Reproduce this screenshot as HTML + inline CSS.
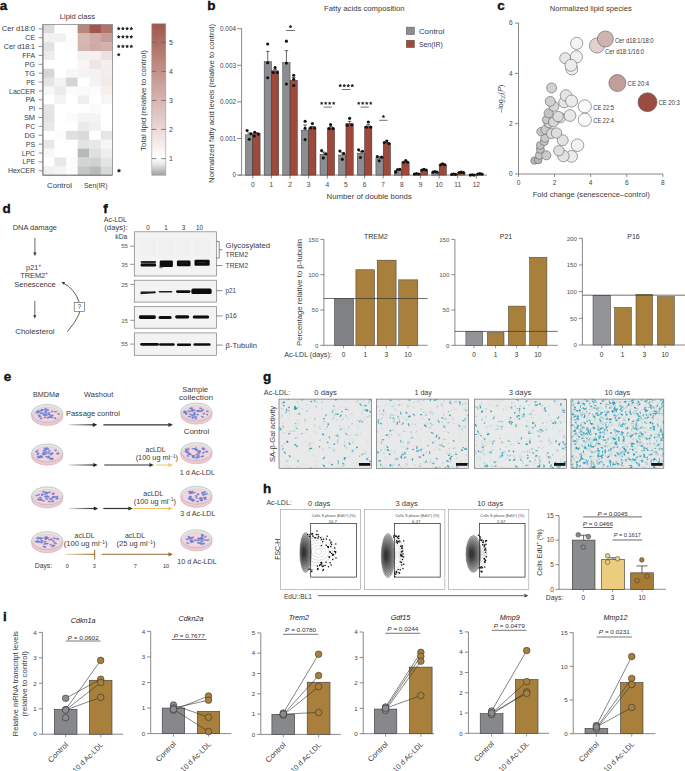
<!DOCTYPE html>
<html><head><meta charset="utf-8"><title>Figure</title>
<style>
html,body{margin:0;padding:0;background:#fff;}
svg{display:block;}
text{font-family:"Liberation Sans",sans-serif;}
</style></head>
<body>
<svg width="685" height="771" viewBox="0 0 685 771" font-family="Liberation Sans, sans-serif">
<rect width="685" height="771" fill="#fff"/>
<text x="-0.3" y="9.5" font-size="13.5" font-weight="bold" fill="#111" stroke="#111" stroke-width="0.35">a</text>
<text x="77.40" y="18.76" font-size="7.4" fill="#3a3a3a" text-anchor="middle" textLength="35.30" lengthAdjust="spacingAndGlyphs">Lipid class</text>
<rect x="42.90" y="24.40" width="11.88" height="9.17" fill="#dcdcdc" />
<rect x="54.48" y="24.40" width="11.88" height="9.17" fill="#ffffff" />
<rect x="66.07" y="24.40" width="11.88" height="9.17" fill="#fdfdfd" />
<rect x="77.65" y="24.40" width="11.88" height="9.17" fill="#ba857d" />
<rect x="89.23" y="24.40" width="11.88" height="9.17" fill="#a0564a" />
<rect x="100.82" y="24.40" width="11.88" height="9.17" fill="#b2736b" />
<rect x="42.90" y="33.27" width="11.88" height="9.17" fill="#f0f1f1" />
<rect x="54.48" y="33.27" width="11.88" height="9.17" fill="#f1f1f1" />
<rect x="66.07" y="33.27" width="11.88" height="9.17" fill="#fdfdfd" />
<rect x="77.65" y="33.27" width="11.88" height="9.17" fill="#d5b8b4" />
<rect x="89.23" y="33.27" width="11.88" height="9.17" fill="#cdaca7" />
<rect x="100.82" y="33.27" width="11.88" height="9.17" fill="#c59c97" />
<rect x="42.90" y="42.14" width="11.88" height="9.17" fill="#e2e2e2" />
<rect x="54.48" y="42.14" width="11.88" height="9.17" fill="#ffffff" />
<rect x="66.07" y="42.14" width="11.88" height="9.17" fill="#fdfdfd" />
<rect x="77.65" y="42.14" width="11.88" height="9.17" fill="#d3b4b0" />
<rect x="89.23" y="42.14" width="11.88" height="9.17" fill="#cfaba6" />
<rect x="100.82" y="42.14" width="11.88" height="9.17" fill="#d2b1ad" />
<rect x="42.90" y="51.01" width="11.88" height="9.17" fill="#ececec" />
<rect x="54.48" y="51.01" width="11.88" height="9.17" fill="#ffffff" />
<rect x="66.07" y="51.01" width="11.88" height="9.17" fill="#ffffff" />
<rect x="77.65" y="51.01" width="11.88" height="9.17" fill="#f2f0f0" />
<rect x="89.23" y="51.01" width="11.88" height="9.17" fill="#f4f0ef" />
<rect x="100.82" y="51.01" width="11.88" height="9.17" fill="#ece1df" />
<rect x="42.90" y="59.88" width="11.88" height="9.17" fill="#ffffff" />
<rect x="54.48" y="59.88" width="11.88" height="9.17" fill="#ffffff" />
<rect x="66.07" y="59.88" width="11.88" height="9.17" fill="#ffffff" />
<rect x="77.65" y="59.88" width="11.88" height="9.17" fill="#f8f6f6" />
<rect x="89.23" y="59.88" width="11.88" height="9.17" fill="#efe5e3" />
<rect x="100.82" y="59.88" width="11.88" height="9.17" fill="#f4efee" />
<rect x="42.90" y="68.75" width="11.88" height="9.17" fill="#d6d6d6" />
<rect x="54.48" y="68.75" width="11.88" height="9.17" fill="#ffffff" />
<rect x="66.07" y="68.75" width="11.88" height="9.17" fill="#f7f7f7" />
<rect x="77.65" y="68.75" width="11.88" height="9.17" fill="#f4f4f4" />
<rect x="89.23" y="68.75" width="11.88" height="9.17" fill="#f4f3f3" />
<rect x="100.82" y="68.75" width="11.88" height="9.17" fill="#f3eeed" />
<rect x="42.90" y="77.62" width="11.88" height="9.17" fill="#e4e4e4" />
<rect x="54.48" y="77.62" width="11.88" height="9.17" fill="#f3f3f3" />
<rect x="66.07" y="77.62" width="11.88" height="9.17" fill="#d4d6d5" />
<rect x="77.65" y="77.62" width="11.88" height="9.17" fill="#ffffff" />
<rect x="89.23" y="77.62" width="11.88" height="9.17" fill="#f5f3f3" />
<rect x="100.82" y="77.62" width="11.88" height="9.17" fill="#f2ebe9" />
<rect x="42.90" y="86.49" width="11.88" height="9.17" fill="#f7f8f8" />
<rect x="54.48" y="86.49" width="11.88" height="9.17" fill="#ebebeb" />
<rect x="66.07" y="86.49" width="11.88" height="9.17" fill="#fbfbfb" />
<rect x="77.65" y="86.49" width="11.88" height="9.17" fill="#fafafa" />
<rect x="89.23" y="86.49" width="11.88" height="9.17" fill="#fcfcfc" />
<rect x="100.82" y="86.49" width="11.88" height="9.17" fill="#f5efee" />
<rect x="42.90" y="95.36" width="11.88" height="9.17" fill="#ffffff" />
<rect x="54.48" y="95.36" width="11.88" height="9.17" fill="#f1f3f5" />
<rect x="66.07" y="95.36" width="11.88" height="9.17" fill="#ffffff" />
<rect x="77.65" y="95.36" width="11.88" height="9.17" fill="#efefed" />
<rect x="89.23" y="95.36" width="11.88" height="9.17" fill="#ffffff" />
<rect x="100.82" y="95.36" width="11.88" height="9.17" fill="#f6f6f6" />
<rect x="42.90" y="104.24" width="11.88" height="9.17" fill="#e4e4e4" />
<rect x="54.48" y="104.24" width="11.88" height="9.17" fill="#ffffff" />
<rect x="66.07" y="104.24" width="11.88" height="9.17" fill="#ffffff" />
<rect x="77.65" y="104.24" width="11.88" height="9.17" fill="#ffffff" />
<rect x="89.23" y="104.24" width="11.88" height="9.17" fill="#fafbfa" />
<rect x="100.82" y="104.24" width="11.88" height="9.17" fill="#ffffff" />
<rect x="42.90" y="113.11" width="11.88" height="9.17" fill="#e3e3e3" />
<rect x="54.48" y="113.11" width="11.88" height="9.17" fill="#ffffff" />
<rect x="66.07" y="113.11" width="11.88" height="9.17" fill="#fcfcfc" />
<rect x="77.65" y="113.11" width="11.88" height="9.17" fill="#f4f4f4" />
<rect x="89.23" y="113.11" width="11.88" height="9.17" fill="#f3f4f4" />
<rect x="100.82" y="113.11" width="11.88" height="9.17" fill="#ffffff" />
<rect x="42.90" y="121.98" width="11.88" height="9.17" fill="#e8e8e8" />
<rect x="54.48" y="121.98" width="11.88" height="9.17" fill="#ffffff" />
<rect x="66.07" y="121.98" width="11.88" height="9.17" fill="#ffffff" />
<rect x="77.65" y="121.98" width="11.88" height="9.17" fill="#eaeaea" />
<rect x="89.23" y="121.98" width="11.88" height="9.17" fill="#f0f0f0" />
<rect x="100.82" y="121.98" width="11.88" height="9.17" fill="#ffffff" />
<rect x="42.90" y="130.85" width="11.88" height="9.17" fill="#ffffff" />
<rect x="54.48" y="130.85" width="11.88" height="9.17" fill="#fcfcfc" />
<rect x="66.07" y="130.85" width="11.88" height="9.17" fill="#e0e0e0" />
<rect x="77.65" y="130.85" width="11.88" height="9.17" fill="#d9dbdb" />
<rect x="89.23" y="130.85" width="11.88" height="9.17" fill="#ffffff" />
<rect x="100.82" y="130.85" width="11.88" height="9.17" fill="#e6e6e6" />
<rect x="42.90" y="139.72" width="11.88" height="9.17" fill="#e8e8e8" />
<rect x="54.48" y="139.72" width="11.88" height="9.17" fill="#ffffff" />
<rect x="66.07" y="139.72" width="11.88" height="9.17" fill="#ffffff" />
<rect x="77.65" y="139.72" width="11.88" height="9.17" fill="#e2e4e3" />
<rect x="89.23" y="139.72" width="11.88" height="9.17" fill="#e8e8e8" />
<rect x="100.82" y="139.72" width="11.88" height="9.17" fill="#f5f7f6" />
<rect x="42.90" y="148.59" width="11.88" height="9.17" fill="#f7f9f8" />
<rect x="54.48" y="148.59" width="11.88" height="9.17" fill="#ffffff" />
<rect x="66.07" y="148.59" width="11.88" height="9.17" fill="#ffffff" />
<rect x="77.65" y="148.59" width="11.88" height="9.17" fill="#b4bab7" />
<rect x="89.23" y="148.59" width="11.88" height="9.17" fill="#e0e0e0" />
<rect x="100.82" y="148.59" width="11.88" height="9.17" fill="#efefef" />
<rect x="42.90" y="157.46" width="11.88" height="9.17" fill="#ffffff" />
<rect x="54.48" y="157.46" width="11.88" height="9.17" fill="#e8e8e8" />
<rect x="66.07" y="157.46" width="11.88" height="9.17" fill="#fcfcfc" />
<rect x="77.65" y="157.46" width="11.88" height="9.17" fill="#d3d5d3" />
<rect x="89.23" y="157.46" width="11.88" height="9.17" fill="#cdd3d1" />
<rect x="100.82" y="157.46" width="11.88" height="9.17" fill="#e3e5e4" />
<rect x="42.90" y="166.33" width="11.88" height="9.17" fill="#eff0f0" />
<rect x="54.48" y="166.33" width="11.88" height="9.17" fill="#f5f5f5" />
<rect x="66.07" y="166.33" width="11.88" height="9.17" fill="#fcfcfc" />
<rect x="77.65" y="166.33" width="11.88" height="9.17" fill="#c4c6c5" />
<rect x="89.23" y="166.33" width="11.88" height="9.17" fill="#b9bbbb" />
<rect x="100.82" y="166.33" width="11.88" height="9.17" fill="#d7d9d8" />
<rect x="42.90" y="24.40" width="69.50" height="150.80" fill="none" stroke="#8a8a8a" stroke-width="0.8" />
<line x1="42.90" y1="24.40" x2="42.90" y2="175.20" stroke="#777" stroke-width="0.9" />
<line x1="42.90" y1="175.20" x2="112.40" y2="175.20" stroke="#777" stroke-width="0.9" />
<line x1="38.60" y1="28.84" x2="42.90" y2="28.84" stroke="#777" stroke-width="0.8" />
<text x="35.10" y="31.43" font-size="7.2" fill="#3a3a3a" text-anchor="end" textLength="33.30" lengthAdjust="spacingAndGlyphs">Cer d18:0</text>
<line x1="38.60" y1="37.71" x2="42.90" y2="37.71" stroke="#777" stroke-width="0.8" />
<text x="35.10" y="40.30" font-size="7.2" fill="#3a3a3a" text-anchor="end" textLength="9.80" lengthAdjust="spacingAndGlyphs">CE</text>
<line x1="38.60" y1="46.58" x2="42.90" y2="46.58" stroke="#777" stroke-width="0.8" />
<text x="35.10" y="49.17" font-size="7.2" fill="#3a3a3a" text-anchor="end" textLength="31.30" lengthAdjust="spacingAndGlyphs">Cer d18:1</text>
<line x1="38.60" y1="55.45" x2="42.90" y2="55.45" stroke="#777" stroke-width="0.8" />
<text x="35.10" y="58.04" font-size="7.2" fill="#3a3a3a" text-anchor="end" textLength="12.90" lengthAdjust="spacingAndGlyphs">FFA</text>
<line x1="38.60" y1="64.32" x2="42.90" y2="64.32" stroke="#777" stroke-width="0.8" />
<text x="35.10" y="66.91" font-size="7.2" fill="#3a3a3a" text-anchor="end" textLength="10.30" lengthAdjust="spacingAndGlyphs">PG</text>
<line x1="38.60" y1="73.19" x2="42.90" y2="73.19" stroke="#777" stroke-width="0.8" />
<text x="35.10" y="75.78" font-size="7.2" fill="#3a3a3a" text-anchor="end" textLength="10.30" lengthAdjust="spacingAndGlyphs">TG</text>
<line x1="38.60" y1="82.06" x2="42.90" y2="82.06" stroke="#777" stroke-width="0.8" />
<text x="35.10" y="84.65" font-size="7.2" fill="#3a3a3a" text-anchor="end" textLength="8.80" lengthAdjust="spacingAndGlyphs">PE</text>
<line x1="38.60" y1="90.93" x2="42.90" y2="90.93" stroke="#777" stroke-width="0.8" />
<text x="35.10" y="93.52" font-size="7.2" fill="#3a3a3a" text-anchor="end" textLength="26.10" lengthAdjust="spacingAndGlyphs">LacCER</text>
<line x1="38.60" y1="99.80" x2="42.90" y2="99.80" stroke="#777" stroke-width="0.8" />
<text x="35.10" y="102.39" font-size="7.2" fill="#3a3a3a" text-anchor="end" textLength="9.50" lengthAdjust="spacingAndGlyphs">PA</text>
<line x1="38.60" y1="108.67" x2="42.90" y2="108.67" stroke="#777" stroke-width="0.8" />
<text x="35.10" y="111.26" font-size="7.2" fill="#3a3a3a" text-anchor="end" textLength="6.40" lengthAdjust="spacingAndGlyphs">PI</text>
<line x1="38.60" y1="117.54" x2="42.90" y2="117.54" stroke="#777" stroke-width="0.8" />
<text x="35.10" y="120.13" font-size="7.2" fill="#3a3a3a" text-anchor="end" textLength="11.20" lengthAdjust="spacingAndGlyphs">SM</text>
<line x1="38.60" y1="126.41" x2="42.90" y2="126.41" stroke="#777" stroke-width="0.8" />
<text x="35.10" y="129.00" font-size="7.2" fill="#3a3a3a" text-anchor="end" textLength="9.50" lengthAdjust="spacingAndGlyphs">PC</text>
<line x1="38.60" y1="135.28" x2="42.90" y2="135.28" stroke="#777" stroke-width="0.8" />
<text x="35.10" y="137.87" font-size="7.2" fill="#3a3a3a" text-anchor="end" textLength="10.60" lengthAdjust="spacingAndGlyphs">DG</text>
<line x1="38.60" y1="144.15" x2="42.90" y2="144.15" stroke="#777" stroke-width="0.8" />
<text x="35.10" y="146.74" font-size="7.2" fill="#3a3a3a" text-anchor="end" textLength="9.30" lengthAdjust="spacingAndGlyphs">PS</text>
<line x1="38.60" y1="153.02" x2="42.90" y2="153.02" stroke="#777" stroke-width="0.8" />
<text x="35.10" y="155.62" font-size="7.2" fill="#3a3a3a" text-anchor="end" textLength="13.40" lengthAdjust="spacingAndGlyphs">LPC</text>
<line x1="38.60" y1="161.89" x2="42.90" y2="161.89" stroke="#777" stroke-width="0.8" />
<text x="35.10" y="164.49" font-size="7.2" fill="#3a3a3a" text-anchor="end" textLength="12.50" lengthAdjust="spacingAndGlyphs">LPE</text>
<line x1="38.60" y1="170.76" x2="42.90" y2="170.76" stroke="#777" stroke-width="0.8" />
<text x="35.10" y="173.36" font-size="7.2" fill="#3a3a3a" text-anchor="end" textLength="27.20" lengthAdjust="spacingAndGlyphs">HexCER</text>
<text x="59.60" y="188.00" font-size="7.5" fill="#3a3a3a" text-anchor="middle" textLength="25.00" lengthAdjust="spacingAndGlyphs">Control</text>
<text x="95.80" y="188.00" font-size="7.5" fill="#3a3a3a" text-anchor="middle" textLength="23.50" lengthAdjust="spacingAndGlyphs">Sen(IR)</text>
<polygon points="118.70,26.60 119.35,27.71 120.60,27.98 119.75,28.94 119.88,30.22 118.70,29.70 117.52,30.22 117.65,28.94 116.80,27.98 118.05,27.71" fill="#262626"/>
<polygon points="122.90,26.60 123.55,27.71 124.80,27.98 123.95,28.94 124.08,30.22 122.90,29.70 121.72,30.22 121.85,28.94 121.00,27.98 122.25,27.71" fill="#262626"/>
<polygon points="127.10,26.60 127.75,27.71 129.00,27.98 128.15,28.94 128.28,30.22 127.10,29.70 125.92,30.22 126.05,28.94 125.20,27.98 126.45,27.71" fill="#262626"/>
<polygon points="131.30,26.60 131.95,27.71 133.20,27.98 132.35,28.94 132.48,30.22 131.30,29.70 130.12,30.22 130.25,28.94 129.40,27.98 130.65,27.71" fill="#262626"/>
<polygon points="118.70,34.80 119.35,35.91 120.60,36.18 119.75,37.14 119.88,38.42 118.70,37.90 117.52,38.42 117.65,37.14 116.80,36.18 118.05,35.91" fill="#262626"/>
<polygon points="122.90,34.80 123.55,35.91 124.80,36.18 123.95,37.14 124.08,38.42 122.90,37.90 121.72,38.42 121.85,37.14 121.00,36.18 122.25,35.91" fill="#262626"/>
<polygon points="127.10,34.80 127.75,35.91 129.00,36.18 128.15,37.14 128.28,38.42 127.10,37.90 125.92,38.42 126.05,37.14 125.20,36.18 126.45,35.91" fill="#262626"/>
<polygon points="131.30,34.80 131.95,35.91 133.20,36.18 132.35,37.14 132.48,38.42 131.30,37.90 130.12,38.42 130.25,37.14 129.40,36.18 130.65,35.91" fill="#262626"/>
<polygon points="118.70,44.40 119.35,45.51 120.60,45.78 119.75,46.74 119.88,48.02 118.70,47.50 117.52,48.02 117.65,46.74 116.80,45.78 118.05,45.51" fill="#262626"/>
<polygon points="122.90,44.40 123.55,45.51 124.80,45.78 123.95,46.74 124.08,48.02 122.90,47.50 121.72,48.02 121.85,46.74 121.00,45.78 122.25,45.51" fill="#262626"/>
<polygon points="127.10,44.40 127.75,45.51 129.00,45.78 128.15,46.74 128.28,48.02 127.10,47.50 125.92,48.02 126.05,46.74 125.20,45.78 126.45,45.51" fill="#262626"/>
<polygon points="131.30,44.40 131.95,45.51 133.20,45.78 132.35,46.74 132.48,48.02 131.30,47.50 130.12,48.02 130.25,46.74 129.40,45.78 130.65,45.51" fill="#262626"/>
<polygon points="118.70,52.70 119.35,53.81 120.60,54.08 119.75,55.04 119.88,56.32 118.70,55.80 117.52,56.32 117.65,55.04 116.80,54.08 118.05,53.81" fill="#262626"/>
<polygon points="119.00,168.40 119.74,169.68 121.19,169.99 120.20,171.09 120.35,172.56 119.00,171.96 117.65,172.56 117.80,171.09 116.81,169.99 118.26,169.68" fill="#262626"/>
<defs><linearGradient id="cbg" x1="0" y1="0" x2="0" y2="1">
<stop offset="0" stop-color="#9e574b"/>
<stop offset="0.12" stop-color="#ad6e63"/>
<stop offset="0.31" stop-color="#c2918a"/>
<stop offset="0.50" stop-color="#d6b4af"/>
<stop offset="0.69" stop-color="#ead7d5"/>
<stop offset="0.83" stop-color="#f9f4f4"/>
<stop offset="0.885" stop-color="#ffffff"/>
<stop offset="0.93" stop-color="#e4e6e4"/>
<stop offset="1" stop-color="#9ea19e"/>
</linearGradient></defs>
<rect x="151.80" y="23.80" width="14.00" height="151.40" fill="url(#cbg)" stroke="#999" stroke-width="0.6" />
<line x1="151.80" y1="42.40" x2="156.30" y2="42.40" stroke="#666" stroke-width="0.8" />
<line x1="161.30" y1="42.40" x2="165.80" y2="42.40" stroke="#666" stroke-width="0.8" />
<text x="169.00" y="44.92" font-size="7.0" fill="#444">5</text>
<line x1="151.80" y1="71.40" x2="156.30" y2="71.40" stroke="#666" stroke-width="0.8" />
<line x1="161.30" y1="71.40" x2="165.80" y2="71.40" stroke="#666" stroke-width="0.8" />
<text x="169.00" y="73.92" font-size="7.0" fill="#444">4</text>
<line x1="151.80" y1="100.40" x2="156.30" y2="100.40" stroke="#666" stroke-width="0.8" />
<line x1="161.30" y1="100.40" x2="165.80" y2="100.40" stroke="#666" stroke-width="0.8" />
<text x="169.00" y="102.92" font-size="7.0" fill="#444">3</text>
<line x1="151.80" y1="129.40" x2="156.30" y2="129.40" stroke="#666" stroke-width="0.8" />
<line x1="161.30" y1="129.40" x2="165.80" y2="129.40" stroke="#666" stroke-width="0.8" />
<text x="169.00" y="131.92" font-size="7.0" fill="#444">2</text>
<line x1="151.80" y1="158.60" x2="156.30" y2="158.60" stroke="#666" stroke-width="0.8" />
<line x1="161.30" y1="158.60" x2="165.80" y2="158.60" stroke="#666" stroke-width="0.8" />
<text x="169.00" y="161.12" font-size="7.0" fill="#444">1</text>
<text x="143.80" y="103.06" font-size="7.1" fill="#3a3a3a" text-anchor="middle" textLength="101.00" lengthAdjust="spacingAndGlyphs" transform="rotate(-90 143.80 100.50)">Total lipid (relative to control)</text>
<text x="207.3" y="9.8" font-size="13.5" font-weight="bold" fill="#111" stroke="#111" stroke-width="0.35">b</text>
<text x="364.30" y="10.82" font-size="7.0" fill="#3a3a3a" text-anchor="middle" textLength="80.50" lengthAdjust="spacingAndGlyphs">Fatty acids composition</text>
<line x1="241.60" y1="28.30" x2="241.60" y2="175.10" stroke="#6b6b6b" stroke-width="0.8" />
<line x1="238.50" y1="175.10" x2="487.00" y2="175.10" stroke="#6b6b6b" stroke-width="0.8" />
<line x1="237.10" y1="175.10" x2="241.60" y2="175.10" stroke="#6b6b6b" stroke-width="0.8" />
<text x="236.00" y="177.40" font-size="6.4" fill="#444" text-anchor="end">0</text>
<line x1="237.10" y1="138.50" x2="241.60" y2="138.50" stroke="#6b6b6b" stroke-width="0.8" />
<text x="236.00" y="140.80" font-size="6.4" fill="#444" text-anchor="end">0.001</text>
<line x1="237.10" y1="101.90" x2="241.60" y2="101.90" stroke="#6b6b6b" stroke-width="0.8" />
<text x="236.00" y="104.20" font-size="6.4" fill="#444" text-anchor="end">0.002</text>
<line x1="237.10" y1="65.30" x2="241.60" y2="65.30" stroke="#6b6b6b" stroke-width="0.8" />
<text x="236.00" y="67.60" font-size="6.4" fill="#444" text-anchor="end">0.003</text>
<line x1="237.10" y1="28.70" x2="241.60" y2="28.70" stroke="#6b6b6b" stroke-width="0.8" />
<text x="236.00" y="31.00" font-size="6.4" fill="#444" text-anchor="end">0.004</text>
<text x="211.80" y="105.92" font-size="7.0" fill="#3a3a3a" text-anchor="middle" textLength="159.00" lengthAdjust="spacingAndGlyphs" transform="rotate(-90 211.80 103.40)">Normalized fatty acid levels (relative to control)</text>
<text x="369.20" y="198.96" font-size="7.4" fill="#3a3a3a" text-anchor="middle" textLength="85.20" lengthAdjust="spacingAndGlyphs">Number of double bonds</text>
<line x1="252.80" y1="175.10" x2="252.80" y2="178.60" stroke="#6b6b6b" stroke-width="0.8" />
<text x="252.80" y="187.28" font-size="6.6" fill="#444" text-anchor="middle">0</text>
<line x1="249.15" y1="134.84" x2="249.15" y2="133.01" stroke="#222" stroke-width="0.7" />
<line x1="247.35" y1="133.01" x2="250.95" y2="133.01" stroke="#222" stroke-width="0.7" />
<rect x="245.50" y="134.84" width="7.30" height="40.26" fill="#8b8d90" stroke="#2a2a2a" stroke-width="0.45" />
<line x1="256.45" y1="133.74" x2="256.45" y2="132.64" stroke="#222" stroke-width="0.7" />
<line x1="254.65" y1="132.64" x2="258.25" y2="132.64" stroke="#222" stroke-width="0.7" />
<rect x="252.80" y="133.74" width="7.30" height="41.36" fill="#9d4a3d" stroke="#2a2a2a" stroke-width="0.45" />
<line x1="271.43" y1="175.10" x2="271.43" y2="178.60" stroke="#6b6b6b" stroke-width="0.8" />
<text x="271.43" y="187.28" font-size="6.6" fill="#444" text-anchor="middle">1</text>
<line x1="267.78" y1="61.64" x2="267.78" y2="51.39" stroke="#222" stroke-width="0.7" />
<line x1="265.98" y1="51.39" x2="269.58" y2="51.39" stroke="#222" stroke-width="0.7" />
<rect x="264.13" y="61.64" width="7.30" height="113.46" fill="#8b8d90" stroke="#2a2a2a" stroke-width="0.45" />
<line x1="275.08" y1="70.79" x2="275.08" y2="69.33" stroke="#222" stroke-width="0.7" />
<line x1="273.28" y1="69.33" x2="276.88" y2="69.33" stroke="#222" stroke-width="0.7" />
<rect x="271.43" y="70.79" width="7.30" height="104.31" fill="#9d4a3d" stroke="#2a2a2a" stroke-width="0.45" />
<line x1="290.06" y1="175.10" x2="290.06" y2="178.60" stroke="#6b6b6b" stroke-width="0.8" />
<text x="290.06" y="187.28" font-size="6.6" fill="#444" text-anchor="middle">2</text>
<line x1="286.41" y1="62.74" x2="286.41" y2="50.66" stroke="#222" stroke-width="0.7" />
<line x1="284.61" y1="50.66" x2="288.21" y2="50.66" stroke="#222" stroke-width="0.7" />
<rect x="282.76" y="62.74" width="7.30" height="112.36" fill="#8b8d90" stroke="#2a2a2a" stroke-width="0.45" />
<line x1="293.71" y1="80.31" x2="293.71" y2="77.38" stroke="#222" stroke-width="0.7" />
<line x1="291.91" y1="77.38" x2="295.51" y2="77.38" stroke="#222" stroke-width="0.7" />
<rect x="290.06" y="80.31" width="7.30" height="94.79" fill="#9d4a3d" stroke="#2a2a2a" stroke-width="0.45" />
<line x1="308.69" y1="175.10" x2="308.69" y2="178.60" stroke="#6b6b6b" stroke-width="0.8" />
<text x="308.69" y="187.28" font-size="6.6" fill="#444" text-anchor="middle">3</text>
<line x1="305.04" y1="130.08" x2="305.04" y2="124.96" stroke="#222" stroke-width="0.7" />
<line x1="303.24" y1="124.96" x2="306.84" y2="124.96" stroke="#222" stroke-width="0.7" />
<rect x="301.39" y="130.08" width="7.30" height="45.02" fill="#8b8d90" stroke="#2a2a2a" stroke-width="0.45" />
<line x1="312.34" y1="127.89" x2="312.34" y2="126.42" stroke="#222" stroke-width="0.7" />
<line x1="310.54" y1="126.42" x2="314.14" y2="126.42" stroke="#222" stroke-width="0.7" />
<rect x="308.69" y="127.89" width="7.30" height="47.21" fill="#9d4a3d" stroke="#2a2a2a" stroke-width="0.45" />
<line x1="327.32" y1="175.10" x2="327.32" y2="178.60" stroke="#6b6b6b" stroke-width="0.8" />
<text x="327.32" y="187.28" font-size="6.6" fill="#444" text-anchor="middle">4</text>
<line x1="323.67" y1="154.24" x2="323.67" y2="152.04" stroke="#222" stroke-width="0.7" />
<line x1="321.87" y1="152.04" x2="325.47" y2="152.04" stroke="#222" stroke-width="0.7" />
<rect x="320.02" y="154.24" width="7.30" height="20.86" fill="#8b8d90" stroke="#2a2a2a" stroke-width="0.45" />
<line x1="330.97" y1="127.89" x2="330.97" y2="126.42" stroke="#222" stroke-width="0.7" />
<line x1="329.17" y1="126.42" x2="332.77" y2="126.42" stroke="#222" stroke-width="0.7" />
<rect x="327.32" y="127.89" width="7.30" height="47.21" fill="#9d4a3d" stroke="#2a2a2a" stroke-width="0.45" />
<line x1="345.95" y1="175.10" x2="345.95" y2="178.60" stroke="#6b6b6b" stroke-width="0.8" />
<text x="345.95" y="187.28" font-size="6.6" fill="#444" text-anchor="middle">5</text>
<line x1="342.30" y1="154.97" x2="342.30" y2="152.77" stroke="#222" stroke-width="0.7" />
<line x1="340.50" y1="152.77" x2="344.10" y2="152.77" stroke="#222" stroke-width="0.7" />
<rect x="338.65" y="154.97" width="7.30" height="20.13" fill="#8b8d90" stroke="#2a2a2a" stroke-width="0.45" />
<line x1="349.60" y1="123.49" x2="349.60" y2="121.30" stroke="#222" stroke-width="0.7" />
<line x1="347.80" y1="121.30" x2="351.40" y2="121.30" stroke="#222" stroke-width="0.7" />
<rect x="345.95" y="123.49" width="7.30" height="51.61" fill="#9d4a3d" stroke="#2a2a2a" stroke-width="0.45" />
<line x1="364.58" y1="175.10" x2="364.58" y2="178.60" stroke="#6b6b6b" stroke-width="0.8" />
<text x="364.58" y="187.28" font-size="6.6" fill="#444" text-anchor="middle">6</text>
<line x1="360.93" y1="153.14" x2="360.93" y2="151.31" stroke="#222" stroke-width="0.7" />
<line x1="359.13" y1="151.31" x2="362.73" y2="151.31" stroke="#222" stroke-width="0.7" />
<rect x="357.28" y="153.14" width="7.30" height="21.96" fill="#8b8d90" stroke="#2a2a2a" stroke-width="0.45" />
<line x1="368.23" y1="126.42" x2="368.23" y2="124.59" stroke="#222" stroke-width="0.7" />
<line x1="366.43" y1="124.59" x2="370.03" y2="124.59" stroke="#222" stroke-width="0.7" />
<rect x="364.58" y="126.42" width="7.30" height="48.68" fill="#9d4a3d" stroke="#2a2a2a" stroke-width="0.45" />
<line x1="383.21" y1="175.10" x2="383.21" y2="178.60" stroke="#6b6b6b" stroke-width="0.8" />
<text x="383.21" y="187.28" font-size="6.6" fill="#444" text-anchor="middle">7</text>
<line x1="379.56" y1="157.90" x2="379.56" y2="156.80" stroke="#222" stroke-width="0.7" />
<line x1="377.76" y1="156.80" x2="381.36" y2="156.80" stroke="#222" stroke-width="0.7" />
<rect x="375.91" y="157.90" width="7.30" height="17.20" fill="#8b8d90" stroke="#2a2a2a" stroke-width="0.45" />
<line x1="386.86" y1="143.26" x2="386.86" y2="142.53" stroke="#222" stroke-width="0.7" />
<line x1="385.06" y1="142.53" x2="388.66" y2="142.53" stroke="#222" stroke-width="0.7" />
<rect x="383.21" y="143.26" width="7.30" height="31.84" fill="#9d4a3d" stroke="#2a2a2a" stroke-width="0.45" />
<line x1="401.84" y1="175.10" x2="401.84" y2="178.60" stroke="#6b6b6b" stroke-width="0.8" />
<text x="401.84" y="187.28" font-size="6.6" fill="#444" text-anchor="middle">8</text>
<line x1="398.19" y1="170.34" x2="398.19" y2="169.61" stroke="#222" stroke-width="0.7" />
<line x1="396.39" y1="169.61" x2="399.99" y2="169.61" stroke="#222" stroke-width="0.7" />
<rect x="394.54" y="170.34" width="7.30" height="4.76" fill="#8b8d90" stroke="#2a2a2a" stroke-width="0.45" />
<line x1="405.49" y1="162.66" x2="405.49" y2="161.92" stroke="#222" stroke-width="0.7" />
<line x1="403.69" y1="161.92" x2="407.29" y2="161.92" stroke="#222" stroke-width="0.7" />
<rect x="401.84" y="162.66" width="7.30" height="12.44" fill="#9d4a3d" stroke="#2a2a2a" stroke-width="0.45" />
<line x1="420.47" y1="175.10" x2="420.47" y2="178.60" stroke="#6b6b6b" stroke-width="0.8" />
<text x="420.47" y="187.28" font-size="6.6" fill="#444" text-anchor="middle">9</text>
<rect x="413.17" y="174.00" width="7.30" height="1.10" fill="#8b8d90" stroke="#2a2a2a" stroke-width="0.45" />
<rect x="420.47" y="169.98" width="7.30" height="5.12" fill="#9d4a3d" stroke="#2a2a2a" stroke-width="0.45" />
<line x1="439.10" y1="175.10" x2="439.10" y2="178.60" stroke="#6b6b6b" stroke-width="0.8" />
<text x="439.10" y="187.28" font-size="6.6" fill="#444" text-anchor="middle">10</text>
<rect x="431.80" y="172.17" width="7.30" height="2.93" fill="#8b8d90" stroke="#2a2a2a" stroke-width="0.45" />
<line x1="442.75" y1="164.85" x2="442.75" y2="164.12" stroke="#222" stroke-width="0.7" />
<line x1="440.95" y1="164.12" x2="444.55" y2="164.12" stroke="#222" stroke-width="0.7" />
<rect x="439.10" y="164.85" width="7.30" height="10.25" fill="#9d4a3d" stroke="#2a2a2a" stroke-width="0.45" />
<line x1="457.73" y1="175.10" x2="457.73" y2="178.60" stroke="#6b6b6b" stroke-width="0.8" />
<text x="457.73" y="187.28" font-size="6.6" fill="#444" text-anchor="middle">11</text>
<rect x="450.43" y="174.37" width="7.30" height="0.73" fill="#8b8d90" stroke="#2a2a2a" stroke-width="0.45" />
<rect x="457.73" y="172.54" width="7.30" height="2.56" fill="#9d4a3d" stroke="#2a2a2a" stroke-width="0.45" />
<line x1="476.36" y1="175.10" x2="476.36" y2="178.60" stroke="#6b6b6b" stroke-width="0.8" />
<text x="476.36" y="187.28" font-size="6.6" fill="#444" text-anchor="middle">12</text>
<rect x="469.06" y="174.73" width="7.30" height="0.37" fill="#8b8d90" stroke="#2a2a2a" stroke-width="0.45" />
<rect x="476.36" y="174.00" width="7.30" height="1.10" fill="#9d4a3d" stroke="#2a2a2a" stroke-width="0.45" />
<circle cx="247.10" cy="130.45" r="1.55" fill="#111" />
<circle cx="251.00" cy="133.74" r="1.55" fill="#111" />
<circle cx="249.20" cy="139.23" r="1.55" fill="#111" />
<circle cx="254.70" cy="132.28" r="1.55" fill="#111" />
<circle cx="254.40" cy="135.94" r="1.55" fill="#111" />
<circle cx="258.40" cy="134.11" r="1.55" fill="#111" />
<circle cx="267.70" cy="44.07" r="1.55" fill="#111" />
<circle cx="267.70" cy="62.74" r="1.55" fill="#111" />
<circle cx="267.70" cy="77.74" r="1.55" fill="#111" />
<circle cx="273.20" cy="72.62" r="1.55" fill="#111" />
<circle cx="277.30" cy="72.62" r="1.55" fill="#111" />
<circle cx="275.10" cy="67.50" r="1.55" fill="#111" />
<circle cx="286.40" cy="41.14" r="1.55" fill="#111" />
<circle cx="286.40" cy="63.10" r="1.55" fill="#111" />
<circle cx="286.40" cy="83.97" r="1.55" fill="#111" />
<circle cx="293.70" cy="75.18" r="1.55" fill="#111" />
<circle cx="293.70" cy="79.21" r="1.55" fill="#111" />
<circle cx="293.70" cy="85.43" r="1.55" fill="#111" />
<circle cx="305.10" cy="121.30" r="1.55" fill="#111" />
<circle cx="305.10" cy="128.25" r="1.55" fill="#111" />
<circle cx="305.10" cy="139.60" r="1.55" fill="#111" />
<circle cx="310.60" cy="127.89" r="1.55" fill="#111" />
<circle cx="312.40" cy="123.49" r="1.55" fill="#111" />
<circle cx="314.60" cy="127.89" r="1.55" fill="#111" />
<circle cx="321.60" cy="150.58" r="1.55" fill="#111" />
<circle cx="325.80" cy="153.87" r="1.55" fill="#111" />
<circle cx="323.30" cy="157.90" r="1.55" fill="#111" />
<circle cx="329.20" cy="128.62" r="1.55" fill="#111" />
<circle cx="330.60" cy="124.59" r="1.55" fill="#111" />
<circle cx="333.10" cy="128.62" r="1.55" fill="#111" />
<circle cx="339.90" cy="150.94" r="1.55" fill="#111" />
<circle cx="343.80" cy="153.51" r="1.55" fill="#111" />
<circle cx="342.30" cy="159.36" r="1.55" fill="#111" />
<circle cx="347.20" cy="125.32" r="1.55" fill="#111" />
<circle cx="349.60" cy="118.37" r="1.55" fill="#111" />
<circle cx="351.60" cy="124.96" r="1.55" fill="#111" />
<circle cx="358.60" cy="149.85" r="1.55" fill="#111" />
<circle cx="362.50" cy="151.31" r="1.55" fill="#111" />
<circle cx="360.50" cy="157.53" r="1.55" fill="#111" />
<circle cx="366.40" cy="127.15" r="1.55" fill="#111" />
<circle cx="368.30" cy="122.03" r="1.55" fill="#111" />
<circle cx="370.60" cy="127.15" r="1.55" fill="#111" />
<circle cx="377.30" cy="156.43" r="1.55" fill="#111" />
<circle cx="379.20" cy="160.83" r="1.55" fill="#111" />
<circle cx="381.70" cy="157.17" r="1.55" fill="#111" />
<circle cx="384.30" cy="142.53" r="1.55" fill="#111" />
<circle cx="386.70" cy="141.06" r="1.55" fill="#111" />
<circle cx="389.00" cy="143.62" r="1.55" fill="#111" />
<circle cx="395.70" cy="172.17" r="1.55" fill="#111" />
<circle cx="397.60" cy="169.61" r="1.55" fill="#111" />
<circle cx="399.90" cy="169.24" r="1.55" fill="#111" />
<circle cx="403.50" cy="162.29" r="1.55" fill="#111" />
<circle cx="405.80" cy="160.46" r="1.55" fill="#111" />
<circle cx="407.70" cy="162.29" r="1.55" fill="#111" />
<circle cx="414.50" cy="174.00" r="1.55" fill="#111" />
<circle cx="416.50" cy="173.64" r="1.55" fill="#111" />
<circle cx="418.60" cy="174.00" r="1.55" fill="#111" />
<circle cx="422.00" cy="169.98" r="1.55" fill="#111" />
<circle cx="424.00" cy="169.24" r="1.55" fill="#111" />
<circle cx="426.20" cy="169.98" r="1.55" fill="#111" />
<circle cx="433.00" cy="172.17" r="1.55" fill="#111" />
<circle cx="435.00" cy="171.44" r="1.55" fill="#111" />
<circle cx="437.00" cy="172.17" r="1.55" fill="#111" />
<circle cx="440.60" cy="164.85" r="1.55" fill="#111" />
<circle cx="442.60" cy="163.75" r="1.55" fill="#111" />
<circle cx="444.80" cy="164.85" r="1.55" fill="#111" />
<circle cx="451.80" cy="174.37" r="1.55" fill="#111" />
<circle cx="453.60" cy="174.00" r="1.55" fill="#111" />
<circle cx="455.60" cy="174.37" r="1.55" fill="#111" />
<circle cx="459.20" cy="172.54" r="1.55" fill="#111" />
<circle cx="461.20" cy="172.17" r="1.55" fill="#111" />
<circle cx="463.40" cy="172.54" r="1.55" fill="#111" />
<circle cx="470.30" cy="175.10" r="1.55" fill="#111" />
<circle cx="472.20" cy="174.73" r="1.55" fill="#111" />
<circle cx="474.20" cy="175.10" r="1.55" fill="#111" />
<circle cx="477.80" cy="174.00" r="1.55" fill="#111" />
<circle cx="479.80" cy="173.64" r="1.55" fill="#111" />
<circle cx="482.00" cy="174.00" r="1.55" fill="#111" />
<line x1="286.10" y1="30.50" x2="294.90" y2="30.50" stroke="#333" stroke-width="0.7" />
<polygon points="290.50,24.80 291.11,25.85 292.31,26.11 291.49,27.02 291.62,28.24 290.50,27.74 289.38,28.24 289.51,27.02 288.69,26.11 289.89,25.85" fill="#262626"/>
<line x1="323.60" y1="107.10" x2="331.80" y2="107.10" stroke="#333" stroke-width="0.7" />
<polygon points="321.70,101.40 322.31,102.45 323.51,102.71 322.69,103.62 322.82,104.84 321.70,104.34 320.58,104.84 320.71,103.62 319.89,102.71 321.09,102.45" fill="#262626"/>
<polygon points="325.70,101.40 326.31,102.45 327.51,102.71 326.69,103.62 326.82,104.84 325.70,104.34 324.58,104.84 324.71,103.62 323.89,102.71 325.09,102.45" fill="#262626"/>
<polygon points="329.70,101.40 330.31,102.45 331.51,102.71 330.69,103.62 330.82,104.84 329.70,104.34 328.58,104.84 328.71,103.62 327.89,102.71 329.09,102.45" fill="#262626"/>
<polygon points="333.70,101.40 334.31,102.45 335.51,102.71 334.69,103.62 334.82,104.84 333.70,104.34 332.58,104.84 332.71,103.62 331.89,102.71 333.09,102.45" fill="#262626"/>
<line x1="342.00" y1="89.50" x2="350.50" y2="89.50" stroke="#333" stroke-width="0.7" />
<polygon points="340.25,83.80 340.86,84.85 342.06,85.11 341.24,86.02 341.37,87.24 340.25,86.75 339.13,87.24 339.26,86.02 338.44,85.11 339.64,84.85" fill="#262626"/>
<polygon points="344.25,83.80 344.86,84.85 346.06,85.11 345.24,86.02 345.37,87.24 344.25,86.75 343.13,87.24 343.26,86.02 342.44,85.11 343.64,84.85" fill="#262626"/>
<polygon points="348.25,83.80 348.86,84.85 350.06,85.11 349.24,86.02 349.37,87.24 348.25,86.75 347.13,87.24 347.26,86.02 346.44,85.11 347.64,84.85" fill="#262626"/>
<polygon points="352.25,83.80 352.86,84.85 354.06,85.11 353.24,86.02 353.37,87.24 352.25,86.75 351.13,87.24 351.26,86.02 350.44,85.11 351.64,84.85" fill="#262626"/>
<line x1="360.60" y1="107.10" x2="368.90" y2="107.10" stroke="#333" stroke-width="0.7" />
<polygon points="358.75,101.40 359.36,102.45 360.56,102.71 359.74,103.62 359.87,104.84 358.75,104.34 357.63,104.84 357.76,103.62 356.94,102.71 358.14,102.45" fill="#262626"/>
<polygon points="362.75,101.40 363.36,102.45 364.56,102.71 363.74,103.62 363.87,104.84 362.75,104.34 361.63,104.84 361.76,103.62 360.94,102.71 362.14,102.45" fill="#262626"/>
<polygon points="366.75,101.40 367.36,102.45 368.56,102.71 367.74,103.62 367.87,104.84 366.75,104.34 365.63,104.84 365.76,103.62 364.94,102.71 366.14,102.45" fill="#262626"/>
<polygon points="370.75,101.40 371.36,102.45 372.56,102.71 371.74,103.62 371.87,104.84 370.75,104.34 369.63,104.84 369.76,103.62 368.94,102.71 370.14,102.45" fill="#262626"/>
<line x1="379.20" y1="120.30" x2="387.60" y2="120.30" stroke="#333" stroke-width="0.7" />
<polygon points="383.40,114.60 384.01,115.65 385.21,115.91 384.39,116.82 384.52,118.04 383.40,117.55 382.28,118.04 382.41,116.82 381.59,115.91 382.79,115.65" fill="#262626"/>
<rect x="406.30" y="27.10" width="8.20" height="7.60" fill="#8b8d90" stroke="#444" stroke-width="0.4" />
<rect x="406.30" y="40.20" width="8.20" height="7.40" fill="#9d4a3d" stroke="#444" stroke-width="0.4" />
<text x="418.90" y="33.66" font-size="7.4" fill="#3a3a3a" textLength="25.50" lengthAdjust="spacingAndGlyphs">Control</text>
<text x="418.90" y="46.66" font-size="7.4" fill="#3a3a3a" textLength="23.80" lengthAdjust="spacingAndGlyphs">Sen(IR)</text>
<text x="497.2" y="9.6" font-size="13.5" font-weight="bold" fill="#111" stroke="#111" stroke-width="0.35">c</text>
<text x="590.70" y="10.89" font-size="7.2" fill="#3a3a3a" text-anchor="middle" textLength="82.00" lengthAdjust="spacingAndGlyphs">Normalized lipid species</text>
<line x1="518.50" y1="22.70" x2="518.50" y2="174.00" stroke="#6b6b6b" stroke-width="0.8" />
<line x1="518.50" y1="174.00" x2="662.90" y2="174.00" stroke="#6b6b6b" stroke-width="0.8" />
<line x1="518.50" y1="174.00" x2="518.50" y2="177.00" stroke="#6b6b6b" stroke-width="0.8" />
<text x="518.50" y="185.08" font-size="6.6" fill="#444" text-anchor="middle">0</text>
<line x1="554.60" y1="174.00" x2="554.60" y2="177.00" stroke="#6b6b6b" stroke-width="0.8" />
<text x="554.60" y="185.08" font-size="6.6" fill="#444" text-anchor="middle">2</text>
<line x1="590.70" y1="174.00" x2="590.70" y2="177.00" stroke="#6b6b6b" stroke-width="0.8" />
<text x="590.70" y="185.08" font-size="6.6" fill="#444" text-anchor="middle">4</text>
<line x1="626.80" y1="174.00" x2="626.80" y2="177.00" stroke="#6b6b6b" stroke-width="0.8" />
<text x="626.80" y="185.08" font-size="6.6" fill="#444" text-anchor="middle">6</text>
<line x1="662.90" y1="174.00" x2="662.90" y2="177.00" stroke="#6b6b6b" stroke-width="0.8" />
<text x="662.90" y="185.08" font-size="6.6" fill="#444" text-anchor="middle">8</text>
<line x1="515.00" y1="174.00" x2="518.50" y2="174.00" stroke="#6b6b6b" stroke-width="0.8" />
<text x="510.80" y="176.38" font-size="6.6" fill="#444" text-anchor="middle">0</text>
<line x1="515.00" y1="123.70" x2="518.50" y2="123.70" stroke="#6b6b6b" stroke-width="0.8" />
<text x="510.80" y="126.08" font-size="6.6" fill="#444" text-anchor="middle">2</text>
<line x1="515.00" y1="73.40" x2="518.50" y2="73.40" stroke="#6b6b6b" stroke-width="0.8" />
<text x="510.80" y="75.78" font-size="6.6" fill="#444" text-anchor="middle">4</text>
<line x1="515.00" y1="23.10" x2="518.50" y2="23.10" stroke="#6b6b6b" stroke-width="0.8" />
<text x="510.80" y="25.48" font-size="6.6" fill="#444" text-anchor="middle">6</text>
<text x="591.20" y="196.74" font-size="7.6" fill="#3a3a3a" text-anchor="middle" textLength="117.00" lengthAdjust="spacingAndGlyphs">Fold change (senescence–control)</text>
<text x="0" y="2.5" font-size="7.2" fill="#3a3a3a" text-anchor="middle" transform="translate(500.9 98.7) rotate(-90)">–log<tspan font-size="4.6" dy="1.6">10</tspan><tspan dy="-1.6">(</tspan><tspan font-style="italic">P</tspan>)</text>
<circle cx="534.50" cy="160.60" r="3.70" fill="#b8b9bb" stroke="#555" stroke-width="0.55" />
<circle cx="538.10" cy="159.90" r="3.90" fill="#b5b6b8" stroke="#555" stroke-width="0.55" />
<circle cx="539.40" cy="155.30" r="4.00" fill="#c6c7c9" stroke="#555" stroke-width="0.55" />
<circle cx="546.30" cy="155.30" r="4.60" fill="#c9cacc" stroke="#555" stroke-width="0.55" />
<circle cx="540.40" cy="149.40" r="4.00" fill="#c0c1c3" stroke="#555" stroke-width="0.55" />
<circle cx="540.40" cy="145.40" r="4.00" fill="#bfc0c2" stroke="#555" stroke-width="0.55" />
<circle cx="544.30" cy="141.50" r="4.00" fill="#c5c6c8" stroke="#555" stroke-width="0.55" />
<circle cx="571.60" cy="156.40" r="5.90" fill="#ebebeb" stroke="#555" stroke-width="0.55" />
<circle cx="563.40" cy="156.00" r="5.80" fill="#e2e2e3" stroke="#555" stroke-width="0.55" />
<circle cx="558.80" cy="150.70" r="5.20" fill="#dedfe0" stroke="#555" stroke-width="0.55" />
<circle cx="577.50" cy="145.20" r="6.30" fill="#f2f2f2" stroke="#555" stroke-width="0.55" />
<circle cx="562.70" cy="140.20" r="5.50" fill="#e2e3e4" stroke="#555" stroke-width="0.55" />
<circle cx="545.00" cy="138.00" r="4.20" fill="#c9cacb" stroke="#555" stroke-width="0.55" />
<circle cx="541.00" cy="131.60" r="4.20" fill="#c4c5c7" stroke="#555" stroke-width="0.55" />
<circle cx="545.60" cy="129.70" r="4.60" fill="#c8c9ca" stroke="#555" stroke-width="0.55" />
<circle cx="551.50" cy="133.60" r="5.00" fill="#dadada" stroke="#555" stroke-width="0.55" />
<circle cx="556.50" cy="133.00" r="5.20" fill="#dddedf" stroke="#555" stroke-width="0.55" />
<circle cx="548.90" cy="123.10" r="4.80" fill="#cfd0d1" stroke="#555" stroke-width="0.55" />
<circle cx="546.30" cy="119.80" r="4.00" fill="#c9cacb" stroke="#555" stroke-width="0.55" />
<circle cx="553.50" cy="122.00" r="5.00" fill="#d4d5d6" stroke="#555" stroke-width="0.55" />
<circle cx="560.50" cy="117.80" r="5.00" fill="#dddddd" stroke="#555" stroke-width="0.55" />
<circle cx="558.10" cy="116.50" r="5.20" fill="#dcdcdc" stroke="#555" stroke-width="0.55" />
<circle cx="570.00" cy="115.50" r="5.90" fill="#e7e8e9" stroke="#555" stroke-width="0.55" />
<circle cx="548.60" cy="113.30" r="4.60" fill="#c3c4c6" stroke="#555" stroke-width="0.55" />
<circle cx="553.90" cy="106.30" r="5.00" fill="#d5d6d8" stroke="#555" stroke-width="0.55" />
<circle cx="550.20" cy="101.40" r="5.00" fill="#cfcfd1" stroke="#555" stroke-width="0.55" />
<circle cx="564.30" cy="102.30" r="5.50" fill="#e6e6e6" stroke="#555" stroke-width="0.55" />
<circle cx="566.00" cy="95.50" r="5.80" fill="#e4e4e5" stroke="#555" stroke-width="0.55" />
<circle cx="571.60" cy="101.00" r="6.00" fill="#ececec" stroke="#555" stroke-width="0.55" />
<circle cx="584.80" cy="106.40" r="6.60" fill="#fafafa" stroke="#555" stroke-width="0.55" />
<circle cx="584.80" cy="119.80" r="6.60" fill="#fbfbfb" stroke="#555" stroke-width="0.55" />
<circle cx="551.60" cy="87.90" r="5.00" fill="#d0d1d3" stroke="#555" stroke-width="0.55" />
<circle cx="571.80" cy="68.90" r="6.00" fill="#f0f0f0" stroke="#555" stroke-width="0.55" />
<circle cx="565.20" cy="58.20" r="5.50" fill="#e6e7e8" stroke="#555" stroke-width="0.55" />
<circle cx="576.40" cy="56.80" r="6.10" fill="#efefef" stroke="#555" stroke-width="0.55" />
<circle cx="571.00" cy="65.30" r="6.00" fill="#ececec" stroke="#555" stroke-width="0.55" />
<circle cx="576.70" cy="43.40" r="6.10" fill="#f4f4f4" stroke="#555" stroke-width="0.55" />
<circle cx="597.00" cy="45.50" r="7.60" fill="#e2d2cf" stroke="#555" stroke-width="0.55" />
<circle cx="605.40" cy="39.00" r="8.00" fill="#cdb4b0" stroke="#555" stroke-width="0.55" />
<circle cx="617.40" cy="83.10" r="8.50" fill="#c39d98" stroke="#555" stroke-width="0.55" />
<circle cx="647.50" cy="102.20" r="9.50" fill="#9b4c40" stroke="#555" stroke-width="0.55" />
<text x="614.90" y="42.85" font-size="6.8" fill="#3a3a3a" textLength="38.70" lengthAdjust="spacingAndGlyphs">Cer d18:1/18:0</text>
<text x="605.00" y="53.85" font-size="6.8" fill="#3a3a3a" textLength="39.10" lengthAdjust="spacingAndGlyphs">Cer d18:1/16:0</text>
<text x="627.60" y="86.45" font-size="6.8" fill="#3a3a3a" textLength="21.60" lengthAdjust="spacingAndGlyphs">CE 20:4</text>
<text x="658.40" y="105.35" font-size="6.8" fill="#3a3a3a" textLength="21.50" lengthAdjust="spacingAndGlyphs">CE 20:3</text>
<text x="593.30" y="110.05" font-size="6.8" fill="#3a3a3a" textLength="20.60" lengthAdjust="spacingAndGlyphs">CE 22:5</text>
<text x="593.30" y="123.15" font-size="6.8" fill="#3a3a3a" textLength="20.60" lengthAdjust="spacingAndGlyphs">CE 22:4</text>
<text x="2.5" y="212.6" font-size="13.5" font-weight="bold" fill="#111" stroke="#111" stroke-width="0.35">d</text>
<text x="34.85" y="229.76" font-size="7.4" fill="#3a3a3a" text-anchor="middle" textLength="44.30" lengthAdjust="spacingAndGlyphs">DNA damage</text>
<line x1="34.90" y1="238.00" x2="34.90" y2="253.00" stroke="#444" stroke-width="0.8" />
<path d="M34.90,256.00 L33.27,252.60 L36.53,252.60 Z" fill="#333"/>
<text x="33.6" y="269.8" font-size="7.4" fill="#3a3a3a" text-anchor="middle">p21<tspan font-size="4.5" dy="-3">+</tspan></text>
<text x="34.0" y="278.4" font-size="7.4" fill="#3a3a3a" text-anchor="middle">TREM2<tspan font-size="4.5" dy="-3">+</tspan></text>
<text x="35.00" y="287.30" font-size="7.5" fill="#3a3a3a" text-anchor="middle" textLength="41.40" lengthAdjust="spacingAndGlyphs">Senescence</text>
<line x1="34.80" y1="300.90" x2="34.80" y2="315.50" stroke="#444" stroke-width="0.8" />
<path d="M34.80,318.60 L33.17,315.20 L36.43,315.20 Z" fill="#333"/>
<text x="34.95" y="333.66" font-size="7.4" fill="#3a3a3a" text-anchor="middle" textLength="39.30" lengthAdjust="spacingAndGlyphs">Cholesterol</text>
<path d="M67.4,331.7 Q84,312 79.8,302.5" fill="none" stroke="#333" stroke-width="0.8" />
<path d="M79.2,302.5 Q75,289 63.5,283.2" fill="none" stroke="#333" stroke-width="0.8" />
<path d="M61.50,282.00 L65.05,281.96 L63.75,284.74 Z" fill="#333"/>
<rect x="74.20" y="302.50" width="10.40" height="9.10" fill="#fff" stroke="#555" stroke-width="0.6" />
<text x="79.40" y="309.44" font-size="6.5" fill="#333" text-anchor="middle">?</text>
<text x="103.2" y="212.6" font-size="13.5" font-weight="bold" fill="#111" stroke="#111" stroke-width="0.35">f</text>
<text x="103.80" y="221.95" font-size="6.8" fill="#3a3a3a" textLength="23.20" lengthAdjust="spacingAndGlyphs">Ac-LDL</text>
<text x="104.30" y="230.25" font-size="6.8" fill="#3a3a3a" textLength="23.50" lengthAdjust="spacingAndGlyphs">(days):</text>
<text x="127.40" y="238.95" font-size="6.8" fill="#3a3a3a" text-anchor="end">kDa</text>
<text x="148.10" y="229.57" font-size="6.3" fill="#333" text-anchor="middle">0</text>
<text x="166.00" y="229.57" font-size="6.3" fill="#333" text-anchor="middle">1</text>
<text x="183.60" y="229.57" font-size="6.3" fill="#333" text-anchor="middle">3</text>
<text x="199.60" y="229.57" font-size="6.3" fill="#333" text-anchor="middle">10</text>
<defs><filter id="bl" x="-20%" y="-100%" width="140%" height="300%"><feGaussianBlur stdDeviation="0.45"/></filter></defs>
<rect x="134.30" y="231.80" width="82.10" height="44.20" fill="#f3f3f3" stroke="#7d7d7d" stroke-width="0.7" />
<rect x="134.30" y="280.20" width="82.10" height="21.90" fill="#f3f3f3" stroke="#7d7d7d" stroke-width="0.7" />
<rect x="134.30" y="306.40" width="82.10" height="21.80" fill="#f3f3f3" stroke="#7d7d7d" stroke-width="0.7" />
<rect x="134.30" y="332.90" width="82.10" height="22.40" fill="#f3f3f3" stroke="#7d7d7d" stroke-width="0.7" />
<rect x="140.0" y="238" width="16.0" height="18" fill="#e9e9e9" opacity="0.25"/>
<rect x="158.5" y="238" width="14.5" height="18" fill="#e9e9e9" opacity="0.25"/>
<rect x="176.0" y="238" width="15.0" height="18" fill="#e9e9e9" opacity="0.25"/>
<rect x="194.0" y="238" width="15.5" height="18" fill="#e9e9e9" opacity="0.25"/>
<rect x="140.60" y="261.00" width="15.50" height="2.00" rx="1.2" fill="#2a2a2a" opacity="1.0" filter="url(#bl)"/>
<rect x="140.60" y="263.00" width="15.50" height="1.00" rx="1.2" fill="#777" opacity="1.0" filter="url(#bl)"/>
<rect x="140.60" y="263.80" width="15.50" height="2.70" rx="1.2" fill="#0d0d0d" opacity="1.0" filter="url(#bl)"/>
<rect x="159.70" y="260.50" width="13.20" height="6.50" rx="1.2" fill="#0a0a0a" opacity="1.0" filter="url(#bl)"/>
<rect x="159.00" y="266.00" width="4.00" height="2.20" rx="1.2" fill="#333" opacity="0.6" filter="url(#bl)"/>
<rect x="176.90" y="260.50" width="13.60" height="5.70" rx="1.2" fill="#0d0d0d" opacity="1.0" filter="url(#bl)"/>
<rect x="179.00" y="262.70" width="9.00" height="0.60" rx="1.2" fill="#555" opacity="0.6" filter="url(#bl)"/>
<rect x="194.50" y="259.80" width="15.20" height="6.00" rx="1.2" fill="#0d0d0d" opacity="1.0" filter="url(#bl)"/>
<rect x="197.00" y="261.90" width="9.00" height="0.60" rx="1.2" fill="#666" opacity="0.6" filter="url(#bl)"/>
<path d="M140.5,293.2 L155.5,291.4 L155.5,293.0 L140.5,294.2 Z" fill="#222" filter="url(#bl)"/>
<rect x="140.50" y="291.55" width="15.00" height="1.70" rx="0.85" fill="#1a1a1a" opacity="1.0" filter="url(#bl)"/>
<rect x="158.60" y="291.00" width="13.80" height="1.60" rx="0.80" fill="#222" opacity="1.0" filter="url(#bl)"/>
<rect x="176.00" y="290.15" width="14.50" height="2.90" rx="1.45" fill="#0d0d0d" opacity="1.0" filter="url(#bl)"/>
<rect x="191.40" y="288.60" width="20.20" height="5.40" rx="1.60" fill="#0a0a0a" opacity="1.0" filter="url(#bl)"/>
<rect x="138.90" y="315.30" width="17.00" height="3.60" rx="1.60" fill="#0d0d0d" opacity="1.0" filter="url(#bl)"/>
<rect x="158.50" y="316.10" width="13.20" height="3.00" rx="1.50" fill="#0d0d0d" opacity="1.0" filter="url(#bl)"/>
<rect x="175.10" y="315.20" width="14.20" height="3.20" rx="1.60" fill="#0d0d0d" opacity="1.0" filter="url(#bl)"/>
<rect x="192.70" y="315.50" width="16.50" height="3.00" rx="1.50" fill="#0d0d0d" opacity="1.0" filter="url(#bl)"/>
<rect x="140.20" y="342.95" width="18.70" height="2.70" rx="1.35" fill="#0d0d0d" opacity="1.0" filter="url(#bl)"/>
<rect x="159.00" y="343.25" width="15.70" height="2.50" rx="1.25" fill="#0d0d0d" opacity="1.0" filter="url(#bl)"/>
<rect x="176.90" y="343.50" width="14.20" height="2.40" rx="1.20" fill="#0d0d0d" opacity="1.0" filter="url(#bl)"/>
<rect x="193.50" y="343.30" width="17.10" height="2.40" rx="1.20" fill="#0d0d0d" opacity="1.0" filter="url(#bl)"/>
<line x1="130.20" y1="246.20" x2="134.30" y2="246.20" stroke="#666" stroke-width="0.7" />
<text x="128.00" y="248.40" font-size="6.1" fill="#555" text-anchor="end">55</text>
<line x1="130.20" y1="264.30" x2="134.30" y2="264.30" stroke="#666" stroke-width="0.7" />
<text x="128.00" y="266.50" font-size="6.1" fill="#555" text-anchor="end">35</text>
<line x1="130.20" y1="284.40" x2="134.30" y2="284.40" stroke="#666" stroke-width="0.7" />
<text x="128.00" y="286.60" font-size="6.1" fill="#555" text-anchor="end">25</text>
<line x1="130.20" y1="320.30" x2="134.30" y2="320.30" stroke="#666" stroke-width="0.7" />
<text x="128.00" y="322.50" font-size="6.1" fill="#555" text-anchor="end">15</text>
<line x1="130.20" y1="344.10" x2="134.30" y2="344.10" stroke="#666" stroke-width="0.7" />
<text x="128.00" y="346.30" font-size="6.1" fill="#555" text-anchor="end">55</text>
<line x1="216.50" y1="241.40" x2="219.20" y2="241.40" stroke="#555" stroke-width="0.7" />
<line x1="219.20" y1="241.40" x2="219.20" y2="258.10" stroke="#555" stroke-width="0.7" />
<line x1="216.50" y1="258.10" x2="219.20" y2="258.10" stroke="#555" stroke-width="0.7" />
<line x1="219.20" y1="249.70" x2="222.40" y2="249.70" stroke="#555" stroke-width="0.7" />
<text x="225.60" y="248.19" font-size="7.2" fill="#3a3a3a" textLength="44.60" lengthAdjust="spacingAndGlyphs">Glycosylated</text>
<text x="225.60" y="256.99" font-size="7.2" fill="#3a3a3a" textLength="22.50" lengthAdjust="spacingAndGlyphs">TREM2</text>
<line x1="216.50" y1="265.60" x2="222.50" y2="265.60" stroke="#555" stroke-width="0.7" />
<text x="225.60" y="268.19" font-size="7.2" fill="#3a3a3a" textLength="22.50" lengthAdjust="spacingAndGlyphs">TREM2</text>
<line x1="216.50" y1="290.70" x2="222.50" y2="290.70" stroke="#555" stroke-width="0.7" />
<text x="225.60" y="293.29" font-size="7.2" fill="#3a3a3a" textLength="10.40" lengthAdjust="spacingAndGlyphs">p21</text>
<line x1="216.50" y1="315.90" x2="222.50" y2="315.90" stroke="#555" stroke-width="0.7" />
<text x="225.60" y="318.49" font-size="7.2" fill="#3a3a3a" textLength="11.20" lengthAdjust="spacingAndGlyphs">p16</text>
<line x1="216.50" y1="345.10" x2="222.50" y2="345.10" stroke="#555" stroke-width="0.7" />
<text x="225.60" y="347.69" font-size="7.2" fill="#3a3a3a" textLength="31.40" lengthAdjust="spacingAndGlyphs">β-Tubulin</text>
<text x="299.90" y="294.99" font-size="7.2" fill="#3a3a3a" text-anchor="middle" textLength="107.00" lengthAdjust="spacingAndGlyphs" transform="rotate(-90 299.90 292.40)">Percentage relative to β-tubulin</text>
<text x="284.20" y="357.28" font-size="6.9" fill="#3a3a3a" textLength="47.60" lengthAdjust="spacingAndGlyphs">Ac-LDL (days):</text>
<line x1="323.90" y1="239.40" x2="323.90" y2="345.30" stroke="#6b6b6b" stroke-width="0.8" />
<line x1="323.90" y1="345.30" x2="427.60" y2="345.30" stroke="#6b6b6b" stroke-width="0.8" />
<line x1="320.30" y1="345.30" x2="323.90" y2="345.30" stroke="#6b6b6b" stroke-width="0.8" />
<text x="318.50" y="347.53" font-size="6.2" fill="#555" text-anchor="end">0</text>
<line x1="320.30" y1="310.00" x2="323.90" y2="310.00" stroke="#6b6b6b" stroke-width="0.8" />
<text x="318.50" y="312.23" font-size="6.2" fill="#555" text-anchor="end">50</text>
<line x1="320.30" y1="274.70" x2="323.90" y2="274.70" stroke="#6b6b6b" stroke-width="0.8" />
<text x="318.50" y="276.93" font-size="6.2" fill="#555" text-anchor="end">100</text>
<line x1="320.30" y1="239.40" x2="323.90" y2="239.40" stroke="#6b6b6b" stroke-width="0.8" />
<text x="318.50" y="241.63" font-size="6.2" fill="#555" text-anchor="end">150</text>
<rect x="334.40" y="298.77" width="19.20" height="46.53" fill="#808184" stroke="#3a3a3a" stroke-width="0.5" />
<rect x="355.90" y="269.76" width="18.70" height="75.54" fill="#a8803c" stroke="#3a3a3a" stroke-width="0.5" />
<rect x="377.20" y="260.16" width="18.90" height="85.14" fill="#a8803c" stroke="#3a3a3a" stroke-width="0.5" />
<rect x="398.70" y="279.85" width="19.10" height="65.45" fill="#a8803c" stroke="#3a3a3a" stroke-width="0.5" />
<line x1="323.90" y1="298.50" x2="427.60" y2="298.50" stroke="#333" stroke-width="0.7" />
<text x="375.80" y="239.32" font-size="7.0" fill="#333" text-anchor="middle">TREM2</text>
<line x1="343.50" y1="345.30" x2="343.50" y2="348.30" stroke="#6b6b6b" stroke-width="0.7" />
<text x="343.50" y="357.18" font-size="6.6" fill="#333" text-anchor="middle">0</text>
<line x1="365.30" y1="345.30" x2="365.30" y2="348.30" stroke="#6b6b6b" stroke-width="0.7" />
<text x="365.30" y="357.18" font-size="6.6" fill="#333" text-anchor="middle">1</text>
<line x1="386.30" y1="345.30" x2="386.30" y2="348.30" stroke="#6b6b6b" stroke-width="0.7" />
<text x="386.30" y="357.18" font-size="6.6" fill="#333" text-anchor="middle">3</text>
<line x1="408.00" y1="345.30" x2="408.00" y2="348.30" stroke="#6b6b6b" stroke-width="0.7" />
<text x="408.00" y="357.18" font-size="6.6" fill="#333" text-anchor="middle">10</text>
<line x1="454.90" y1="239.40" x2="454.90" y2="345.30" stroke="#6b6b6b" stroke-width="0.8" />
<line x1="454.90" y1="345.30" x2="557.70" y2="345.30" stroke="#6b6b6b" stroke-width="0.8" />
<line x1="451.30" y1="345.30" x2="454.90" y2="345.30" stroke="#6b6b6b" stroke-width="0.8" />
<text x="449.50" y="347.53" font-size="6.2" fill="#555" text-anchor="end">0</text>
<line x1="451.30" y1="310.00" x2="454.90" y2="310.00" stroke="#6b6b6b" stroke-width="0.8" />
<text x="449.50" y="312.23" font-size="6.2" fill="#555" text-anchor="end">50</text>
<line x1="451.30" y1="274.70" x2="454.90" y2="274.70" stroke="#6b6b6b" stroke-width="0.8" />
<text x="449.50" y="276.93" font-size="6.2" fill="#555" text-anchor="end">100</text>
<line x1="451.30" y1="239.40" x2="454.90" y2="239.40" stroke="#6b6b6b" stroke-width="0.8" />
<text x="449.50" y="241.63" font-size="6.2" fill="#555" text-anchor="end">150</text>
<rect x="465.90" y="331.74" width="16.80" height="13.56" fill="#939497" stroke="#3a3a3a" stroke-width="0.5" />
<rect x="487.40" y="332.45" width="16.60" height="12.85" fill="#a8803c" stroke="#3a3a3a" stroke-width="0.5" />
<rect x="508.40" y="306.12" width="17.00" height="39.18" fill="#a8803c" stroke="#3a3a3a" stroke-width="0.5" />
<rect x="529.60" y="257.33" width="17.30" height="87.97" fill="#a8803c" stroke="#3a3a3a" stroke-width="0.5" />
<line x1="454.90" y1="331.40" x2="557.70" y2="331.40" stroke="#333" stroke-width="0.7" />
<text x="506.00" y="239.32" font-size="7.0" fill="#333" text-anchor="middle">P21</text>
<line x1="474.00" y1="345.30" x2="474.00" y2="348.30" stroke="#6b6b6b" stroke-width="0.7" />
<text x="474.00" y="357.18" font-size="6.6" fill="#333" text-anchor="middle">0</text>
<line x1="495.50" y1="345.30" x2="495.50" y2="348.30" stroke="#6b6b6b" stroke-width="0.7" />
<text x="495.50" y="357.18" font-size="6.6" fill="#333" text-anchor="middle">1</text>
<line x1="516.60" y1="345.30" x2="516.60" y2="348.30" stroke="#6b6b6b" stroke-width="0.7" />
<text x="516.60" y="357.18" font-size="6.6" fill="#333" text-anchor="middle">3</text>
<line x1="537.80" y1="345.30" x2="537.80" y2="348.30" stroke="#6b6b6b" stroke-width="0.7" />
<text x="537.80" y="357.18" font-size="6.6" fill="#333" text-anchor="middle">10</text>
<line x1="582.40" y1="238.30" x2="582.40" y2="345.00" stroke="#6b6b6b" stroke-width="0.8" />
<line x1="582.40" y1="345.00" x2="685.00" y2="345.00" stroke="#6b6b6b" stroke-width="0.8" />
<line x1="578.80" y1="345.00" x2="582.40" y2="345.00" stroke="#6b6b6b" stroke-width="0.8" />
<text x="577.00" y="347.23" font-size="6.2" fill="#555" text-anchor="end">0</text>
<line x1="578.80" y1="318.32" x2="582.40" y2="318.32" stroke="#6b6b6b" stroke-width="0.8" />
<text x="577.00" y="320.56" font-size="6.2" fill="#555" text-anchor="end">50</text>
<line x1="578.80" y1="291.65" x2="582.40" y2="291.65" stroke="#6b6b6b" stroke-width="0.8" />
<text x="577.00" y="293.88" font-size="6.2" fill="#555" text-anchor="end">100</text>
<line x1="578.80" y1="264.98" x2="582.40" y2="264.98" stroke="#6b6b6b" stroke-width="0.8" />
<text x="577.00" y="267.21" font-size="6.2" fill="#555" text-anchor="end">150</text>
<line x1="578.80" y1="238.30" x2="582.40" y2="238.30" stroke="#6b6b6b" stroke-width="0.8" />
<text x="577.00" y="240.53" font-size="6.2" fill="#555" text-anchor="end">200</text>
<rect x="593.00" y="295.38" width="17.50" height="49.62" fill="#939497" stroke="#3a3a3a" stroke-width="0.5" />
<rect x="614.60" y="307.44" width="16.80" height="37.56" fill="#a8803c" stroke="#3a3a3a" stroke-width="0.5" />
<rect x="636.00" y="294.32" width="16.60" height="50.68" fill="#a8803c" stroke="#3a3a3a" stroke-width="0.5" />
<rect x="657.40" y="296.61" width="17.00" height="48.39" fill="#a8803c" stroke="#3a3a3a" stroke-width="0.5" />
<line x1="582.40" y1="295.20" x2="685.00" y2="295.20" stroke="#333" stroke-width="0.7" />
<text x="633.50" y="239.32" font-size="7.0" fill="#333" text-anchor="middle">P16</text>
<line x1="601.70" y1="345.00" x2="601.70" y2="348.00" stroke="#6b6b6b" stroke-width="0.7" />
<text x="601.70" y="357.18" font-size="6.6" fill="#333" text-anchor="middle">0</text>
<line x1="622.50" y1="345.00" x2="622.50" y2="348.00" stroke="#6b6b6b" stroke-width="0.7" />
<text x="622.50" y="357.18" font-size="6.6" fill="#333" text-anchor="middle">1</text>
<line x1="644.30" y1="345.00" x2="644.30" y2="348.00" stroke="#6b6b6b" stroke-width="0.7" />
<text x="644.30" y="357.18" font-size="6.6" fill="#333" text-anchor="middle">3</text>
<line x1="665.10" y1="345.00" x2="665.10" y2="348.00" stroke="#6b6b6b" stroke-width="0.7" />
<text x="665.10" y="357.18" font-size="6.6" fill="#333" text-anchor="middle">10</text>
<defs>
<linearGradient id="gk" x1="0" y1="0" x2="1" y2="0"><stop offset="0" stop-color="#ddd"/><stop offset="1" stop-color="#222"/></linearGradient>
<linearGradient id="gb" x1="0" y1="0" x2="1" y2="0"><stop offset="0" stop-color="#e8d4b0"/><stop offset="1" stop-color="#94692e"/></linearGradient>
</defs>
<text x="3.7" y="381.4" font-size="13.5" font-weight="bold" fill="#111" stroke="#111" stroke-width="0.35">e</text>
<text x="46.20" y="396.86" font-size="7.4" fill="#3a3a3a" text-anchor="middle" textLength="26.30" lengthAdjust="spacingAndGlyphs">BMDMø</text>
<text x="98.70" y="396.86" font-size="7.4" fill="#3a3a3a" text-anchor="middle" textLength="29.20" lengthAdjust="spacingAndGlyphs">Washout</text>
<text x="195.20" y="391.56" font-size="7.4" fill="#3a3a3a" text-anchor="middle" textLength="25.80" lengthAdjust="spacingAndGlyphs">Sample</text>
<text x="196.00" y="399.96" font-size="7.4" fill="#3a3a3a" text-anchor="middle" textLength="33.90" lengthAdjust="spacingAndGlyphs">collection</text>
<path d="M31.60,413.40 L31.60,416.60 A15.6,9.0 0 0 0 62.80,416.60 L62.80,413.40 Z" fill="#f0c8d2" stroke="#c9a1ad" stroke-width="0.5"/>
<ellipse cx="47.20" cy="413.40" rx="15.6" ry="9.0" fill="#e3ebe8" stroke="#9fb0ab" stroke-width="0.6"/>
<ellipse cx="47.20" cy="414.40" rx="14.10" ry="7.30" fill="#f5d4dc" stroke="#dcb3be" stroke-width="0.4"/>
<ellipse cx="42.69" cy="410.04" rx="1.15" ry="0.66" fill="#6f8cdc" stroke="#5770c4" stroke-width="0.25" transform="rotate(8 42.69 410.04)"/>
<ellipse cx="45.50" cy="409.05" rx="1.40" ry="0.75" fill="#6f8cdc" stroke="#5770c4" stroke-width="0.25" transform="rotate(-20 45.50 409.05)"/>
<ellipse cx="49.17" cy="413.04" rx="1.13" ry="0.76" fill="#6f8cdc" stroke="#5770c4" stroke-width="0.25" transform="rotate(24 49.17 413.04)"/>
<ellipse cx="41.81" cy="409.96" rx="1.32" ry="0.74" fill="#6f8cdc" stroke="#5770c4" stroke-width="0.25" transform="rotate(-19 41.81 409.96)"/>
<ellipse cx="39.03" cy="415.30" rx="1.36" ry="0.66" fill="#6f8cdc" stroke="#5770c4" stroke-width="0.25" transform="rotate(7 39.03 415.30)"/>
<ellipse cx="39.67" cy="416.50" rx="1.32" ry="0.68" fill="#6f8cdc" stroke="#5770c4" stroke-width="0.25" transform="rotate(-4 39.67 416.50)"/>
<ellipse cx="46.00" cy="411.86" rx="1.59" ry="0.57" fill="#6f8cdc" stroke="#5770c4" stroke-width="0.25" transform="rotate(15 46.00 411.86)"/>
<ellipse cx="49.11" cy="414.61" rx="1.61" ry="0.59" fill="#6f8cdc" stroke="#5770c4" stroke-width="0.25" transform="rotate(19 49.11 414.61)"/>
<ellipse cx="45.10" cy="417.44" rx="1.44" ry="0.51" fill="#6f8cdc" stroke="#5770c4" stroke-width="0.25" transform="rotate(-17 45.10 417.44)"/>
<ellipse cx="51.51" cy="417.53" rx="1.71" ry="0.59" fill="#6f8cdc" stroke="#5770c4" stroke-width="0.25" transform="rotate(4 51.51 417.53)"/>
<ellipse cx="52.20" cy="415.45" rx="1.42" ry="0.75" fill="#6f8cdc" stroke="#5770c4" stroke-width="0.25" transform="rotate(4 52.20 415.45)"/>
<ellipse cx="58.58" cy="413.98" rx="1.14" ry="0.71" fill="#6f8cdc" stroke="#5770c4" stroke-width="0.25" transform="rotate(8 58.58 413.98)"/>
<ellipse cx="55.44" cy="411.67" rx="1.57" ry="0.51" fill="#6f8cdc" stroke="#5770c4" stroke-width="0.25" transform="rotate(-6 55.44 411.67)"/>
<ellipse cx="46.22" cy="410.25" rx="1.14" ry="0.73" fill="#6f8cdc" stroke="#5770c4" stroke-width="0.25" transform="rotate(-19 46.22 410.25)"/>
<ellipse cx="37.71" cy="411.22" rx="1.71" ry="0.52" fill="#6f8cdc" stroke="#5770c4" stroke-width="0.25" transform="rotate(-5 37.71 411.22)"/>
<ellipse cx="45.90" cy="414.90" rx="1.67" ry="0.76" fill="#6f8cdc" stroke="#5770c4" stroke-width="0.25" transform="rotate(19 45.90 414.90)"/>
<ellipse cx="41.53" cy="413.27" rx="1.72" ry="0.79" fill="#6f8cdc" stroke="#5770c4" stroke-width="0.25" transform="rotate(-7 41.53 413.27)"/>
<ellipse cx="40.34" cy="411.05" rx="1.51" ry="0.58" fill="#6f8cdc" stroke="#5770c4" stroke-width="0.25" transform="rotate(-1 40.34 411.05)"/>
<ellipse cx="43.85" cy="415.11" rx="1.58" ry="0.65" fill="#6f8cdc" stroke="#5770c4" stroke-width="0.25" transform="rotate(23 43.85 415.11)"/>
<ellipse cx="50.21" cy="416.45" rx="1.73" ry="0.73" fill="#6f8cdc" stroke="#5770c4" stroke-width="0.25" transform="rotate(-22 50.21 416.45)"/>
<ellipse cx="44.44" cy="413.07" rx="1.54" ry="0.52" fill="#6f8cdc" stroke="#5770c4" stroke-width="0.25" transform="rotate(-20 44.44 413.07)"/>
<ellipse cx="38.55" cy="412.35" rx="1.10" ry="0.55" fill="#6f8cdc" stroke="#5770c4" stroke-width="0.25" transform="rotate(-22 38.55 412.35)"/>
<ellipse cx="37.00" cy="412.64" rx="1.71" ry="0.68" fill="#6f8cdc" stroke="#5770c4" stroke-width="0.25" transform="rotate(-24 37.00 412.64)"/>
<ellipse cx="38.20" cy="411.28" rx="1.35" ry="0.54" fill="#6f8cdc" stroke="#5770c4" stroke-width="0.25" transform="rotate(-8 38.20 411.28)"/>
<ellipse cx="46.33" cy="414.10" rx="1.17" ry="0.60" fill="#6f8cdc" stroke="#5770c4" stroke-width="0.25" transform="rotate(-21 46.33 414.10)"/>
<ellipse cx="41.18" cy="418.31" rx="1.12" ry="0.79" fill="#6f8cdc" stroke="#5770c4" stroke-width="0.25" transform="rotate(-17 41.18 418.31)"/>
<ellipse cx="47.92" cy="409.99" rx="1.12" ry="0.66" fill="#6f8cdc" stroke="#5770c4" stroke-width="0.25" transform="rotate(2 47.92 409.99)"/>
<ellipse cx="52.22" cy="411.39" rx="1.22" ry="0.73" fill="#6f8cdc" stroke="#5770c4" stroke-width="0.25" transform="rotate(-7 52.22 411.39)"/>
<ellipse cx="48.03" cy="417.70" rx="1.26" ry="0.74" fill="#6f8cdc" stroke="#5770c4" stroke-width="0.25" transform="rotate(-9 48.03 417.70)"/>
<ellipse cx="55.04" cy="418.18" rx="1.26" ry="0.66" fill="#6f8cdc" stroke="#5770c4" stroke-width="0.25" transform="rotate(12 55.04 418.18)"/>
<path d="M31.60,453.00 L31.60,456.20 A15.6,9.0 0 0 0 62.80,456.20 L62.80,453.00 Z" fill="#f0c8d2" stroke="#c9a1ad" stroke-width="0.5"/>
<ellipse cx="47.20" cy="453.00" rx="15.6" ry="9.0" fill="#e3ebe8" stroke="#9fb0ab" stroke-width="0.6"/>
<ellipse cx="47.20" cy="454.00" rx="14.10" ry="7.30" fill="#f5d4dc" stroke="#dcb3be" stroke-width="0.4"/>
<ellipse cx="41.03" cy="456.25" rx="1.41" ry="0.78" fill="#6f8cdc" stroke="#5770c4" stroke-width="0.25" transform="rotate(23 41.03 456.25)"/>
<ellipse cx="43.73" cy="450.49" rx="1.24" ry="0.56" fill="#6f8cdc" stroke="#5770c4" stroke-width="0.25" transform="rotate(-14 43.73 450.49)"/>
<ellipse cx="50.38" cy="458.78" rx="1.44" ry="0.70" fill="#6f8cdc" stroke="#5770c4" stroke-width="0.25" transform="rotate(17 50.38 458.78)"/>
<ellipse cx="51.31" cy="458.90" rx="1.63" ry="0.64" fill="#6f8cdc" stroke="#5770c4" stroke-width="0.25" transform="rotate(14 51.31 458.90)"/>
<ellipse cx="38.97" cy="457.43" rx="1.66" ry="0.79" fill="#6f8cdc" stroke="#5770c4" stroke-width="0.25" transform="rotate(-8 38.97 457.43)"/>
<ellipse cx="44.53" cy="452.70" rx="1.61" ry="0.55" fill="#6f8cdc" stroke="#5770c4" stroke-width="0.25" transform="rotate(22 44.53 452.70)"/>
<ellipse cx="43.37" cy="454.49" rx="1.11" ry="0.79" fill="#6f8cdc" stroke="#5770c4" stroke-width="0.25" transform="rotate(-18 43.37 454.49)"/>
<ellipse cx="51.03" cy="454.22" rx="1.40" ry="0.76" fill="#6f8cdc" stroke="#5770c4" stroke-width="0.25" transform="rotate(22 51.03 454.22)"/>
<ellipse cx="55.55" cy="450.37" rx="1.31" ry="0.57" fill="#6f8cdc" stroke="#5770c4" stroke-width="0.25" transform="rotate(-12 55.55 450.37)"/>
<ellipse cx="49.41" cy="450.96" rx="1.19" ry="0.77" fill="#6f8cdc" stroke="#5770c4" stroke-width="0.25" transform="rotate(-4 49.41 450.96)"/>
<ellipse cx="43.46" cy="453.39" rx="1.73" ry="0.63" fill="#6f8cdc" stroke="#5770c4" stroke-width="0.25" transform="rotate(4 43.46 453.39)"/>
<ellipse cx="57.89" cy="453.92" rx="1.47" ry="0.51" fill="#6f8cdc" stroke="#5770c4" stroke-width="0.25" transform="rotate(2 57.89 453.92)"/>
<ellipse cx="45.67" cy="450.03" rx="1.66" ry="0.55" fill="#6f8cdc" stroke="#5770c4" stroke-width="0.25" transform="rotate(-25 45.67 450.03)"/>
<ellipse cx="46.52" cy="456.65" rx="1.33" ry="0.66" fill="#6f8cdc" stroke="#5770c4" stroke-width="0.25" transform="rotate(3 46.52 456.65)"/>
<ellipse cx="48.62" cy="457.37" rx="1.49" ry="0.57" fill="#6f8cdc" stroke="#5770c4" stroke-width="0.25" transform="rotate(-20 48.62 457.37)"/>
<ellipse cx="41.49" cy="457.22" rx="1.49" ry="0.73" fill="#6f8cdc" stroke="#5770c4" stroke-width="0.25" transform="rotate(0 41.49 457.22)"/>
<ellipse cx="57.76" cy="453.21" rx="1.45" ry="0.65" fill="#6f8cdc" stroke="#5770c4" stroke-width="0.25" transform="rotate(6 57.76 453.21)"/>
<ellipse cx="52.13" cy="453.32" rx="1.43" ry="0.78" fill="#6f8cdc" stroke="#5770c4" stroke-width="0.25" transform="rotate(2 52.13 453.32)"/>
<ellipse cx="52.30" cy="458.49" rx="1.28" ry="0.67" fill="#6f8cdc" stroke="#5770c4" stroke-width="0.25" transform="rotate(22 52.30 458.49)"/>
<ellipse cx="45.72" cy="448.69" rx="1.15" ry="0.70" fill="#6f8cdc" stroke="#5770c4" stroke-width="0.25" transform="rotate(-13 45.72 448.69)"/>
<ellipse cx="38.35" cy="456.54" rx="1.20" ry="0.76" fill="#6f8cdc" stroke="#5770c4" stroke-width="0.25" transform="rotate(8 38.35 456.54)"/>
<ellipse cx="45.45" cy="454.09" rx="1.24" ry="0.60" fill="#6f8cdc" stroke="#5770c4" stroke-width="0.25" transform="rotate(-8 45.45 454.09)"/>
<ellipse cx="48.58" cy="453.17" rx="1.33" ry="0.69" fill="#6f8cdc" stroke="#5770c4" stroke-width="0.25" transform="rotate(-24 48.58 453.17)"/>
<ellipse cx="47.51" cy="448.58" rx="1.65" ry="0.79" fill="#6f8cdc" stroke="#5770c4" stroke-width="0.25" transform="rotate(24 47.51 448.58)"/>
<ellipse cx="37.08" cy="451.04" rx="1.65" ry="0.58" fill="#6f8cdc" stroke="#5770c4" stroke-width="0.25" transform="rotate(-23 37.08 451.04)"/>
<ellipse cx="37.72" cy="452.95" rx="1.67" ry="0.58" fill="#6f8cdc" stroke="#5770c4" stroke-width="0.25" transform="rotate(21 37.72 452.95)"/>
<ellipse cx="49.01" cy="456.35" rx="1.14" ry="0.71" fill="#6f8cdc" stroke="#5770c4" stroke-width="0.25" transform="rotate(-21 49.01 456.35)"/>
<ellipse cx="45.29" cy="448.68" rx="1.54" ry="0.74" fill="#6f8cdc" stroke="#5770c4" stroke-width="0.25" transform="rotate(22 45.29 448.68)"/>
<ellipse cx="46.02" cy="451.94" rx="1.75" ry="0.58" fill="#6f8cdc" stroke="#5770c4" stroke-width="0.25" transform="rotate(3 46.02 451.94)"/>
<ellipse cx="37.71" cy="454.23" rx="1.18" ry="0.55" fill="#6f8cdc" stroke="#5770c4" stroke-width="0.25" transform="rotate(-13 37.71 454.23)"/>
<path d="M31.60,495.80 L31.60,499.00 A15.6,9.0 0 0 0 62.80,499.00 L62.80,495.80 Z" fill="#f0c8d2" stroke="#c9a1ad" stroke-width="0.5"/>
<ellipse cx="47.20" cy="495.80" rx="15.6" ry="9.0" fill="#e3ebe8" stroke="#9fb0ab" stroke-width="0.6"/>
<ellipse cx="47.20" cy="496.80" rx="14.10" ry="7.30" fill="#f5d4dc" stroke="#dcb3be" stroke-width="0.4"/>
<ellipse cx="42.39" cy="494.32" rx="1.30" ry="0.65" fill="#6f8cdc" stroke="#5770c4" stroke-width="0.25" transform="rotate(13 42.39 494.32)"/>
<ellipse cx="38.95" cy="494.83" rx="1.28" ry="0.50" fill="#6f8cdc" stroke="#5770c4" stroke-width="0.25" transform="rotate(-24 38.95 494.83)"/>
<ellipse cx="53.17" cy="497.32" rx="1.43" ry="0.78" fill="#6f8cdc" stroke="#5770c4" stroke-width="0.25" transform="rotate(-16 53.17 497.32)"/>
<ellipse cx="45.46" cy="496.64" rx="1.38" ry="0.65" fill="#6f8cdc" stroke="#5770c4" stroke-width="0.25" transform="rotate(17 45.46 496.64)"/>
<ellipse cx="43.17" cy="500.75" rx="1.55" ry="0.62" fill="#6f8cdc" stroke="#5770c4" stroke-width="0.25" transform="rotate(10 43.17 500.75)"/>
<ellipse cx="53.37" cy="493.72" rx="1.16" ry="0.75" fill="#6f8cdc" stroke="#5770c4" stroke-width="0.25" transform="rotate(-17 53.37 493.72)"/>
<ellipse cx="56.69" cy="498.78" rx="1.27" ry="0.59" fill="#6f8cdc" stroke="#5770c4" stroke-width="0.25" transform="rotate(-11 56.69 498.78)"/>
<ellipse cx="46.16" cy="492.52" rx="1.28" ry="0.79" fill="#6f8cdc" stroke="#5770c4" stroke-width="0.25" transform="rotate(-3 46.16 492.52)"/>
<ellipse cx="42.32" cy="494.95" rx="1.37" ry="0.64" fill="#6f8cdc" stroke="#5770c4" stroke-width="0.25" transform="rotate(-25 42.32 494.95)"/>
<ellipse cx="47.27" cy="493.05" rx="1.10" ry="0.58" fill="#6f8cdc" stroke="#5770c4" stroke-width="0.25" transform="rotate(0 47.27 493.05)"/>
<ellipse cx="36.70" cy="495.47" rx="1.12" ry="0.59" fill="#6f8cdc" stroke="#5770c4" stroke-width="0.25" transform="rotate(-23 36.70 495.47)"/>
<ellipse cx="40.36" cy="497.74" rx="1.63" ry="0.70" fill="#6f8cdc" stroke="#5770c4" stroke-width="0.25" transform="rotate(1 40.36 497.74)"/>
<ellipse cx="52.73" cy="501.32" rx="1.33" ry="0.80" fill="#6f8cdc" stroke="#5770c4" stroke-width="0.25" transform="rotate(-6 52.73 501.32)"/>
<ellipse cx="38.23" cy="499.43" rx="1.13" ry="0.75" fill="#6f8cdc" stroke="#5770c4" stroke-width="0.25" transform="rotate(7 38.23 499.43)"/>
<ellipse cx="57.23" cy="498.25" rx="1.67" ry="0.54" fill="#6f8cdc" stroke="#5770c4" stroke-width="0.25" transform="rotate(12 57.23 498.25)"/>
<ellipse cx="47.81" cy="496.75" rx="1.66" ry="0.75" fill="#6f8cdc" stroke="#5770c4" stroke-width="0.25" transform="rotate(17 47.81 496.75)"/>
<ellipse cx="49.35" cy="501.49" rx="1.59" ry="0.57" fill="#6f8cdc" stroke="#5770c4" stroke-width="0.25" transform="rotate(9 49.35 501.49)"/>
<ellipse cx="43.63" cy="491.88" rx="1.49" ry="0.69" fill="#6f8cdc" stroke="#5770c4" stroke-width="0.25" transform="rotate(17 43.63 491.88)"/>
<ellipse cx="50.43" cy="498.90" rx="1.10" ry="0.74" fill="#6f8cdc" stroke="#5770c4" stroke-width="0.25" transform="rotate(-1 50.43 498.90)"/>
<ellipse cx="53.56" cy="496.74" rx="1.56" ry="0.52" fill="#6f8cdc" stroke="#5770c4" stroke-width="0.25" transform="rotate(2 53.56 496.74)"/>
<ellipse cx="53.26" cy="493.68" rx="1.29" ry="0.72" fill="#6f8cdc" stroke="#5770c4" stroke-width="0.25" transform="rotate(-21 53.26 493.68)"/>
<ellipse cx="39.65" cy="499.63" rx="1.45" ry="0.61" fill="#6f8cdc" stroke="#5770c4" stroke-width="0.25" transform="rotate(24 39.65 499.63)"/>
<ellipse cx="46.66" cy="498.94" rx="1.53" ry="0.69" fill="#6f8cdc" stroke="#5770c4" stroke-width="0.25" transform="rotate(13 46.66 498.94)"/>
<ellipse cx="40.90" cy="499.67" rx="1.50" ry="0.50" fill="#6f8cdc" stroke="#5770c4" stroke-width="0.25" transform="rotate(-10 40.90 499.67)"/>
<ellipse cx="51.60" cy="499.04" rx="1.30" ry="0.65" fill="#6f8cdc" stroke="#5770c4" stroke-width="0.25" transform="rotate(9 51.60 499.04)"/>
<ellipse cx="46.30" cy="496.29" rx="1.73" ry="0.56" fill="#6f8cdc" stroke="#5770c4" stroke-width="0.25" transform="rotate(-19 46.30 496.29)"/>
<ellipse cx="45.91" cy="493.88" rx="1.76" ry="0.56" fill="#6f8cdc" stroke="#5770c4" stroke-width="0.25" transform="rotate(-15 45.91 493.88)"/>
<ellipse cx="49.29" cy="492.33" rx="1.77" ry="0.54" fill="#6f8cdc" stroke="#5770c4" stroke-width="0.25" transform="rotate(1 49.29 492.33)"/>
<ellipse cx="55.40" cy="496.81" rx="1.59" ry="0.57" fill="#6f8cdc" stroke="#5770c4" stroke-width="0.25" transform="rotate(19 55.40 496.81)"/>
<ellipse cx="57.38" cy="496.53" rx="1.10" ry="0.65" fill="#6f8cdc" stroke="#5770c4" stroke-width="0.25" transform="rotate(-24 57.38 496.53)"/>
<path d="M31.60,540.60 L31.60,543.80 A15.6,9.0 0 0 0 62.80,543.80 L62.80,540.60 Z" fill="#f0c8d2" stroke="#c9a1ad" stroke-width="0.5"/>
<ellipse cx="47.20" cy="540.60" rx="15.6" ry="9.0" fill="#e3ebe8" stroke="#9fb0ab" stroke-width="0.6"/>
<ellipse cx="47.20" cy="541.60" rx="14.10" ry="7.30" fill="#f5d4dc" stroke="#dcb3be" stroke-width="0.4"/>
<ellipse cx="45.94" cy="539.08" rx="1.34" ry="0.59" fill="#6f8cdc" stroke="#5770c4" stroke-width="0.25" transform="rotate(-18 45.94 539.08)"/>
<ellipse cx="53.62" cy="545.64" rx="1.75" ry="0.71" fill="#6f8cdc" stroke="#5770c4" stroke-width="0.25" transform="rotate(-19 53.62 545.64)"/>
<ellipse cx="57.48" cy="538.94" rx="1.38" ry="0.80" fill="#6f8cdc" stroke="#5770c4" stroke-width="0.25" transform="rotate(-6 57.48 538.94)"/>
<ellipse cx="49.48" cy="539.80" rx="1.29" ry="0.51" fill="#6f8cdc" stroke="#5770c4" stroke-width="0.25" transform="rotate(-4 49.48 539.80)"/>
<ellipse cx="40.78" cy="538.64" rx="1.23" ry="0.61" fill="#6f8cdc" stroke="#5770c4" stroke-width="0.25" transform="rotate(1 40.78 538.64)"/>
<ellipse cx="55.19" cy="543.10" rx="1.76" ry="0.66" fill="#6f8cdc" stroke="#5770c4" stroke-width="0.25" transform="rotate(21 55.19 543.10)"/>
<ellipse cx="53.15" cy="540.90" rx="1.55" ry="0.59" fill="#6f8cdc" stroke="#5770c4" stroke-width="0.25" transform="rotate(13 53.15 540.90)"/>
<ellipse cx="37.66" cy="541.16" rx="1.31" ry="0.72" fill="#6f8cdc" stroke="#5770c4" stroke-width="0.25" transform="rotate(-8 37.66 541.16)"/>
<ellipse cx="51.19" cy="539.07" rx="1.38" ry="0.55" fill="#6f8cdc" stroke="#5770c4" stroke-width="0.25" transform="rotate(3 51.19 539.07)"/>
<ellipse cx="38.54" cy="537.94" rx="1.45" ry="0.57" fill="#6f8cdc" stroke="#5770c4" stroke-width="0.25" transform="rotate(20 38.54 537.94)"/>
<ellipse cx="45.92" cy="537.10" rx="1.16" ry="0.60" fill="#6f8cdc" stroke="#5770c4" stroke-width="0.25" transform="rotate(-15 45.92 537.10)"/>
<ellipse cx="41.01" cy="542.35" rx="1.62" ry="0.62" fill="#6f8cdc" stroke="#5770c4" stroke-width="0.25" transform="rotate(19 41.01 542.35)"/>
<ellipse cx="45.00" cy="541.79" rx="1.34" ry="0.52" fill="#6f8cdc" stroke="#5770c4" stroke-width="0.25" transform="rotate(-6 45.00 541.79)"/>
<ellipse cx="37.62" cy="541.54" rx="1.70" ry="0.56" fill="#6f8cdc" stroke="#5770c4" stroke-width="0.25" transform="rotate(6 37.62 541.54)"/>
<ellipse cx="41.34" cy="538.43" rx="1.41" ry="0.79" fill="#6f8cdc" stroke="#5770c4" stroke-width="0.25" transform="rotate(-5 41.34 538.43)"/>
<ellipse cx="52.56" cy="546.33" rx="1.51" ry="0.50" fill="#6f8cdc" stroke="#5770c4" stroke-width="0.25" transform="rotate(-1 52.56 546.33)"/>
<ellipse cx="44.42" cy="546.71" rx="1.70" ry="0.79" fill="#6f8cdc" stroke="#5770c4" stroke-width="0.25" transform="rotate(16 44.42 546.71)"/>
<ellipse cx="38.35" cy="541.77" rx="1.76" ry="0.72" fill="#6f8cdc" stroke="#5770c4" stroke-width="0.25" transform="rotate(9 38.35 541.77)"/>
<ellipse cx="50.97" cy="544.73" rx="1.49" ry="0.51" fill="#6f8cdc" stroke="#5770c4" stroke-width="0.25" transform="rotate(-2 50.97 544.73)"/>
<ellipse cx="54.43" cy="538.24" rx="1.55" ry="0.59" fill="#6f8cdc" stroke="#5770c4" stroke-width="0.25" transform="rotate(21 54.43 538.24)"/>
<ellipse cx="37.68" cy="538.47" rx="1.59" ry="0.53" fill="#6f8cdc" stroke="#5770c4" stroke-width="0.25" transform="rotate(7 37.68 538.47)"/>
<ellipse cx="36.20" cy="541.80" rx="1.37" ry="0.57" fill="#6f8cdc" stroke="#5770c4" stroke-width="0.25" transform="rotate(4 36.20 541.80)"/>
<ellipse cx="42.12" cy="541.02" rx="1.55" ry="0.77" fill="#6f8cdc" stroke="#5770c4" stroke-width="0.25" transform="rotate(23 42.12 541.02)"/>
<ellipse cx="46.57" cy="538.26" rx="1.77" ry="0.71" fill="#6f8cdc" stroke="#5770c4" stroke-width="0.25" transform="rotate(-13 46.57 538.26)"/>
<ellipse cx="47.16" cy="543.63" rx="1.28" ry="0.70" fill="#6f8cdc" stroke="#5770c4" stroke-width="0.25" transform="rotate(-4 47.16 543.63)"/>
<ellipse cx="45.17" cy="543.73" rx="1.66" ry="0.72" fill="#6f8cdc" stroke="#5770c4" stroke-width="0.25" transform="rotate(-15 45.17 543.73)"/>
<ellipse cx="47.32" cy="537.90" rx="1.32" ry="0.75" fill="#6f8cdc" stroke="#5770c4" stroke-width="0.25" transform="rotate(23 47.32 537.90)"/>
<ellipse cx="40.31" cy="538.10" rx="1.31" ry="0.79" fill="#6f8cdc" stroke="#5770c4" stroke-width="0.25" transform="rotate(13 40.31 538.10)"/>
<ellipse cx="47.09" cy="537.69" rx="1.39" ry="0.70" fill="#6f8cdc" stroke="#5770c4" stroke-width="0.25" transform="rotate(-14 47.09 537.69)"/>
<ellipse cx="44.47" cy="538.00" rx="1.20" ry="0.52" fill="#6f8cdc" stroke="#5770c4" stroke-width="0.25" transform="rotate(24 44.47 538.00)"/>
<path d="M180.80,412.00 L180.80,415.20 A15.6,9.0 0 0 0 212.00,415.20 L212.00,412.00 Z" fill="#f0c8d2" stroke="#c9a1ad" stroke-width="0.5"/>
<ellipse cx="196.40" cy="412.00" rx="15.6" ry="9.0" fill="#e3ebe8" stroke="#9fb0ab" stroke-width="0.6"/>
<ellipse cx="196.40" cy="413.00" rx="14.10" ry="7.30" fill="#f5d4dc" stroke="#dcb3be" stroke-width="0.4"/>
<ellipse cx="185.14" cy="411.60" rx="1.72" ry="0.72" fill="#6f8cdc" stroke="#5770c4" stroke-width="0.25" transform="rotate(20 185.14 411.60)"/>
<ellipse cx="192.03" cy="409.06" rx="1.62" ry="0.51" fill="#6f8cdc" stroke="#5770c4" stroke-width="0.25" transform="rotate(22 192.03 409.06)"/>
<ellipse cx="200.61" cy="411.42" rx="1.33" ry="0.55" fill="#6f8cdc" stroke="#5770c4" stroke-width="0.25" transform="rotate(-6 200.61 411.42)"/>
<ellipse cx="188.91" cy="411.15" rx="1.68" ry="0.63" fill="#6f8cdc" stroke="#5770c4" stroke-width="0.25" transform="rotate(16 188.91 411.15)"/>
<ellipse cx="184.86" cy="412.58" rx="1.74" ry="0.56" fill="#6f8cdc" stroke="#5770c4" stroke-width="0.25" transform="rotate(-6 184.86 412.58)"/>
<ellipse cx="192.92" cy="417.74" rx="1.39" ry="0.74" fill="#6f8cdc" stroke="#5770c4" stroke-width="0.25" transform="rotate(-23 192.92 417.74)"/>
<ellipse cx="192.28" cy="410.12" rx="1.53" ry="0.58" fill="#6f8cdc" stroke="#5770c4" stroke-width="0.25" transform="rotate(23 192.28 410.12)"/>
<ellipse cx="201.95" cy="410.66" rx="1.10" ry="0.73" fill="#6f8cdc" stroke="#5770c4" stroke-width="0.25" transform="rotate(-11 201.95 410.66)"/>
<ellipse cx="207.06" cy="414.53" rx="1.12" ry="0.57" fill="#6f8cdc" stroke="#5770c4" stroke-width="0.25" transform="rotate(22 207.06 414.53)"/>
<ellipse cx="195.76" cy="418.47" rx="1.37" ry="0.58" fill="#6f8cdc" stroke="#5770c4" stroke-width="0.25" transform="rotate(23 195.76 418.47)"/>
<ellipse cx="194.61" cy="412.82" rx="1.23" ry="0.74" fill="#6f8cdc" stroke="#5770c4" stroke-width="0.25" transform="rotate(21 194.61 412.82)"/>
<ellipse cx="202.51" cy="416.84" rx="1.53" ry="0.60" fill="#6f8cdc" stroke="#5770c4" stroke-width="0.25" transform="rotate(14 202.51 416.84)"/>
<ellipse cx="191.78" cy="411.21" rx="1.16" ry="0.56" fill="#6f8cdc" stroke="#5770c4" stroke-width="0.25" transform="rotate(14 191.78 411.21)"/>
<ellipse cx="202.87" cy="409.82" rx="1.12" ry="0.67" fill="#6f8cdc" stroke="#5770c4" stroke-width="0.25" transform="rotate(-22 202.87 409.82)"/>
<ellipse cx="186.07" cy="412.88" rx="1.41" ry="0.57" fill="#6f8cdc" stroke="#5770c4" stroke-width="0.25" transform="rotate(10 186.07 412.88)"/>
<ellipse cx="194.27" cy="414.37" rx="1.62" ry="0.75" fill="#6f8cdc" stroke="#5770c4" stroke-width="0.25" transform="rotate(9 194.27 414.37)"/>
<ellipse cx="200.61" cy="408.28" rx="1.31" ry="0.67" fill="#6f8cdc" stroke="#5770c4" stroke-width="0.25" transform="rotate(17 200.61 408.28)"/>
<ellipse cx="193.15" cy="415.80" rx="1.27" ry="0.57" fill="#6f8cdc" stroke="#5770c4" stroke-width="0.25" transform="rotate(-15 193.15 415.80)"/>
<ellipse cx="198.40" cy="410.78" rx="1.79" ry="0.65" fill="#6f8cdc" stroke="#5770c4" stroke-width="0.25" transform="rotate(-5 198.40 410.78)"/>
<ellipse cx="189.52" cy="416.66" rx="1.79" ry="0.53" fill="#6f8cdc" stroke="#5770c4" stroke-width="0.25" transform="rotate(8 189.52 416.66)"/>
<ellipse cx="195.75" cy="416.79" rx="1.74" ry="0.51" fill="#6f8cdc" stroke="#5770c4" stroke-width="0.25" transform="rotate(17 195.75 416.79)"/>
<ellipse cx="191.12" cy="408.25" rx="1.78" ry="0.67" fill="#6f8cdc" stroke="#5770c4" stroke-width="0.25" transform="rotate(-16 191.12 408.25)"/>
<ellipse cx="207.41" cy="411.34" rx="1.41" ry="0.58" fill="#6f8cdc" stroke="#5770c4" stroke-width="0.25" transform="rotate(18 207.41 411.34)"/>
<ellipse cx="186.31" cy="414.07" rx="1.25" ry="0.61" fill="#6f8cdc" stroke="#5770c4" stroke-width="0.25" transform="rotate(6 186.31 414.07)"/>
<ellipse cx="190.13" cy="414.11" rx="1.24" ry="0.50" fill="#6f8cdc" stroke="#5770c4" stroke-width="0.25" transform="rotate(8 190.13 414.11)"/>
<ellipse cx="191.98" cy="415.08" rx="1.32" ry="0.56" fill="#6f8cdc" stroke="#5770c4" stroke-width="0.25" transform="rotate(-16 191.98 415.08)"/>
<ellipse cx="203.96" cy="413.49" rx="1.17" ry="0.62" fill="#6f8cdc" stroke="#5770c4" stroke-width="0.25" transform="rotate(-22 203.96 413.49)"/>
<ellipse cx="197.68" cy="414.60" rx="1.21" ry="0.71" fill="#6f8cdc" stroke="#5770c4" stroke-width="0.25" transform="rotate(-20 197.68 414.60)"/>
<ellipse cx="194.09" cy="410.26" rx="1.77" ry="0.59" fill="#6f8cdc" stroke="#5770c4" stroke-width="0.25" transform="rotate(-10 194.09 410.26)"/>
<ellipse cx="198.10" cy="411.16" rx="1.70" ry="0.80" fill="#6f8cdc" stroke="#5770c4" stroke-width="0.25" transform="rotate(-4 198.10 411.16)"/>
<path d="M180.80,451.60 L180.80,454.80 A15.6,9.0 0 0 0 212.00,454.80 L212.00,451.60 Z" fill="#f0c8d2" stroke="#c9a1ad" stroke-width="0.5"/>
<ellipse cx="196.40" cy="451.60" rx="15.6" ry="9.0" fill="#e3ebe8" stroke="#9fb0ab" stroke-width="0.6"/>
<ellipse cx="196.40" cy="452.60" rx="14.10" ry="7.30" fill="#f5d4dc" stroke="#dcb3be" stroke-width="0.4"/>
<ellipse cx="192.91" cy="448.81" rx="1.24" ry="0.50" fill="#6f8cdc" stroke="#5770c4" stroke-width="0.25" transform="rotate(11 192.91 448.81)"/>
<ellipse cx="206.68" cy="451.57" rx="1.38" ry="0.76" fill="#6f8cdc" stroke="#5770c4" stroke-width="0.25" transform="rotate(16 206.68 451.57)"/>
<ellipse cx="195.40" cy="448.38" rx="1.49" ry="0.69" fill="#6f8cdc" stroke="#5770c4" stroke-width="0.25" transform="rotate(-24 195.40 448.38)"/>
<ellipse cx="199.53" cy="450.92" rx="1.20" ry="0.58" fill="#6f8cdc" stroke="#5770c4" stroke-width="0.25" transform="rotate(0 199.53 450.92)"/>
<ellipse cx="196.94" cy="457.69" rx="1.44" ry="0.74" fill="#6f8cdc" stroke="#5770c4" stroke-width="0.25" transform="rotate(-20 196.94 457.69)"/>
<ellipse cx="193.53" cy="457.43" rx="1.68" ry="0.55" fill="#6f8cdc" stroke="#5770c4" stroke-width="0.25" transform="rotate(6 193.53 457.43)"/>
<ellipse cx="203.72" cy="449.11" rx="1.69" ry="0.75" fill="#6f8cdc" stroke="#5770c4" stroke-width="0.25" transform="rotate(-5 203.72 449.11)"/>
<ellipse cx="188.28" cy="449.06" rx="1.46" ry="0.62" fill="#6f8cdc" stroke="#5770c4" stroke-width="0.25" transform="rotate(-5 188.28 449.06)"/>
<ellipse cx="186.75" cy="449.41" rx="1.73" ry="0.51" fill="#6f8cdc" stroke="#5770c4" stroke-width="0.25" transform="rotate(11 186.75 449.41)"/>
<ellipse cx="198.00" cy="455.64" rx="1.69" ry="0.54" fill="#6f8cdc" stroke="#5770c4" stroke-width="0.25" transform="rotate(-23 198.00 455.64)"/>
<ellipse cx="198.95" cy="453.11" rx="1.31" ry="0.63" fill="#6f8cdc" stroke="#5770c4" stroke-width="0.25" transform="rotate(6 198.95 453.11)"/>
<ellipse cx="198.52" cy="451.59" rx="1.41" ry="0.63" fill="#6f8cdc" stroke="#5770c4" stroke-width="0.25" transform="rotate(8 198.52 451.59)"/>
<ellipse cx="196.13" cy="449.27" rx="1.65" ry="0.64" fill="#6f8cdc" stroke="#5770c4" stroke-width="0.25" transform="rotate(13 196.13 449.27)"/>
<ellipse cx="188.20" cy="452.17" rx="1.19" ry="0.63" fill="#6f8cdc" stroke="#5770c4" stroke-width="0.25" transform="rotate(-20 188.20 452.17)"/>
<ellipse cx="185.95" cy="451.79" rx="1.13" ry="0.69" fill="#6f8cdc" stroke="#5770c4" stroke-width="0.25" transform="rotate(1 185.95 451.79)"/>
<ellipse cx="203.51" cy="452.64" rx="1.45" ry="0.61" fill="#6f8cdc" stroke="#5770c4" stroke-width="0.25" transform="rotate(-22 203.51 452.64)"/>
<ellipse cx="202.34" cy="456.34" rx="1.79" ry="0.65" fill="#6f8cdc" stroke="#5770c4" stroke-width="0.25" transform="rotate(-15 202.34 456.34)"/>
<ellipse cx="187.83" cy="456.02" rx="1.15" ry="0.61" fill="#6f8cdc" stroke="#5770c4" stroke-width="0.25" transform="rotate(22 187.83 456.02)"/>
<ellipse cx="202.96" cy="448.34" rx="1.29" ry="0.74" fill="#6f8cdc" stroke="#5770c4" stroke-width="0.25" transform="rotate(20 202.96 448.34)"/>
<ellipse cx="187.28" cy="452.53" rx="1.25" ry="0.58" fill="#6f8cdc" stroke="#5770c4" stroke-width="0.25" transform="rotate(21 187.28 452.53)"/>
<ellipse cx="196.55" cy="450.29" rx="1.23" ry="0.55" fill="#6f8cdc" stroke="#5770c4" stroke-width="0.25" transform="rotate(-23 196.55 450.29)"/>
<ellipse cx="197.19" cy="454.16" rx="1.71" ry="0.67" fill="#6f8cdc" stroke="#5770c4" stroke-width="0.25" transform="rotate(-7 197.19 454.16)"/>
<ellipse cx="198.45" cy="457.17" rx="1.80" ry="0.69" fill="#6f8cdc" stroke="#5770c4" stroke-width="0.25" transform="rotate(-20 198.45 457.17)"/>
<ellipse cx="193.69" cy="456.13" rx="1.79" ry="0.67" fill="#6f8cdc" stroke="#5770c4" stroke-width="0.25" transform="rotate(-12 193.69 456.13)"/>
<ellipse cx="192.82" cy="455.73" rx="1.22" ry="0.72" fill="#6f8cdc" stroke="#5770c4" stroke-width="0.25" transform="rotate(-3 192.82 455.73)"/>
<ellipse cx="190.09" cy="454.20" rx="1.51" ry="0.70" fill="#6f8cdc" stroke="#5770c4" stroke-width="0.25" transform="rotate(24 190.09 454.20)"/>
<ellipse cx="199.37" cy="451.67" rx="1.73" ry="0.54" fill="#6f8cdc" stroke="#5770c4" stroke-width="0.25" transform="rotate(1 199.37 451.67)"/>
<ellipse cx="189.42" cy="454.37" rx="1.10" ry="0.61" fill="#6f8cdc" stroke="#5770c4" stroke-width="0.25" transform="rotate(-24 189.42 454.37)"/>
<ellipse cx="186.32" cy="450.76" rx="1.51" ry="0.68" fill="#6f8cdc" stroke="#5770c4" stroke-width="0.25" transform="rotate(-14 186.32 450.76)"/>
<ellipse cx="188.83" cy="454.01" rx="1.19" ry="0.78" fill="#6f8cdc" stroke="#5770c4" stroke-width="0.25" transform="rotate(-1 188.83 454.01)"/>
<path d="M180.80,495.20 L180.80,498.40 A15.6,9.0 0 0 0 212.00,498.40 L212.00,495.20 Z" fill="#f0c8d2" stroke="#c9a1ad" stroke-width="0.5"/>
<ellipse cx="196.40" cy="495.20" rx="15.6" ry="9.0" fill="#e3ebe8" stroke="#9fb0ab" stroke-width="0.6"/>
<ellipse cx="196.40" cy="496.20" rx="14.10" ry="7.30" fill="#f5d4dc" stroke="#dcb3be" stroke-width="0.4"/>
<ellipse cx="189.84" cy="491.82" rx="1.55" ry="0.76" fill="#6f8cdc" stroke="#5770c4" stroke-width="0.25" transform="rotate(-20 189.84 491.82)"/>
<ellipse cx="203.62" cy="494.90" rx="1.11" ry="0.69" fill="#6f8cdc" stroke="#5770c4" stroke-width="0.25" transform="rotate(-12 203.62 494.90)"/>
<ellipse cx="198.00" cy="494.27" rx="1.41" ry="0.78" fill="#6f8cdc" stroke="#5770c4" stroke-width="0.25" transform="rotate(7 198.00 494.27)"/>
<ellipse cx="202.38" cy="493.03" rx="1.13" ry="0.66" fill="#6f8cdc" stroke="#5770c4" stroke-width="0.25" transform="rotate(20 202.38 493.03)"/>
<ellipse cx="193.99" cy="492.90" rx="1.65" ry="0.50" fill="#6f8cdc" stroke="#5770c4" stroke-width="0.25" transform="rotate(-22 193.99 492.90)"/>
<ellipse cx="197.70" cy="501.48" rx="1.24" ry="0.68" fill="#6f8cdc" stroke="#5770c4" stroke-width="0.25" transform="rotate(-18 197.70 501.48)"/>
<ellipse cx="196.58" cy="497.83" rx="1.22" ry="0.59" fill="#6f8cdc" stroke="#5770c4" stroke-width="0.25" transform="rotate(16 196.58 497.83)"/>
<ellipse cx="205.22" cy="499.09" rx="1.62" ry="0.64" fill="#6f8cdc" stroke="#5770c4" stroke-width="0.25" transform="rotate(-2 205.22 499.09)"/>
<ellipse cx="192.19" cy="499.15" rx="1.69" ry="0.71" fill="#6f8cdc" stroke="#5770c4" stroke-width="0.25" transform="rotate(10 192.19 499.15)"/>
<ellipse cx="190.41" cy="496.76" rx="1.65" ry="0.66" fill="#6f8cdc" stroke="#5770c4" stroke-width="0.25" transform="rotate(-3 190.41 496.76)"/>
<ellipse cx="190.39" cy="497.83" rx="1.25" ry="0.76" fill="#6f8cdc" stroke="#5770c4" stroke-width="0.25" transform="rotate(23 190.39 497.83)"/>
<ellipse cx="189.64" cy="499.08" rx="1.62" ry="0.60" fill="#6f8cdc" stroke="#5770c4" stroke-width="0.25" transform="rotate(22 189.64 499.08)"/>
<ellipse cx="206.13" cy="494.01" rx="1.74" ry="0.69" fill="#6f8cdc" stroke="#5770c4" stroke-width="0.25" transform="rotate(-13 206.13 494.01)"/>
<ellipse cx="201.34" cy="498.12" rx="1.43" ry="0.75" fill="#6f8cdc" stroke="#5770c4" stroke-width="0.25" transform="rotate(24 201.34 498.12)"/>
<ellipse cx="201.46" cy="500.46" rx="1.61" ry="0.67" fill="#6f8cdc" stroke="#5770c4" stroke-width="0.25" transform="rotate(-3 201.46 500.46)"/>
<ellipse cx="191.48" cy="492.59" rx="1.15" ry="0.77" fill="#6f8cdc" stroke="#5770c4" stroke-width="0.25" transform="rotate(6 191.48 492.59)"/>
<ellipse cx="192.43" cy="491.73" rx="1.13" ry="0.71" fill="#6f8cdc" stroke="#5770c4" stroke-width="0.25" transform="rotate(-24 192.43 491.73)"/>
<ellipse cx="199.83" cy="498.50" rx="1.15" ry="0.68" fill="#6f8cdc" stroke="#5770c4" stroke-width="0.25" transform="rotate(12 199.83 498.50)"/>
<ellipse cx="192.90" cy="499.97" rx="1.72" ry="0.52" fill="#6f8cdc" stroke="#5770c4" stroke-width="0.25" transform="rotate(16 192.90 499.97)"/>
<ellipse cx="204.39" cy="497.74" rx="1.54" ry="0.59" fill="#6f8cdc" stroke="#5770c4" stroke-width="0.25" transform="rotate(16 204.39 497.74)"/>
<ellipse cx="202.99" cy="492.50" rx="1.40" ry="0.51" fill="#6f8cdc" stroke="#5770c4" stroke-width="0.25" transform="rotate(-9 202.99 492.50)"/>
<ellipse cx="190.17" cy="493.45" rx="1.36" ry="0.60" fill="#6f8cdc" stroke="#5770c4" stroke-width="0.25" transform="rotate(11 190.17 493.45)"/>
<ellipse cx="205.40" cy="497.54" rx="1.39" ry="0.63" fill="#6f8cdc" stroke="#5770c4" stroke-width="0.25" transform="rotate(-23 205.40 497.54)"/>
<ellipse cx="203.39" cy="494.23" rx="1.48" ry="0.56" fill="#6f8cdc" stroke="#5770c4" stroke-width="0.25" transform="rotate(10 203.39 494.23)"/>
<ellipse cx="204.59" cy="492.08" rx="1.24" ry="0.73" fill="#6f8cdc" stroke="#5770c4" stroke-width="0.25" transform="rotate(-25 204.59 492.08)"/>
<ellipse cx="196.17" cy="496.00" rx="1.23" ry="0.65" fill="#6f8cdc" stroke="#5770c4" stroke-width="0.25" transform="rotate(15 196.17 496.00)"/>
<ellipse cx="192.49" cy="500.15" rx="1.76" ry="0.59" fill="#6f8cdc" stroke="#5770c4" stroke-width="0.25" transform="rotate(-12 192.49 500.15)"/>
<ellipse cx="189.10" cy="498.53" rx="1.18" ry="0.69" fill="#6f8cdc" stroke="#5770c4" stroke-width="0.25" transform="rotate(-0 189.10 498.53)"/>
<ellipse cx="201.45" cy="499.60" rx="1.35" ry="0.62" fill="#6f8cdc" stroke="#5770c4" stroke-width="0.25" transform="rotate(6 201.45 499.60)"/>
<ellipse cx="193.70" cy="500.86" rx="1.72" ry="0.51" fill="#6f8cdc" stroke="#5770c4" stroke-width="0.25" transform="rotate(-21 193.70 500.86)"/>
<path d="M180.80,538.80 L180.80,542.00 A15.6,9.0 0 0 0 212.00,542.00 L212.00,538.80 Z" fill="#f0c8d2" stroke="#c9a1ad" stroke-width="0.5"/>
<ellipse cx="196.40" cy="538.80" rx="15.6" ry="9.0" fill="#e3ebe8" stroke="#9fb0ab" stroke-width="0.6"/>
<ellipse cx="196.40" cy="539.80" rx="14.10" ry="7.30" fill="#f5d4dc" stroke="#dcb3be" stroke-width="0.4"/>
<ellipse cx="188.88" cy="536.81" rx="1.45" ry="0.61" fill="#6f8cdc" stroke="#5770c4" stroke-width="0.25" transform="rotate(20 188.88 536.81)"/>
<ellipse cx="195.40" cy="540.08" rx="1.63" ry="0.69" fill="#6f8cdc" stroke="#5770c4" stroke-width="0.25" transform="rotate(13 195.40 540.08)"/>
<ellipse cx="192.52" cy="537.59" rx="1.69" ry="0.70" fill="#6f8cdc" stroke="#5770c4" stroke-width="0.25" transform="rotate(-17 192.52 537.59)"/>
<ellipse cx="202.59" cy="535.67" rx="1.64" ry="0.67" fill="#6f8cdc" stroke="#5770c4" stroke-width="0.25" transform="rotate(-3 202.59 535.67)"/>
<ellipse cx="186.83" cy="539.24" rx="1.27" ry="0.56" fill="#6f8cdc" stroke="#5770c4" stroke-width="0.25" transform="rotate(19 186.83 539.24)"/>
<ellipse cx="191.32" cy="542.18" rx="1.21" ry="0.55" fill="#6f8cdc" stroke="#5770c4" stroke-width="0.25" transform="rotate(17 191.32 542.18)"/>
<ellipse cx="189.94" cy="537.58" rx="1.21" ry="0.60" fill="#6f8cdc" stroke="#5770c4" stroke-width="0.25" transform="rotate(1 189.94 537.58)"/>
<ellipse cx="202.26" cy="534.84" rx="1.17" ry="0.62" fill="#6f8cdc" stroke="#5770c4" stroke-width="0.25" transform="rotate(23 202.26 534.84)"/>
<ellipse cx="202.37" cy="538.91" rx="1.55" ry="0.53" fill="#6f8cdc" stroke="#5770c4" stroke-width="0.25" transform="rotate(-15 202.37 538.91)"/>
<ellipse cx="188.88" cy="538.34" rx="1.38" ry="0.74" fill="#6f8cdc" stroke="#5770c4" stroke-width="0.25" transform="rotate(-23 188.88 538.34)"/>
<ellipse cx="201.35" cy="539.71" rx="1.42" ry="0.54" fill="#6f8cdc" stroke="#5770c4" stroke-width="0.25" transform="rotate(7 201.35 539.71)"/>
<ellipse cx="199.05" cy="538.54" rx="1.74" ry="0.63" fill="#6f8cdc" stroke="#5770c4" stroke-width="0.25" transform="rotate(12 199.05 538.54)"/>
<ellipse cx="198.29" cy="542.74" rx="1.26" ry="0.72" fill="#6f8cdc" stroke="#5770c4" stroke-width="0.25" transform="rotate(-4 198.29 542.74)"/>
<ellipse cx="201.52" cy="544.00" rx="1.55" ry="0.64" fill="#6f8cdc" stroke="#5770c4" stroke-width="0.25" transform="rotate(9 201.52 544.00)"/>
<ellipse cx="191.61" cy="541.26" rx="1.39" ry="0.73" fill="#6f8cdc" stroke="#5770c4" stroke-width="0.25" transform="rotate(-20 191.61 541.26)"/>
<ellipse cx="201.86" cy="541.28" rx="1.40" ry="0.64" fill="#6f8cdc" stroke="#5770c4" stroke-width="0.25" transform="rotate(-12 201.86 541.28)"/>
<ellipse cx="199.51" cy="538.59" rx="1.75" ry="0.55" fill="#6f8cdc" stroke="#5770c4" stroke-width="0.25" transform="rotate(9 199.51 538.59)"/>
<ellipse cx="200.35" cy="543.09" rx="1.44" ry="0.79" fill="#6f8cdc" stroke="#5770c4" stroke-width="0.25" transform="rotate(-6 200.35 543.09)"/>
<ellipse cx="187.72" cy="543.14" rx="1.46" ry="0.53" fill="#6f8cdc" stroke="#5770c4" stroke-width="0.25" transform="rotate(22 187.72 543.14)"/>
<ellipse cx="198.31" cy="540.20" rx="1.46" ry="0.69" fill="#6f8cdc" stroke="#5770c4" stroke-width="0.25" transform="rotate(11 198.31 540.20)"/>
<ellipse cx="204.82" cy="539.96" rx="1.76" ry="0.56" fill="#6f8cdc" stroke="#5770c4" stroke-width="0.25" transform="rotate(-4 204.82 539.96)"/>
<ellipse cx="201.12" cy="538.39" rx="1.19" ry="0.80" fill="#6f8cdc" stroke="#5770c4" stroke-width="0.25" transform="rotate(13 201.12 538.39)"/>
<ellipse cx="190.62" cy="538.48" rx="1.39" ry="0.63" fill="#6f8cdc" stroke="#5770c4" stroke-width="0.25" transform="rotate(-24 190.62 538.48)"/>
<ellipse cx="201.48" cy="537.90" rx="1.26" ry="0.72" fill="#6f8cdc" stroke="#5770c4" stroke-width="0.25" transform="rotate(-12 201.48 537.90)"/>
<ellipse cx="207.66" cy="540.03" rx="1.66" ry="0.62" fill="#6f8cdc" stroke="#5770c4" stroke-width="0.25" transform="rotate(-14 207.66 540.03)"/>
<ellipse cx="203.48" cy="543.48" rx="1.43" ry="0.67" fill="#6f8cdc" stroke="#5770c4" stroke-width="0.25" transform="rotate(7 203.48 543.48)"/>
<ellipse cx="192.64" cy="541.39" rx="1.67" ry="0.64" fill="#6f8cdc" stroke="#5770c4" stroke-width="0.25" transform="rotate(16 192.64 541.39)"/>
<ellipse cx="191.14" cy="540.29" rx="1.68" ry="0.61" fill="#6f8cdc" stroke="#5770c4" stroke-width="0.25" transform="rotate(-19 191.14 540.29)"/>
<ellipse cx="205.38" cy="536.86" rx="1.28" ry="0.63" fill="#6f8cdc" stroke="#5770c4" stroke-width="0.25" transform="rotate(-6 205.38 536.86)"/>
<ellipse cx="202.08" cy="537.03" rx="1.31" ry="0.64" fill="#6f8cdc" stroke="#5770c4" stroke-width="0.25" transform="rotate(-13 202.08 537.03)"/>
<text x="65.90" y="416.36" font-size="7.4" fill="#3a3a3a" textLength="54.00" lengthAdjust="spacingAndGlyphs">Passage control</text>
<rect x="68.70" y="424.20" width="26.50" height="1.20" fill="url(#gk)"/>
<path d="M97.20,424.80 L92.80,426.91 L92.80,422.69 Z" fill="#222"/>
<line x1="103.40" y1="424.80" x2="170.90" y2="424.80" stroke="#333" stroke-width="1.2" />
<path d="M172.90,424.80 L168.50,426.91 L168.50,422.69 Z" fill="#333"/>
<text x="196.50" y="433.86" font-size="7.4" fill="#3a3a3a" text-anchor="middle" textLength="25.50" lengthAdjust="spacingAndGlyphs">Control</text>
<rect x="68.70" y="464.40" width="27.00" height="1.20" fill="url(#gk)"/>
<path d="M97.70,465.00 L93.30,467.11 L93.30,462.89 Z" fill="#222"/>
<line x1="104.20" y1="465.00" x2="151.80" y2="465.00" stroke="#333" stroke-width="1.2" />
<path d="M153.80,465.00 L149.40,467.11 L149.40,462.89 Z" fill="#333"/>
<line x1="156.30" y1="465.00" x2="170.90" y2="465.00" stroke="#f0c264" stroke-width="1.0" />
<path d="M172.90,465.00 L168.50,467.11 L168.50,462.89 Z" fill="#f0c264"/>
<text x="155.60" y="451.96" font-size="7.4" fill="#3a3a3a" text-anchor="middle" textLength="20.10" lengthAdjust="spacingAndGlyphs">acLDL</text>
<text x="156.8" y="460.3" font-size="7.4" textLength="42.2" lengthAdjust="spacingAndGlyphs" fill="#3a3a3a" text-anchor="middle">(100 ug ml<tspan font-size="4.6" dy="-2.8">−1</tspan><tspan dy="2.8">)</tspan></text>
<text x="197.30" y="475.26" font-size="7.4" fill="#3a3a3a" text-anchor="middle" textLength="35.10" lengthAdjust="spacingAndGlyphs">1 d Ac-LDL</text>
<rect x="69.00" y="507.90" width="27.20" height="1.20" fill="url(#gk)"/>
<path d="M98.20,508.50 L93.80,510.61 L93.80,506.39 Z" fill="#222"/>
<line x1="103.40" y1="508.50" x2="130.80" y2="508.50" stroke="#333" stroke-width="1.2" />
<path d="M132.80,508.50 L128.40,510.61 L128.40,506.39 Z" fill="#333"/>
<line x1="134.00" y1="508.50" x2="170.70" y2="508.50" stroke="#f0c264" stroke-width="1.0" />
<path d="M172.70,508.50 L168.30,510.61 L168.30,506.39 Z" fill="#f0c264"/>
<text x="153.40" y="495.56" font-size="7.4" fill="#3a3a3a" text-anchor="middle" textLength="20.10" lengthAdjust="spacingAndGlyphs">acLDL</text>
<text x="154.9" y="504.2" font-size="7.4" textLength="42.2" lengthAdjust="spacingAndGlyphs" fill="#3a3a3a" text-anchor="middle">(100 ug ml<tspan font-size="4.6" dy="-2.8">−1</tspan><tspan dy="2.8">)</tspan></text>
<text x="197.80" y="515.76" font-size="7.4" fill="#3a3a3a" text-anchor="middle" textLength="35.10" lengthAdjust="spacingAndGlyphs">3 d Ac-LDL</text>
<text x="84.60" y="537.56" font-size="7.4" fill="#3a3a3a" text-anchor="middle" textLength="20.10" lengthAdjust="spacingAndGlyphs">acLDL</text>
<text x="85.6" y="546.3" font-size="7.4" textLength="43.9" lengthAdjust="spacingAndGlyphs" fill="#3a3a3a" text-anchor="middle">(100 ug ml<tspan font-size="4.6" dy="-2.8">−1</tspan><tspan dy="2.8">)</tspan></text>
<text x="135.00" y="537.56" font-size="7.4" fill="#3a3a3a" text-anchor="middle" textLength="20.10" lengthAdjust="spacingAndGlyphs">acLDL</text>
<text x="136.0" y="546.3" font-size="7.4" textLength="38.9" lengthAdjust="spacingAndGlyphs" fill="#3a3a3a" text-anchor="middle">(25 ug ml<tspan font-size="4.6" dy="-2.8">−1</tspan><tspan dy="2.8">)</tspan></text>
<rect x="66.2" y="553.75" width="28.5" height="1.1" fill="url(#gb)"/>
<line x1="94.70" y1="549.80" x2="94.70" y2="559.30" stroke="#94692e" stroke-width="1.0" />
<line x1="101.70" y1="554.30" x2="170.90" y2="554.30" stroke="#94692e" stroke-width="1.1" />
<path d="M172.90,554.30 L168.50,556.41 L168.50,552.19 Z" fill="#94692e"/>
<text x="197.00" y="563.66" font-size="7.4" fill="#3a3a3a" text-anchor="middle" textLength="39.70" lengthAdjust="spacingAndGlyphs">10 d Ac-LDL</text>
<text x="34.70" y="567.50" font-size="6.4" fill="#3a3a3a" textLength="17.50" lengthAdjust="spacingAndGlyphs">Days:</text>
<text x="67.40" y="567.52" font-size="5.6" fill="#333" text-anchor="middle">0</text>
<text x="94.20" y="567.52" font-size="5.6" fill="#333" text-anchor="middle">3</text>
<text x="135.20" y="567.52" font-size="5.6" fill="#333" text-anchor="middle">7</text>
<text x="166.00" y="567.52" font-size="5.6" fill="#333" text-anchor="middle">10</text>
<text x="262.9" y="381.3" font-size="13.5" font-weight="bold" fill="#111" stroke="#111" stroke-width="0.35">g</text>
<text x="263.80" y="395.26" font-size="7.4" fill="#3a3a3a" textLength="26.40" lengthAdjust="spacingAndGlyphs">Ac-LDL:</text>
<defs><clipPath id="clip100"><rect x="279.0" y="399.1" width="92.5" height="69.2"/></clipPath><clipPath id="clip101"><rect x="376.6" y="399.1" width="92.0" height="69.2"/></clipPath><clipPath id="clip102"><rect x="474.4" y="399.1" width="92.20000000000005" height="69.2"/></clipPath><clipPath id="clip103"><rect x="571.0" y="399.1" width="92.79999999999995" height="69.2"/></clipPath></defs>
<text x="325.60" y="395.06" font-size="7.4" fill="#3a3a3a" text-anchor="middle" textLength="22.70" lengthAdjust="spacingAndGlyphs">0 days</text>
<rect x="279.00" y="399.10" width="92.50" height="69.20" fill="#e8e9e8"/>
<g clip-path="url(#clip100)">
<line x1="292.5" y1="430.6" x2="288.8" y2="433.8" stroke="#8fc3cf" stroke-width="0.35" opacity="0.6"/>
<line x1="346.7" y1="429.1" x2="343.4" y2="431.5" stroke="#8fc3cf" stroke-width="0.35" opacity="0.6"/>
<line x1="286.4" y1="430.7" x2="292.1" y2="431.5" stroke="#8fc3cf" stroke-width="0.35" opacity="0.6"/>
<line x1="366.6" y1="422.3" x2="369.5" y2="426.5" stroke="#8fc3cf" stroke-width="0.35" opacity="0.6"/>
<line x1="297.9" y1="411.4" x2="300.7" y2="413.3" stroke="#8fc3cf" stroke-width="0.35" opacity="0.6"/>
<line x1="336.9" y1="465.8" x2="341.5" y2="469.3" stroke="#8fc3cf" stroke-width="0.35" opacity="0.6"/>
<line x1="330.4" y1="461.5" x2="328.2" y2="462.9" stroke="#8fc3cf" stroke-width="0.35" opacity="0.6"/>
<line x1="339.0" y1="407.7" x2="342.6" y2="407.8" stroke="#8fc3cf" stroke-width="0.35" opacity="0.6"/>
<line x1="350.5" y1="438.3" x2="355.0" y2="441.3" stroke="#8fc3cf" stroke-width="0.35" opacity="0.6"/>
<line x1="363.5" y1="415.5" x2="364.3" y2="420.0" stroke="#8fc3cf" stroke-width="0.35" opacity="0.6"/>
<line x1="362.5" y1="407.9" x2="361.5" y2="413.7" stroke="#8fc3cf" stroke-width="0.35" opacity="0.6"/>
<line x1="335.3" y1="448.7" x2="332.3" y2="451.4" stroke="#8fc3cf" stroke-width="0.35" opacity="0.6"/>
<line x1="305.8" y1="440.0" x2="305.5" y2="443.3" stroke="#8fc3cf" stroke-width="0.35" opacity="0.6"/>
<line x1="358.0" y1="424.2" x2="358.3" y2="429.3" stroke="#8fc3cf" stroke-width="0.35" opacity="0.6"/>
<line x1="354.3" y1="460.7" x2="352.9" y2="463.4" stroke="#8fc3cf" stroke-width="0.35" opacity="0.6"/>
<line x1="357.4" y1="462.0" x2="354.2" y2="466.0" stroke="#8fc3cf" stroke-width="0.35" opacity="0.6"/>
<line x1="326.5" y1="433.2" x2="325.8" y2="435.8" stroke="#8fc3cf" stroke-width="0.35" opacity="0.6"/>
<line x1="341.5" y1="458.7" x2="345.9" y2="461.2" stroke="#8fc3cf" stroke-width="0.35" opacity="0.6"/>
<line x1="344.3" y1="407.5" x2="348.6" y2="408.2" stroke="#8fc3cf" stroke-width="0.35" opacity="0.6"/>
<line x1="299.3" y1="420.5" x2="297.6" y2="424.8" stroke="#8fc3cf" stroke-width="0.35" opacity="0.6"/>
<line x1="348.3" y1="438.4" x2="349.3" y2="440.2" stroke="#8fc3cf" stroke-width="0.35" opacity="0.6"/>
<line x1="289.5" y1="412.4" x2="289.2" y2="417.3" stroke="#8fc3cf" stroke-width="0.35" opacity="0.6"/>
<line x1="298.3" y1="426.1" x2="294.8" y2="426.8" stroke="#8fc3cf" stroke-width="0.35" opacity="0.6"/>
<line x1="345.0" y1="441.9" x2="343.1" y2="445.3" stroke="#8fc3cf" stroke-width="0.35" opacity="0.6"/>
<line x1="329.4" y1="447.6" x2="334.0" y2="450.1" stroke="#8fc3cf" stroke-width="0.35" opacity="0.6"/>
<line x1="359.7" y1="402.4" x2="362.2" y2="404.1" stroke="#8fc3cf" stroke-width="0.35" opacity="0.6"/>
<line x1="287.7" y1="408.8" x2="286.7" y2="411.0" stroke="#8fc3cf" stroke-width="0.35" opacity="0.6"/>
<line x1="285.2" y1="464.6" x2="286.4" y2="468.5" stroke="#8fc3cf" stroke-width="0.35" opacity="0.6"/>
<line x1="322.9" y1="422.9" x2="323.3" y2="425.6" stroke="#8fc3cf" stroke-width="0.35" opacity="0.6"/>
<line x1="332.6" y1="416.5" x2="335.2" y2="417.7" stroke="#8fc3cf" stroke-width="0.35" opacity="0.6"/>
<line x1="317.2" y1="463.5" x2="315.4" y2="469.1" stroke="#8fc3cf" stroke-width="0.35" opacity="0.6"/>
<line x1="316.1" y1="417.1" x2="314.4" y2="419.3" stroke="#8fc3cf" stroke-width="0.35" opacity="0.6"/>
<line x1="371.3" y1="426.1" x2="373.4" y2="428.4" stroke="#8fc3cf" stroke-width="0.35" opacity="0.6"/>
<line x1="307.2" y1="463.9" x2="302.9" y2="464.0" stroke="#8fc3cf" stroke-width="0.35" opacity="0.6"/>
<line x1="300.5" y1="399.8" x2="303.5" y2="400.6" stroke="#8fc3cf" stroke-width="0.35" opacity="0.6"/>
<line x1="338.5" y1="442.4" x2="333.7" y2="444.8" stroke="#8fc3cf" stroke-width="0.35" opacity="0.6"/>
<line x1="311.6" y1="445.7" x2="312.5" y2="450.6" stroke="#8fc3cf" stroke-width="0.35" opacity="0.6"/>
<line x1="296.0" y1="466.7" x2="300.5" y2="467.0" stroke="#8fc3cf" stroke-width="0.35" opacity="0.6"/>
<line x1="311.6" y1="454.5" x2="316.6" y2="456.9" stroke="#8fc3cf" stroke-width="0.35" opacity="0.6"/>
<line x1="279.3" y1="450.0" x2="276.9" y2="453.2" stroke="#8fc3cf" stroke-width="0.35" opacity="0.6"/>
<line x1="295.1" y1="425.5" x2="295.6" y2="428.4" stroke="#8fc3cf" stroke-width="0.35" opacity="0.6"/>
<line x1="293.9" y1="457.4" x2="293.4" y2="460.4" stroke="#8fc3cf" stroke-width="0.35" opacity="0.6"/>
<line x1="336.9" y1="442.9" x2="340.8" y2="444.7" stroke="#8fc3cf" stroke-width="0.35" opacity="0.6"/>
<line x1="333.1" y1="406.8" x2="336.2" y2="411.2" stroke="#8fc3cf" stroke-width="0.35" opacity="0.6"/>
<line x1="332.6" y1="414.5" x2="333.8" y2="418.2" stroke="#8fc3cf" stroke-width="0.35" opacity="0.6"/>
<ellipse cx="344.5" cy="458.7" rx="1.22" ry="0.73" fill="#2a9cb6" opacity="0.97" transform="rotate(87 344.5 458.7)"/>
<ellipse cx="342.7" cy="419.4" rx="1.66" ry="0.36" fill="#6cb4c2" opacity="0.65" transform="rotate(137 342.7 419.4)"/>
<ellipse cx="333.0" cy="410.9" rx="1.39" ry="0.59" fill="#6cb4c2" opacity="0.65" transform="rotate(116 333.0 410.9)"/>
<ellipse cx="323.8" cy="421.5" rx="0.91" ry="0.60" fill="#93c9d2" opacity="0.77" transform="rotate(140 323.8 421.5)"/>
<ellipse cx="311.2" cy="401.5" rx="0.93" ry="0.75" fill="#2a9cb6" opacity="0.86" transform="rotate(9 311.2 401.5)"/>
<ellipse cx="323.2" cy="434.4" rx="1.47" ry="0.70" fill="#2a9cb6" opacity="0.99" transform="rotate(46 323.2 434.4)"/>
<ellipse cx="335.0" cy="435.4" rx="0.64" ry="0.53" fill="#7dbfcb" opacity="0.69" transform="rotate(42 335.0 435.4)"/>
<ellipse cx="370.3" cy="399.9" rx="1.10" ry="0.62" fill="#2690aa" opacity="0.74" transform="rotate(159 370.3 399.9)"/>
<ellipse cx="343.4" cy="463.7" rx="1.40" ry="0.76" fill="#2a9cb6" opacity="0.75" transform="rotate(28 343.4 463.7)"/>
<ellipse cx="296.8" cy="428.4" rx="0.95" ry="0.54" fill="#36a6be" opacity="0.79" transform="rotate(168 296.8 428.4)"/>
<ellipse cx="362.7" cy="413.3" rx="1.53" ry="0.32" fill="#93c9d2" opacity="0.71" transform="rotate(98 362.7 413.3)"/>
<ellipse cx="369.2" cy="399.6" rx="0.77" ry="0.47" fill="#93c9d2" opacity="0.80" transform="rotate(37 369.2 399.6)"/>
<ellipse cx="302.4" cy="465.0" rx="0.63" ry="0.41" fill="#93c9d2" opacity="0.54" transform="rotate(154 302.4 465.0)"/>
<ellipse cx="295.3" cy="444.9" rx="1.59" ry="0.69" fill="#2690aa" opacity="0.74" transform="rotate(38 295.3 444.9)"/>
<ellipse cx="340.2" cy="415.6" rx="0.64" ry="0.50" fill="#93c9d2" opacity="0.74" transform="rotate(178 340.2 415.6)"/>
<ellipse cx="352.1" cy="423.7" rx="1.10" ry="0.55" fill="#93c9d2" opacity="0.72" transform="rotate(151 352.1 423.7)"/>
<ellipse cx="328.4" cy="424.3" rx="1.14" ry="0.81" fill="#36a6be" opacity="0.92" transform="rotate(111 328.4 424.3)"/>
<ellipse cx="301.8" cy="433.6" rx="1.05" ry="0.51" fill="#36a6be" opacity="0.75" transform="rotate(143 301.8 433.6)"/>
<ellipse cx="304.9" cy="432.5" rx="0.65" ry="0.41" fill="#93c9d2" opacity="0.59" transform="rotate(62 304.9 432.5)"/>
<ellipse cx="310.7" cy="448.4" rx="1.55" ry="0.65" fill="#2690aa" opacity="0.96" transform="rotate(176 310.7 448.4)"/>
<ellipse cx="316.3" cy="401.8" rx="1.43" ry="0.58" fill="#7dbfcb" opacity="0.64" transform="rotate(18 316.3 401.8)"/>
<ellipse cx="352.6" cy="442.6" rx="1.41" ry="0.55" fill="#93c9d2" opacity="0.64" transform="rotate(123 352.6 442.6)"/>
<ellipse cx="360.5" cy="433.4" rx="0.70" ry="0.50" fill="#93c9d2" opacity="0.51" transform="rotate(118 360.5 433.4)"/>
<ellipse cx="337.4" cy="435.8" rx="1.31" ry="0.66" fill="#36a6be" opacity="1.00" transform="rotate(174 337.4 435.8)"/>
<ellipse cx="295.4" cy="438.0" rx="1.35" ry="0.48" fill="#6cb4c2" opacity="0.71" transform="rotate(174 295.4 438.0)"/>
<ellipse cx="279.1" cy="428.4" rx="1.49" ry="0.62" fill="#6cb4c2" opacity="0.66" transform="rotate(88 279.1 428.4)"/>
<ellipse cx="345.1" cy="457.7" rx="1.44" ry="0.66" fill="#36a6be" opacity="0.76" transform="rotate(5 345.1 457.7)"/>
<ellipse cx="316.1" cy="406.8" rx="0.87" ry="0.68" fill="#6cb4c2" opacity="0.65" transform="rotate(163 316.1 406.8)"/>
<ellipse cx="348.8" cy="456.5" rx="1.18" ry="0.46" fill="#93c9d2" opacity="0.56" transform="rotate(70 348.8 456.5)"/>
<ellipse cx="344.8" cy="446.0" rx="1.55" ry="0.51" fill="#36a6be" opacity="0.71" transform="rotate(77 344.8 446.0)"/>
<ellipse cx="314.4" cy="400.5" rx="1.32" ry="0.57" fill="#2c9fbb" opacity="0.78" transform="rotate(111 314.4 400.5)"/>
<ellipse cx="365.5" cy="451.2" rx="0.91" ry="0.47" fill="#93c9d2" opacity="0.57" transform="rotate(177 365.5 451.2)"/>
<ellipse cx="314.8" cy="419.2" rx="1.52" ry="0.56" fill="#6cb4c2" opacity="0.58" transform="rotate(86 314.8 419.2)"/>
<ellipse cx="302.5" cy="408.7" rx="1.00" ry="0.30" fill="#6cb4c2" opacity="0.72" transform="rotate(70 302.5 408.7)"/>
<ellipse cx="327.3" cy="426.7" rx="0.84" ry="0.54" fill="#36a6be" opacity="0.78" transform="rotate(146 327.3 426.7)"/>
<ellipse cx="342.9" cy="465.9" rx="1.61" ry="0.63" fill="#93c9d2" opacity="0.77" transform="rotate(161 342.9 465.9)"/>
<ellipse cx="311.2" cy="468.1" rx="1.42" ry="0.53" fill="#6cb4c2" opacity="0.75" transform="rotate(93 311.2 468.1)"/>
<ellipse cx="365.1" cy="418.9" rx="0.77" ry="0.42" fill="#93c9d2" opacity="0.54" transform="rotate(80 365.1 418.9)"/>
<ellipse cx="325.9" cy="415.2" rx="1.27" ry="0.66" fill="#36a6be" opacity="0.82" transform="rotate(119 325.9 415.2)"/>
<ellipse cx="346.1" cy="415.9" rx="0.91" ry="0.66" fill="#6cb4c2" opacity="0.80" transform="rotate(54 346.1 415.9)"/>
<ellipse cx="330.9" cy="439.9" rx="1.02" ry="0.45" fill="#93c9d2" opacity="0.46" transform="rotate(77 330.9 439.9)"/>
<ellipse cx="356.5" cy="434.8" rx="1.69" ry="0.59" fill="#7dbfcb" opacity="0.70" transform="rotate(179 356.5 434.8)"/>
<ellipse cx="309.4" cy="418.3" rx="0.80" ry="0.60" fill="#93c9d2" opacity="0.49" transform="rotate(128 309.4 418.3)"/>
<ellipse cx="286.6" cy="409.9" rx="1.44" ry="0.62" fill="#2c9fbb" opacity="0.84" transform="rotate(71 286.6 409.9)"/>
<ellipse cx="310.0" cy="443.7" rx="1.40" ry="0.65" fill="#6cb4c2" opacity="0.55" transform="rotate(103 310.0 443.7)"/>
<ellipse cx="346.3" cy="409.4" rx="1.54" ry="0.51" fill="#2c9fbb" opacity="0.87" transform="rotate(6 346.3 409.4)"/>
<ellipse cx="329.4" cy="437.4" rx="1.15" ry="0.67" fill="#2a9cb6" opacity="0.73" transform="rotate(99 329.4 437.4)"/>
<ellipse cx="288.4" cy="399.4" rx="0.98" ry="0.52" fill="#2c9fbb" opacity="0.93" transform="rotate(137 288.4 399.4)"/>
<ellipse cx="284.6" cy="443.6" rx="0.97" ry="0.40" fill="#6cb4c2" opacity="0.67" transform="rotate(135 284.6 443.6)"/>
<ellipse cx="287.6" cy="460.6" rx="1.33" ry="0.40" fill="#93c9d2" opacity="0.62" transform="rotate(42 287.6 460.6)"/>
<ellipse cx="282.6" cy="426.6" rx="1.36" ry="0.63" fill="#7dbfcb" opacity="0.55" transform="rotate(33 282.6 426.6)"/>
<ellipse cx="317.4" cy="461.2" rx="0.68" ry="0.55" fill="#7dbfcb" opacity="0.56" transform="rotate(11 317.4 461.2)"/>
<ellipse cx="309.8" cy="468.2" rx="0.92" ry="0.56" fill="#6cb4c2" opacity="0.77" transform="rotate(169 309.8 468.2)"/>
<ellipse cx="296.7" cy="460.1" rx="0.96" ry="0.32" fill="#93c9d2" opacity="0.65" transform="rotate(62 296.7 460.1)"/>
<ellipse cx="282.3" cy="446.0" rx="1.37" ry="0.39" fill="#6cb4c2" opacity="0.73" transform="rotate(61 282.3 446.0)"/>
<ellipse cx="306.9" cy="411.0" rx="1.61" ry="0.45" fill="#6cb4c2" opacity="0.68" transform="rotate(1 306.9 411.0)"/>
<ellipse cx="309.5" cy="449.6" rx="1.45" ry="0.63" fill="#93c9d2" opacity="0.65" transform="rotate(117 309.5 449.6)"/>
<ellipse cx="346.8" cy="434.3" rx="0.97" ry="0.73" fill="#2c9fbb" opacity="0.71" transform="rotate(66 346.8 434.3)"/>
<ellipse cx="361.2" cy="419.9" rx="0.67" ry="0.39" fill="#7dbfcb" opacity="0.67" transform="rotate(153 361.2 419.9)"/>
<ellipse cx="298.8" cy="406.6" rx="1.51" ry="0.36" fill="#6cb4c2" opacity="0.46" transform="rotate(77 298.8 406.6)"/>
<ellipse cx="320.1" cy="428.5" rx="1.15" ry="0.40" fill="#6cb4c2" opacity="0.54" transform="rotate(70 320.1 428.5)"/>
<ellipse cx="363.1" cy="406.3" rx="1.56" ry="0.31" fill="#7dbfcb" opacity="0.48" transform="rotate(153 363.1 406.3)"/>
<ellipse cx="283.4" cy="426.7" rx="1.64" ry="0.40" fill="#6cb4c2" opacity="0.63" transform="rotate(63 283.4 426.7)"/>
<ellipse cx="360.6" cy="404.6" rx="1.71" ry="0.73" fill="#36a6be" opacity="0.84" transform="rotate(50 360.6 404.6)"/>
<ellipse cx="340.3" cy="429.9" rx="1.30" ry="0.41" fill="#7dbfcb" opacity="0.64" transform="rotate(169 340.3 429.9)"/>
<ellipse cx="334.3" cy="450.2" rx="1.66" ry="0.64" fill="#93c9d2" opacity="0.73" transform="rotate(112 334.3 450.2)"/>
<ellipse cx="369.3" cy="416.1" rx="1.58" ry="0.63" fill="#6cb4c2" opacity="0.48" transform="rotate(109 369.3 416.1)"/>
<ellipse cx="319.4" cy="446.7" rx="0.84" ry="0.66" fill="#36a6be" opacity="0.99" transform="rotate(145 319.4 446.7)"/>
<ellipse cx="295.6" cy="423.4" rx="1.14" ry="0.56" fill="#6cb4c2" opacity="0.77" transform="rotate(24 295.6 423.4)"/>
<ellipse cx="286.5" cy="461.4" rx="1.31" ry="0.65" fill="#93c9d2" opacity="0.62" transform="rotate(18 286.5 461.4)"/>
<ellipse cx="295.4" cy="408.9" rx="0.90" ry="0.75" fill="#2a9cb6" opacity="0.71" transform="rotate(128 295.4 408.9)"/>
<ellipse cx="315.3" cy="432.1" rx="1.40" ry="0.35" fill="#6cb4c2" opacity="0.55" transform="rotate(69 315.3 432.1)"/>
<ellipse cx="327.7" cy="442.5" rx="0.87" ry="0.65" fill="#2c9fbb" opacity="0.95" transform="rotate(34 327.7 442.5)"/>
<ellipse cx="348.3" cy="410.4" rx="0.79" ry="0.47" fill="#93c9d2" opacity="0.67" transform="rotate(22 348.3 410.4)"/>
<ellipse cx="323.9" cy="458.0" rx="1.67" ry="0.83" fill="#2c9fbb" opacity="0.72" transform="rotate(134 323.9 458.0)"/>
<ellipse cx="323.9" cy="465.8" rx="1.71" ry="0.81" fill="#2a9cb6" opacity="0.86" transform="rotate(47 323.9 465.8)"/>
<ellipse cx="336.0" cy="399.5" rx="1.24" ry="0.77" fill="#2a9cb6" opacity="0.74" transform="rotate(129 336.0 399.5)"/>
<ellipse cx="320.1" cy="440.1" rx="1.24" ry="0.40" fill="#7dbfcb" opacity="0.78" transform="rotate(135 320.1 440.1)"/>
<ellipse cx="355.3" cy="448.7" rx="0.71" ry="0.54" fill="#7dbfcb" opacity="0.53" transform="rotate(26 355.3 448.7)"/>
<ellipse cx="291.3" cy="431.3" rx="0.91" ry="0.37" fill="#93c9d2" opacity="0.49" transform="rotate(167 291.3 431.3)"/>
<ellipse cx="329.1" cy="447.6" rx="1.21" ry="0.39" fill="#6cb4c2" opacity="0.71" transform="rotate(135 329.1 447.6)"/>
<ellipse cx="327.6" cy="423.7" rx="1.10" ry="0.50" fill="#7dbfcb" opacity="0.65" transform="rotate(102 327.6 423.7)"/>
<ellipse cx="289.0" cy="410.8" rx="0.82" ry="0.58" fill="#36a6be" opacity="0.89" transform="rotate(59 289.0 410.8)"/>
<ellipse cx="352.5" cy="450.6" rx="1.04" ry="0.62" fill="#2c9fbb" opacity="0.84" transform="rotate(20 352.5 450.6)"/>
<ellipse cx="286.1" cy="412.3" rx="1.25" ry="0.51" fill="#36a6be" opacity="0.77" transform="rotate(112 286.1 412.3)"/>
<ellipse cx="351.9" cy="413.9" rx="1.21" ry="0.38" fill="#7dbfcb" opacity="0.55" transform="rotate(19 351.9 413.9)"/>
<ellipse cx="283.8" cy="402.3" rx="1.62" ry="0.74" fill="#2c9fbb" opacity="0.99" transform="rotate(148 283.8 402.3)"/>
<ellipse cx="322.6" cy="408.8" rx="0.76" ry="0.34" fill="#7dbfcb" opacity="0.72" transform="rotate(58 322.6 408.8)"/>
<ellipse cx="320.0" cy="426.8" rx="0.86" ry="0.55" fill="#93c9d2" opacity="0.72" transform="rotate(164 320.0 426.8)"/>
<ellipse cx="339.9" cy="425.8" rx="0.85" ry="0.44" fill="#6cb4c2" opacity="0.60" transform="rotate(131 339.9 425.8)"/>
<ellipse cx="297.9" cy="413.7" rx="1.08" ry="0.41" fill="#7dbfcb" opacity="0.77" transform="rotate(124 297.9 413.7)"/>
<ellipse cx="298.3" cy="461.2" rx="1.00" ry="0.62" fill="#2690aa" opacity="0.78" transform="rotate(118 298.3 461.2)"/>
<ellipse cx="289.7" cy="456.2" rx="1.32" ry="0.84" fill="#2c9fbb" opacity="0.84" transform="rotate(61 289.7 456.2)"/>
<ellipse cx="343.5" cy="428.2" rx="1.38" ry="0.52" fill="#93c9d2" opacity="0.57" transform="rotate(6 343.5 428.2)"/>
<ellipse cx="305.2" cy="419.7" rx="1.60" ry="0.37" fill="#6cb4c2" opacity="0.75" transform="rotate(65 305.2 419.7)"/>
<ellipse cx="306.8" cy="429.5" rx="1.05" ry="0.73" fill="#2c9fbb" opacity="0.79" transform="rotate(24 306.8 429.5)"/>
<ellipse cx="282.0" cy="408.7" rx="1.04" ry="0.59" fill="#6cb4c2" opacity="0.49" transform="rotate(43 282.0 408.7)"/>
<ellipse cx="367.3" cy="416.9" rx="1.13" ry="0.64" fill="#7dbfcb" opacity="0.56" transform="rotate(161 367.3 416.9)"/>
<ellipse cx="287.4" cy="441.8" rx="1.34" ry="0.89" fill="#2690aa" opacity="0.92" transform="rotate(49 287.4 441.8)"/>
<ellipse cx="357.4" cy="401.2" rx="1.69" ry="0.46" fill="#7dbfcb" opacity="0.68" transform="rotate(122 357.4 401.2)"/>
<ellipse cx="337.5" cy="441.6" rx="1.44" ry="0.69" fill="#6cb4c2" opacity="0.47" transform="rotate(93 337.5 441.6)"/>
<ellipse cx="297.5" cy="420.0" rx="0.92" ry="0.36" fill="#93c9d2" opacity="0.71" transform="rotate(132 297.5 420.0)"/>
<ellipse cx="324.5" cy="421.3" rx="1.63" ry="0.56" fill="#93c9d2" opacity="0.46" transform="rotate(165 324.5 421.3)"/>
<ellipse cx="289.0" cy="407.4" rx="1.17" ry="0.59" fill="#2a9cb6" opacity="1.00" transform="rotate(149 289.0 407.4)"/>
<ellipse cx="370.1" cy="411.7" rx="1.49" ry="0.52" fill="#2690aa" opacity="0.96" transform="rotate(49 370.1 411.7)"/>
<ellipse cx="335.2" cy="414.4" rx="1.67" ry="0.60" fill="#7dbfcb" opacity="0.72" transform="rotate(122 335.2 414.4)"/>
<ellipse cx="294.9" cy="407.5" rx="1.74" ry="0.86" fill="#2690aa" opacity="0.99" transform="rotate(110 294.9 407.5)"/>
<ellipse cx="284.8" cy="452.6" rx="1.59" ry="0.59" fill="#2690aa" opacity="0.82" transform="rotate(57 284.8 452.6)"/>
<ellipse cx="304.9" cy="421.0" rx="1.63" ry="0.50" fill="#93c9d2" opacity="0.64" transform="rotate(77 304.9 421.0)"/>
<ellipse cx="352.5" cy="451.9" rx="1.42" ry="0.58" fill="#93c9d2" opacity="0.69" transform="rotate(145 352.5 451.9)"/>
<ellipse cx="331.9" cy="464.6" rx="1.12" ry="0.78" fill="#2690aa" opacity="0.84" transform="rotate(8 331.9 464.6)"/>
<ellipse cx="362.7" cy="454.1" rx="1.53" ry="0.52" fill="#36a6be" opacity="0.80" transform="rotate(146 362.7 454.1)"/>
<ellipse cx="348.6" cy="427.3" rx="1.41" ry="0.36" fill="#6cb4c2" opacity="0.79" transform="rotate(120 348.6 427.3)"/>
<ellipse cx="369.0" cy="402.1" rx="1.69" ry="0.48" fill="#7dbfcb" opacity="0.79" transform="rotate(81 369.0 402.1)"/>
<ellipse cx="370.7" cy="453.8" rx="0.90" ry="0.41" fill="#6cb4c2" opacity="0.77" transform="rotate(8 370.7 453.8)"/>
<ellipse cx="362.2" cy="421.9" rx="1.21" ry="0.56" fill="#36a6be" opacity="0.79" transform="rotate(149 362.2 421.9)"/>
<ellipse cx="297.9" cy="402.0" rx="1.55" ry="0.30" fill="#7dbfcb" opacity="0.78" transform="rotate(84 297.9 402.0)"/>
<ellipse cx="334.5" cy="443.3" rx="0.66" ry="0.43" fill="#6cb4c2" opacity="0.72" transform="rotate(32 334.5 443.3)"/>
<ellipse cx="370.1" cy="461.3" rx="1.57" ry="0.52" fill="#2a9cb6" opacity="0.92" transform="rotate(20 370.1 461.3)"/>
<ellipse cx="299.5" cy="414.0" rx="1.11" ry="0.54" fill="#2690aa" opacity="0.72" transform="rotate(151 299.5 414.0)"/>
<ellipse cx="296.2" cy="408.7" rx="1.75" ry="0.69" fill="#2690aa" opacity="0.90" transform="rotate(136 296.2 408.7)"/>
<ellipse cx="338.2" cy="461.6" rx="1.41" ry="0.54" fill="#2c9fbb" opacity="0.93" transform="rotate(70 338.2 461.6)"/>
<ellipse cx="365.5" cy="405.6" rx="1.34" ry="0.85" fill="#36a6be" opacity="0.87" transform="rotate(178 365.5 405.6)"/>
<ellipse cx="345.4" cy="433.6" rx="1.35" ry="0.49" fill="#7dbfcb" opacity="0.78" transform="rotate(68 345.4 433.6)"/>
<ellipse cx="288.7" cy="466.7" rx="1.40" ry="0.30" fill="#7dbfcb" opacity="0.51" transform="rotate(44 288.7 466.7)"/>
<ellipse cx="313.2" cy="443.2" rx="0.85" ry="0.45" fill="#93c9d2" opacity="0.60" transform="rotate(146 313.2 443.2)"/>
<ellipse cx="359.6" cy="456.1" rx="1.15" ry="0.46" fill="#6cb4c2" opacity="0.67" transform="rotate(107 359.6 456.1)"/>
<ellipse cx="282.8" cy="449.2" rx="0.91" ry="0.56" fill="#2690aa" opacity="0.91" transform="rotate(113 282.8 449.2)"/>
<ellipse cx="323.0" cy="449.0" rx="0.84" ry="0.60" fill="#6cb4c2" opacity="0.50" transform="rotate(101 323.0 449.0)"/>
<ellipse cx="346.9" cy="447.7" rx="1.31" ry="0.35" fill="#7dbfcb" opacity="0.75" transform="rotate(95 346.9 447.7)"/>
<ellipse cx="325.7" cy="429.3" rx="0.61" ry="0.50" fill="#6cb4c2" opacity="0.58" transform="rotate(158 325.7 429.3)"/>
<ellipse cx="367.8" cy="442.1" rx="0.89" ry="0.38" fill="#7dbfcb" opacity="0.66" transform="rotate(162 367.8 442.1)"/>
<ellipse cx="337.5" cy="414.1" rx="1.34" ry="0.64" fill="#2c9fbb" opacity="0.96" transform="rotate(160 337.5 414.1)"/>
<ellipse cx="365.8" cy="453.7" rx="1.46" ry="0.50" fill="#7dbfcb" opacity="0.69" transform="rotate(109 365.8 453.7)"/>
<ellipse cx="357.8" cy="420.2" rx="0.90" ry="0.68" fill="#7dbfcb" opacity="0.65" transform="rotate(36 357.8 420.2)"/>
<ellipse cx="356.5" cy="426.3" rx="0.83" ry="0.38" fill="#6cb4c2" opacity="0.48" transform="rotate(36 356.5 426.3)"/>
<ellipse cx="348.3" cy="418.8" rx="0.71" ry="0.67" fill="#7dbfcb" opacity="0.51" transform="rotate(67 348.3 418.8)"/>
<ellipse cx="297.5" cy="437.7" rx="1.11" ry="0.54" fill="#7dbfcb" opacity="0.45" transform="rotate(136 297.5 437.7)"/>
<ellipse cx="346.2" cy="401.4" rx="1.53" ry="0.36" fill="#93c9d2" opacity="0.48" transform="rotate(135 346.2 401.4)"/>
<ellipse cx="341.0" cy="429.2" rx="1.69" ry="0.65" fill="#6cb4c2" opacity="0.65" transform="rotate(78 341.0 429.2)"/>
<ellipse cx="368.3" cy="457.8" rx="1.18" ry="0.46" fill="#93c9d2" opacity="0.75" transform="rotate(124 368.3 457.8)"/>
<ellipse cx="338.3" cy="463.5" rx="1.18" ry="0.64" fill="#6cb4c2" opacity="0.69" transform="rotate(102 338.3 463.5)"/>
<ellipse cx="361.1" cy="402.0" rx="0.92" ry="0.31" fill="#93c9d2" opacity="0.45" transform="rotate(11 361.1 402.0)"/>
<ellipse cx="282.0" cy="415.9" rx="1.51" ry="0.68" fill="#7dbfcb" opacity="0.53" transform="rotate(109 282.0 415.9)"/>
<ellipse cx="280.6" cy="429.0" rx="1.55" ry="0.79" fill="#2c9fbb" opacity="0.82" transform="rotate(57 280.6 429.0)"/>
<ellipse cx="297.0" cy="446.3" rx="1.14" ry="0.55" fill="#2a9cb6" opacity="0.94" transform="rotate(108 297.0 446.3)"/>
<ellipse cx="363.8" cy="400.5" rx="1.55" ry="0.32" fill="#93c9d2" opacity="0.71" transform="rotate(64 363.8 400.5)"/>
<ellipse cx="350.1" cy="435.3" rx="1.24" ry="0.37" fill="#93c9d2" opacity="0.69" transform="rotate(173 350.1 435.3)"/>
<ellipse cx="333.9" cy="406.0" rx="1.22" ry="0.52" fill="#36a6be" opacity="0.75" transform="rotate(49 333.9 406.0)"/>
<ellipse cx="302.4" cy="399.9" rx="1.59" ry="0.67" fill="#6cb4c2" opacity="0.56" transform="rotate(154 302.4 399.9)"/>
<ellipse cx="336.9" cy="420.1" rx="0.79" ry="0.60" fill="#93c9d2" opacity="0.72" transform="rotate(108 336.9 420.1)"/>
<ellipse cx="333.3" cy="418.7" rx="1.40" ry="0.57" fill="#93c9d2" opacity="0.76" transform="rotate(134 333.3 418.7)"/>
<ellipse cx="323.9" cy="418.8" rx="0.89" ry="0.68" fill="#2c9fbb" opacity="0.99" transform="rotate(177 323.9 418.8)"/>
<ellipse cx="306.9" cy="405.0" rx="0.67" ry="0.64" fill="#7dbfcb" opacity="0.55" transform="rotate(82 306.9 405.0)"/>
<ellipse cx="349.5" cy="443.6" rx="1.60" ry="0.65" fill="#2690aa" opacity="0.79" transform="rotate(57 349.5 443.6)"/>
<ellipse cx="283.8" cy="405.6" rx="0.88" ry="0.85" fill="#36a6be" opacity="0.96" transform="rotate(60 283.8 405.6)"/>
<ellipse cx="359.8" cy="421.3" rx="1.41" ry="0.70" fill="#36a6be" opacity="0.79" transform="rotate(127 359.8 421.3)"/>
<ellipse cx="341.9" cy="411.6" rx="0.92" ry="0.54" fill="#36a6be" opacity="0.89" transform="rotate(3 341.9 411.6)"/>
<ellipse cx="283.1" cy="423.4" rx="1.17" ry="0.35" fill="#7dbfcb" opacity="0.49" transform="rotate(98 283.1 423.4)"/>
<ellipse cx="283.5" cy="432.8" rx="1.31" ry="0.46" fill="#93c9d2" opacity="0.56" transform="rotate(168 283.5 432.8)"/>
<ellipse cx="365.4" cy="410.0" rx="1.65" ry="0.60" fill="#2c9fbb" opacity="0.87" transform="rotate(151 365.4 410.0)"/>
<ellipse cx="367.2" cy="410.6" rx="1.38" ry="0.88" fill="#2690aa" opacity="0.93" transform="rotate(120 367.2 410.6)"/>
<ellipse cx="367.1" cy="459.1" rx="1.44" ry="0.86" fill="#2a9cb6" opacity="0.74" transform="rotate(49 367.1 459.1)"/>
<ellipse cx="339.0" cy="437.6" rx="0.76" ry="0.62" fill="#7dbfcb" opacity="0.52" transform="rotate(21 339.0 437.6)"/>
<ellipse cx="361.1" cy="399.5" rx="1.10" ry="0.51" fill="#7dbfcb" opacity="0.49" transform="rotate(59 361.1 399.5)"/>
<ellipse cx="332.4" cy="412.1" rx="0.94" ry="0.59" fill="#36a6be" opacity="0.88" transform="rotate(152 332.4 412.1)"/>
<ellipse cx="337.3" cy="434.4" rx="1.10" ry="0.61" fill="#93c9d2" opacity="0.57" transform="rotate(21 337.3 434.4)"/>
<ellipse cx="363.2" cy="463.7" rx="0.62" ry="0.60" fill="#93c9d2" opacity="0.54" transform="rotate(80 363.2 463.7)"/>
<ellipse cx="294.4" cy="430.9" rx="1.00" ry="0.65" fill="#7dbfcb" opacity="0.72" transform="rotate(147 294.4 430.9)"/>
<ellipse cx="338.0" cy="439.9" rx="0.66" ry="0.55" fill="#6cb4c2" opacity="0.74" transform="rotate(26 338.0 439.9)"/>
<ellipse cx="314.6" cy="425.4" rx="1.59" ry="0.68" fill="#93c9d2" opacity="0.46" transform="rotate(57 314.6 425.4)"/>
<ellipse cx="356.9" cy="447.4" rx="1.13" ry="0.70" fill="#2c9fbb" opacity="1.00" transform="rotate(17 356.9 447.4)"/>
<ellipse cx="322.1" cy="402.1" rx="1.12" ry="0.70" fill="#93c9d2" opacity="0.62" transform="rotate(76 322.1 402.1)"/>
<ellipse cx="289.2" cy="433.8" rx="1.12" ry="0.70" fill="#2a9cb6" opacity="0.83" transform="rotate(3 289.2 433.8)"/>
<ellipse cx="361.9" cy="455.4" rx="0.84" ry="0.40" fill="#93c9d2" opacity="0.53" transform="rotate(126 361.9 455.4)"/>
<ellipse cx="329.5" cy="436.5" rx="0.62" ry="0.67" fill="#7dbfcb" opacity="0.67" transform="rotate(170 329.5 436.5)"/>
<ellipse cx="340.7" cy="415.8" rx="1.79" ry="0.55" fill="#2690aa" opacity="0.85" transform="rotate(124 340.7 415.8)"/>
<ellipse cx="334.1" cy="444.4" rx="1.22" ry="0.68" fill="#36a6be" opacity="0.74" transform="rotate(10 334.1 444.4)"/>
<ellipse cx="344.8" cy="441.8" rx="0.89" ry="0.49" fill="#93c9d2" opacity="0.69" transform="rotate(25 344.8 441.8)"/>
<ellipse cx="308.9" cy="445.9" rx="0.89" ry="0.41" fill="#93c9d2" opacity="0.80" transform="rotate(29 308.9 445.9)"/>
</g>
<rect x="279.00" y="399.10" width="92.50" height="69.20" fill="none" stroke="#6c6c6c" stroke-width="0.7"/>
<rect x="358.90" y="463.00" width="11.40" height="2.80" fill="#111" />
<text x="423.20" y="395.06" font-size="7.4" fill="#3a3a3a" text-anchor="middle" textLength="17.50" lengthAdjust="spacingAndGlyphs">1 day</text>
<rect x="376.60" y="399.10" width="92.00" height="69.20" fill="#e8e9e8"/>
<g clip-path="url(#clip101)">
<line x1="430.1" y1="412.6" x2="424.4" y2="413.2" stroke="#8fc3cf" stroke-width="0.35" opacity="0.6"/>
<line x1="419.6" y1="445.0" x2="421.8" y2="446.8" stroke="#8fc3cf" stroke-width="0.35" opacity="0.6"/>
<line x1="403.1" y1="447.0" x2="407.8" y2="450.7" stroke="#8fc3cf" stroke-width="0.35" opacity="0.6"/>
<line x1="383.1" y1="412.5" x2="388.0" y2="413.9" stroke="#8fc3cf" stroke-width="0.35" opacity="0.6"/>
<line x1="410.3" y1="431.7" x2="412.7" y2="435.6" stroke="#8fc3cf" stroke-width="0.35" opacity="0.6"/>
<line x1="413.8" y1="413.5" x2="414.5" y2="416.7" stroke="#8fc3cf" stroke-width="0.35" opacity="0.6"/>
<line x1="386.8" y1="456.1" x2="384.3" y2="460.0" stroke="#8fc3cf" stroke-width="0.35" opacity="0.6"/>
<line x1="457.8" y1="426.4" x2="459.2" y2="429.8" stroke="#8fc3cf" stroke-width="0.35" opacity="0.6"/>
<line x1="413.8" y1="445.4" x2="417.7" y2="445.5" stroke="#8fc3cf" stroke-width="0.35" opacity="0.6"/>
<line x1="425.8" y1="423.0" x2="430.6" y2="423.3" stroke="#8fc3cf" stroke-width="0.35" opacity="0.6"/>
<line x1="377.5" y1="438.2" x2="379.4" y2="439.1" stroke="#8fc3cf" stroke-width="0.35" opacity="0.6"/>
<line x1="393.2" y1="403.6" x2="397.5" y2="405.8" stroke="#8fc3cf" stroke-width="0.35" opacity="0.6"/>
<line x1="443.6" y1="424.2" x2="441.8" y2="427.7" stroke="#8fc3cf" stroke-width="0.35" opacity="0.6"/>
<line x1="422.5" y1="459.7" x2="425.5" y2="464.3" stroke="#8fc3cf" stroke-width="0.35" opacity="0.6"/>
<line x1="440.2" y1="446.4" x2="442.5" y2="446.4" stroke="#8fc3cf" stroke-width="0.35" opacity="0.6"/>
<line x1="379.5" y1="423.0" x2="374.1" y2="424.0" stroke="#8fc3cf" stroke-width="0.35" opacity="0.6"/>
<line x1="453.7" y1="407.3" x2="450.7" y2="411.4" stroke="#8fc3cf" stroke-width="0.35" opacity="0.6"/>
<line x1="451.1" y1="453.9" x2="453.5" y2="455.1" stroke="#8fc3cf" stroke-width="0.35" opacity="0.6"/>
<line x1="449.5" y1="450.2" x2="445.9" y2="451.4" stroke="#8fc3cf" stroke-width="0.35" opacity="0.6"/>
<line x1="458.4" y1="408.7" x2="453.0" y2="409.5" stroke="#8fc3cf" stroke-width="0.35" opacity="0.6"/>
<line x1="407.7" y1="403.8" x2="406.9" y2="408.5" stroke="#8fc3cf" stroke-width="0.35" opacity="0.6"/>
<line x1="408.8" y1="403.1" x2="412.2" y2="407.1" stroke="#8fc3cf" stroke-width="0.35" opacity="0.6"/>
<line x1="384.9" y1="464.0" x2="386.9" y2="466.0" stroke="#8fc3cf" stroke-width="0.35" opacity="0.6"/>
<line x1="386.9" y1="467.0" x2="383.8" y2="468.0" stroke="#8fc3cf" stroke-width="0.35" opacity="0.6"/>
<line x1="385.4" y1="444.3" x2="383.5" y2="445.0" stroke="#8fc3cf" stroke-width="0.35" opacity="0.6"/>
<line x1="434.8" y1="458.4" x2="435.4" y2="462.6" stroke="#8fc3cf" stroke-width="0.35" opacity="0.6"/>
<line x1="450.6" y1="415.6" x2="453.6" y2="419.1" stroke="#8fc3cf" stroke-width="0.35" opacity="0.6"/>
<line x1="427.4" y1="436.1" x2="430.3" y2="441.1" stroke="#8fc3cf" stroke-width="0.35" opacity="0.6"/>
<line x1="403.1" y1="446.1" x2="399.7" y2="447.3" stroke="#8fc3cf" stroke-width="0.35" opacity="0.6"/>
<line x1="381.6" y1="414.4" x2="384.1" y2="414.9" stroke="#8fc3cf" stroke-width="0.35" opacity="0.6"/>
<line x1="387.7" y1="422.8" x2="389.2" y2="426.3" stroke="#8fc3cf" stroke-width="0.35" opacity="0.6"/>
<line x1="437.8" y1="445.9" x2="435.9" y2="448.8" stroke="#8fc3cf" stroke-width="0.35" opacity="0.6"/>
<line x1="437.6" y1="437.1" x2="441.4" y2="438.8" stroke="#8fc3cf" stroke-width="0.35" opacity="0.6"/>
<line x1="405.9" y1="445.9" x2="403.9" y2="448.1" stroke="#8fc3cf" stroke-width="0.35" opacity="0.6"/>
<line x1="416.6" y1="430.6" x2="417.9" y2="432.3" stroke="#8fc3cf" stroke-width="0.35" opacity="0.6"/>
<line x1="381.2" y1="467.8" x2="378.6" y2="470.5" stroke="#8fc3cf" stroke-width="0.35" opacity="0.6"/>
<line x1="437.9" y1="417.7" x2="434.4" y2="422.3" stroke="#8fc3cf" stroke-width="0.35" opacity="0.6"/>
<line x1="447.7" y1="431.3" x2="442.1" y2="431.6" stroke="#8fc3cf" stroke-width="0.35" opacity="0.6"/>
<line x1="382.0" y1="427.6" x2="382.4" y2="430.7" stroke="#8fc3cf" stroke-width="0.35" opacity="0.6"/>
<line x1="433.3" y1="409.0" x2="429.5" y2="412.9" stroke="#8fc3cf" stroke-width="0.35" opacity="0.6"/>
<line x1="382.3" y1="447.0" x2="385.3" y2="450.4" stroke="#8fc3cf" stroke-width="0.35" opacity="0.6"/>
<line x1="440.2" y1="466.7" x2="437.5" y2="468.7" stroke="#8fc3cf" stroke-width="0.35" opacity="0.6"/>
<line x1="443.8" y1="409.3" x2="441.5" y2="412.1" stroke="#8fc3cf" stroke-width="0.35" opacity="0.6"/>
<line x1="401.0" y1="415.6" x2="405.0" y2="418.9" stroke="#8fc3cf" stroke-width="0.35" opacity="0.6"/>
<line x1="385.4" y1="415.2" x2="387.6" y2="416.7" stroke="#8fc3cf" stroke-width="0.35" opacity="0.6"/>
<line x1="443.8" y1="439.7" x2="441.0" y2="444.6" stroke="#8fc3cf" stroke-width="0.35" opacity="0.6"/>
<line x1="417.9" y1="401.7" x2="421.3" y2="404.0" stroke="#8fc3cf" stroke-width="0.35" opacity="0.6"/>
<line x1="442.4" y1="462.7" x2="442.3" y2="465.6" stroke="#8fc3cf" stroke-width="0.35" opacity="0.6"/>
<line x1="431.1" y1="463.8" x2="434.0" y2="468.7" stroke="#8fc3cf" stroke-width="0.35" opacity="0.6"/>
<line x1="459.8" y1="439.0" x2="459.9" y2="441.5" stroke="#8fc3cf" stroke-width="0.35" opacity="0.6"/>
<line x1="386.8" y1="401.9" x2="385.1" y2="406.5" stroke="#8fc3cf" stroke-width="0.35" opacity="0.6"/>
<line x1="468.0" y1="440.8" x2="464.4" y2="440.9" stroke="#8fc3cf" stroke-width="0.35" opacity="0.6"/>
<line x1="388.9" y1="403.2" x2="391.5" y2="406.5" stroke="#8fc3cf" stroke-width="0.35" opacity="0.6"/>
<line x1="467.3" y1="419.7" x2="470.9" y2="423.0" stroke="#8fc3cf" stroke-width="0.35" opacity="0.6"/>
<line x1="412.3" y1="437.7" x2="417.1" y2="440.2" stroke="#8fc3cf" stroke-width="0.35" opacity="0.6"/>
<line x1="461.2" y1="451.4" x2="457.9" y2="452.0" stroke="#8fc3cf" stroke-width="0.35" opacity="0.6"/>
<line x1="379.6" y1="420.2" x2="375.9" y2="421.4" stroke="#8fc3cf" stroke-width="0.35" opacity="0.6"/>
<line x1="395.0" y1="409.6" x2="398.3" y2="411.4" stroke="#8fc3cf" stroke-width="0.35" opacity="0.6"/>
<line x1="461.8" y1="460.3" x2="458.1" y2="463.7" stroke="#8fc3cf" stroke-width="0.35" opacity="0.6"/>
<line x1="394.2" y1="452.9" x2="397.3" y2="455.6" stroke="#8fc3cf" stroke-width="0.35" opacity="0.6"/>
<ellipse cx="379.7" cy="460.9" rx="1.70" ry="0.68" fill="#2690aa" opacity="0.93" transform="rotate(168 379.7 460.9)"/>
<ellipse cx="400.9" cy="466.9" rx="1.33" ry="0.45" fill="#93c9d2" opacity="0.48" transform="rotate(154 400.9 466.9)"/>
<ellipse cx="380.7" cy="464.6" rx="1.18" ry="0.70" fill="#2a9cb6" opacity="0.77" transform="rotate(70 380.7 464.6)"/>
<ellipse cx="386.2" cy="449.9" rx="1.40" ry="0.41" fill="#6cb4c2" opacity="0.73" transform="rotate(175 386.2 449.9)"/>
<ellipse cx="443.6" cy="446.5" rx="0.96" ry="0.77" fill="#2c9fbb" opacity="0.74" transform="rotate(54 443.6 446.5)"/>
<ellipse cx="397.9" cy="459.9" rx="1.38" ry="0.30" fill="#7dbfcb" opacity="0.64" transform="rotate(125 397.9 459.9)"/>
<ellipse cx="402.9" cy="442.4" rx="1.13" ry="0.61" fill="#7dbfcb" opacity="0.58" transform="rotate(139 402.9 442.4)"/>
<ellipse cx="444.9" cy="426.0" rx="1.20" ry="0.65" fill="#93c9d2" opacity="0.48" transform="rotate(82 444.9 426.0)"/>
<ellipse cx="451.5" cy="456.6" rx="1.03" ry="0.80" fill="#2a9cb6" opacity="0.87" transform="rotate(180 451.5 456.6)"/>
<ellipse cx="426.2" cy="452.1" rx="1.60" ry="0.32" fill="#93c9d2" opacity="0.72" transform="rotate(133 426.2 452.1)"/>
<ellipse cx="430.4" cy="400.0" rx="1.36" ry="0.61" fill="#36a6be" opacity="0.86" transform="rotate(102 430.4 400.0)"/>
<ellipse cx="457.5" cy="466.9" rx="0.81" ry="0.32" fill="#6cb4c2" opacity="0.69" transform="rotate(34 457.5 466.9)"/>
<ellipse cx="420.4" cy="441.0" rx="0.80" ry="0.50" fill="#93c9d2" opacity="0.51" transform="rotate(87 420.4 441.0)"/>
<ellipse cx="382.1" cy="423.9" rx="1.34" ry="0.30" fill="#6cb4c2" opacity="0.54" transform="rotate(58 382.1 423.9)"/>
<ellipse cx="390.8" cy="415.0" rx="1.55" ry="0.46" fill="#7dbfcb" opacity="0.80" transform="rotate(115 390.8 415.0)"/>
<ellipse cx="394.9" cy="409.3" rx="1.57" ry="0.58" fill="#93c9d2" opacity="0.57" transform="rotate(57 394.9 409.3)"/>
<ellipse cx="429.3" cy="419.5" rx="0.96" ry="0.87" fill="#2c9fbb" opacity="0.99" transform="rotate(128 429.3 419.5)"/>
<ellipse cx="377.6" cy="406.6" rx="1.09" ry="0.67" fill="#7dbfcb" opacity="0.54" transform="rotate(38 377.6 406.6)"/>
<ellipse cx="386.2" cy="427.8" rx="0.61" ry="0.37" fill="#93c9d2" opacity="0.76" transform="rotate(23 386.2 427.8)"/>
<ellipse cx="431.4" cy="427.2" rx="0.69" ry="0.37" fill="#6cb4c2" opacity="0.57" transform="rotate(142 431.4 427.2)"/>
<ellipse cx="427.8" cy="445.6" rx="0.85" ry="0.65" fill="#2a9cb6" opacity="0.75" transform="rotate(129 427.8 445.6)"/>
<ellipse cx="395.1" cy="459.2" rx="1.37" ry="0.39" fill="#6cb4c2" opacity="0.63" transform="rotate(65 395.1 459.2)"/>
<ellipse cx="377.7" cy="431.3" rx="1.57" ry="0.43" fill="#6cb4c2" opacity="0.53" transform="rotate(76 377.7 431.3)"/>
<ellipse cx="416.9" cy="447.6" rx="1.60" ry="0.65" fill="#2690aa" opacity="0.85" transform="rotate(103 416.9 447.6)"/>
<ellipse cx="465.6" cy="403.1" rx="0.85" ry="0.62" fill="#93c9d2" opacity="0.58" transform="rotate(31 465.6 403.1)"/>
<ellipse cx="426.0" cy="461.7" rx="1.67" ry="0.54" fill="#2690aa" opacity="0.78" transform="rotate(128 426.0 461.7)"/>
<ellipse cx="409.4" cy="441.8" rx="0.94" ry="0.41" fill="#6cb4c2" opacity="0.60" transform="rotate(102 409.4 441.8)"/>
<ellipse cx="445.3" cy="427.9" rx="0.67" ry="0.42" fill="#7dbfcb" opacity="0.60" transform="rotate(179 445.3 427.9)"/>
<ellipse cx="394.6" cy="451.8" rx="1.56" ry="0.33" fill="#7dbfcb" opacity="0.79" transform="rotate(97 394.6 451.8)"/>
<ellipse cx="390.6" cy="400.4" rx="1.09" ry="0.73" fill="#2a9cb6" opacity="0.86" transform="rotate(15 390.6 400.4)"/>
<ellipse cx="408.1" cy="405.9" rx="1.64" ry="0.59" fill="#93c9d2" opacity="0.59" transform="rotate(13 408.1 405.9)"/>
<ellipse cx="386.5" cy="420.3" rx="0.82" ry="0.31" fill="#6cb4c2" opacity="0.48" transform="rotate(88 386.5 420.3)"/>
<ellipse cx="386.7" cy="435.1" rx="1.18" ry="0.86" fill="#2690aa" opacity="0.76" transform="rotate(152 386.7 435.1)"/>
<ellipse cx="383.6" cy="410.2" rx="1.00" ry="0.76" fill="#36a6be" opacity="0.73" transform="rotate(134 383.6 410.2)"/>
<ellipse cx="455.3" cy="401.9" rx="1.66" ry="0.59" fill="#6cb4c2" opacity="0.51" transform="rotate(10 455.3 401.9)"/>
<ellipse cx="379.6" cy="410.8" rx="0.65" ry="0.52" fill="#6cb4c2" opacity="0.74" transform="rotate(23 379.6 410.8)"/>
<ellipse cx="421.1" cy="449.6" rx="1.62" ry="0.75" fill="#36a6be" opacity="0.81" transform="rotate(145 421.1 449.6)"/>
<ellipse cx="455.9" cy="452.1" rx="1.32" ry="0.57" fill="#93c9d2" opacity="0.50" transform="rotate(119 455.9 452.1)"/>
<ellipse cx="391.1" cy="450.8" rx="0.74" ry="0.34" fill="#6cb4c2" opacity="0.61" transform="rotate(81 391.1 450.8)"/>
<ellipse cx="463.2" cy="447.7" rx="1.00" ry="0.60" fill="#2a9cb6" opacity="0.74" transform="rotate(15 463.2 447.7)"/>
<ellipse cx="381.0" cy="413.8" rx="1.21" ry="0.35" fill="#7dbfcb" opacity="0.62" transform="rotate(149 381.0 413.8)"/>
<ellipse cx="456.5" cy="458.0" rx="0.80" ry="0.54" fill="#7dbfcb" opacity="0.56" transform="rotate(80 456.5 458.0)"/>
<ellipse cx="393.2" cy="418.0" rx="0.92" ry="0.53" fill="#2a9cb6" opacity="0.95" transform="rotate(158 393.2 418.0)"/>
<ellipse cx="465.9" cy="448.7" rx="1.51" ry="0.55" fill="#93c9d2" opacity="0.77" transform="rotate(113 465.9 448.7)"/>
<ellipse cx="447.5" cy="461.0" rx="1.44" ry="0.81" fill="#2a9cb6" opacity="0.85" transform="rotate(20 447.5 461.0)"/>
<ellipse cx="421.6" cy="451.7" rx="1.40" ry="0.40" fill="#93c9d2" opacity="0.65" transform="rotate(102 421.6 451.7)"/>
<ellipse cx="393.4" cy="429.9" rx="1.20" ry="0.63" fill="#93c9d2" opacity="0.68" transform="rotate(35 393.4 429.9)"/>
<ellipse cx="448.6" cy="411.7" rx="0.92" ry="0.62" fill="#6cb4c2" opacity="0.76" transform="rotate(175 448.6 411.7)"/>
<ellipse cx="409.2" cy="416.6" rx="1.49" ry="0.87" fill="#2690aa" opacity="0.76" transform="rotate(171 409.2 416.6)"/>
<ellipse cx="393.2" cy="415.1" rx="1.46" ry="0.50" fill="#6cb4c2" opacity="0.63" transform="rotate(32 393.2 415.1)"/>
<ellipse cx="436.2" cy="467.4" rx="0.84" ry="0.88" fill="#36a6be" opacity="0.93" transform="rotate(126 436.2 467.4)"/>
<ellipse cx="461.7" cy="428.4" rx="1.53" ry="0.48" fill="#93c9d2" opacity="0.79" transform="rotate(132 461.7 428.4)"/>
<ellipse cx="389.4" cy="454.1" rx="0.87" ry="0.54" fill="#2690aa" opacity="0.98" transform="rotate(52 389.4 454.1)"/>
<ellipse cx="388.9" cy="437.3" rx="0.69" ry="0.70" fill="#7dbfcb" opacity="0.76" transform="rotate(65 388.9 437.3)"/>
<ellipse cx="447.5" cy="453.5" rx="1.14" ry="0.49" fill="#93c9d2" opacity="0.47" transform="rotate(113 447.5 453.5)"/>
<ellipse cx="390.3" cy="465.3" rx="1.44" ry="0.78" fill="#2c9fbb" opacity="0.89" transform="rotate(114 390.3 465.3)"/>
<ellipse cx="439.9" cy="467.3" rx="0.87" ry="0.69" fill="#93c9d2" opacity="0.69" transform="rotate(156 439.9 467.3)"/>
<ellipse cx="423.4" cy="455.1" rx="1.12" ry="0.85" fill="#2690aa" opacity="0.83" transform="rotate(126 423.4 455.1)"/>
<ellipse cx="432.2" cy="432.9" rx="1.72" ry="0.74" fill="#2690aa" opacity="0.74" transform="rotate(22 432.2 432.9)"/>
<ellipse cx="390.5" cy="454.4" rx="1.20" ry="0.47" fill="#6cb4c2" opacity="0.75" transform="rotate(137 390.5 454.4)"/>
<ellipse cx="466.6" cy="420.3" rx="1.12" ry="0.39" fill="#7dbfcb" opacity="0.64" transform="rotate(58 466.6 420.3)"/>
<ellipse cx="444.0" cy="414.8" rx="1.54" ry="0.43" fill="#93c9d2" opacity="0.54" transform="rotate(67 444.0 414.8)"/>
<ellipse cx="426.6" cy="468.1" rx="1.19" ry="0.45" fill="#7dbfcb" opacity="0.63" transform="rotate(174 426.6 468.1)"/>
<ellipse cx="415.5" cy="424.5" rx="0.95" ry="0.50" fill="#6cb4c2" opacity="0.59" transform="rotate(136 415.5 424.5)"/>
<ellipse cx="433.3" cy="449.9" rx="0.68" ry="0.34" fill="#6cb4c2" opacity="0.49" transform="rotate(86 433.3 449.9)"/>
<ellipse cx="406.5" cy="412.8" rx="1.43" ry="0.89" fill="#36a6be" opacity="0.72" transform="rotate(45 406.5 412.8)"/>
<ellipse cx="430.8" cy="460.3" rx="1.23" ry="0.61" fill="#93c9d2" opacity="0.46" transform="rotate(89 430.8 460.3)"/>
<ellipse cx="452.9" cy="467.0" rx="1.44" ry="0.35" fill="#93c9d2" opacity="0.59" transform="rotate(96 452.9 467.0)"/>
<ellipse cx="445.5" cy="467.9" rx="1.11" ry="0.72" fill="#36a6be" opacity="0.86" transform="rotate(36 445.5 467.9)"/>
<ellipse cx="452.3" cy="419.6" rx="0.84" ry="0.50" fill="#7dbfcb" opacity="0.47" transform="rotate(110 452.3 419.6)"/>
<ellipse cx="390.4" cy="430.7" rx="0.97" ry="0.79" fill="#2690aa" opacity="0.86" transform="rotate(164 390.4 430.7)"/>
<ellipse cx="408.4" cy="442.7" rx="1.65" ry="0.51" fill="#6cb4c2" opacity="0.66" transform="rotate(35 408.4 442.7)"/>
<ellipse cx="381.5" cy="442.7" rx="1.50" ry="0.60" fill="#7dbfcb" opacity="0.77" transform="rotate(80 381.5 442.7)"/>
<ellipse cx="413.7" cy="414.6" rx="1.41" ry="0.64" fill="#2690aa" opacity="0.77" transform="rotate(38 413.7 414.6)"/>
<ellipse cx="450.5" cy="461.6" rx="1.29" ry="0.51" fill="#6cb4c2" opacity="0.65" transform="rotate(143 450.5 461.6)"/>
<ellipse cx="459.6" cy="433.8" rx="0.78" ry="0.35" fill="#7dbfcb" opacity="0.68" transform="rotate(66 459.6 433.8)"/>
<ellipse cx="380.8" cy="423.5" rx="1.16" ry="0.73" fill="#2a9cb6" opacity="0.73" transform="rotate(23 380.8 423.5)"/>
<ellipse cx="423.7" cy="412.0" rx="0.72" ry="0.49" fill="#6cb4c2" opacity="0.78" transform="rotate(3 423.7 412.0)"/>
<ellipse cx="402.7" cy="423.6" rx="1.63" ry="0.68" fill="#2c9fbb" opacity="0.84" transform="rotate(126 402.7 423.6)"/>
<ellipse cx="417.7" cy="450.8" rx="1.75" ry="0.88" fill="#36a6be" opacity="0.83" transform="rotate(166 417.7 450.8)"/>
<ellipse cx="393.8" cy="421.6" rx="1.48" ry="0.63" fill="#93c9d2" opacity="0.73" transform="rotate(19 393.8 421.6)"/>
<ellipse cx="443.9" cy="401.2" rx="0.75" ry="0.46" fill="#6cb4c2" opacity="0.70" transform="rotate(120 443.9 401.2)"/>
<ellipse cx="413.1" cy="449.5" rx="1.05" ry="0.74" fill="#2a9cb6" opacity="0.80" transform="rotate(18 413.1 449.5)"/>
<ellipse cx="407.4" cy="448.5" rx="1.04" ry="0.84" fill="#2c9fbb" opacity="0.75" transform="rotate(142 407.4 448.5)"/>
<ellipse cx="423.4" cy="400.4" rx="1.67" ry="0.55" fill="#93c9d2" opacity="0.68" transform="rotate(147 423.4 400.4)"/>
<ellipse cx="399.4" cy="419.1" rx="1.29" ry="0.57" fill="#6cb4c2" opacity="0.49" transform="rotate(110 399.4 419.1)"/>
<ellipse cx="412.3" cy="423.6" rx="1.20" ry="0.48" fill="#7dbfcb" opacity="0.52" transform="rotate(91 412.3 423.6)"/>
<ellipse cx="437.3" cy="406.7" rx="1.32" ry="0.63" fill="#7dbfcb" opacity="0.67" transform="rotate(85 437.3 406.7)"/>
<ellipse cx="462.3" cy="430.3" rx="1.16" ry="0.44" fill="#93c9d2" opacity="0.69" transform="rotate(92 462.3 430.3)"/>
<ellipse cx="421.0" cy="429.4" rx="0.76" ry="0.40" fill="#93c9d2" opacity="0.73" transform="rotate(57 421.0 429.4)"/>
<ellipse cx="400.8" cy="441.2" rx="1.58" ry="0.63" fill="#36a6be" opacity="0.81" transform="rotate(95 400.8 441.2)"/>
<ellipse cx="430.7" cy="423.4" rx="1.07" ry="0.63" fill="#6cb4c2" opacity="0.77" transform="rotate(59 430.7 423.4)"/>
<ellipse cx="378.3" cy="420.1" rx="1.19" ry="0.66" fill="#36a6be" opacity="0.74" transform="rotate(101 378.3 420.1)"/>
<ellipse cx="403.9" cy="431.2" rx="1.64" ry="0.33" fill="#7dbfcb" opacity="0.75" transform="rotate(9 403.9 431.2)"/>
<ellipse cx="408.7" cy="424.7" rx="1.67" ry="0.77" fill="#36a6be" opacity="0.86" transform="rotate(71 408.7 424.7)"/>
<ellipse cx="394.0" cy="464.5" rx="0.97" ry="0.35" fill="#6cb4c2" opacity="0.47" transform="rotate(43 394.0 464.5)"/>
<ellipse cx="399.2" cy="435.0" rx="1.59" ry="0.59" fill="#93c9d2" opacity="0.74" transform="rotate(12 399.2 435.0)"/>
<ellipse cx="381.5" cy="418.6" rx="1.56" ry="0.64" fill="#93c9d2" opacity="0.59" transform="rotate(147 381.5 418.6)"/>
<ellipse cx="407.7" cy="443.5" rx="1.66" ry="0.67" fill="#93c9d2" opacity="0.63" transform="rotate(92 407.7 443.5)"/>
<ellipse cx="387.5" cy="447.3" rx="1.02" ry="0.82" fill="#2a9cb6" opacity="0.94" transform="rotate(51 387.5 447.3)"/>
<ellipse cx="443.0" cy="462.7" rx="1.40" ry="0.44" fill="#93c9d2" opacity="0.63" transform="rotate(48 443.0 462.7)"/>
<ellipse cx="449.8" cy="453.5" rx="0.87" ry="0.45" fill="#6cb4c2" opacity="0.79" transform="rotate(42 449.8 453.5)"/>
<ellipse cx="448.2" cy="432.3" rx="0.96" ry="0.47" fill="#7dbfcb" opacity="0.76" transform="rotate(20 448.2 432.3)"/>
<ellipse cx="462.5" cy="404.4" rx="0.89" ry="0.69" fill="#7dbfcb" opacity="0.65" transform="rotate(123 462.5 404.4)"/>
<ellipse cx="413.8" cy="402.5" rx="0.73" ry="0.49" fill="#6cb4c2" opacity="0.54" transform="rotate(13 413.8 402.5)"/>
<ellipse cx="435.3" cy="441.0" rx="0.64" ry="0.48" fill="#6cb4c2" opacity="0.47" transform="rotate(94 435.3 441.0)"/>
<ellipse cx="442.1" cy="422.3" rx="0.91" ry="0.67" fill="#6cb4c2" opacity="0.47" transform="rotate(63 442.1 422.3)"/>
<ellipse cx="392.0" cy="466.6" rx="1.26" ry="0.59" fill="#93c9d2" opacity="0.46" transform="rotate(35 392.0 466.6)"/>
<ellipse cx="432.1" cy="413.5" rx="1.51" ry="0.67" fill="#93c9d2" opacity="0.68" transform="rotate(75 432.1 413.5)"/>
<ellipse cx="378.0" cy="452.0" rx="1.05" ry="0.43" fill="#7dbfcb" opacity="0.57" transform="rotate(100 378.0 452.0)"/>
<ellipse cx="391.2" cy="434.8" rx="1.61" ry="0.43" fill="#93c9d2" opacity="0.64" transform="rotate(86 391.2 434.8)"/>
<ellipse cx="408.9" cy="399.3" rx="1.67" ry="0.47" fill="#6cb4c2" opacity="0.57" transform="rotate(111 408.9 399.3)"/>
<ellipse cx="463.5" cy="420.7" rx="1.48" ry="0.54" fill="#2c9fbb" opacity="0.92" transform="rotate(7 463.5 420.7)"/>
<ellipse cx="465.6" cy="449.0" rx="1.71" ry="0.90" fill="#2c9fbb" opacity="0.96" transform="rotate(21 465.6 449.0)"/>
<ellipse cx="412.4" cy="459.5" rx="1.35" ry="0.76" fill="#2a9cb6" opacity="0.93" transform="rotate(103 412.4 459.5)"/>
<ellipse cx="415.2" cy="464.7" rx="1.32" ry="0.49" fill="#93c9d2" opacity="0.46" transform="rotate(43 415.2 464.7)"/>
<ellipse cx="421.1" cy="464.0" rx="1.68" ry="0.40" fill="#6cb4c2" opacity="0.46" transform="rotate(34 421.1 464.0)"/>
<ellipse cx="442.2" cy="405.5" rx="1.17" ry="0.43" fill="#6cb4c2" opacity="0.75" transform="rotate(49 442.2 405.5)"/>
<ellipse cx="427.0" cy="415.1" rx="0.66" ry="0.62" fill="#93c9d2" opacity="0.66" transform="rotate(31 427.0 415.1)"/>
<ellipse cx="378.1" cy="442.1" rx="1.01" ry="0.38" fill="#93c9d2" opacity="0.54" transform="rotate(177 378.1 442.1)"/>
<ellipse cx="449.2" cy="415.6" rx="0.85" ry="0.40" fill="#93c9d2" opacity="0.61" transform="rotate(63 449.2 415.6)"/>
<ellipse cx="416.2" cy="431.9" rx="1.13" ry="0.37" fill="#93c9d2" opacity="0.78" transform="rotate(159 416.2 431.9)"/>
<ellipse cx="465.1" cy="427.2" rx="1.58" ry="0.48" fill="#93c9d2" opacity="0.79" transform="rotate(59 465.1 427.2)"/>
<ellipse cx="398.1" cy="416.7" rx="1.18" ry="0.63" fill="#36a6be" opacity="0.73" transform="rotate(71 398.1 416.7)"/>
<ellipse cx="402.9" cy="454.6" rx="1.49" ry="0.74" fill="#2a9cb6" opacity="0.77" transform="rotate(175 402.9 454.6)"/>
<ellipse cx="442.1" cy="417.9" rx="1.09" ry="0.62" fill="#2c9fbb" opacity="0.86" transform="rotate(4 442.1 417.9)"/>
<ellipse cx="399.0" cy="465.0" rx="1.38" ry="0.61" fill="#36a6be" opacity="0.91" transform="rotate(109 399.0 465.0)"/>
<ellipse cx="406.6" cy="464.0" rx="1.53" ry="0.67" fill="#93c9d2" opacity="0.71" transform="rotate(41 406.6 464.0)"/>
<ellipse cx="430.4" cy="411.9" rx="1.14" ry="0.53" fill="#6cb4c2" opacity="0.46" transform="rotate(100 430.4 411.9)"/>
<ellipse cx="398.5" cy="404.6" rx="0.86" ry="0.45" fill="#93c9d2" opacity="0.69" transform="rotate(2 398.5 404.6)"/>
<ellipse cx="405.0" cy="457.6" rx="1.56" ry="0.84" fill="#2c9fbb" opacity="0.71" transform="rotate(152 405.0 457.6)"/>
<ellipse cx="449.2" cy="448.7" rx="1.06" ry="0.49" fill="#93c9d2" opacity="0.79" transform="rotate(34 449.2 448.7)"/>
<ellipse cx="453.3" cy="448.3" rx="0.92" ry="0.45" fill="#6cb4c2" opacity="0.72" transform="rotate(32 453.3 448.3)"/>
<ellipse cx="421.5" cy="409.2" rx="1.65" ry="0.42" fill="#93c9d2" opacity="0.75" transform="rotate(17 421.5 409.2)"/>
<ellipse cx="439.1" cy="438.1" rx="1.49" ry="0.87" fill="#36a6be" opacity="0.73" transform="rotate(106 439.1 438.1)"/>
<ellipse cx="459.4" cy="425.7" rx="1.29" ry="0.67" fill="#2c9fbb" opacity="0.76" transform="rotate(49 459.4 425.7)"/>
<ellipse cx="421.9" cy="418.4" rx="1.08" ry="0.48" fill="#93c9d2" opacity="0.66" transform="rotate(174 421.9 418.4)"/>
<ellipse cx="465.7" cy="459.7" rx="0.83" ry="0.37" fill="#93c9d2" opacity="0.61" transform="rotate(112 465.7 459.7)"/>
<ellipse cx="441.2" cy="403.7" rx="0.94" ry="0.60" fill="#7dbfcb" opacity="0.71" transform="rotate(99 441.2 403.7)"/>
<ellipse cx="388.9" cy="434.8" rx="1.10" ry="0.60" fill="#7dbfcb" opacity="0.54" transform="rotate(43 388.9 434.8)"/>
<ellipse cx="378.0" cy="452.4" rx="1.27" ry="0.87" fill="#2c9fbb" opacity="0.79" transform="rotate(73 378.0 452.4)"/>
<ellipse cx="383.3" cy="415.0" rx="1.19" ry="0.39" fill="#93c9d2" opacity="0.68" transform="rotate(60 383.3 415.0)"/>
<ellipse cx="457.1" cy="467.0" rx="1.08" ry="0.59" fill="#36a6be" opacity="0.92" transform="rotate(66 457.1 467.0)"/>
<ellipse cx="421.1" cy="414.7" rx="1.29" ry="0.62" fill="#2690aa" opacity="0.81" transform="rotate(170 421.1 414.7)"/>
<ellipse cx="436.9" cy="458.6" rx="1.05" ry="0.76" fill="#36a6be" opacity="0.83" transform="rotate(18 436.9 458.6)"/>
<ellipse cx="464.3" cy="409.0" rx="1.57" ry="0.45" fill="#93c9d2" opacity="0.51" transform="rotate(72 464.3 409.0)"/>
<ellipse cx="400.8" cy="413.1" rx="1.66" ry="0.82" fill="#36a6be" opacity="0.72" transform="rotate(80 400.8 413.1)"/>
<ellipse cx="452.8" cy="418.5" rx="0.62" ry="0.49" fill="#93c9d2" opacity="0.75" transform="rotate(180 452.8 418.5)"/>
<ellipse cx="465.1" cy="418.7" rx="1.00" ry="0.51" fill="#36a6be" opacity="0.94" transform="rotate(147 465.1 418.7)"/>
<ellipse cx="426.8" cy="452.6" rx="0.75" ry="0.66" fill="#93c9d2" opacity="0.60" transform="rotate(43 426.8 452.6)"/>
<ellipse cx="388.2" cy="450.1" rx="1.24" ry="0.81" fill="#2c9fbb" opacity="0.97" transform="rotate(28 388.2 450.1)"/>
<ellipse cx="438.7" cy="421.5" rx="1.59" ry="0.65" fill="#2c9fbb" opacity="0.86" transform="rotate(64 438.7 421.5)"/>
<ellipse cx="441.7" cy="445.4" rx="1.03" ry="0.70" fill="#36a6be" opacity="0.75" transform="rotate(74 441.7 445.4)"/>
<ellipse cx="383.8" cy="453.3" rx="1.14" ry="0.44" fill="#7dbfcb" opacity="0.61" transform="rotate(164 383.8 453.3)"/>
<ellipse cx="450.4" cy="458.5" rx="1.43" ry="0.88" fill="#2a9cb6" opacity="0.93" transform="rotate(99 450.4 458.5)"/>
<ellipse cx="444.1" cy="426.8" rx="0.93" ry="0.88" fill="#2c9fbb" opacity="0.78" transform="rotate(75 444.1 426.8)"/>
<ellipse cx="429.5" cy="427.8" rx="0.98" ry="0.45" fill="#6cb4c2" opacity="0.75" transform="rotate(28 429.5 427.8)"/>
<ellipse cx="450.1" cy="458.2" rx="1.31" ry="0.50" fill="#6cb4c2" opacity="0.80" transform="rotate(121 450.1 458.2)"/>
<ellipse cx="426.8" cy="424.2" rx="0.70" ry="0.68" fill="#7dbfcb" opacity="0.55" transform="rotate(31 426.8 424.2)"/>
<ellipse cx="394.2" cy="419.2" rx="1.38" ry="0.63" fill="#6cb4c2" opacity="0.52" transform="rotate(47 394.2 419.2)"/>
<ellipse cx="440.3" cy="445.2" rx="1.02" ry="0.45" fill="#93c9d2" opacity="0.72" transform="rotate(163 440.3 445.2)"/>
<ellipse cx="448.5" cy="422.7" rx="1.36" ry="0.69" fill="#7dbfcb" opacity="0.71" transform="rotate(150 448.5 422.7)"/>
<ellipse cx="382.9" cy="439.8" rx="1.45" ry="0.51" fill="#2690aa" opacity="0.95" transform="rotate(176 382.9 439.8)"/>
<ellipse cx="399.6" cy="404.9" rx="0.75" ry="0.65" fill="#6cb4c2" opacity="0.61" transform="rotate(77 399.6 404.9)"/>
<ellipse cx="427.3" cy="431.9" rx="0.69" ry="0.48" fill="#93c9d2" opacity="0.57" transform="rotate(82 427.3 431.9)"/>
<ellipse cx="396.7" cy="424.2" rx="1.54" ry="0.33" fill="#6cb4c2" opacity="0.51" transform="rotate(171 396.7 424.2)"/>
<ellipse cx="407.6" cy="459.7" rx="0.61" ry="0.38" fill="#93c9d2" opacity="0.75" transform="rotate(97 407.6 459.7)"/>
<ellipse cx="396.7" cy="458.7" rx="1.30" ry="0.52" fill="#36a6be" opacity="0.96" transform="rotate(147 396.7 458.7)"/>
<ellipse cx="412.0" cy="438.3" rx="0.66" ry="0.33" fill="#7dbfcb" opacity="0.72" transform="rotate(117 412.0 438.3)"/>
<ellipse cx="386.3" cy="446.2" rx="0.94" ry="0.60" fill="#93c9d2" opacity="0.72" transform="rotate(134 386.3 446.2)"/>
<ellipse cx="449.0" cy="455.3" rx="0.95" ry="0.80" fill="#2c9fbb" opacity="0.99" transform="rotate(8 449.0 455.3)"/>
<ellipse cx="460.1" cy="404.8" rx="1.31" ry="0.63" fill="#93c9d2" opacity="0.55" transform="rotate(129 460.1 404.8)"/>
<ellipse cx="378.4" cy="422.4" rx="1.09" ry="0.80" fill="#2690aa" opacity="0.74" transform="rotate(68 378.4 422.4)"/>
<ellipse cx="432.1" cy="424.8" rx="1.48" ry="0.36" fill="#6cb4c2" opacity="0.74" transform="rotate(160 432.1 424.8)"/>
<ellipse cx="466.6" cy="454.8" rx="0.94" ry="0.42" fill="#93c9d2" opacity="0.69" transform="rotate(27 466.6 454.8)"/>
<ellipse cx="448.1" cy="466.4" rx="1.66" ry="0.87" fill="#2c9fbb" opacity="0.86" transform="rotate(49 448.1 466.4)"/>
<ellipse cx="429.7" cy="452.6" rx="1.66" ry="0.66" fill="#36a6be" opacity="0.82" transform="rotate(77 429.7 452.6)"/>
<ellipse cx="450.0" cy="415.1" rx="1.12" ry="0.81" fill="#36a6be" opacity="0.86" transform="rotate(164 450.0 415.1)"/>
<ellipse cx="453.7" cy="440.9" rx="1.07" ry="0.88" fill="#36a6be" opacity="0.82" transform="rotate(157 453.7 440.9)"/>
<ellipse cx="419.7" cy="457.1" rx="1.24" ry="0.78" fill="#2690aa" opacity="0.77" transform="rotate(8 419.7 457.1)"/>
<ellipse cx="419.3" cy="437.9" rx="1.00" ry="0.31" fill="#7dbfcb" opacity="0.76" transform="rotate(46 419.3 437.9)"/>
<ellipse cx="383.6" cy="411.3" rx="1.30" ry="0.58" fill="#7dbfcb" opacity="0.77" transform="rotate(72 383.6 411.3)"/>
<ellipse cx="456.1" cy="454.2" rx="1.41" ry="0.53" fill="#2690aa" opacity="0.97" transform="rotate(5 456.1 454.2)"/>
<ellipse cx="454.8" cy="447.9" rx="0.90" ry="0.60" fill="#6cb4c2" opacity="0.71" transform="rotate(38 454.8 447.9)"/>
<ellipse cx="467.4" cy="415.4" rx="1.03" ry="0.57" fill="#6cb4c2" opacity="0.68" transform="rotate(47 467.4 415.4)"/>
<ellipse cx="392.8" cy="406.3" rx="0.99" ry="0.51" fill="#7dbfcb" opacity="0.75" transform="rotate(154 392.8 406.3)"/>
<ellipse cx="429.6" cy="462.4" rx="1.21" ry="0.70" fill="#93c9d2" opacity="0.53" transform="rotate(136 429.6 462.4)"/>
<ellipse cx="444.8" cy="418.8" rx="0.68" ry="0.63" fill="#6cb4c2" opacity="0.48" transform="rotate(86 444.8 418.8)"/>
<ellipse cx="439.4" cy="467.3" rx="0.96" ry="0.46" fill="#93c9d2" opacity="0.69" transform="rotate(127 439.4 467.3)"/>
<ellipse cx="397.4" cy="423.2" rx="1.52" ry="0.66" fill="#2a9cb6" opacity="0.91" transform="rotate(75 397.4 423.2)"/>
<ellipse cx="459.8" cy="402.6" rx="1.62" ry="0.89" fill="#2a9cb6" opacity="0.77" transform="rotate(73 459.8 402.6)"/>
<ellipse cx="420.0" cy="466.2" rx="1.37" ry="0.59" fill="#6cb4c2" opacity="0.64" transform="rotate(27 420.0 466.2)"/>
<ellipse cx="411.4" cy="432.0" rx="1.15" ry="0.61" fill="#93c9d2" opacity="0.78" transform="rotate(70 411.4 432.0)"/>
<ellipse cx="466.0" cy="410.4" rx="0.84" ry="0.79" fill="#36a6be" opacity="0.76" transform="rotate(5 466.0 410.4)"/>
<ellipse cx="405.4" cy="466.2" rx="0.74" ry="0.47" fill="#93c9d2" opacity="0.77" transform="rotate(6 405.4 466.2)"/>
<ellipse cx="465.7" cy="404.2" rx="0.77" ry="0.65" fill="#6cb4c2" opacity="0.46" transform="rotate(13 465.7 404.2)"/>
<ellipse cx="435.3" cy="400.0" rx="1.68" ry="0.81" fill="#2a9cb6" opacity="0.80" transform="rotate(169 435.3 400.0)"/>
<ellipse cx="401.3" cy="456.9" rx="1.75" ry="0.85" fill="#2690aa" opacity="0.80" transform="rotate(90 401.3 456.9)"/>
<ellipse cx="402.5" cy="452.6" rx="1.24" ry="0.38" fill="#7dbfcb" opacity="0.66" transform="rotate(88 402.5 452.6)"/>
<ellipse cx="467.6" cy="463.7" rx="1.21" ry="0.73" fill="#2690aa" opacity="0.94" transform="rotate(31 467.6 463.7)"/>
<ellipse cx="425.7" cy="415.0" rx="1.22" ry="0.56" fill="#7dbfcb" opacity="0.68" transform="rotate(103 425.7 415.0)"/>
<ellipse cx="450.3" cy="402.7" rx="1.77" ry="0.71" fill="#2c9fbb" opacity="0.74" transform="rotate(62 450.3 402.7)"/>
<ellipse cx="463.6" cy="425.7" rx="0.89" ry="0.54" fill="#93c9d2" opacity="0.59" transform="rotate(55 463.6 425.7)"/>
<ellipse cx="461.9" cy="450.1" rx="1.25" ry="0.85" fill="#2c9fbb" opacity="0.91" transform="rotate(75 461.9 450.1)"/>
<ellipse cx="409.8" cy="400.4" rx="0.91" ry="0.57" fill="#2a9cb6" opacity="0.79" transform="rotate(135 409.8 400.4)"/>
<ellipse cx="433.2" cy="463.4" rx="1.78" ry="0.60" fill="#2c9fbb" opacity="0.73" transform="rotate(22 433.2 463.4)"/>
<ellipse cx="454.1" cy="423.4" rx="0.62" ry="0.60" fill="#6cb4c2" opacity="0.48" transform="rotate(168 454.1 423.4)"/>
<ellipse cx="443.1" cy="418.4" rx="1.44" ry="0.31" fill="#6cb4c2" opacity="0.58" transform="rotate(34 443.1 418.4)"/>
<ellipse cx="456.2" cy="401.9" rx="0.86" ry="0.31" fill="#7dbfcb" opacity="0.48" transform="rotate(137 456.2 401.9)"/>
<ellipse cx="444.5" cy="439.4" rx="1.58" ry="0.35" fill="#6cb4c2" opacity="0.71" transform="rotate(174 444.5 439.4)"/>
<ellipse cx="433.9" cy="412.7" rx="0.90" ry="0.31" fill="#93c9d2" opacity="0.54" transform="rotate(6 433.9 412.7)"/>
<ellipse cx="468.4" cy="416.0" rx="1.61" ry="0.43" fill="#93c9d2" opacity="0.63" transform="rotate(145 468.4 416.0)"/>
<ellipse cx="398.9" cy="400.5" rx="1.37" ry="0.37" fill="#7dbfcb" opacity="0.68" transform="rotate(75 398.9 400.5)"/>
<ellipse cx="392.1" cy="465.0" rx="0.62" ry="0.62" fill="#6cb4c2" opacity="0.77" transform="rotate(55 392.1 465.0)"/>
<ellipse cx="380.9" cy="450.4" rx="1.44" ry="0.66" fill="#7dbfcb" opacity="0.69" transform="rotate(109 380.9 450.4)"/>
<ellipse cx="378.4" cy="401.9" rx="0.60" ry="0.59" fill="#93c9d2" opacity="0.56" transform="rotate(46 378.4 401.9)"/>
<ellipse cx="405.0" cy="453.1" rx="1.47" ry="0.71" fill="#2a9cb6" opacity="0.79" transform="rotate(60 405.0 453.1)"/>
<ellipse cx="445.8" cy="418.9" rx="1.17" ry="0.65" fill="#7dbfcb" opacity="0.75" transform="rotate(9 445.8 418.9)"/>
<ellipse cx="396.4" cy="447.0" rx="0.60" ry="0.50" fill="#93c9d2" opacity="0.53" transform="rotate(179 396.4 447.0)"/>
<ellipse cx="391.7" cy="465.1" rx="1.26" ry="0.31" fill="#6cb4c2" opacity="0.62" transform="rotate(42 391.7 465.1)"/>
<ellipse cx="439.9" cy="444.8" rx="0.92" ry="0.69" fill="#7dbfcb" opacity="0.71" transform="rotate(23 439.9 444.8)"/>
<ellipse cx="382.2" cy="466.5" rx="0.85" ry="0.39" fill="#6cb4c2" opacity="0.58" transform="rotate(67 382.2 466.5)"/>
<ellipse cx="448.2" cy="443.3" rx="0.60" ry="0.63" fill="#93c9d2" opacity="0.76" transform="rotate(166 448.2 443.3)"/>
<ellipse cx="399.3" cy="405.7" rx="1.01" ry="0.50" fill="#7dbfcb" opacity="0.46" transform="rotate(7 399.3 405.7)"/>
<ellipse cx="390.2" cy="417.7" rx="0.89" ry="0.51" fill="#2c9fbb" opacity="0.90" transform="rotate(60 390.2 417.7)"/>
<ellipse cx="460.4" cy="402.9" rx="0.60" ry="0.45" fill="#7dbfcb" opacity="0.65" transform="rotate(47 460.4 402.9)"/>
<ellipse cx="414.0" cy="407.6" rx="1.43" ry="0.60" fill="#93c9d2" opacity="0.52" transform="rotate(89 414.0 407.6)"/>
<ellipse cx="418.7" cy="401.1" rx="1.33" ry="0.50" fill="#93c9d2" opacity="0.72" transform="rotate(167 418.7 401.1)"/>
<ellipse cx="411.8" cy="437.5" rx="1.44" ry="0.68" fill="#6cb4c2" opacity="0.65" transform="rotate(145 411.8 437.5)"/>
<ellipse cx="425.2" cy="425.8" rx="1.72" ry="0.78" fill="#2a9cb6" opacity="0.96" transform="rotate(46 425.2 425.8)"/>
<ellipse cx="401.9" cy="405.1" rx="1.49" ry="0.31" fill="#93c9d2" opacity="0.61" transform="rotate(59 401.9 405.1)"/>
<ellipse cx="443.6" cy="414.6" rx="1.42" ry="0.35" fill="#93c9d2" opacity="0.47" transform="rotate(105 443.6 414.6)"/>
<ellipse cx="376.8" cy="424.2" rx="0.74" ry="0.55" fill="#7dbfcb" opacity="0.65" transform="rotate(169 376.8 424.2)"/>
<ellipse cx="399.4" cy="421.7" rx="1.07" ry="0.58" fill="#2c9fbb" opacity="0.81" transform="rotate(52 399.4 421.7)"/>
<ellipse cx="450.9" cy="400.1" rx="1.23" ry="0.47" fill="#93c9d2" opacity="0.62" transform="rotate(123 450.9 400.1)"/>
<ellipse cx="409.8" cy="415.8" rx="0.90" ry="0.51" fill="#2690aa" opacity="0.88" transform="rotate(88 409.8 415.8)"/>
<ellipse cx="406.4" cy="419.9" rx="1.52" ry="0.64" fill="#6cb4c2" opacity="0.46" transform="rotate(137 406.4 419.9)"/>
<ellipse cx="439.7" cy="449.7" rx="1.48" ry="0.67" fill="#7dbfcb" opacity="0.55" transform="rotate(46 439.7 449.7)"/>
<ellipse cx="436.5" cy="436.2" rx="1.73" ry="0.79" fill="#2c9fbb" opacity="0.83" transform="rotate(109 436.5 436.2)"/>
<ellipse cx="433.0" cy="442.6" rx="1.07" ry="0.73" fill="#2a9cb6" opacity="0.96" transform="rotate(89 433.0 442.6)"/>
</g>
<rect x="376.60" y="399.10" width="92.00" height="69.20" fill="none" stroke="#6c6c6c" stroke-width="0.7"/>
<rect x="456.00" y="463.00" width="11.40" height="2.80" fill="#111" />
<text x="520.00" y="395.06" font-size="7.4" fill="#3a3a3a" text-anchor="middle" textLength="22.70" lengthAdjust="spacingAndGlyphs">3 days</text>
<rect x="474.40" y="399.10" width="92.20" height="69.20" fill="#e9eaea"/>
<g clip-path="url(#clip102)">
<line x1="488.1" y1="441.7" x2="492.2" y2="444.2" stroke="#8fc3cf" stroke-width="0.35" opacity="0.6"/>
<line x1="530.4" y1="425.7" x2="528.9" y2="429.7" stroke="#8fc3cf" stroke-width="0.35" opacity="0.6"/>
<line x1="478.4" y1="435.8" x2="476.9" y2="439.6" stroke="#8fc3cf" stroke-width="0.35" opacity="0.6"/>
<line x1="555.5" y1="450.0" x2="556.6" y2="452.7" stroke="#8fc3cf" stroke-width="0.35" opacity="0.6"/>
<line x1="486.2" y1="455.2" x2="483.7" y2="458.8" stroke="#8fc3cf" stroke-width="0.35" opacity="0.6"/>
<line x1="515.1" y1="433.8" x2="518.3" y2="436.4" stroke="#8fc3cf" stroke-width="0.35" opacity="0.6"/>
<line x1="487.8" y1="442.1" x2="485.9" y2="446.4" stroke="#8fc3cf" stroke-width="0.35" opacity="0.6"/>
<line x1="497.1" y1="405.5" x2="499.5" y2="409.6" stroke="#8fc3cf" stroke-width="0.35" opacity="0.6"/>
<line x1="521.4" y1="450.8" x2="522.2" y2="454.3" stroke="#8fc3cf" stroke-width="0.35" opacity="0.6"/>
<line x1="558.1" y1="410.7" x2="561.5" y2="413.3" stroke="#8fc3cf" stroke-width="0.35" opacity="0.6"/>
<line x1="532.6" y1="429.1" x2="531.9" y2="432.8" stroke="#8fc3cf" stroke-width="0.35" opacity="0.6"/>
<line x1="536.1" y1="460.6" x2="532.2" y2="463.0" stroke="#8fc3cf" stroke-width="0.35" opacity="0.6"/>
<line x1="517.7" y1="464.7" x2="518.5" y2="469.1" stroke="#8fc3cf" stroke-width="0.35" opacity="0.6"/>
<line x1="554.5" y1="446.4" x2="556.1" y2="451.1" stroke="#8fc3cf" stroke-width="0.35" opacity="0.6"/>
<line x1="529.7" y1="462.4" x2="528.2" y2="466.2" stroke="#8fc3cf" stroke-width="0.35" opacity="0.6"/>
<line x1="564.2" y1="435.6" x2="566.0" y2="441.1" stroke="#8fc3cf" stroke-width="0.35" opacity="0.6"/>
<line x1="561.4" y1="411.0" x2="566.7" y2="412.2" stroke="#8fc3cf" stroke-width="0.35" opacity="0.6"/>
<line x1="555.8" y1="425.7" x2="559.1" y2="429.1" stroke="#8fc3cf" stroke-width="0.35" opacity="0.6"/>
<line x1="561.1" y1="413.8" x2="561.8" y2="418.4" stroke="#8fc3cf" stroke-width="0.35" opacity="0.6"/>
<line x1="494.8" y1="427.8" x2="498.3" y2="429.5" stroke="#8fc3cf" stroke-width="0.35" opacity="0.6"/>
<line x1="495.6" y1="404.7" x2="496.5" y2="407.1" stroke="#8fc3cf" stroke-width="0.35" opacity="0.6"/>
<line x1="485.4" y1="409.5" x2="486.2" y2="412.7" stroke="#8fc3cf" stroke-width="0.35" opacity="0.6"/>
<line x1="541.5" y1="427.8" x2="543.5" y2="429.7" stroke="#8fc3cf" stroke-width="0.35" opacity="0.6"/>
<line x1="501.8" y1="450.5" x2="504.9" y2="452.8" stroke="#8fc3cf" stroke-width="0.35" opacity="0.6"/>
<line x1="548.8" y1="456.5" x2="549.4" y2="461.9" stroke="#8fc3cf" stroke-width="0.35" opacity="0.6"/>
<line x1="533.6" y1="414.8" x2="536.2" y2="415.6" stroke="#8fc3cf" stroke-width="0.35" opacity="0.6"/>
<line x1="547.3" y1="426.1" x2="542.1" y2="428.9" stroke="#8fc3cf" stroke-width="0.35" opacity="0.6"/>
<line x1="559.2" y1="431.6" x2="562.3" y2="431.6" stroke="#8fc3cf" stroke-width="0.35" opacity="0.6"/>
<line x1="494.6" y1="444.0" x2="491.2" y2="448.6" stroke="#8fc3cf" stroke-width="0.35" opacity="0.6"/>
<line x1="539.4" y1="465.5" x2="537.8" y2="469.0" stroke="#8fc3cf" stroke-width="0.35" opacity="0.6"/>
<line x1="551.6" y1="418.1" x2="547.8" y2="421.2" stroke="#8fc3cf" stroke-width="0.35" opacity="0.6"/>
<line x1="554.3" y1="403.3" x2="559.1" y2="406.5" stroke="#8fc3cf" stroke-width="0.35" opacity="0.6"/>
<line x1="487.5" y1="430.3" x2="486.3" y2="434.1" stroke="#8fc3cf" stroke-width="0.35" opacity="0.6"/>
<line x1="555.5" y1="465.2" x2="556.7" y2="467.4" stroke="#8fc3cf" stroke-width="0.35" opacity="0.6"/>
<line x1="558.7" y1="430.5" x2="560.5" y2="432.3" stroke="#8fc3cf" stroke-width="0.35" opacity="0.6"/>
<line x1="475.2" y1="439.4" x2="477.9" y2="442.7" stroke="#8fc3cf" stroke-width="0.35" opacity="0.6"/>
<line x1="559.6" y1="432.6" x2="557.4" y2="432.9" stroke="#8fc3cf" stroke-width="0.35" opacity="0.6"/>
<line x1="544.3" y1="451.3" x2="542.2" y2="451.6" stroke="#8fc3cf" stroke-width="0.35" opacity="0.6"/>
<line x1="521.1" y1="437.6" x2="519.9" y2="441.3" stroke="#8fc3cf" stroke-width="0.35" opacity="0.6"/>
<line x1="499.6" y1="461.6" x2="495.1" y2="463.4" stroke="#8fc3cf" stroke-width="0.35" opacity="0.6"/>
<line x1="562.8" y1="437.4" x2="567.5" y2="438.6" stroke="#8fc3cf" stroke-width="0.35" opacity="0.6"/>
<line x1="484.1" y1="451.1" x2="482.8" y2="453.6" stroke="#8fc3cf" stroke-width="0.35" opacity="0.6"/>
<line x1="488.5" y1="403.8" x2="493.5" y2="406.9" stroke="#8fc3cf" stroke-width="0.35" opacity="0.6"/>
<line x1="495.4" y1="460.3" x2="498.5" y2="461.6" stroke="#8fc3cf" stroke-width="0.35" opacity="0.6"/>
<line x1="517.9" y1="423.9" x2="515.0" y2="424.2" stroke="#8fc3cf" stroke-width="0.35" opacity="0.6"/>
<line x1="519.0" y1="413.3" x2="523.5" y2="414.9" stroke="#8fc3cf" stroke-width="0.35" opacity="0.6"/>
<line x1="505.7" y1="432.8" x2="504.3" y2="434.7" stroke="#8fc3cf" stroke-width="0.35" opacity="0.6"/>
<line x1="479.4" y1="446.7" x2="477.4" y2="446.7" stroke="#8fc3cf" stroke-width="0.35" opacity="0.6"/>
<line x1="516.1" y1="467.9" x2="510.9" y2="470.9" stroke="#8fc3cf" stroke-width="0.35" opacity="0.6"/>
<line x1="523.2" y1="466.3" x2="527.0" y2="467.0" stroke="#8fc3cf" stroke-width="0.35" opacity="0.6"/>
<line x1="552.6" y1="426.1" x2="553.3" y2="429.9" stroke="#8fc3cf" stroke-width="0.35" opacity="0.6"/>
<line x1="509.4" y1="455.4" x2="506.5" y2="455.6" stroke="#8fc3cf" stroke-width="0.35" opacity="0.6"/>
<line x1="504.1" y1="454.7" x2="500.5" y2="458.5" stroke="#8fc3cf" stroke-width="0.35" opacity="0.6"/>
<line x1="537.3" y1="462.4" x2="533.3" y2="464.5" stroke="#8fc3cf" stroke-width="0.35" opacity="0.6"/>
<line x1="500.6" y1="405.0" x2="495.6" y2="407.3" stroke="#8fc3cf" stroke-width="0.35" opacity="0.6"/>
<line x1="556.6" y1="417.4" x2="552.7" y2="421.6" stroke="#8fc3cf" stroke-width="0.35" opacity="0.6"/>
<line x1="493.5" y1="400.7" x2="495.9" y2="402.2" stroke="#8fc3cf" stroke-width="0.35" opacity="0.6"/>
<line x1="537.1" y1="455.9" x2="533.1" y2="458.5" stroke="#8fc3cf" stroke-width="0.35" opacity="0.6"/>
<line x1="564.6" y1="466.4" x2="565.7" y2="472.0" stroke="#8fc3cf" stroke-width="0.35" opacity="0.6"/>
<line x1="540.7" y1="416.1" x2="540.0" y2="418.6" stroke="#8fc3cf" stroke-width="0.35" opacity="0.6"/>
<line x1="511.3" y1="455.4" x2="515.4" y2="455.5" stroke="#8fc3cf" stroke-width="0.35" opacity="0.6"/>
<line x1="514.6" y1="418.7" x2="518.6" y2="419.5" stroke="#8fc3cf" stroke-width="0.35" opacity="0.6"/>
<line x1="505.2" y1="405.8" x2="506.6" y2="410.3" stroke="#8fc3cf" stroke-width="0.35" opacity="0.6"/>
<line x1="481.7" y1="453.4" x2="485.5" y2="454.4" stroke="#8fc3cf" stroke-width="0.35" opacity="0.6"/>
<line x1="508.2" y1="458.4" x2="503.5" y2="460.1" stroke="#8fc3cf" stroke-width="0.35" opacity="0.6"/>
<ellipse cx="501.5" cy="421.6" rx="0.64" ry="0.37" fill="#6cb4c2" opacity="0.67" transform="rotate(37 501.5 421.6)"/>
<ellipse cx="496.5" cy="425.6" rx="0.69" ry="0.51" fill="#7dbfcb" opacity="0.63" transform="rotate(147 496.5 425.6)"/>
<ellipse cx="539.7" cy="463.2" rx="1.60" ry="0.64" fill="#93c9d2" opacity="0.58" transform="rotate(159 539.7 463.2)"/>
<ellipse cx="542.8" cy="423.1" rx="0.90" ry="0.57" fill="#6cb4c2" opacity="0.77" transform="rotate(18 542.8 423.1)"/>
<ellipse cx="558.3" cy="417.8" rx="1.74" ry="0.65" fill="#2690aa" opacity="0.74" transform="rotate(116 558.3 417.8)"/>
<ellipse cx="491.1" cy="460.6" rx="0.79" ry="0.45" fill="#93c9d2" opacity="0.79" transform="rotate(175 491.1 460.6)"/>
<ellipse cx="511.6" cy="421.8" rx="1.68" ry="0.72" fill="#2a9cb6" opacity="0.80" transform="rotate(32 511.6 421.8)"/>
<ellipse cx="565.9" cy="461.4" rx="1.46" ry="0.69" fill="#6cb4c2" opacity="0.75" transform="rotate(145 565.9 461.4)"/>
<ellipse cx="559.4" cy="399.6" rx="1.17" ry="0.36" fill="#93c9d2" opacity="0.74" transform="rotate(110 559.4 399.6)"/>
<ellipse cx="529.9" cy="439.3" rx="1.53" ry="0.60" fill="#93c9d2" opacity="0.46" transform="rotate(37 529.9 439.3)"/>
<ellipse cx="536.3" cy="455.8" rx="0.82" ry="0.58" fill="#6cb4c2" opacity="0.52" transform="rotate(82 536.3 455.8)"/>
<ellipse cx="508.9" cy="451.1" rx="0.87" ry="0.80" fill="#36a6be" opacity="0.75" transform="rotate(122 508.9 451.1)"/>
<ellipse cx="479.4" cy="465.1" rx="0.71" ry="0.43" fill="#6cb4c2" opacity="0.59" transform="rotate(93 479.4 465.1)"/>
<ellipse cx="490.6" cy="452.4" rx="1.29" ry="0.76" fill="#2690aa" opacity="0.77" transform="rotate(37 490.6 452.4)"/>
<ellipse cx="501.1" cy="457.2" rx="1.31" ry="0.42" fill="#93c9d2" opacity="0.57" transform="rotate(154 501.1 457.2)"/>
<ellipse cx="500.3" cy="449.2" rx="1.36" ry="0.58" fill="#7dbfcb" opacity="0.77" transform="rotate(70 500.3 449.2)"/>
<ellipse cx="484.2" cy="462.9" rx="1.52" ry="0.65" fill="#93c9d2" opacity="0.62" transform="rotate(4 484.2 462.9)"/>
<ellipse cx="531.1" cy="414.0" rx="1.23" ry="0.66" fill="#7dbfcb" opacity="0.78" transform="rotate(106 531.1 414.0)"/>
<ellipse cx="552.6" cy="467.6" rx="1.28" ry="0.73" fill="#2a9cb6" opacity="0.91" transform="rotate(164 552.6 467.6)"/>
<ellipse cx="547.7" cy="453.1" rx="1.01" ry="0.68" fill="#2690aa" opacity="0.83" transform="rotate(165 547.7 453.1)"/>
<ellipse cx="515.9" cy="425.7" rx="1.57" ry="0.58" fill="#2690aa" opacity="0.92" transform="rotate(87 515.9 425.7)"/>
<ellipse cx="549.3" cy="462.3" rx="1.59" ry="0.62" fill="#2c9fbb" opacity="0.89" transform="rotate(89 549.3 462.3)"/>
<ellipse cx="475.7" cy="454.4" rx="0.87" ry="0.41" fill="#7dbfcb" opacity="0.53" transform="rotate(136 475.7 454.4)"/>
<ellipse cx="519.9" cy="456.4" rx="1.68" ry="0.38" fill="#7dbfcb" opacity="0.53" transform="rotate(105 519.9 456.4)"/>
<ellipse cx="566.5" cy="421.9" rx="1.55" ry="0.56" fill="#93c9d2" opacity="0.66" transform="rotate(88 566.5 421.9)"/>
<ellipse cx="550.0" cy="457.5" rx="1.30" ry="0.66" fill="#36a6be" opacity="0.77" transform="rotate(93 550.0 457.5)"/>
<ellipse cx="554.5" cy="401.0" rx="0.97" ry="0.67" fill="#2c9fbb" opacity="0.90" transform="rotate(33 554.5 401.0)"/>
<ellipse cx="509.7" cy="450.3" rx="0.66" ry="0.59" fill="#6cb4c2" opacity="0.73" transform="rotate(20 509.7 450.3)"/>
<ellipse cx="503.5" cy="409.6" rx="1.34" ry="0.39" fill="#7dbfcb" opacity="0.59" transform="rotate(76 503.5 409.6)"/>
<ellipse cx="485.3" cy="466.1" rx="1.53" ry="0.60" fill="#2a9cb6" opacity="0.89" transform="rotate(24 485.3 466.1)"/>
<ellipse cx="491.8" cy="465.4" rx="1.45" ry="0.39" fill="#93c9d2" opacity="0.58" transform="rotate(69 491.8 465.4)"/>
<ellipse cx="566.0" cy="450.0" rx="1.46" ry="0.31" fill="#6cb4c2" opacity="0.69" transform="rotate(69 566.0 450.0)"/>
<ellipse cx="527.8" cy="458.0" rx="1.20" ry="0.86" fill="#2a9cb6" opacity="0.77" transform="rotate(131 527.8 458.0)"/>
<ellipse cx="529.8" cy="442.6" rx="1.24" ry="0.66" fill="#2690aa" opacity="0.92" transform="rotate(78 529.8 442.6)"/>
<ellipse cx="529.7" cy="414.3" rx="1.20" ry="0.68" fill="#7dbfcb" opacity="0.57" transform="rotate(121 529.7 414.3)"/>
<ellipse cx="475.9" cy="425.3" rx="1.77" ry="0.63" fill="#2690aa" opacity="0.93" transform="rotate(54 475.9 425.3)"/>
<ellipse cx="564.8" cy="462.3" rx="1.44" ry="0.90" fill="#2c9fbb" opacity="0.84" transform="rotate(7 564.8 462.3)"/>
<ellipse cx="475.1" cy="407.2" rx="1.30" ry="0.50" fill="#6cb4c2" opacity="0.60" transform="rotate(109 475.1 407.2)"/>
<ellipse cx="519.5" cy="410.3" rx="0.89" ry="0.88" fill="#2c9fbb" opacity="0.81" transform="rotate(69 519.5 410.3)"/>
<ellipse cx="542.1" cy="405.8" rx="1.23" ry="0.49" fill="#6cb4c2" opacity="0.57" transform="rotate(109 542.1 405.8)"/>
<ellipse cx="560.7" cy="422.8" rx="1.53" ry="0.62" fill="#93c9d2" opacity="0.71" transform="rotate(35 560.7 422.8)"/>
<ellipse cx="532.8" cy="423.0" rx="1.35" ry="0.77" fill="#36a6be" opacity="0.92" transform="rotate(104 532.8 423.0)"/>
<ellipse cx="562.1" cy="408.8" rx="1.45" ry="0.30" fill="#7dbfcb" opacity="0.73" transform="rotate(112 562.1 408.8)"/>
<ellipse cx="534.3" cy="423.9" rx="0.98" ry="0.31" fill="#6cb4c2" opacity="0.47" transform="rotate(101 534.3 423.9)"/>
<ellipse cx="527.9" cy="450.2" rx="0.73" ry="0.45" fill="#6cb4c2" opacity="0.55" transform="rotate(93 527.9 450.2)"/>
<ellipse cx="548.8" cy="414.8" rx="0.91" ry="0.65" fill="#7dbfcb" opacity="0.61" transform="rotate(4 548.8 414.8)"/>
<ellipse cx="486.2" cy="408.8" rx="1.24" ry="0.64" fill="#7dbfcb" opacity="0.54" transform="rotate(1 486.2 408.8)"/>
<ellipse cx="544.8" cy="408.6" rx="1.71" ry="0.90" fill="#2c9fbb" opacity="0.75" transform="rotate(116 544.8 408.6)"/>
<ellipse cx="484.0" cy="438.1" rx="0.83" ry="0.51" fill="#6cb4c2" opacity="0.62" transform="rotate(74 484.0 438.1)"/>
<ellipse cx="481.0" cy="451.8" rx="1.65" ry="0.42" fill="#7dbfcb" opacity="0.74" transform="rotate(102 481.0 451.8)"/>
<ellipse cx="527.0" cy="441.9" rx="0.77" ry="0.38" fill="#6cb4c2" opacity="0.78" transform="rotate(118 527.0 441.9)"/>
<ellipse cx="526.5" cy="426.2" rx="0.89" ry="0.88" fill="#36a6be" opacity="0.79" transform="rotate(101 526.5 426.2)"/>
<ellipse cx="557.0" cy="466.7" rx="1.22" ry="0.50" fill="#93c9d2" opacity="0.78" transform="rotate(14 557.0 466.7)"/>
<ellipse cx="477.9" cy="431.6" rx="1.41" ry="0.63" fill="#2a9cb6" opacity="0.98" transform="rotate(55 477.9 431.6)"/>
<ellipse cx="535.6" cy="402.0" rx="1.19" ry="0.83" fill="#36a6be" opacity="0.91" transform="rotate(5 535.6 402.0)"/>
<ellipse cx="482.2" cy="419.6" rx="1.41" ry="0.48" fill="#7dbfcb" opacity="0.76" transform="rotate(138 482.2 419.6)"/>
<ellipse cx="560.2" cy="464.5" rx="1.64" ry="0.55" fill="#6cb4c2" opacity="0.79" transform="rotate(76 560.2 464.5)"/>
<ellipse cx="538.2" cy="466.6" rx="1.39" ry="0.86" fill="#2c9fbb" opacity="0.97" transform="rotate(11 538.2 466.6)"/>
<ellipse cx="495.4" cy="430.0" rx="0.63" ry="0.35" fill="#7dbfcb" opacity="0.62" transform="rotate(97 495.4 430.0)"/>
<ellipse cx="480.3" cy="406.7" rx="1.62" ry="0.65" fill="#2a9cb6" opacity="0.89" transform="rotate(68 480.3 406.7)"/>
<ellipse cx="546.7" cy="422.5" rx="0.90" ry="0.61" fill="#6cb4c2" opacity="0.57" transform="rotate(169 546.7 422.5)"/>
<ellipse cx="560.9" cy="404.4" rx="1.56" ry="0.75" fill="#2c9fbb" opacity="0.88" transform="rotate(105 560.9 404.4)"/>
<ellipse cx="522.2" cy="416.2" rx="0.95" ry="0.45" fill="#7dbfcb" opacity="0.74" transform="rotate(13 522.2 416.2)"/>
<ellipse cx="555.3" cy="422.7" rx="1.57" ry="0.78" fill="#2c9fbb" opacity="0.79" transform="rotate(75 555.3 422.7)"/>
<ellipse cx="564.6" cy="437.1" rx="0.84" ry="0.57" fill="#93c9d2" opacity="0.46" transform="rotate(56 564.6 437.1)"/>
<ellipse cx="520.3" cy="405.8" rx="1.25" ry="0.64" fill="#93c9d2" opacity="0.69" transform="rotate(32 520.3 405.8)"/>
<ellipse cx="539.6" cy="465.8" rx="1.58" ry="0.70" fill="#2a9cb6" opacity="0.98" transform="rotate(118 539.6 465.8)"/>
<ellipse cx="513.5" cy="451.5" rx="1.07" ry="0.71" fill="#2690aa" opacity="0.96" transform="rotate(64 513.5 451.5)"/>
<ellipse cx="519.0" cy="443.4" rx="1.29" ry="0.64" fill="#2c9fbb" opacity="0.76" transform="rotate(3 519.0 443.4)"/>
<ellipse cx="537.1" cy="405.2" rx="1.76" ry="0.51" fill="#2a9cb6" opacity="0.89" transform="rotate(145 537.1 405.2)"/>
<ellipse cx="542.6" cy="448.0" rx="1.50" ry="0.36" fill="#7dbfcb" opacity="0.62" transform="rotate(146 542.6 448.0)"/>
<ellipse cx="502.7" cy="399.9" rx="0.84" ry="0.63" fill="#7dbfcb" opacity="0.46" transform="rotate(28 502.7 399.9)"/>
<ellipse cx="500.6" cy="456.0" rx="0.82" ry="0.77" fill="#36a6be" opacity="0.75" transform="rotate(49 500.6 456.0)"/>
<ellipse cx="563.4" cy="410.5" rx="1.47" ry="0.71" fill="#2690aa" opacity="0.70" transform="rotate(178 563.4 410.5)"/>
<ellipse cx="529.9" cy="441.6" rx="1.75" ry="0.54" fill="#2c9fbb" opacity="0.81" transform="rotate(71 529.9 441.6)"/>
<ellipse cx="556.5" cy="402.0" rx="1.36" ry="0.44" fill="#93c9d2" opacity="0.61" transform="rotate(4 556.5 402.0)"/>
<ellipse cx="543.3" cy="464.6" rx="0.74" ry="0.40" fill="#6cb4c2" opacity="0.69" transform="rotate(180 543.3 464.6)"/>
<ellipse cx="551.6" cy="442.6" rx="1.57" ry="0.35" fill="#6cb4c2" opacity="0.70" transform="rotate(54 551.6 442.6)"/>
<ellipse cx="521.6" cy="457.3" rx="1.27" ry="0.50" fill="#7dbfcb" opacity="0.47" transform="rotate(140 521.6 457.3)"/>
<ellipse cx="539.1" cy="436.3" rx="0.90" ry="0.61" fill="#2c9fbb" opacity="0.90" transform="rotate(58 539.1 436.3)"/>
<ellipse cx="493.7" cy="418.0" rx="1.78" ry="0.56" fill="#2a9cb6" opacity="0.93" transform="rotate(123 493.7 418.0)"/>
<ellipse cx="546.5" cy="429.8" rx="1.19" ry="0.62" fill="#7dbfcb" opacity="0.73" transform="rotate(109 546.5 429.8)"/>
<ellipse cx="548.5" cy="406.5" rx="0.85" ry="0.41" fill="#7dbfcb" opacity="0.64" transform="rotate(120 548.5 406.5)"/>
<ellipse cx="505.9" cy="467.0" rx="0.62" ry="0.32" fill="#6cb4c2" opacity="0.61" transform="rotate(156 505.9 467.0)"/>
<ellipse cx="513.5" cy="445.4" rx="1.38" ry="0.33" fill="#93c9d2" opacity="0.45" transform="rotate(143 513.5 445.4)"/>
<ellipse cx="501.6" cy="429.0" rx="0.91" ry="0.65" fill="#6cb4c2" opacity="0.69" transform="rotate(94 501.6 429.0)"/>
<ellipse cx="560.7" cy="459.9" rx="0.95" ry="0.53" fill="#93c9d2" opacity="0.53" transform="rotate(91 560.7 459.9)"/>
<ellipse cx="526.6" cy="401.2" rx="1.50" ry="0.55" fill="#36a6be" opacity="0.99" transform="rotate(127 526.6 401.2)"/>
<ellipse cx="482.1" cy="446.9" rx="1.48" ry="0.63" fill="#7dbfcb" opacity="0.75" transform="rotate(116 482.1 446.9)"/>
<ellipse cx="521.4" cy="438.1" rx="1.48" ry="0.67" fill="#2a9cb6" opacity="0.74" transform="rotate(108 521.4 438.1)"/>
<ellipse cx="510.8" cy="444.3" rx="0.70" ry="0.69" fill="#7dbfcb" opacity="0.79" transform="rotate(19 510.8 444.3)"/>
<ellipse cx="544.0" cy="466.0" rx="1.62" ry="0.77" fill="#2c9fbb" opacity="0.94" transform="rotate(91 544.0 466.0)"/>
<ellipse cx="524.0" cy="451.9" rx="0.68" ry="0.64" fill="#6cb4c2" opacity="0.49" transform="rotate(30 524.0 451.9)"/>
<ellipse cx="545.6" cy="411.0" rx="0.96" ry="0.76" fill="#2a9cb6" opacity="0.98" transform="rotate(134 545.6 411.0)"/>
<ellipse cx="499.9" cy="401.5" rx="0.86" ry="0.50" fill="#7dbfcb" opacity="0.62" transform="rotate(110 499.9 401.5)"/>
<ellipse cx="485.6" cy="441.6" rx="1.00" ry="0.63" fill="#7dbfcb" opacity="0.48" transform="rotate(152 485.6 441.6)"/>
<ellipse cx="475.4" cy="450.8" rx="1.10" ry="0.35" fill="#93c9d2" opacity="0.68" transform="rotate(61 475.4 450.8)"/>
<ellipse cx="540.4" cy="432.1" rx="1.59" ry="0.57" fill="#6cb4c2" opacity="0.56" transform="rotate(4 540.4 432.1)"/>
<ellipse cx="555.5" cy="401.2" rx="1.11" ry="0.43" fill="#93c9d2" opacity="0.45" transform="rotate(158 555.5 401.2)"/>
<ellipse cx="563.1" cy="448.5" rx="1.36" ry="0.83" fill="#2c9fbb" opacity="0.76" transform="rotate(11 563.1 448.5)"/>
<ellipse cx="564.1" cy="456.8" rx="1.26" ry="0.32" fill="#6cb4c2" opacity="0.61" transform="rotate(76 564.1 456.8)"/>
<ellipse cx="550.3" cy="468.2" rx="0.79" ry="0.59" fill="#93c9d2" opacity="0.77" transform="rotate(132 550.3 468.2)"/>
<ellipse cx="480.4" cy="457.5" rx="0.83" ry="0.39" fill="#6cb4c2" opacity="0.59" transform="rotate(31 480.4 457.5)"/>
<ellipse cx="566.0" cy="455.0" rx="0.81" ry="0.65" fill="#93c9d2" opacity="0.57" transform="rotate(106 566.0 455.0)"/>
<ellipse cx="560.0" cy="443.2" rx="1.35" ry="0.61" fill="#6cb4c2" opacity="0.60" transform="rotate(97 560.0 443.2)"/>
<ellipse cx="486.0" cy="416.7" rx="1.49" ry="0.70" fill="#7dbfcb" opacity="0.46" transform="rotate(126 486.0 416.7)"/>
<ellipse cx="564.5" cy="409.6" rx="0.86" ry="0.63" fill="#6cb4c2" opacity="0.45" transform="rotate(68 564.5 409.6)"/>
<ellipse cx="499.6" cy="438.3" rx="0.66" ry="0.69" fill="#6cb4c2" opacity="0.68" transform="rotate(123 499.6 438.3)"/>
<ellipse cx="495.3" cy="466.2" rx="1.46" ry="0.55" fill="#2c9fbb" opacity="0.78" transform="rotate(138 495.3 466.2)"/>
<ellipse cx="560.8" cy="462.1" rx="1.13" ry="0.58" fill="#6cb4c2" opacity="0.49" transform="rotate(6 560.8 462.1)"/>
<ellipse cx="476.1" cy="452.8" rx="1.52" ry="0.64" fill="#7dbfcb" opacity="0.48" transform="rotate(59 476.1 452.8)"/>
<ellipse cx="517.7" cy="408.7" rx="1.69" ry="0.62" fill="#93c9d2" opacity="0.79" transform="rotate(169 517.7 408.7)"/>
<ellipse cx="509.9" cy="419.5" rx="1.00" ry="0.61" fill="#7dbfcb" opacity="0.56" transform="rotate(60 509.9 419.5)"/>
<ellipse cx="529.6" cy="433.3" rx="1.52" ry="0.71" fill="#2a9cb6" opacity="0.79" transform="rotate(170 529.6 433.3)"/>
<ellipse cx="488.1" cy="434.3" rx="1.49" ry="0.89" fill="#2c9fbb" opacity="0.98" transform="rotate(152 488.1 434.3)"/>
<ellipse cx="517.1" cy="416.7" rx="1.54" ry="0.62" fill="#2c9fbb" opacity="0.93" transform="rotate(80 517.1 416.7)"/>
<ellipse cx="526.6" cy="444.2" rx="1.47" ry="0.76" fill="#2690aa" opacity="0.90" transform="rotate(18 526.6 444.2)"/>
<ellipse cx="483.6" cy="450.0" rx="1.51" ry="0.61" fill="#6cb4c2" opacity="0.46" transform="rotate(155 483.6 450.0)"/>
<ellipse cx="548.3" cy="457.0" rx="1.02" ry="0.69" fill="#2a9cb6" opacity="0.78" transform="rotate(140 548.3 457.0)"/>
<ellipse cx="533.0" cy="427.7" rx="1.02" ry="0.68" fill="#2c9fbb" opacity="0.91" transform="rotate(59 533.0 427.7)"/>
<ellipse cx="483.2" cy="447.3" rx="0.93" ry="0.89" fill="#2c9fbb" opacity="0.78" transform="rotate(177 483.2 447.3)"/>
<ellipse cx="507.3" cy="455.0" rx="1.32" ry="0.48" fill="#7dbfcb" opacity="0.58" transform="rotate(63 507.3 455.0)"/>
<ellipse cx="516.1" cy="466.5" rx="1.70" ry="0.55" fill="#2a9cb6" opacity="0.96" transform="rotate(37 516.1 466.5)"/>
<ellipse cx="542.9" cy="431.2" rx="1.38" ry="0.68" fill="#7dbfcb" opacity="0.76" transform="rotate(164 542.9 431.2)"/>
<ellipse cx="555.2" cy="464.5" rx="1.67" ry="0.56" fill="#2c9fbb" opacity="0.71" transform="rotate(142 555.2 464.5)"/>
<ellipse cx="563.9" cy="412.3" rx="1.32" ry="0.56" fill="#2690aa" opacity="0.78" transform="rotate(10 563.9 412.3)"/>
<ellipse cx="482.1" cy="411.6" rx="1.54" ry="0.80" fill="#2690aa" opacity="0.87" transform="rotate(128 482.1 411.6)"/>
<ellipse cx="477.0" cy="445.0" rx="1.11" ry="0.43" fill="#6cb4c2" opacity="0.53" transform="rotate(128 477.0 445.0)"/>
<ellipse cx="540.0" cy="404.0" rx="1.20" ry="0.87" fill="#2a9cb6" opacity="0.80" transform="rotate(102 540.0 404.0)"/>
<ellipse cx="530.1" cy="440.7" rx="1.25" ry="0.33" fill="#93c9d2" opacity="0.46" transform="rotate(119 530.1 440.7)"/>
<ellipse cx="553.2" cy="423.1" rx="1.41" ry="0.79" fill="#36a6be" opacity="0.81" transform="rotate(170 553.2 423.1)"/>
<ellipse cx="520.8" cy="459.9" rx="1.25" ry="0.61" fill="#36a6be" opacity="0.79" transform="rotate(50 520.8 459.9)"/>
<ellipse cx="509.9" cy="455.6" rx="1.55" ry="0.59" fill="#6cb4c2" opacity="0.69" transform="rotate(135 509.9 455.6)"/>
<ellipse cx="498.7" cy="421.3" rx="1.55" ry="0.40" fill="#7dbfcb" opacity="0.77" transform="rotate(167 498.7 421.3)"/>
<ellipse cx="541.0" cy="429.9" rx="1.63" ry="0.77" fill="#2690aa" opacity="0.77" transform="rotate(25 541.0 429.9)"/>
<ellipse cx="517.5" cy="441.7" rx="0.65" ry="0.61" fill="#6cb4c2" opacity="0.62" transform="rotate(140 517.5 441.7)"/>
<ellipse cx="529.7" cy="451.9" rx="1.16" ry="0.60" fill="#93c9d2" opacity="0.76" transform="rotate(55 529.7 451.9)"/>
<ellipse cx="477.9" cy="457.0" rx="1.08" ry="0.46" fill="#6cb4c2" opacity="0.58" transform="rotate(144 477.9 457.0)"/>
<ellipse cx="497.9" cy="400.1" rx="1.61" ry="0.41" fill="#6cb4c2" opacity="0.50" transform="rotate(93 497.9 400.1)"/>
<ellipse cx="538.7" cy="447.4" rx="1.66" ry="0.39" fill="#7dbfcb" opacity="0.78" transform="rotate(148 538.7 447.4)"/>
<ellipse cx="563.1" cy="442.3" rx="1.07" ry="0.88" fill="#2a9cb6" opacity="0.92" transform="rotate(89 563.1 442.3)"/>
<ellipse cx="527.9" cy="421.6" rx="1.41" ry="0.39" fill="#7dbfcb" opacity="0.51" transform="rotate(76 527.9 421.6)"/>
<ellipse cx="559.3" cy="467.0" rx="1.78" ry="0.53" fill="#2690aa" opacity="0.91" transform="rotate(160 559.3 467.0)"/>
<ellipse cx="533.0" cy="433.2" rx="0.77" ry="0.31" fill="#6cb4c2" opacity="0.49" transform="rotate(52 533.0 433.2)"/>
<ellipse cx="484.7" cy="439.2" rx="1.08" ry="0.63" fill="#2690aa" opacity="0.82" transform="rotate(121 484.7 439.2)"/>
<ellipse cx="491.2" cy="411.3" rx="1.09" ry="0.85" fill="#36a6be" opacity="0.89" transform="rotate(45 491.2 411.3)"/>
<ellipse cx="560.3" cy="421.6" rx="1.08" ry="0.56" fill="#93c9d2" opacity="0.64" transform="rotate(180 560.3 421.6)"/>
<ellipse cx="530.1" cy="461.3" rx="0.84" ry="0.64" fill="#2690aa" opacity="0.94" transform="rotate(44 530.1 461.3)"/>
<ellipse cx="480.6" cy="408.6" rx="1.25" ry="0.52" fill="#93c9d2" opacity="0.65" transform="rotate(144 480.6 408.6)"/>
<ellipse cx="511.2" cy="423.8" rx="1.06" ry="0.87" fill="#2a9cb6" opacity="0.79" transform="rotate(44 511.2 423.8)"/>
<ellipse cx="514.4" cy="457.2" rx="1.29" ry="0.32" fill="#6cb4c2" opacity="0.72" transform="rotate(53 514.4 457.2)"/>
<ellipse cx="549.1" cy="440.6" rx="1.47" ry="0.60" fill="#6cb4c2" opacity="0.52" transform="rotate(119 549.1 440.6)"/>
<ellipse cx="519.2" cy="412.3" rx="1.53" ry="0.31" fill="#6cb4c2" opacity="0.76" transform="rotate(55 519.2 412.3)"/>
<ellipse cx="555.4" cy="462.7" rx="0.92" ry="0.62" fill="#2a9cb6" opacity="0.97" transform="rotate(131 555.4 462.7)"/>
<ellipse cx="475.3" cy="450.4" rx="0.80" ry="0.45" fill="#7dbfcb" opacity="0.79" transform="rotate(125 475.3 450.4)"/>
<ellipse cx="484.1" cy="445.3" rx="1.34" ry="0.38" fill="#6cb4c2" opacity="0.68" transform="rotate(5 484.1 445.3)"/>
<ellipse cx="492.2" cy="450.5" rx="1.24" ry="0.59" fill="#7dbfcb" opacity="0.75" transform="rotate(7 492.2 450.5)"/>
<ellipse cx="498.9" cy="426.1" rx="0.96" ry="0.65" fill="#7dbfcb" opacity="0.63" transform="rotate(28 498.9 426.1)"/>
<ellipse cx="480.1" cy="460.0" rx="1.64" ry="0.33" fill="#93c9d2" opacity="0.71" transform="rotate(172 480.1 460.0)"/>
<ellipse cx="563.7" cy="436.4" rx="1.53" ry="0.64" fill="#93c9d2" opacity="0.63" transform="rotate(118 563.7 436.4)"/>
<ellipse cx="497.2" cy="405.0" rx="0.71" ry="0.65" fill="#6cb4c2" opacity="0.76" transform="rotate(142 497.2 405.0)"/>
<ellipse cx="491.6" cy="466.3" rx="1.00" ry="0.36" fill="#6cb4c2" opacity="0.77" transform="rotate(11 491.6 466.3)"/>
<ellipse cx="497.6" cy="429.0" rx="1.18" ry="0.66" fill="#6cb4c2" opacity="0.58" transform="rotate(138 497.6 429.0)"/>
<ellipse cx="478.6" cy="451.4" rx="1.10" ry="0.77" fill="#2690aa" opacity="0.79" transform="rotate(52 478.6 451.4)"/>
<ellipse cx="526.7" cy="465.3" rx="1.79" ry="0.50" fill="#2c9fbb" opacity="0.83" transform="rotate(4 526.7 465.3)"/>
<ellipse cx="510.7" cy="417.7" rx="1.15" ry="0.59" fill="#2a9cb6" opacity="0.94" transform="rotate(30 510.7 417.7)"/>
<ellipse cx="475.7" cy="434.5" rx="1.79" ry="0.52" fill="#2c9fbb" opacity="0.87" transform="rotate(176 475.7 434.5)"/>
<ellipse cx="536.7" cy="450.8" rx="1.35" ry="0.80" fill="#36a6be" opacity="0.78" transform="rotate(2 536.7 450.8)"/>
<ellipse cx="550.9" cy="465.7" rx="1.77" ry="0.58" fill="#2a9cb6" opacity="0.99" transform="rotate(106 550.9 465.7)"/>
<ellipse cx="484.3" cy="454.5" rx="1.11" ry="0.52" fill="#93c9d2" opacity="0.66" transform="rotate(110 484.3 454.5)"/>
<ellipse cx="503.7" cy="442.1" rx="0.80" ry="0.34" fill="#7dbfcb" opacity="0.47" transform="rotate(142 503.7 442.1)"/>
<ellipse cx="565.3" cy="447.1" rx="0.93" ry="0.57" fill="#2690aa" opacity="0.71" transform="rotate(179 565.3 447.1)"/>
<ellipse cx="561.7" cy="429.9" rx="0.67" ry="0.55" fill="#7dbfcb" opacity="0.48" transform="rotate(66 561.7 429.9)"/>
<ellipse cx="517.4" cy="399.8" rx="1.37" ry="0.59" fill="#2c9fbb" opacity="0.93" transform="rotate(34 517.4 399.8)"/>
<ellipse cx="519.7" cy="408.4" rx="0.83" ry="0.70" fill="#2690aa" opacity="0.81" transform="rotate(155 519.7 408.4)"/>
<ellipse cx="534.9" cy="449.9" rx="0.94" ry="0.57" fill="#93c9d2" opacity="0.47" transform="rotate(42 534.9 449.9)"/>
<ellipse cx="528.1" cy="427.0" rx="1.12" ry="0.42" fill="#93c9d2" opacity="0.76" transform="rotate(100 528.1 427.0)"/>
<ellipse cx="508.9" cy="441.1" rx="1.70" ry="0.56" fill="#36a6be" opacity="0.77" transform="rotate(15 508.9 441.1)"/>
<ellipse cx="532.0" cy="448.9" rx="1.46" ry="0.69" fill="#7dbfcb" opacity="0.62" transform="rotate(145 532.0 448.9)"/>
<ellipse cx="532.8" cy="410.8" rx="1.68" ry="0.43" fill="#6cb4c2" opacity="0.63" transform="rotate(154 532.8 410.8)"/>
<ellipse cx="502.3" cy="455.4" rx="1.40" ry="0.89" fill="#2c9fbb" opacity="0.78" transform="rotate(113 502.3 455.4)"/>
<ellipse cx="522.5" cy="461.4" rx="1.32" ry="0.52" fill="#7dbfcb" opacity="0.65" transform="rotate(62 522.5 461.4)"/>
<ellipse cx="515.3" cy="406.1" rx="1.06" ry="0.35" fill="#6cb4c2" opacity="0.76" transform="rotate(42 515.3 406.1)"/>
<ellipse cx="556.1" cy="441.3" rx="1.15" ry="0.84" fill="#2690aa" opacity="0.72" transform="rotate(145 556.1 441.3)"/>
<ellipse cx="552.9" cy="455.0" rx="0.78" ry="0.45" fill="#93c9d2" opacity="0.78" transform="rotate(132 552.9 455.0)"/>
<ellipse cx="559.1" cy="444.4" rx="1.33" ry="0.73" fill="#2690aa" opacity="0.87" transform="rotate(67 559.1 444.4)"/>
<ellipse cx="509.7" cy="407.5" rx="0.84" ry="0.67" fill="#93c9d2" opacity="0.56" transform="rotate(96 509.7 407.5)"/>
<ellipse cx="488.0" cy="452.4" rx="1.03" ry="0.45" fill="#6cb4c2" opacity="0.57" transform="rotate(72 488.0 452.4)"/>
<ellipse cx="501.9" cy="442.3" rx="1.68" ry="0.60" fill="#7dbfcb" opacity="0.80" transform="rotate(51 501.9 442.3)"/>
<ellipse cx="538.1" cy="435.9" rx="1.17" ry="0.37" fill="#7dbfcb" opacity="0.50" transform="rotate(101 538.1 435.9)"/>
<ellipse cx="482.0" cy="440.9" rx="0.60" ry="0.38" fill="#6cb4c2" opacity="0.68" transform="rotate(140 482.0 440.9)"/>
<ellipse cx="490.7" cy="425.8" rx="0.98" ry="0.45" fill="#6cb4c2" opacity="0.63" transform="rotate(130 490.7 425.8)"/>
<ellipse cx="511.6" cy="407.5" rx="1.33" ry="0.80" fill="#36a6be" opacity="0.78" transform="rotate(78 511.6 407.5)"/>
<ellipse cx="514.2" cy="459.9" rx="1.56" ry="0.69" fill="#2a9cb6" opacity="0.90" transform="rotate(148 514.2 459.9)"/>
<ellipse cx="481.1" cy="435.7" rx="1.24" ry="0.55" fill="#36a6be" opacity="0.88" transform="rotate(18 481.1 435.7)"/>
<ellipse cx="509.3" cy="422.2" rx="1.19" ry="0.69" fill="#2690aa" opacity="0.95" transform="rotate(92 509.3 422.2)"/>
<ellipse cx="546.8" cy="455.8" rx="1.32" ry="0.37" fill="#93c9d2" opacity="0.62" transform="rotate(26 546.8 455.8)"/>
<ellipse cx="523.2" cy="417.0" rx="1.66" ry="0.46" fill="#6cb4c2" opacity="0.74" transform="rotate(138 523.2 417.0)"/>
<ellipse cx="564.5" cy="462.8" rx="1.46" ry="0.49" fill="#93c9d2" opacity="0.54" transform="rotate(170 564.5 462.8)"/>
<ellipse cx="527.8" cy="455.4" rx="0.81" ry="0.63" fill="#2690aa" opacity="0.97" transform="rotate(49 527.8 455.4)"/>
<ellipse cx="533.9" cy="422.8" rx="0.93" ry="0.53" fill="#2c9fbb" opacity="0.73" transform="rotate(85 533.9 422.8)"/>
<ellipse cx="539.2" cy="457.0" rx="1.46" ry="0.57" fill="#6cb4c2" opacity="0.61" transform="rotate(152 539.2 457.0)"/>
<ellipse cx="506.1" cy="406.1" rx="0.69" ry="0.36" fill="#7dbfcb" opacity="0.50" transform="rotate(156 506.1 406.1)"/>
<ellipse cx="539.8" cy="459.6" rx="1.33" ry="0.53" fill="#6cb4c2" opacity="0.61" transform="rotate(98 539.8 459.6)"/>
<ellipse cx="552.5" cy="454.5" rx="1.08" ry="0.41" fill="#7dbfcb" opacity="0.67" transform="rotate(71 552.5 454.5)"/>
<ellipse cx="557.0" cy="422.9" rx="1.66" ry="0.33" fill="#6cb4c2" opacity="0.55" transform="rotate(52 557.0 422.9)"/>
<ellipse cx="532.0" cy="417.6" rx="1.43" ry="0.56" fill="#93c9d2" opacity="0.68" transform="rotate(14 532.0 417.6)"/>
<ellipse cx="478.0" cy="409.3" rx="0.98" ry="0.63" fill="#7dbfcb" opacity="0.66" transform="rotate(155 478.0 409.3)"/>
<ellipse cx="523.2" cy="463.8" rx="0.81" ry="0.50" fill="#6cb4c2" opacity="0.59" transform="rotate(15 523.2 463.8)"/>
<ellipse cx="533.2" cy="453.1" rx="1.01" ry="0.68" fill="#2690aa" opacity="0.86" transform="rotate(52 533.2 453.1)"/>
<ellipse cx="481.4" cy="403.6" rx="1.00" ry="0.66" fill="#93c9d2" opacity="0.57" transform="rotate(173 481.4 403.6)"/>
<ellipse cx="564.9" cy="399.3" rx="1.71" ry="0.55" fill="#36a6be" opacity="0.99" transform="rotate(21 564.9 399.3)"/>
<ellipse cx="499.2" cy="457.4" rx="1.24" ry="0.35" fill="#6cb4c2" opacity="0.60" transform="rotate(80 499.2 457.4)"/>
<ellipse cx="492.7" cy="443.3" rx="0.83" ry="0.77" fill="#36a6be" opacity="0.94" transform="rotate(67 492.7 443.3)"/>
<ellipse cx="535.3" cy="459.8" rx="0.89" ry="0.70" fill="#6cb4c2" opacity="0.70" transform="rotate(80 535.3 459.8)"/>
<ellipse cx="502.5" cy="452.8" rx="1.61" ry="0.62" fill="#2a9cb6" opacity="0.85" transform="rotate(144 502.5 452.8)"/>
<ellipse cx="524.1" cy="408.3" rx="1.16" ry="0.84" fill="#2690aa" opacity="0.71" transform="rotate(15 524.1 408.3)"/>
<ellipse cx="528.9" cy="405.3" rx="0.79" ry="0.53" fill="#6cb4c2" opacity="0.57" transform="rotate(151 528.9 405.3)"/>
<ellipse cx="523.7" cy="414.4" rx="1.14" ry="0.88" fill="#36a6be" opacity="0.96" transform="rotate(109 523.7 414.4)"/>
<ellipse cx="499.9" cy="421.7" rx="1.27" ry="0.36" fill="#7dbfcb" opacity="0.72" transform="rotate(164 499.9 421.7)"/>
<ellipse cx="548.3" cy="438.5" rx="1.25" ry="0.35" fill="#93c9d2" opacity="0.73" transform="rotate(78 548.3 438.5)"/>
<ellipse cx="504.8" cy="451.8" rx="1.25" ry="0.60" fill="#93c9d2" opacity="0.56" transform="rotate(71 504.8 451.8)"/>
<ellipse cx="487.2" cy="465.7" rx="1.67" ry="0.87" fill="#2c9fbb" opacity="0.77" transform="rotate(59 487.2 465.7)"/>
<ellipse cx="482.2" cy="443.5" rx="1.51" ry="0.70" fill="#7dbfcb" opacity="0.56" transform="rotate(150 482.2 443.5)"/>
<ellipse cx="557.8" cy="466.4" rx="1.68" ry="0.49" fill="#6cb4c2" opacity="0.71" transform="rotate(23 557.8 466.4)"/>
<ellipse cx="519.0" cy="415.7" rx="1.20" ry="0.85" fill="#36a6be" opacity="0.98" transform="rotate(14 519.0 415.7)"/>
<ellipse cx="477.3" cy="407.5" rx="1.49" ry="0.50" fill="#36a6be" opacity="0.82" transform="rotate(53 477.3 407.5)"/>
<ellipse cx="509.8" cy="460.1" rx="1.07" ry="0.83" fill="#2c9fbb" opacity="0.87" transform="rotate(159 509.8 460.1)"/>
<ellipse cx="481.4" cy="452.1" rx="0.93" ry="0.62" fill="#7dbfcb" opacity="0.67" transform="rotate(34 481.4 452.1)"/>
<ellipse cx="537.9" cy="431.1" rx="1.64" ry="0.49" fill="#6cb4c2" opacity="0.74" transform="rotate(12 537.9 431.1)"/>
<ellipse cx="549.9" cy="444.2" rx="1.19" ry="0.43" fill="#6cb4c2" opacity="0.66" transform="rotate(114 549.9 444.2)"/>
<ellipse cx="497.5" cy="466.3" rx="0.90" ry="0.37" fill="#7dbfcb" opacity="0.72" transform="rotate(172 497.5 466.3)"/>
<ellipse cx="488.8" cy="433.4" rx="1.65" ry="0.35" fill="#93c9d2" opacity="0.57" transform="rotate(43 488.8 433.4)"/>
<ellipse cx="501.7" cy="467.0" rx="1.59" ry="0.45" fill="#93c9d2" opacity="0.59" transform="rotate(49 501.7 467.0)"/>
<ellipse cx="484.6" cy="423.1" rx="1.03" ry="0.68" fill="#2c9fbb" opacity="0.73" transform="rotate(135 484.6 423.1)"/>
<ellipse cx="540.8" cy="441.3" rx="1.49" ry="0.57" fill="#7dbfcb" opacity="0.77" transform="rotate(11 540.8 441.3)"/>
<ellipse cx="505.9" cy="446.9" rx="0.87" ry="0.49" fill="#93c9d2" opacity="0.72" transform="rotate(18 505.9 446.9)"/>
<ellipse cx="479.4" cy="433.8" rx="1.12" ry="0.61" fill="#6cb4c2" opacity="0.59" transform="rotate(152 479.4 433.8)"/>
<ellipse cx="493.9" cy="441.1" rx="1.46" ry="0.60" fill="#36a6be" opacity="0.73" transform="rotate(176 493.9 441.1)"/>
<ellipse cx="519.5" cy="418.8" rx="0.92" ry="0.86" fill="#2690aa" opacity="0.73" transform="rotate(152 519.5 418.8)"/>
<ellipse cx="556.8" cy="462.3" rx="1.17" ry="0.32" fill="#7dbfcb" opacity="0.61" transform="rotate(95 556.8 462.3)"/>
<ellipse cx="564.8" cy="444.3" rx="1.25" ry="0.87" fill="#36a6be" opacity="0.86" transform="rotate(160 564.8 444.3)"/>
<ellipse cx="535.4" cy="425.7" rx="1.36" ry="0.66" fill="#2a9cb6" opacity="0.78" transform="rotate(97 535.4 425.7)"/>
<ellipse cx="525.0" cy="416.1" rx="1.22" ry="0.63" fill="#7dbfcb" opacity="0.59" transform="rotate(85 525.0 416.1)"/>
<ellipse cx="536.3" cy="455.9" rx="1.39" ry="0.58" fill="#2690aa" opacity="0.94" transform="rotate(170 536.3 455.9)"/>
<ellipse cx="490.2" cy="441.1" rx="0.84" ry="0.35" fill="#93c9d2" opacity="0.63" transform="rotate(31 490.2 441.1)"/>
<ellipse cx="540.0" cy="461.2" rx="1.47" ry="0.54" fill="#6cb4c2" opacity="0.68" transform="rotate(151 540.0 461.2)"/>
<ellipse cx="494.7" cy="462.2" rx="1.44" ry="0.61" fill="#2690aa" opacity="0.89" transform="rotate(174 494.7 462.2)"/>
<ellipse cx="551.4" cy="421.1" rx="0.86" ry="0.42" fill="#6cb4c2" opacity="0.60" transform="rotate(124 551.4 421.1)"/>
<ellipse cx="493.8" cy="418.1" rx="1.06" ry="0.30" fill="#7dbfcb" opacity="0.46" transform="rotate(134 493.8 418.1)"/>
<ellipse cx="502.5" cy="421.8" rx="0.85" ry="0.62" fill="#6cb4c2" opacity="0.69" transform="rotate(129 502.5 421.8)"/>
<ellipse cx="476.3" cy="416.6" rx="1.29" ry="0.58" fill="#6cb4c2" opacity="0.47" transform="rotate(179 476.3 416.6)"/>
<ellipse cx="487.0" cy="427.2" rx="0.73" ry="0.57" fill="#7dbfcb" opacity="0.73" transform="rotate(17 487.0 427.2)"/>
<ellipse cx="501.9" cy="426.7" rx="1.66" ry="0.65" fill="#6cb4c2" opacity="0.72" transform="rotate(161 501.9 426.7)"/>
<ellipse cx="535.7" cy="405.1" rx="1.24" ry="0.76" fill="#2a9cb6" opacity="0.79" transform="rotate(3 535.7 405.1)"/>
<ellipse cx="528.9" cy="431.4" rx="1.56" ry="0.53" fill="#6cb4c2" opacity="0.75" transform="rotate(119 528.9 431.4)"/>
<ellipse cx="514.8" cy="412.8" rx="1.03" ry="0.60" fill="#2a9cb6" opacity="0.99" transform="rotate(123 514.8 412.8)"/>
<ellipse cx="527.2" cy="452.1" rx="1.15" ry="0.40" fill="#6cb4c2" opacity="0.65" transform="rotate(60 527.2 452.1)"/>
<ellipse cx="511.9" cy="403.0" rx="0.89" ry="0.69" fill="#6cb4c2" opacity="0.52" transform="rotate(162 511.9 403.0)"/>
<ellipse cx="557.8" cy="450.6" rx="1.62" ry="0.60" fill="#7dbfcb" opacity="0.72" transform="rotate(69 557.8 450.6)"/>
</g>
<rect x="474.40" y="399.10" width="92.20" height="69.20" fill="none" stroke="#6c6c6c" stroke-width="0.7"/>
<rect x="554.00" y="463.00" width="11.40" height="2.80" fill="#111" />
<text x="617.30" y="395.06" font-size="7.4" fill="#3a3a3a" text-anchor="middle" textLength="25.70" lengthAdjust="spacingAndGlyphs">10 days</text>
<rect x="571.00" y="399.10" width="92.80" height="69.20" fill="#e5e8e7"/>
<g clip-path="url(#clip103)">
<line x1="661.9" y1="430.7" x2="658.7" y2="434.5" stroke="#8fc3cf" stroke-width="0.35" opacity="0.6"/>
<line x1="590.9" y1="404.5" x2="590.2" y2="406.9" stroke="#8fc3cf" stroke-width="0.35" opacity="0.6"/>
<line x1="606.5" y1="460.7" x2="604.2" y2="461.6" stroke="#8fc3cf" stroke-width="0.35" opacity="0.6"/>
<line x1="578.6" y1="414.5" x2="576.8" y2="415.6" stroke="#8fc3cf" stroke-width="0.35" opacity="0.6"/>
<line x1="591.9" y1="406.5" x2="595.7" y2="408.1" stroke="#8fc3cf" stroke-width="0.35" opacity="0.6"/>
<line x1="588.0" y1="427.4" x2="584.8" y2="431.1" stroke="#8fc3cf" stroke-width="0.35" opacity="0.6"/>
<line x1="609.5" y1="453.5" x2="608.3" y2="458.7" stroke="#8fc3cf" stroke-width="0.35" opacity="0.6"/>
<line x1="594.1" y1="424.6" x2="592.7" y2="430.2" stroke="#8fc3cf" stroke-width="0.35" opacity="0.6"/>
<line x1="628.4" y1="431.9" x2="630.6" y2="434.2" stroke="#8fc3cf" stroke-width="0.35" opacity="0.6"/>
<line x1="591.0" y1="467.4" x2="585.8" y2="469.3" stroke="#8fc3cf" stroke-width="0.35" opacity="0.6"/>
<line x1="620.1" y1="448.1" x2="622.4" y2="451.3" stroke="#8fc3cf" stroke-width="0.35" opacity="0.6"/>
<line x1="584.5" y1="428.2" x2="586.2" y2="429.9" stroke="#8fc3cf" stroke-width="0.35" opacity="0.6"/>
<line x1="656.3" y1="405.8" x2="652.3" y2="408.5" stroke="#8fc3cf" stroke-width="0.35" opacity="0.6"/>
<line x1="579.4" y1="432.7" x2="573.4" y2="432.7" stroke="#8fc3cf" stroke-width="0.35" opacity="0.6"/>
<line x1="623.3" y1="452.5" x2="621.3" y2="455.0" stroke="#8fc3cf" stroke-width="0.35" opacity="0.6"/>
<line x1="622.0" y1="440.4" x2="623.8" y2="445.4" stroke="#8fc3cf" stroke-width="0.35" opacity="0.6"/>
<line x1="612.2" y1="451.0" x2="615.9" y2="451.7" stroke="#8fc3cf" stroke-width="0.35" opacity="0.6"/>
<line x1="575.1" y1="443.9" x2="571.3" y2="445.5" stroke="#8fc3cf" stroke-width="0.35" opacity="0.6"/>
<line x1="623.5" y1="442.2" x2="626.1" y2="444.5" stroke="#8fc3cf" stroke-width="0.35" opacity="0.6"/>
<line x1="624.7" y1="443.8" x2="626.1" y2="447.5" stroke="#8fc3cf" stroke-width="0.35" opacity="0.6"/>
<line x1="601.7" y1="437.5" x2="600.0" y2="440.3" stroke="#8fc3cf" stroke-width="0.35" opacity="0.6"/>
<line x1="634.6" y1="457.8" x2="633.9" y2="463.7" stroke="#8fc3cf" stroke-width="0.35" opacity="0.6"/>
<line x1="599.7" y1="462.7" x2="602.6" y2="464.6" stroke="#8fc3cf" stroke-width="0.35" opacity="0.6"/>
<line x1="646.8" y1="401.4" x2="644.9" y2="406.5" stroke="#8fc3cf" stroke-width="0.35" opacity="0.6"/>
<line x1="658.6" y1="446.3" x2="660.2" y2="449.3" stroke="#8fc3cf" stroke-width="0.35" opacity="0.6"/>
<line x1="629.6" y1="403.7" x2="635.1" y2="404.2" stroke="#8fc3cf" stroke-width="0.35" opacity="0.6"/>
<line x1="629.2" y1="410.4" x2="629.9" y2="413.4" stroke="#8fc3cf" stroke-width="0.35" opacity="0.6"/>
<line x1="651.7" y1="418.9" x2="648.4" y2="422.7" stroke="#8fc3cf" stroke-width="0.35" opacity="0.6"/>
<line x1="600.6" y1="416.5" x2="600.3" y2="420.1" stroke="#8fc3cf" stroke-width="0.35" opacity="0.6"/>
<line x1="626.1" y1="421.8" x2="623.2" y2="424.0" stroke="#8fc3cf" stroke-width="0.35" opacity="0.6"/>
<line x1="583.6" y1="452.7" x2="579.2" y2="454.2" stroke="#8fc3cf" stroke-width="0.35" opacity="0.6"/>
<line x1="621.7" y1="459.4" x2="619.7" y2="459.8" stroke="#8fc3cf" stroke-width="0.35" opacity="0.6"/>
<line x1="616.3" y1="400.4" x2="617.7" y2="403.0" stroke="#8fc3cf" stroke-width="0.35" opacity="0.6"/>
<line x1="613.8" y1="446.0" x2="611.1" y2="447.3" stroke="#8fc3cf" stroke-width="0.35" opacity="0.6"/>
<line x1="572.1" y1="468.2" x2="568.8" y2="470.9" stroke="#8fc3cf" stroke-width="0.35" opacity="0.6"/>
<line x1="581.4" y1="402.7" x2="577.4" y2="403.6" stroke="#8fc3cf" stroke-width="0.35" opacity="0.6"/>
<line x1="650.8" y1="453.3" x2="647.1" y2="457.0" stroke="#8fc3cf" stroke-width="0.35" opacity="0.6"/>
<line x1="594.5" y1="416.1" x2="595.6" y2="421.1" stroke="#8fc3cf" stroke-width="0.35" opacity="0.6"/>
<line x1="644.7" y1="451.5" x2="643.7" y2="455.3" stroke="#8fc3cf" stroke-width="0.35" opacity="0.6"/>
<line x1="589.0" y1="445.2" x2="587.1" y2="448.8" stroke="#8fc3cf" stroke-width="0.35" opacity="0.6"/>
<line x1="638.4" y1="466.9" x2="636.1" y2="467.3" stroke="#8fc3cf" stroke-width="0.35" opacity="0.6"/>
<line x1="597.7" y1="441.5" x2="595.9" y2="444.1" stroke="#8fc3cf" stroke-width="0.35" opacity="0.6"/>
<line x1="657.4" y1="431.0" x2="655.7" y2="432.5" stroke="#8fc3cf" stroke-width="0.35" opacity="0.6"/>
<line x1="596.9" y1="400.7" x2="593.7" y2="403.2" stroke="#8fc3cf" stroke-width="0.35" opacity="0.6"/>
<line x1="659.4" y1="441.1" x2="661.2" y2="444.0" stroke="#8fc3cf" stroke-width="0.35" opacity="0.6"/>
<line x1="605.8" y1="412.8" x2="610.1" y2="414.3" stroke="#8fc3cf" stroke-width="0.35" opacity="0.6"/>
<line x1="600.1" y1="430.5" x2="598.2" y2="432.9" stroke="#8fc3cf" stroke-width="0.35" opacity="0.6"/>
<line x1="611.8" y1="421.5" x2="614.3" y2="425.5" stroke="#8fc3cf" stroke-width="0.35" opacity="0.6"/>
<line x1="580.1" y1="426.8" x2="584.5" y2="428.3" stroke="#8fc3cf" stroke-width="0.35" opacity="0.6"/>
<line x1="598.6" y1="465.9" x2="598.9" y2="470.5" stroke="#8fc3cf" stroke-width="0.35" opacity="0.6"/>
<line x1="619.6" y1="455.8" x2="616.9" y2="459.5" stroke="#8fc3cf" stroke-width="0.35" opacity="0.6"/>
<line x1="574.0" y1="408.9" x2="571.4" y2="411.5" stroke="#8fc3cf" stroke-width="0.35" opacity="0.6"/>
<line x1="661.5" y1="443.1" x2="657.3" y2="445.7" stroke="#8fc3cf" stroke-width="0.35" opacity="0.6"/>
<line x1="660.4" y1="444.6" x2="656.7" y2="445.3" stroke="#8fc3cf" stroke-width="0.35" opacity="0.6"/>
<line x1="595.8" y1="406.7" x2="599.7" y2="410.7" stroke="#8fc3cf" stroke-width="0.35" opacity="0.6"/>
<line x1="632.1" y1="402.1" x2="635.9" y2="402.4" stroke="#8fc3cf" stroke-width="0.35" opacity="0.6"/>
<line x1="621.5" y1="424.1" x2="624.6" y2="424.3" stroke="#8fc3cf" stroke-width="0.35" opacity="0.6"/>
<line x1="652.4" y1="449.3" x2="649.8" y2="451.0" stroke="#8fc3cf" stroke-width="0.35" opacity="0.6"/>
<line x1="633.0" y1="412.8" x2="636.4" y2="417.5" stroke="#8fc3cf" stroke-width="0.35" opacity="0.6"/>
<line x1="590.8" y1="419.3" x2="595.0" y2="422.8" stroke="#8fc3cf" stroke-width="0.35" opacity="0.6"/>
<line x1="634.8" y1="440.0" x2="631.3" y2="441.7" stroke="#8fc3cf" stroke-width="0.35" opacity="0.6"/>
<line x1="656.0" y1="452.9" x2="657.7" y2="455.3" stroke="#8fc3cf" stroke-width="0.35" opacity="0.6"/>
<line x1="620.9" y1="430.0" x2="617.2" y2="432.8" stroke="#8fc3cf" stroke-width="0.35" opacity="0.6"/>
<line x1="639.9" y1="440.8" x2="643.3" y2="444.5" stroke="#8fc3cf" stroke-width="0.35" opacity="0.6"/>
<line x1="662.1" y1="443.2" x2="660.3" y2="445.5" stroke="#8fc3cf" stroke-width="0.35" opacity="0.6"/>
<line x1="581.9" y1="430.1" x2="580.5" y2="434.8" stroke="#8fc3cf" stroke-width="0.35" opacity="0.6"/>
<line x1="615.0" y1="436.7" x2="617.1" y2="437.3" stroke="#8fc3cf" stroke-width="0.35" opacity="0.6"/>
<line x1="582.3" y1="421.2" x2="584.1" y2="422.9" stroke="#8fc3cf" stroke-width="0.35" opacity="0.6"/>
<line x1="602.4" y1="422.4" x2="597.5" y2="425.4" stroke="#8fc3cf" stroke-width="0.35" opacity="0.6"/>
<line x1="663.2" y1="450.1" x2="666.2" y2="450.2" stroke="#8fc3cf" stroke-width="0.35" opacity="0.6"/>
<line x1="663.7" y1="447.3" x2="661.2" y2="448.5" stroke="#8fc3cf" stroke-width="0.35" opacity="0.6"/>
<line x1="593.3" y1="405.9" x2="593.0" y2="409.3" stroke="#8fc3cf" stroke-width="0.35" opacity="0.6"/>
<line x1="614.7" y1="408.7" x2="618.2" y2="409.0" stroke="#8fc3cf" stroke-width="0.35" opacity="0.6"/>
<line x1="657.0" y1="444.3" x2="656.5" y2="446.5" stroke="#8fc3cf" stroke-width="0.35" opacity="0.6"/>
<line x1="611.2" y1="424.6" x2="609.8" y2="428.0" stroke="#8fc3cf" stroke-width="0.35" opacity="0.6"/>
<line x1="645.4" y1="418.1" x2="644.1" y2="419.6" stroke="#8fc3cf" stroke-width="0.35" opacity="0.6"/>
<line x1="584.6" y1="454.2" x2="581.7" y2="455.7" stroke="#8fc3cf" stroke-width="0.35" opacity="0.6"/>
<line x1="589.4" y1="465.6" x2="588.7" y2="467.9" stroke="#8fc3cf" stroke-width="0.35" opacity="0.6"/>
<line x1="662.8" y1="438.3" x2="665.1" y2="441.5" stroke="#8fc3cf" stroke-width="0.35" opacity="0.6"/>
<line x1="605.3" y1="439.1" x2="606.2" y2="442.4" stroke="#8fc3cf" stroke-width="0.35" opacity="0.6"/>
<line x1="638.9" y1="420.2" x2="634.6" y2="422.8" stroke="#8fc3cf" stroke-width="0.35" opacity="0.6"/>
<line x1="658.6" y1="409.8" x2="654.2" y2="411.8" stroke="#8fc3cf" stroke-width="0.35" opacity="0.6"/>
<line x1="587.9" y1="462.2" x2="587.9" y2="464.9" stroke="#8fc3cf" stroke-width="0.35" opacity="0.6"/>
<line x1="590.5" y1="468.2" x2="588.1" y2="469.9" stroke="#8fc3cf" stroke-width="0.35" opacity="0.6"/>
<line x1="653.8" y1="401.7" x2="651.2" y2="405.4" stroke="#8fc3cf" stroke-width="0.35" opacity="0.6"/>
<line x1="651.7" y1="461.9" x2="648.1" y2="466.0" stroke="#8fc3cf" stroke-width="0.35" opacity="0.6"/>
<line x1="614.0" y1="463.7" x2="615.1" y2="468.5" stroke="#8fc3cf" stroke-width="0.35" opacity="0.6"/>
<line x1="640.7" y1="427.1" x2="636.6" y2="429.7" stroke="#8fc3cf" stroke-width="0.35" opacity="0.6"/>
<line x1="585.8" y1="439.7" x2="586.0" y2="444.1" stroke="#8fc3cf" stroke-width="0.35" opacity="0.6"/>
<line x1="573.7" y1="447.6" x2="575.3" y2="452.3" stroke="#8fc3cf" stroke-width="0.35" opacity="0.6"/>
<line x1="593.4" y1="400.5" x2="593.9" y2="405.1" stroke="#8fc3cf" stroke-width="0.35" opacity="0.6"/>
<line x1="643.3" y1="436.5" x2="640.8" y2="437.5" stroke="#8fc3cf" stroke-width="0.35" opacity="0.6"/>
<line x1="582.5" y1="427.0" x2="580.1" y2="431.5" stroke="#8fc3cf" stroke-width="0.35" opacity="0.6"/>
<line x1="577.0" y1="440.5" x2="578.9" y2="444.2" stroke="#8fc3cf" stroke-width="0.35" opacity="0.6"/>
<line x1="580.1" y1="410.3" x2="578.7" y2="413.3" stroke="#8fc3cf" stroke-width="0.35" opacity="0.6"/>
<line x1="661.6" y1="434.2" x2="662.8" y2="436.6" stroke="#8fc3cf" stroke-width="0.35" opacity="0.6"/>
<line x1="619.8" y1="434.5" x2="623.9" y2="438.7" stroke="#8fc3cf" stroke-width="0.35" opacity="0.6"/>
<line x1="618.2" y1="452.6" x2="615.3" y2="457.0" stroke="#8fc3cf" stroke-width="0.35" opacity="0.6"/>
<line x1="580.6" y1="465.7" x2="579.8" y2="468.3" stroke="#8fc3cf" stroke-width="0.35" opacity="0.6"/>
<line x1="626.2" y1="403.1" x2="626.8" y2="405.4" stroke="#8fc3cf" stroke-width="0.35" opacity="0.6"/>
<line x1="575.5" y1="430.3" x2="571.1" y2="432.7" stroke="#8fc3cf" stroke-width="0.35" opacity="0.6"/>
<line x1="657.8" y1="453.0" x2="656.2" y2="457.1" stroke="#8fc3cf" stroke-width="0.35" opacity="0.6"/>
<line x1="660.0" y1="408.1" x2="659.7" y2="412.2" stroke="#8fc3cf" stroke-width="0.35" opacity="0.6"/>
<line x1="572.3" y1="459.7" x2="570.5" y2="462.5" stroke="#8fc3cf" stroke-width="0.35" opacity="0.6"/>
<line x1="644.8" y1="432.1" x2="642.0" y2="435.3" stroke="#8fc3cf" stroke-width="0.35" opacity="0.6"/>
<line x1="650.8" y1="434.0" x2="655.7" y2="435.4" stroke="#8fc3cf" stroke-width="0.35" opacity="0.6"/>
<line x1="592.4" y1="438.7" x2="587.6" y2="439.7" stroke="#8fc3cf" stroke-width="0.35" opacity="0.6"/>
<line x1="577.4" y1="457.1" x2="573.6" y2="457.6" stroke="#8fc3cf" stroke-width="0.35" opacity="0.6"/>
<line x1="594.6" y1="431.2" x2="594.4" y2="433.3" stroke="#8fc3cf" stroke-width="0.35" opacity="0.6"/>
<line x1="649.6" y1="443.6" x2="651.2" y2="448.6" stroke="#8fc3cf" stroke-width="0.35" opacity="0.6"/>
<line x1="587.1" y1="460.7" x2="583.6" y2="462.3" stroke="#8fc3cf" stroke-width="0.35" opacity="0.6"/>
<line x1="581.5" y1="430.1" x2="585.4" y2="431.5" stroke="#8fc3cf" stroke-width="0.35" opacity="0.6"/>
<line x1="584.2" y1="435.1" x2="585.1" y2="438.2" stroke="#8fc3cf" stroke-width="0.35" opacity="0.6"/>
<line x1="625.1" y1="436.1" x2="621.5" y2="437.4" stroke="#8fc3cf" stroke-width="0.35" opacity="0.6"/>
<line x1="624.3" y1="449.4" x2="627.9" y2="451.5" stroke="#8fc3cf" stroke-width="0.35" opacity="0.6"/>
<line x1="587.7" y1="433.4" x2="587.6" y2="439.0" stroke="#8fc3cf" stroke-width="0.35" opacity="0.6"/>
<line x1="660.3" y1="420.2" x2="657.2" y2="421.7" stroke="#8fc3cf" stroke-width="0.35" opacity="0.6"/>
<line x1="594.2" y1="440.4" x2="597.6" y2="445.1" stroke="#8fc3cf" stroke-width="0.35" opacity="0.6"/>
<line x1="654.6" y1="401.3" x2="649.1" y2="401.6" stroke="#8fc3cf" stroke-width="0.35" opacity="0.6"/>
<line x1="583.8" y1="444.8" x2="583.3" y2="447.4" stroke="#8fc3cf" stroke-width="0.35" opacity="0.6"/>
<line x1="636.4" y1="399.8" x2="638.3" y2="403.4" stroke="#8fc3cf" stroke-width="0.35" opacity="0.6"/>
<line x1="645.5" y1="427.3" x2="647.9" y2="430.3" stroke="#8fc3cf" stroke-width="0.35" opacity="0.6"/>
<line x1="621.1" y1="426.8" x2="626.2" y2="428.4" stroke="#8fc3cf" stroke-width="0.35" opacity="0.6"/>
<line x1="590.1" y1="412.0" x2="594.7" y2="415.7" stroke="#8fc3cf" stroke-width="0.35" opacity="0.6"/>
<line x1="578.2" y1="442.2" x2="577.5" y2="445.1" stroke="#8fc3cf" stroke-width="0.35" opacity="0.6"/>
<line x1="643.7" y1="411.5" x2="645.7" y2="412.2" stroke="#8fc3cf" stroke-width="0.35" opacity="0.6"/>
<line x1="632.4" y1="402.7" x2="630.7" y2="407.1" stroke="#8fc3cf" stroke-width="0.35" opacity="0.6"/>
<line x1="580.5" y1="466.1" x2="583.5" y2="467.5" stroke="#8fc3cf" stroke-width="0.35" opacity="0.6"/>
<line x1="645.3" y1="417.6" x2="641.6" y2="420.7" stroke="#8fc3cf" stroke-width="0.35" opacity="0.6"/>
<line x1="641.4" y1="425.1" x2="643.9" y2="428.0" stroke="#8fc3cf" stroke-width="0.35" opacity="0.6"/>
<line x1="628.9" y1="400.7" x2="631.8" y2="401.6" stroke="#8fc3cf" stroke-width="0.35" opacity="0.6"/>
<line x1="575.8" y1="451.3" x2="571.7" y2="451.7" stroke="#8fc3cf" stroke-width="0.35" opacity="0.6"/>
<line x1="601.8" y1="428.6" x2="597.3" y2="430.4" stroke="#8fc3cf" stroke-width="0.35" opacity="0.6"/>
<line x1="622.8" y1="443.2" x2="618.5" y2="444.4" stroke="#8fc3cf" stroke-width="0.35" opacity="0.6"/>
<line x1="590.6" y1="460.6" x2="593.1" y2="461.0" stroke="#8fc3cf" stroke-width="0.35" opacity="0.6"/>
<line x1="589.0" y1="425.6" x2="587.7" y2="430.7" stroke="#8fc3cf" stroke-width="0.35" opacity="0.6"/>
<line x1="594.6" y1="459.7" x2="589.1" y2="459.8" stroke="#8fc3cf" stroke-width="0.35" opacity="0.6"/>
<line x1="646.4" y1="438.3" x2="646.8" y2="440.9" stroke="#8fc3cf" stroke-width="0.35" opacity="0.6"/>
<line x1="606.6" y1="414.6" x2="607.6" y2="416.7" stroke="#8fc3cf" stroke-width="0.35" opacity="0.6"/>
<line x1="660.4" y1="428.1" x2="662.8" y2="428.8" stroke="#8fc3cf" stroke-width="0.35" opacity="0.6"/>
<line x1="612.5" y1="404.5" x2="610.9" y2="407.3" stroke="#8fc3cf" stroke-width="0.35" opacity="0.6"/>
<line x1="630.4" y1="422.6" x2="632.3" y2="427.8" stroke="#8fc3cf" stroke-width="0.35" opacity="0.6"/>
<line x1="613.5" y1="462.3" x2="610.8" y2="466.5" stroke="#8fc3cf" stroke-width="0.35" opacity="0.6"/>
<line x1="639.0" y1="437.9" x2="641.6" y2="441.9" stroke="#8fc3cf" stroke-width="0.35" opacity="0.6"/>
<line x1="574.4" y1="416.2" x2="570.0" y2="419.3" stroke="#8fc3cf" stroke-width="0.35" opacity="0.6"/>
<line x1="573.0" y1="453.2" x2="573.4" y2="456.1" stroke="#8fc3cf" stroke-width="0.35" opacity="0.6"/>
<line x1="656.2" y1="439.0" x2="660.2" y2="443.0" stroke="#8fc3cf" stroke-width="0.35" opacity="0.6"/>
<line x1="577.1" y1="448.0" x2="573.8" y2="451.7" stroke="#8fc3cf" stroke-width="0.35" opacity="0.6"/>
<line x1="614.9" y1="419.9" x2="618.8" y2="423.1" stroke="#8fc3cf" stroke-width="0.35" opacity="0.6"/>
<line x1="617.4" y1="401.0" x2="614.6" y2="405.0" stroke="#8fc3cf" stroke-width="0.35" opacity="0.6"/>
<line x1="644.4" y1="432.0" x2="642.0" y2="435.7" stroke="#8fc3cf" stroke-width="0.35" opacity="0.6"/>
<line x1="644.5" y1="417.7" x2="648.6" y2="421.1" stroke="#8fc3cf" stroke-width="0.35" opacity="0.6"/>
<line x1="595.2" y1="400.5" x2="592.5" y2="404.8" stroke="#8fc3cf" stroke-width="0.35" opacity="0.6"/>
<line x1="651.3" y1="467.2" x2="656.9" y2="468.5" stroke="#8fc3cf" stroke-width="0.35" opacity="0.6"/>
<line x1="597.3" y1="408.5" x2="598.8" y2="410.3" stroke="#8fc3cf" stroke-width="0.35" opacity="0.6"/>
<line x1="571.5" y1="409.3" x2="571.1" y2="411.6" stroke="#8fc3cf" stroke-width="0.35" opacity="0.6"/>
<line x1="641.5" y1="399.3" x2="643.6" y2="401.0" stroke="#8fc3cf" stroke-width="0.35" opacity="0.6"/>
<line x1="581.8" y1="399.1" x2="581.8" y2="401.4" stroke="#8fc3cf" stroke-width="0.35" opacity="0.6"/>
<line x1="581.9" y1="399.2" x2="579.6" y2="400.5" stroke="#8fc3cf" stroke-width="0.35" opacity="0.6"/>
<line x1="609.1" y1="452.7" x2="612.2" y2="454.2" stroke="#8fc3cf" stroke-width="0.35" opacity="0.6"/>
<line x1="648.4" y1="442.9" x2="652.1" y2="444.6" stroke="#8fc3cf" stroke-width="0.35" opacity="0.6"/>
<line x1="648.6" y1="436.4" x2="650.4" y2="438.6" stroke="#8fc3cf" stroke-width="0.35" opacity="0.6"/>
<line x1="655.0" y1="426.2" x2="657.5" y2="428.0" stroke="#8fc3cf" stroke-width="0.35" opacity="0.6"/>
<line x1="626.4" y1="458.3" x2="624.2" y2="462.2" stroke="#8fc3cf" stroke-width="0.35" opacity="0.6"/>
<line x1="603.6" y1="415.4" x2="601.8" y2="418.3" stroke="#8fc3cf" stroke-width="0.35" opacity="0.6"/>
<line x1="598.7" y1="450.5" x2="593.5" y2="451.9" stroke="#8fc3cf" stroke-width="0.35" opacity="0.6"/>
<line x1="582.2" y1="451.8" x2="582.0" y2="454.1" stroke="#8fc3cf" stroke-width="0.35" opacity="0.6"/>
<line x1="646.0" y1="436.7" x2="646.1" y2="439.0" stroke="#8fc3cf" stroke-width="0.35" opacity="0.6"/>
<line x1="622.6" y1="432.3" x2="617.8" y2="435.3" stroke="#8fc3cf" stroke-width="0.35" opacity="0.6"/>
<line x1="583.3" y1="462.0" x2="583.9" y2="463.9" stroke="#8fc3cf" stroke-width="0.35" opacity="0.6"/>
<line x1="640.8" y1="455.2" x2="638.7" y2="456.8" stroke="#8fc3cf" stroke-width="0.35" opacity="0.6"/>
<line x1="639.5" y1="463.4" x2="636.1" y2="463.9" stroke="#8fc3cf" stroke-width="0.35" opacity="0.6"/>
<line x1="649.2" y1="406.8" x2="645.1" y2="408.3" stroke="#8fc3cf" stroke-width="0.35" opacity="0.6"/>
<line x1="632.3" y1="451.9" x2="634.3" y2="454.0" stroke="#8fc3cf" stroke-width="0.35" opacity="0.6"/>
<line x1="576.9" y1="448.4" x2="579.0" y2="448.6" stroke="#8fc3cf" stroke-width="0.35" opacity="0.6"/>
<line x1="631.6" y1="433.5" x2="629.0" y2="433.6" stroke="#8fc3cf" stroke-width="0.35" opacity="0.6"/>
<line x1="620.4" y1="412.5" x2="615.7" y2="415.9" stroke="#8fc3cf" stroke-width="0.35" opacity="0.6"/>
<line x1="660.5" y1="407.1" x2="657.7" y2="410.2" stroke="#8fc3cf" stroke-width="0.35" opacity="0.6"/>
<line x1="580.3" y1="429.4" x2="577.2" y2="433.1" stroke="#8fc3cf" stroke-width="0.35" opacity="0.6"/>
<line x1="613.4" y1="405.0" x2="614.6" y2="408.0" stroke="#8fc3cf" stroke-width="0.35" opacity="0.6"/>
<line x1="603.5" y1="464.9" x2="601.9" y2="469.1" stroke="#8fc3cf" stroke-width="0.35" opacity="0.6"/>
<line x1="571.2" y1="422.8" x2="569.2" y2="424.5" stroke="#8fc3cf" stroke-width="0.35" opacity="0.6"/>
<line x1="572.8" y1="419.1" x2="576.7" y2="421.0" stroke="#8fc3cf" stroke-width="0.35" opacity="0.6"/>
<line x1="601.2" y1="456.0" x2="598.4" y2="458.2" stroke="#8fc3cf" stroke-width="0.35" opacity="0.6"/>
<line x1="656.0" y1="459.4" x2="650.2" y2="460.5" stroke="#8fc3cf" stroke-width="0.35" opacity="0.6"/>
<line x1="654.0" y1="464.1" x2="654.7" y2="470.0" stroke="#8fc3cf" stroke-width="0.35" opacity="0.6"/>
<line x1="596.1" y1="444.8" x2="602.1" y2="445.1" stroke="#8fc3cf" stroke-width="0.35" opacity="0.6"/>
<line x1="634.2" y1="402.6" x2="629.6" y2="403.1" stroke="#8fc3cf" stroke-width="0.35" opacity="0.6"/>
<line x1="608.1" y1="433.3" x2="602.5" y2="434.0" stroke="#8fc3cf" stroke-width="0.35" opacity="0.6"/>
<line x1="582.8" y1="415.8" x2="584.6" y2="416.9" stroke="#8fc3cf" stroke-width="0.35" opacity="0.6"/>
<line x1="584.2" y1="439.7" x2="581.9" y2="444.2" stroke="#8fc3cf" stroke-width="0.35" opacity="0.6"/>
<line x1="648.3" y1="447.6" x2="646.3" y2="448.1" stroke="#8fc3cf" stroke-width="0.35" opacity="0.6"/>
<line x1="661.2" y1="429.7" x2="658.0" y2="432.7" stroke="#8fc3cf" stroke-width="0.35" opacity="0.6"/>
<line x1="642.2" y1="445.3" x2="645.9" y2="447.3" stroke="#8fc3cf" stroke-width="0.35" opacity="0.6"/>
<line x1="575.4" y1="459.7" x2="573.2" y2="462.0" stroke="#8fc3cf" stroke-width="0.35" opacity="0.6"/>
<line x1="601.3" y1="421.9" x2="605.2" y2="423.4" stroke="#8fc3cf" stroke-width="0.35" opacity="0.6"/>
<line x1="636.2" y1="423.0" x2="637.4" y2="428.3" stroke="#8fc3cf" stroke-width="0.35" opacity="0.6"/>
<line x1="635.8" y1="409.1" x2="640.1" y2="412.8" stroke="#8fc3cf" stroke-width="0.35" opacity="0.6"/>
<line x1="630.1" y1="409.4" x2="630.4" y2="412.9" stroke="#8fc3cf" stroke-width="0.35" opacity="0.6"/>
<line x1="627.4" y1="458.3" x2="624.8" y2="460.2" stroke="#8fc3cf" stroke-width="0.35" opacity="0.6"/>
<line x1="593.7" y1="405.9" x2="596.8" y2="409.4" stroke="#8fc3cf" stroke-width="0.35" opacity="0.6"/>
<line x1="632.4" y1="434.9" x2="630.8" y2="436.6" stroke="#8fc3cf" stroke-width="0.35" opacity="0.6"/>
<line x1="586.6" y1="410.7" x2="583.7" y2="414.3" stroke="#8fc3cf" stroke-width="0.35" opacity="0.6"/>
<line x1="605.7" y1="458.8" x2="609.4" y2="463.2" stroke="#8fc3cf" stroke-width="0.35" opacity="0.6"/>
<line x1="654.6" y1="411.3" x2="652.2" y2="415.2" stroke="#8fc3cf" stroke-width="0.35" opacity="0.6"/>
<line x1="594.6" y1="416.9" x2="597.9" y2="418.3" stroke="#8fc3cf" stroke-width="0.35" opacity="0.6"/>
<line x1="642.4" y1="422.9" x2="639.7" y2="425.0" stroke="#8fc3cf" stroke-width="0.35" opacity="0.6"/>
<line x1="634.3" y1="422.4" x2="632.8" y2="426.7" stroke="#8fc3cf" stroke-width="0.35" opacity="0.6"/>
<line x1="616.7" y1="418.6" x2="619.2" y2="419.3" stroke="#8fc3cf" stroke-width="0.35" opacity="0.6"/>
<line x1="625.2" y1="434.8" x2="629.9" y2="435.8" stroke="#8fc3cf" stroke-width="0.35" opacity="0.6"/>
<line x1="578.6" y1="409.2" x2="575.2" y2="410.5" stroke="#8fc3cf" stroke-width="0.35" opacity="0.6"/>
<line x1="609.1" y1="443.7" x2="609.2" y2="447.0" stroke="#8fc3cf" stroke-width="0.35" opacity="0.6"/>
<line x1="660.0" y1="444.3" x2="660.0" y2="448.0" stroke="#8fc3cf" stroke-width="0.35" opacity="0.6"/>
<line x1="625.0" y1="455.8" x2="626.0" y2="458.6" stroke="#8fc3cf" stroke-width="0.35" opacity="0.6"/>
<line x1="580.6" y1="461.2" x2="575.4" y2="461.4" stroke="#8fc3cf" stroke-width="0.35" opacity="0.6"/>
<line x1="626.1" y1="444.3" x2="625.1" y2="446.3" stroke="#8fc3cf" stroke-width="0.35" opacity="0.6"/>
<line x1="600.0" y1="425.0" x2="603.4" y2="427.4" stroke="#8fc3cf" stroke-width="0.35" opacity="0.6"/>
<line x1="657.0" y1="452.5" x2="658.7" y2="455.8" stroke="#8fc3cf" stroke-width="0.35" opacity="0.6"/>
<line x1="654.7" y1="438.2" x2="657.5" y2="441.8" stroke="#8fc3cf" stroke-width="0.35" opacity="0.6"/>
<line x1="586.1" y1="454.8" x2="587.4" y2="458.1" stroke="#8fc3cf" stroke-width="0.35" opacity="0.6"/>
<line x1="645.7" y1="410.0" x2="645.8" y2="412.5" stroke="#8fc3cf" stroke-width="0.35" opacity="0.6"/>
<line x1="605.1" y1="423.2" x2="600.1" y2="423.6" stroke="#8fc3cf" stroke-width="0.35" opacity="0.6"/>
<line x1="590.4" y1="408.8" x2="593.7" y2="410.7" stroke="#8fc3cf" stroke-width="0.35" opacity="0.6"/>
<line x1="632.1" y1="461.9" x2="632.2" y2="464.6" stroke="#8fc3cf" stroke-width="0.35" opacity="0.6"/>
<line x1="578.4" y1="439.6" x2="575.3" y2="443.9" stroke="#8fc3cf" stroke-width="0.35" opacity="0.6"/>
<ellipse cx="584.4" cy="404.9" rx="1.04" ry="0.55" fill="#2a9cb6" opacity="0.80" transform="rotate(88 584.4 404.9)"/>
<ellipse cx="596.4" cy="444.2" rx="0.83" ry="0.61" fill="#6cb4c2" opacity="0.58" transform="rotate(144 596.4 444.2)"/>
<ellipse cx="624.2" cy="425.3" rx="1.57" ry="0.52" fill="#93c9d2" opacity="0.67" transform="rotate(97 624.2 425.3)"/>
<ellipse cx="617.9" cy="463.8" rx="1.65" ry="0.85" fill="#2a9cb6" opacity="0.94" transform="rotate(27 617.9 463.8)"/>
<ellipse cx="624.6" cy="452.7" rx="0.86" ry="0.60" fill="#7dbfcb" opacity="0.50" transform="rotate(53 624.6 452.7)"/>
<ellipse cx="599.8" cy="437.6" rx="1.78" ry="0.65" fill="#2a9cb6" opacity="0.95" transform="rotate(137 599.8 437.6)"/>
<ellipse cx="650.8" cy="428.0" rx="0.99" ry="0.70" fill="#2c9fbb" opacity="0.96" transform="rotate(42 650.8 428.0)"/>
<ellipse cx="598.1" cy="448.7" rx="0.91" ry="0.88" fill="#36a6be" opacity="0.80" transform="rotate(99 598.1 448.7)"/>
<ellipse cx="622.1" cy="462.8" rx="1.33" ry="0.51" fill="#2690aa" opacity="0.92" transform="rotate(40 622.1 462.8)"/>
<ellipse cx="578.7" cy="403.8" rx="0.93" ry="0.55" fill="#7dbfcb" opacity="0.77" transform="rotate(117 578.7 403.8)"/>
<ellipse cx="657.8" cy="418.8" rx="0.68" ry="0.62" fill="#93c9d2" opacity="0.64" transform="rotate(7 657.8 418.8)"/>
<ellipse cx="610.3" cy="419.4" rx="1.69" ry="0.84" fill="#2a9cb6" opacity="0.99" transform="rotate(5 610.3 419.4)"/>
<ellipse cx="625.4" cy="436.7" rx="1.30" ry="0.51" fill="#93c9d2" opacity="0.55" transform="rotate(106 625.4 436.7)"/>
<ellipse cx="632.2" cy="435.3" rx="1.06" ry="0.79" fill="#2a9cb6" opacity="0.91" transform="rotate(48 632.2 435.3)"/>
<ellipse cx="640.0" cy="443.6" rx="1.13" ry="0.54" fill="#7dbfcb" opacity="0.53" transform="rotate(155 640.0 443.6)"/>
<ellipse cx="603.1" cy="400.1" rx="1.54" ry="0.49" fill="#7dbfcb" opacity="0.74" transform="rotate(127 603.1 400.1)"/>
<ellipse cx="633.0" cy="421.4" rx="1.46" ry="0.81" fill="#36a6be" opacity="0.85" transform="rotate(151 633.0 421.4)"/>
<ellipse cx="604.5" cy="434.3" rx="0.76" ry="0.58" fill="#6cb4c2" opacity="0.73" transform="rotate(78 604.5 434.3)"/>
<ellipse cx="600.9" cy="403.4" rx="1.19" ry="0.60" fill="#2690aa" opacity="0.95" transform="rotate(148 600.9 403.4)"/>
<ellipse cx="576.3" cy="448.1" rx="1.48" ry="0.88" fill="#2a9cb6" opacity="0.96" transform="rotate(87 576.3 448.1)"/>
<ellipse cx="595.7" cy="434.4" rx="0.86" ry="0.60" fill="#2690aa" opacity="0.90" transform="rotate(70 595.7 434.4)"/>
<ellipse cx="598.2" cy="408.0" rx="0.84" ry="0.62" fill="#2a9cb6" opacity="0.94" transform="rotate(126 598.2 408.0)"/>
<ellipse cx="605.8" cy="430.6" rx="1.65" ry="0.31" fill="#93c9d2" opacity="0.53" transform="rotate(46 605.8 430.6)"/>
<ellipse cx="630.7" cy="436.0" rx="1.20" ry="0.86" fill="#2c9fbb" opacity="0.90" transform="rotate(24 630.7 436.0)"/>
<ellipse cx="645.0" cy="448.5" rx="0.70" ry="0.59" fill="#93c9d2" opacity="0.67" transform="rotate(150 645.0 448.5)"/>
<ellipse cx="662.0" cy="414.2" rx="1.38" ry="0.58" fill="#93c9d2" opacity="0.53" transform="rotate(69 662.0 414.2)"/>
<ellipse cx="654.8" cy="459.1" rx="1.02" ry="0.82" fill="#2690aa" opacity="0.92" transform="rotate(31 654.8 459.1)"/>
<ellipse cx="592.8" cy="462.5" rx="1.32" ry="0.52" fill="#7dbfcb" opacity="0.48" transform="rotate(92 592.8 462.5)"/>
<ellipse cx="573.4" cy="404.9" rx="1.52" ry="0.69" fill="#6cb4c2" opacity="0.61" transform="rotate(89 573.4 404.9)"/>
<ellipse cx="625.6" cy="424.0" rx="1.61" ry="0.50" fill="#6cb4c2" opacity="0.45" transform="rotate(102 625.6 424.0)"/>
<ellipse cx="648.6" cy="417.3" rx="1.21" ry="0.42" fill="#7dbfcb" opacity="0.78" transform="rotate(39 648.6 417.3)"/>
<ellipse cx="572.8" cy="414.1" rx="1.79" ry="0.76" fill="#36a6be" opacity="0.93" transform="rotate(42 572.8 414.1)"/>
<ellipse cx="591.4" cy="456.5" rx="0.92" ry="0.63" fill="#7dbfcb" opacity="0.59" transform="rotate(91 591.4 456.5)"/>
<ellipse cx="588.9" cy="400.6" rx="1.23" ry="0.37" fill="#93c9d2" opacity="0.74" transform="rotate(127 588.9 400.6)"/>
<ellipse cx="623.9" cy="451.5" rx="1.45" ry="0.63" fill="#7dbfcb" opacity="0.73" transform="rotate(33 623.9 451.5)"/>
<ellipse cx="626.0" cy="428.3" rx="0.91" ry="0.60" fill="#2c9fbb" opacity="0.91" transform="rotate(166 626.0 428.3)"/>
<ellipse cx="580.7" cy="429.3" rx="0.93" ry="0.62" fill="#36a6be" opacity="0.81" transform="rotate(146 580.7 429.3)"/>
<ellipse cx="596.1" cy="439.7" rx="1.43" ry="0.63" fill="#93c9d2" opacity="0.61" transform="rotate(92 596.1 439.7)"/>
<ellipse cx="602.2" cy="418.3" rx="1.05" ry="0.53" fill="#6cb4c2" opacity="0.46" transform="rotate(97 602.2 418.3)"/>
<ellipse cx="575.8" cy="422.7" rx="1.15" ry="0.50" fill="#2690aa" opacity="0.99" transform="rotate(43 575.8 422.7)"/>
<ellipse cx="584.1" cy="464.9" rx="0.67" ry="0.40" fill="#93c9d2" opacity="0.53" transform="rotate(122 584.1 464.9)"/>
<ellipse cx="593.0" cy="424.1" rx="1.29" ry="0.34" fill="#93c9d2" opacity="0.69" transform="rotate(81 593.0 424.1)"/>
<ellipse cx="571.8" cy="404.8" rx="0.75" ry="0.47" fill="#93c9d2" opacity="0.57" transform="rotate(124 571.8 404.8)"/>
<ellipse cx="636.0" cy="411.9" rx="0.92" ry="0.53" fill="#6cb4c2" opacity="0.56" transform="rotate(42 636.0 411.9)"/>
<ellipse cx="579.9" cy="460.7" rx="1.47" ry="0.66" fill="#36a6be" opacity="0.99" transform="rotate(99 579.9 460.7)"/>
<ellipse cx="589.4" cy="450.3" rx="1.51" ry="0.41" fill="#93c9d2" opacity="0.79" transform="rotate(158 589.4 450.3)"/>
<ellipse cx="618.5" cy="425.4" rx="1.19" ry="0.33" fill="#6cb4c2" opacity="0.77" transform="rotate(141 618.5 425.4)"/>
<ellipse cx="598.9" cy="453.2" rx="0.95" ry="0.62" fill="#2c9fbb" opacity="0.94" transform="rotate(78 598.9 453.2)"/>
<ellipse cx="614.4" cy="436.3" rx="0.73" ry="0.59" fill="#7dbfcb" opacity="0.60" transform="rotate(2 614.4 436.3)"/>
<ellipse cx="605.6" cy="399.7" rx="0.90" ry="0.48" fill="#6cb4c2" opacity="0.79" transform="rotate(130 605.6 399.7)"/>
<ellipse cx="615.9" cy="415.9" rx="1.34" ry="0.52" fill="#2c9fbb" opacity="0.88" transform="rotate(6 615.9 415.9)"/>
<ellipse cx="583.0" cy="401.5" rx="0.81" ry="0.64" fill="#93c9d2" opacity="0.57" transform="rotate(36 583.0 401.5)"/>
<ellipse cx="598.4" cy="450.6" rx="1.16" ry="0.39" fill="#6cb4c2" opacity="0.49" transform="rotate(4 598.4 450.6)"/>
<ellipse cx="598.3" cy="415.2" rx="1.64" ry="0.69" fill="#2c9fbb" opacity="0.91" transform="rotate(165 598.3 415.2)"/>
<ellipse cx="602.1" cy="428.1" rx="1.40" ry="0.89" fill="#2a9cb6" opacity="0.73" transform="rotate(15 602.1 428.1)"/>
<ellipse cx="580.4" cy="454.2" rx="1.26" ry="0.64" fill="#2c9fbb" opacity="0.76" transform="rotate(158 580.4 454.2)"/>
<ellipse cx="651.2" cy="461.3" rx="1.30" ry="0.71" fill="#36a6be" opacity="0.75" transform="rotate(114 651.2 461.3)"/>
<ellipse cx="586.0" cy="442.2" rx="1.05" ry="0.56" fill="#6cb4c2" opacity="0.60" transform="rotate(137 586.0 442.2)"/>
<ellipse cx="599.3" cy="422.3" rx="1.08" ry="0.40" fill="#7dbfcb" opacity="0.53" transform="rotate(167 599.3 422.3)"/>
<ellipse cx="642.1" cy="461.3" rx="1.18" ry="0.61" fill="#2c9fbb" opacity="0.83" transform="rotate(36 642.1 461.3)"/>
<ellipse cx="571.9" cy="425.3" rx="1.78" ry="0.79" fill="#36a6be" opacity="0.93" transform="rotate(158 571.9 425.3)"/>
<ellipse cx="590.8" cy="467.9" rx="1.39" ry="0.53" fill="#2690aa" opacity="0.98" transform="rotate(12 590.8 467.9)"/>
<ellipse cx="620.2" cy="457.1" rx="0.87" ry="0.37" fill="#93c9d2" opacity="0.78" transform="rotate(148 620.2 457.1)"/>
<ellipse cx="619.4" cy="441.6" rx="1.09" ry="0.40" fill="#93c9d2" opacity="0.80" transform="rotate(1 619.4 441.6)"/>
<ellipse cx="614.5" cy="403.1" rx="1.63" ry="0.82" fill="#2a9cb6" opacity="0.80" transform="rotate(65 614.5 403.1)"/>
<ellipse cx="611.8" cy="462.2" rx="0.95" ry="0.40" fill="#6cb4c2" opacity="0.79" transform="rotate(176 611.8 462.2)"/>
<ellipse cx="661.2" cy="431.9" rx="1.77" ry="0.53" fill="#2a9cb6" opacity="0.72" transform="rotate(50 661.2 431.9)"/>
<ellipse cx="653.2" cy="407.4" rx="1.43" ry="0.53" fill="#36a6be" opacity="0.78" transform="rotate(68 653.2 407.4)"/>
<ellipse cx="640.1" cy="436.4" rx="0.95" ry="0.64" fill="#6cb4c2" opacity="0.64" transform="rotate(44 640.1 436.4)"/>
<ellipse cx="656.2" cy="452.5" rx="1.38" ry="0.51" fill="#36a6be" opacity="0.79" transform="rotate(92 656.2 452.5)"/>
<ellipse cx="617.0" cy="443.7" rx="1.22" ry="0.61" fill="#36a6be" opacity="0.71" transform="rotate(82 617.0 443.7)"/>
<ellipse cx="603.6" cy="401.3" rx="1.06" ry="0.55" fill="#36a6be" opacity="0.76" transform="rotate(83 603.6 401.3)"/>
<ellipse cx="602.8" cy="431.7" rx="1.05" ry="0.51" fill="#6cb4c2" opacity="0.78" transform="rotate(96 602.8 431.7)"/>
<ellipse cx="605.7" cy="404.6" rx="0.96" ry="0.50" fill="#93c9d2" opacity="0.76" transform="rotate(41 605.7 404.6)"/>
<ellipse cx="622.1" cy="452.1" rx="1.66" ry="0.64" fill="#7dbfcb" opacity="0.69" transform="rotate(130 622.1 452.1)"/>
<ellipse cx="597.9" cy="450.5" rx="1.15" ry="0.80" fill="#2690aa" opacity="0.99" transform="rotate(18 597.9 450.5)"/>
<ellipse cx="642.3" cy="419.7" rx="1.41" ry="0.32" fill="#7dbfcb" opacity="0.59" transform="rotate(167 642.3 419.7)"/>
<ellipse cx="654.5" cy="468.2" rx="1.16" ry="0.75" fill="#2a9cb6" opacity="0.80" transform="rotate(157 654.5 468.2)"/>
<ellipse cx="624.6" cy="453.6" rx="0.99" ry="0.41" fill="#93c9d2" opacity="0.74" transform="rotate(103 624.6 453.6)"/>
<ellipse cx="595.0" cy="400.6" rx="1.79" ry="0.51" fill="#2c9fbb" opacity="0.73" transform="rotate(28 595.0 400.6)"/>
<ellipse cx="651.4" cy="463.1" rx="1.67" ry="0.65" fill="#7dbfcb" opacity="0.47" transform="rotate(113 651.4 463.1)"/>
<ellipse cx="643.4" cy="416.4" rx="0.87" ry="0.36" fill="#93c9d2" opacity="0.78" transform="rotate(33 643.4 416.4)"/>
<ellipse cx="577.4" cy="424.9" rx="1.16" ry="0.70" fill="#6cb4c2" opacity="0.50" transform="rotate(43 577.4 424.9)"/>
<ellipse cx="617.5" cy="465.6" rx="0.74" ry="0.41" fill="#6cb4c2" opacity="0.70" transform="rotate(46 617.5 465.6)"/>
<ellipse cx="646.6" cy="423.5" rx="1.09" ry="0.59" fill="#7dbfcb" opacity="0.76" transform="rotate(7 646.6 423.5)"/>
<ellipse cx="645.4" cy="427.1" rx="0.63" ry="0.38" fill="#6cb4c2" opacity="0.54" transform="rotate(3 645.4 427.1)"/>
<ellipse cx="598.2" cy="410.0" rx="0.69" ry="0.51" fill="#93c9d2" opacity="0.60" transform="rotate(31 598.2 410.0)"/>
<ellipse cx="618.6" cy="464.4" rx="0.61" ry="0.43" fill="#7dbfcb" opacity="0.72" transform="rotate(17 618.6 464.4)"/>
<ellipse cx="653.5" cy="418.9" rx="0.84" ry="0.50" fill="#7dbfcb" opacity="0.76" transform="rotate(89 653.5 418.9)"/>
<ellipse cx="572.4" cy="464.4" rx="1.40" ry="0.77" fill="#36a6be" opacity="0.72" transform="rotate(157 572.4 464.4)"/>
<ellipse cx="591.1" cy="463.4" rx="0.96" ry="0.62" fill="#2c9fbb" opacity="0.71" transform="rotate(104 591.1 463.4)"/>
<ellipse cx="652.8" cy="459.7" rx="0.83" ry="0.30" fill="#93c9d2" opacity="0.70" transform="rotate(19 652.8 459.7)"/>
<ellipse cx="592.4" cy="463.6" rx="1.36" ry="0.53" fill="#6cb4c2" opacity="0.48" transform="rotate(149 592.4 463.6)"/>
<ellipse cx="591.7" cy="432.7" rx="1.31" ry="0.45" fill="#93c9d2" opacity="0.60" transform="rotate(83 591.7 432.7)"/>
<ellipse cx="577.1" cy="462.0" rx="1.52" ry="0.85" fill="#2690aa" opacity="0.74" transform="rotate(139 577.1 462.0)"/>
<ellipse cx="582.3" cy="427.4" rx="1.51" ry="0.49" fill="#6cb4c2" opacity="0.64" transform="rotate(67 582.3 427.4)"/>
<ellipse cx="600.9" cy="416.1" rx="0.85" ry="0.45" fill="#93c9d2" opacity="0.53" transform="rotate(33 600.9 416.1)"/>
<ellipse cx="590.7" cy="441.9" rx="1.36" ry="0.66" fill="#93c9d2" opacity="0.78" transform="rotate(136 590.7 441.9)"/>
<ellipse cx="583.5" cy="426.9" rx="1.27" ry="0.57" fill="#7dbfcb" opacity="0.54" transform="rotate(16 583.5 426.9)"/>
<ellipse cx="642.5" cy="400.0" rx="0.90" ry="0.36" fill="#6cb4c2" opacity="0.53" transform="rotate(118 642.5 400.0)"/>
<ellipse cx="649.0" cy="455.3" rx="0.90" ry="0.66" fill="#7dbfcb" opacity="0.47" transform="rotate(65 649.0 455.3)"/>
<ellipse cx="656.8" cy="441.1" rx="1.28" ry="0.69" fill="#7dbfcb" opacity="0.67" transform="rotate(63 656.8 441.1)"/>
<ellipse cx="627.6" cy="428.1" rx="1.53" ry="0.84" fill="#2c9fbb" opacity="0.84" transform="rotate(97 627.6 428.1)"/>
<ellipse cx="586.9" cy="461.3" rx="1.79" ry="0.55" fill="#2c9fbb" opacity="1.00" transform="rotate(74 586.9 461.3)"/>
<ellipse cx="588.0" cy="401.0" rx="1.07" ry="0.48" fill="#7dbfcb" opacity="0.72" transform="rotate(3 588.0 401.0)"/>
<ellipse cx="603.0" cy="463.3" rx="1.50" ry="0.52" fill="#7dbfcb" opacity="0.54" transform="rotate(58 603.0 463.3)"/>
<ellipse cx="663.2" cy="453.8" rx="1.11" ry="0.75" fill="#36a6be" opacity="0.91" transform="rotate(9 663.2 453.8)"/>
<ellipse cx="649.8" cy="412.0" rx="1.37" ry="0.37" fill="#93c9d2" opacity="0.51" transform="rotate(92 649.8 412.0)"/>
<ellipse cx="652.3" cy="417.5" rx="0.95" ry="0.61" fill="#2690aa" opacity="0.92" transform="rotate(41 652.3 417.5)"/>
<ellipse cx="578.2" cy="419.2" rx="1.32" ry="0.85" fill="#36a6be" opacity="0.80" transform="rotate(76 578.2 419.2)"/>
<ellipse cx="633.4" cy="454.3" rx="1.07" ry="0.55" fill="#7dbfcb" opacity="0.49" transform="rotate(128 633.4 454.3)"/>
<ellipse cx="593.5" cy="463.7" rx="1.02" ry="0.68" fill="#7dbfcb" opacity="0.71" transform="rotate(75 593.5 463.7)"/>
<ellipse cx="657.5" cy="405.4" rx="0.97" ry="0.57" fill="#93c9d2" opacity="0.72" transform="rotate(170 657.5 405.4)"/>
<ellipse cx="654.5" cy="408.8" rx="1.69" ry="0.39" fill="#7dbfcb" opacity="0.71" transform="rotate(90 654.5 408.8)"/>
<ellipse cx="586.0" cy="442.5" rx="1.66" ry="0.32" fill="#7dbfcb" opacity="0.57" transform="rotate(159 586.0 442.5)"/>
<ellipse cx="620.7" cy="409.0" rx="1.46" ry="0.77" fill="#2a9cb6" opacity="0.78" transform="rotate(117 620.7 409.0)"/>
<ellipse cx="590.0" cy="410.0" rx="1.18" ry="0.47" fill="#7dbfcb" opacity="0.47" transform="rotate(74 590.0 410.0)"/>
<ellipse cx="639.0" cy="433.3" rx="1.66" ry="0.67" fill="#7dbfcb" opacity="0.63" transform="rotate(109 639.0 433.3)"/>
<ellipse cx="641.9" cy="433.3" rx="1.02" ry="0.43" fill="#93c9d2" opacity="0.72" transform="rotate(57 641.9 433.3)"/>
<ellipse cx="641.2" cy="418.0" rx="0.88" ry="0.62" fill="#2a9cb6" opacity="0.95" transform="rotate(60 641.2 418.0)"/>
<ellipse cx="585.2" cy="399.2" rx="0.90" ry="0.65" fill="#2a9cb6" opacity="0.93" transform="rotate(61 585.2 399.2)"/>
<ellipse cx="609.6" cy="455.0" rx="1.22" ry="0.40" fill="#7dbfcb" opacity="0.51" transform="rotate(9 609.6 455.0)"/>
<ellipse cx="623.6" cy="437.2" rx="1.10" ry="0.79" fill="#2690aa" opacity="0.70" transform="rotate(96 623.6 437.2)"/>
<ellipse cx="631.8" cy="429.3" rx="1.59" ry="0.60" fill="#6cb4c2" opacity="0.49" transform="rotate(105 631.8 429.3)"/>
<ellipse cx="630.2" cy="408.8" rx="0.98" ry="0.43" fill="#6cb4c2" opacity="0.54" transform="rotate(158 630.2 408.8)"/>
<ellipse cx="651.6" cy="406.7" rx="0.70" ry="0.41" fill="#6cb4c2" opacity="0.46" transform="rotate(17 651.6 406.7)"/>
<ellipse cx="639.9" cy="416.4" rx="1.08" ry="0.64" fill="#2c9fbb" opacity="0.78" transform="rotate(144 639.9 416.4)"/>
<ellipse cx="647.7" cy="417.7" rx="1.48" ry="0.65" fill="#36a6be" opacity="0.95" transform="rotate(122 647.7 417.7)"/>
<ellipse cx="620.3" cy="449.1" rx="0.82" ry="0.49" fill="#7dbfcb" opacity="0.58" transform="rotate(62 620.3 449.1)"/>
<ellipse cx="589.7" cy="439.2" rx="1.53" ry="0.50" fill="#36a6be" opacity="0.72" transform="rotate(98 589.7 439.2)"/>
<ellipse cx="581.8" cy="422.5" rx="1.46" ry="0.50" fill="#7dbfcb" opacity="0.58" transform="rotate(139 581.8 422.5)"/>
<ellipse cx="651.6" cy="406.4" rx="0.75" ry="0.39" fill="#7dbfcb" opacity="0.56" transform="rotate(20 651.6 406.4)"/>
<ellipse cx="602.2" cy="455.2" rx="1.76" ry="0.86" fill="#36a6be" opacity="0.82" transform="rotate(156 602.2 455.2)"/>
<ellipse cx="615.3" cy="433.5" rx="1.58" ry="0.35" fill="#93c9d2" opacity="0.52" transform="rotate(125 615.3 433.5)"/>
<ellipse cx="657.4" cy="423.6" rx="1.16" ry="0.38" fill="#6cb4c2" opacity="0.50" transform="rotate(100 657.4 423.6)"/>
<ellipse cx="571.9" cy="441.0" rx="0.97" ry="0.57" fill="#6cb4c2" opacity="0.47" transform="rotate(179 571.9 441.0)"/>
<ellipse cx="590.9" cy="458.9" rx="1.60" ry="0.36" fill="#93c9d2" opacity="0.59" transform="rotate(32 590.9 458.9)"/>
<ellipse cx="607.3" cy="446.7" rx="1.40" ry="0.62" fill="#93c9d2" opacity="0.68" transform="rotate(85 607.3 446.7)"/>
<ellipse cx="598.0" cy="456.7" rx="1.00" ry="0.54" fill="#2a9cb6" opacity="0.97" transform="rotate(153 598.0 456.7)"/>
<ellipse cx="581.9" cy="458.8" rx="0.94" ry="0.73" fill="#2c9fbb" opacity="0.95" transform="rotate(91 581.9 458.8)"/>
<ellipse cx="626.0" cy="451.8" rx="1.62" ry="0.59" fill="#93c9d2" opacity="0.53" transform="rotate(5 626.0 451.8)"/>
<ellipse cx="627.3" cy="467.5" rx="1.26" ry="0.38" fill="#93c9d2" opacity="0.52" transform="rotate(25 627.3 467.5)"/>
<ellipse cx="609.4" cy="401.2" rx="0.86" ry="0.58" fill="#2a9cb6" opacity="0.93" transform="rotate(25 609.4 401.2)"/>
<ellipse cx="628.2" cy="452.7" rx="1.19" ry="0.90" fill="#36a6be" opacity="0.97" transform="rotate(141 628.2 452.7)"/>
<ellipse cx="608.1" cy="439.0" rx="1.60" ry="0.70" fill="#36a6be" opacity="0.71" transform="rotate(94 608.1 439.0)"/>
<ellipse cx="598.1" cy="414.4" rx="0.74" ry="0.65" fill="#7dbfcb" opacity="0.55" transform="rotate(58 598.1 414.4)"/>
<ellipse cx="610.3" cy="461.4" rx="1.44" ry="0.88" fill="#2690aa" opacity="0.83" transform="rotate(103 610.3 461.4)"/>
<ellipse cx="661.3" cy="429.9" rx="1.47" ry="0.62" fill="#2c9fbb" opacity="0.95" transform="rotate(64 661.3 429.9)"/>
<ellipse cx="641.7" cy="460.8" rx="1.46" ry="0.54" fill="#36a6be" opacity="0.89" transform="rotate(7 641.7 460.8)"/>
<ellipse cx="629.6" cy="468.0" rx="0.91" ry="0.62" fill="#7dbfcb" opacity="0.59" transform="rotate(74 629.6 468.0)"/>
<ellipse cx="609.1" cy="445.4" rx="1.35" ry="0.32" fill="#7dbfcb" opacity="0.63" transform="rotate(66 609.1 445.4)"/>
<ellipse cx="651.7" cy="459.8" rx="1.59" ry="0.31" fill="#6cb4c2" opacity="0.64" transform="rotate(20 651.7 459.8)"/>
<ellipse cx="640.0" cy="464.3" rx="0.81" ry="0.42" fill="#93c9d2" opacity="0.52" transform="rotate(77 640.0 464.3)"/>
<ellipse cx="620.2" cy="401.4" rx="1.10" ry="0.50" fill="#7dbfcb" opacity="0.78" transform="rotate(177 620.2 401.4)"/>
<ellipse cx="613.3" cy="462.7" rx="0.80" ry="0.50" fill="#6cb4c2" opacity="0.76" transform="rotate(133 613.3 462.7)"/>
<ellipse cx="642.3" cy="461.1" rx="1.22" ry="0.58" fill="#2c9fbb" opacity="0.94" transform="rotate(53 642.3 461.1)"/>
<ellipse cx="591.5" cy="461.5" rx="0.91" ry="0.51" fill="#2a9cb6" opacity="0.99" transform="rotate(165 591.5 461.5)"/>
<ellipse cx="622.1" cy="424.6" rx="1.71" ry="0.61" fill="#2c9fbb" opacity="0.79" transform="rotate(158 622.1 424.6)"/>
<ellipse cx="658.7" cy="461.9" rx="1.31" ry="0.73" fill="#2c9fbb" opacity="0.89" transform="rotate(177 658.7 461.9)"/>
<ellipse cx="643.1" cy="466.8" rx="1.00" ry="0.56" fill="#93c9d2" opacity="0.68" transform="rotate(45 643.1 466.8)"/>
<ellipse cx="662.8" cy="440.5" rx="1.54" ry="0.47" fill="#7dbfcb" opacity="0.75" transform="rotate(6 662.8 440.5)"/>
<ellipse cx="574.7" cy="407.6" rx="0.77" ry="0.70" fill="#7dbfcb" opacity="0.75" transform="rotate(70 574.7 407.6)"/>
<ellipse cx="581.3" cy="456.4" rx="1.60" ry="0.78" fill="#2a9cb6" opacity="0.89" transform="rotate(107 581.3 456.4)"/>
<ellipse cx="604.7" cy="411.6" rx="1.53" ry="0.32" fill="#7dbfcb" opacity="0.78" transform="rotate(82 604.7 411.6)"/>
<ellipse cx="584.9" cy="446.2" rx="0.74" ry="0.46" fill="#93c9d2" opacity="0.51" transform="rotate(29 584.9 446.2)"/>
<ellipse cx="593.9" cy="416.4" rx="0.84" ry="0.87" fill="#2a9cb6" opacity="0.92" transform="rotate(13 593.9 416.4)"/>
<ellipse cx="595.4" cy="437.1" rx="1.19" ry="0.41" fill="#6cb4c2" opacity="0.72" transform="rotate(100 595.4 437.1)"/>
<ellipse cx="587.1" cy="433.9" rx="1.40" ry="0.69" fill="#36a6be" opacity="0.95" transform="rotate(48 587.1 433.9)"/>
<ellipse cx="605.3" cy="446.2" rx="1.15" ry="0.73" fill="#2c9fbb" opacity="0.73" transform="rotate(122 605.3 446.2)"/>
<ellipse cx="658.9" cy="434.8" rx="1.29" ry="0.73" fill="#2a9cb6" opacity="0.85" transform="rotate(35 658.9 434.8)"/>
<ellipse cx="633.8" cy="406.2" rx="1.63" ry="0.40" fill="#93c9d2" opacity="0.53" transform="rotate(49 633.8 406.2)"/>
<ellipse cx="651.9" cy="454.3" rx="1.07" ry="0.69" fill="#2690aa" opacity="0.81" transform="rotate(158 651.9 454.3)"/>
<ellipse cx="632.8" cy="402.4" rx="0.99" ry="0.83" fill="#2690aa" opacity="0.84" transform="rotate(3 632.8 402.4)"/>
<ellipse cx="631.2" cy="467.1" rx="0.83" ry="0.47" fill="#6cb4c2" opacity="0.75" transform="rotate(143 631.2 467.1)"/>
<ellipse cx="651.8" cy="450.4" rx="1.36" ry="0.50" fill="#2c9fbb" opacity="0.77" transform="rotate(160 651.8 450.4)"/>
<ellipse cx="646.6" cy="448.5" rx="1.33" ry="0.68" fill="#2690aa" opacity="0.79" transform="rotate(144 646.6 448.5)"/>
<ellipse cx="602.9" cy="448.6" rx="1.39" ry="0.41" fill="#93c9d2" opacity="0.74" transform="rotate(143 602.9 448.6)"/>
<ellipse cx="622.2" cy="434.4" rx="0.88" ry="0.90" fill="#2690aa" opacity="0.86" transform="rotate(142 622.2 434.4)"/>
<ellipse cx="663.5" cy="422.1" rx="1.73" ry="0.89" fill="#36a6be" opacity="0.91" transform="rotate(93 663.5 422.1)"/>
<ellipse cx="645.0" cy="431.4" rx="1.51" ry="0.37" fill="#7dbfcb" opacity="0.45" transform="rotate(4 645.0 431.4)"/>
<ellipse cx="594.6" cy="417.1" rx="1.38" ry="0.75" fill="#36a6be" opacity="0.88" transform="rotate(56 594.6 417.1)"/>
<ellipse cx="590.5" cy="434.7" rx="1.39" ry="0.59" fill="#2a9cb6" opacity="0.73" transform="rotate(158 590.5 434.7)"/>
<ellipse cx="622.4" cy="432.4" rx="1.53" ry="0.75" fill="#2690aa" opacity="0.95" transform="rotate(29 622.4 432.4)"/>
<ellipse cx="592.1" cy="423.9" rx="1.40" ry="0.55" fill="#2690aa" opacity="0.94" transform="rotate(12 592.1 423.9)"/>
<ellipse cx="591.9" cy="452.0" rx="1.77" ry="0.55" fill="#36a6be" opacity="0.76" transform="rotate(18 591.9 452.0)"/>
<ellipse cx="576.4" cy="439.1" rx="1.05" ry="0.37" fill="#7dbfcb" opacity="0.74" transform="rotate(88 576.4 439.1)"/>
<ellipse cx="621.0" cy="434.0" rx="0.73" ry="0.57" fill="#6cb4c2" opacity="0.76" transform="rotate(4 621.0 434.0)"/>
<ellipse cx="653.8" cy="413.5" rx="1.79" ry="0.57" fill="#2690aa" opacity="0.81" transform="rotate(18 653.8 413.5)"/>
<ellipse cx="606.2" cy="414.6" rx="1.71" ry="0.80" fill="#2c9fbb" opacity="0.92" transform="rotate(129 606.2 414.6)"/>
<ellipse cx="647.1" cy="403.2" rx="1.46" ry="0.37" fill="#93c9d2" opacity="0.77" transform="rotate(0 647.1 403.2)"/>
<ellipse cx="653.6" cy="416.6" rx="1.26" ry="0.61" fill="#6cb4c2" opacity="0.52" transform="rotate(53 653.6 416.6)"/>
<ellipse cx="597.0" cy="428.5" rx="1.53" ry="0.54" fill="#7dbfcb" opacity="0.56" transform="rotate(66 597.0 428.5)"/>
<ellipse cx="662.4" cy="431.4" rx="1.56" ry="0.33" fill="#93c9d2" opacity="0.59" transform="rotate(31 662.4 431.4)"/>
<ellipse cx="600.8" cy="411.8" rx="1.18" ry="0.38" fill="#7dbfcb" opacity="0.71" transform="rotate(91 600.8 411.8)"/>
<ellipse cx="616.7" cy="435.6" rx="0.80" ry="0.49" fill="#7dbfcb" opacity="0.59" transform="rotate(86 616.7 435.6)"/>
<ellipse cx="578.4" cy="419.4" rx="1.01" ry="0.49" fill="#6cb4c2" opacity="0.60" transform="rotate(100 578.4 419.4)"/>
<ellipse cx="624.4" cy="420.0" rx="1.36" ry="0.53" fill="#36a6be" opacity="0.71" transform="rotate(179 624.4 420.0)"/>
<ellipse cx="612.9" cy="405.8" rx="0.85" ry="0.40" fill="#93c9d2" opacity="0.74" transform="rotate(22 612.9 405.8)"/>
<ellipse cx="579.8" cy="454.4" rx="0.65" ry="0.60" fill="#7dbfcb" opacity="0.61" transform="rotate(131 579.8 454.4)"/>
<ellipse cx="587.0" cy="421.3" rx="1.07" ry="0.56" fill="#2c9fbb" opacity="0.97" transform="rotate(105 587.0 421.3)"/>
<ellipse cx="642.9" cy="445.3" rx="0.82" ry="0.56" fill="#93c9d2" opacity="0.63" transform="rotate(41 642.9 445.3)"/>
<ellipse cx="657.8" cy="424.3" rx="0.72" ry="0.67" fill="#93c9d2" opacity="0.67" transform="rotate(121 657.8 424.3)"/>
<ellipse cx="605.2" cy="452.4" rx="0.88" ry="0.84" fill="#2c9fbb" opacity="0.90" transform="rotate(90 605.2 452.4)"/>
<ellipse cx="587.0" cy="463.6" rx="1.32" ry="0.51" fill="#2c9fbb" opacity="0.88" transform="rotate(85 587.0 463.6)"/>
<ellipse cx="589.1" cy="433.2" rx="1.41" ry="0.61" fill="#2690aa" opacity="1.00" transform="rotate(55 589.1 433.2)"/>
<ellipse cx="592.6" cy="414.9" rx="1.10" ry="0.30" fill="#7dbfcb" opacity="0.45" transform="rotate(39 592.6 414.9)"/>
<ellipse cx="599.2" cy="459.2" rx="0.88" ry="0.31" fill="#6cb4c2" opacity="0.56" transform="rotate(5 599.2 459.2)"/>
<ellipse cx="578.8" cy="448.6" rx="1.47" ry="0.76" fill="#2c9fbb" opacity="0.97" transform="rotate(123 578.8 448.6)"/>
<ellipse cx="598.4" cy="455.9" rx="0.95" ry="0.54" fill="#7dbfcb" opacity="0.78" transform="rotate(151 598.4 455.9)"/>
<ellipse cx="603.3" cy="400.0" rx="1.04" ry="0.65" fill="#6cb4c2" opacity="0.75" transform="rotate(125 603.3 400.0)"/>
<ellipse cx="614.4" cy="412.5" rx="1.31" ry="0.46" fill="#93c9d2" opacity="0.68" transform="rotate(92 614.4 412.5)"/>
<ellipse cx="605.9" cy="425.4" rx="1.40" ry="0.59" fill="#2a9cb6" opacity="0.70" transform="rotate(119 605.9 425.4)"/>
<ellipse cx="633.3" cy="449.7" rx="0.81" ry="0.69" fill="#7dbfcb" opacity="0.60" transform="rotate(77 633.3 449.7)"/>
<ellipse cx="624.7" cy="449.1" rx="1.63" ry="0.52" fill="#2a9cb6" opacity="0.90" transform="rotate(32 624.7 449.1)"/>
<ellipse cx="658.0" cy="425.4" rx="1.77" ry="0.53" fill="#36a6be" opacity="0.81" transform="rotate(60 658.0 425.4)"/>
<ellipse cx="599.9" cy="407.9" rx="0.80" ry="0.39" fill="#7dbfcb" opacity="0.54" transform="rotate(83 599.9 407.9)"/>
<ellipse cx="660.6" cy="437.7" rx="1.19" ry="0.37" fill="#6cb4c2" opacity="0.48" transform="rotate(173 660.6 437.7)"/>
<ellipse cx="571.8" cy="437.2" rx="1.23" ry="0.68" fill="#2a9cb6" opacity="0.76" transform="rotate(118 571.8 437.2)"/>
<ellipse cx="618.9" cy="450.7" rx="0.88" ry="0.30" fill="#7dbfcb" opacity="0.67" transform="rotate(85 618.9 450.7)"/>
<ellipse cx="601.5" cy="417.5" rx="1.12" ry="0.59" fill="#7dbfcb" opacity="0.56" transform="rotate(8 601.5 417.5)"/>
<ellipse cx="623.4" cy="466.7" rx="0.84" ry="0.32" fill="#93c9d2" opacity="0.56" transform="rotate(164 623.4 466.7)"/>
<ellipse cx="594.4" cy="465.7" rx="1.60" ry="0.51" fill="#36a6be" opacity="0.84" transform="rotate(59 594.4 465.7)"/>
<ellipse cx="588.4" cy="460.9" rx="1.15" ry="0.45" fill="#6cb4c2" opacity="0.54" transform="rotate(63 588.4 460.9)"/>
<ellipse cx="637.1" cy="456.9" rx="1.48" ry="0.71" fill="#2c9fbb" opacity="0.74" transform="rotate(137 637.1 456.9)"/>
<ellipse cx="646.2" cy="457.7" rx="1.69" ry="0.64" fill="#6cb4c2" opacity="0.61" transform="rotate(18 646.2 457.7)"/>
<ellipse cx="602.4" cy="468.0" rx="1.65" ry="0.52" fill="#6cb4c2" opacity="0.52" transform="rotate(80 602.4 468.0)"/>
<ellipse cx="636.9" cy="441.8" rx="1.65" ry="0.35" fill="#7dbfcb" opacity="0.71" transform="rotate(89 636.9 441.8)"/>
<ellipse cx="632.6" cy="449.8" rx="1.36" ry="0.68" fill="#2c9fbb" opacity="0.99" transform="rotate(53 632.6 449.8)"/>
<ellipse cx="586.7" cy="428.1" rx="0.84" ry="0.51" fill="#2a9cb6" opacity="0.72" transform="rotate(8 586.7 428.1)"/>
<ellipse cx="588.6" cy="445.3" rx="1.53" ry="0.64" fill="#2c9fbb" opacity="0.97" transform="rotate(80 588.6 445.3)"/>
<ellipse cx="656.7" cy="413.4" rx="1.21" ry="0.58" fill="#2c9fbb" opacity="0.97" transform="rotate(137 656.7 413.4)"/>
<ellipse cx="581.1" cy="415.4" rx="1.53" ry="0.53" fill="#6cb4c2" opacity="0.76" transform="rotate(49 581.1 415.4)"/>
<ellipse cx="597.4" cy="414.2" rx="1.04" ry="0.50" fill="#6cb4c2" opacity="0.74" transform="rotate(174 597.4 414.2)"/>
<ellipse cx="601.9" cy="439.1" rx="0.66" ry="0.30" fill="#93c9d2" opacity="0.65" transform="rotate(6 601.9 439.1)"/>
<ellipse cx="602.1" cy="412.5" rx="0.80" ry="0.33" fill="#6cb4c2" opacity="0.55" transform="rotate(15 602.1 412.5)"/>
<ellipse cx="605.3" cy="423.4" rx="1.56" ry="0.70" fill="#93c9d2" opacity="0.74" transform="rotate(53 605.3 423.4)"/>
<ellipse cx="634.2" cy="448.3" rx="1.59" ry="0.45" fill="#93c9d2" opacity="0.55" transform="rotate(158 634.2 448.3)"/>
<ellipse cx="622.2" cy="426.3" rx="0.93" ry="0.65" fill="#2a9cb6" opacity="0.83" transform="rotate(162 622.2 426.3)"/>
<ellipse cx="634.7" cy="468.2" rx="1.29" ry="0.44" fill="#7dbfcb" opacity="0.68" transform="rotate(169 634.7 468.2)"/>
<ellipse cx="619.0" cy="431.7" rx="0.83" ry="0.68" fill="#2690aa" opacity="0.99" transform="rotate(153 619.0 431.7)"/>
<ellipse cx="623.5" cy="423.8" rx="1.47" ry="0.55" fill="#36a6be" opacity="0.89" transform="rotate(45 623.5 423.8)"/>
<ellipse cx="613.2" cy="403.9" rx="1.79" ry="0.51" fill="#2a9cb6" opacity="0.90" transform="rotate(54 613.2 403.9)"/>
<ellipse cx="649.3" cy="399.4" rx="1.42" ry="0.50" fill="#2c9fbb" opacity="0.98" transform="rotate(46 649.3 399.4)"/>
<ellipse cx="637.4" cy="441.7" rx="1.71" ry="0.80" fill="#2690aa" opacity="0.73" transform="rotate(66 637.4 441.7)"/>
<ellipse cx="574.3" cy="435.6" rx="0.82" ry="0.60" fill="#7dbfcb" opacity="0.48" transform="rotate(153 574.3 435.6)"/>
<ellipse cx="601.5" cy="408.1" rx="1.23" ry="0.41" fill="#93c9d2" opacity="0.56" transform="rotate(48 601.5 408.1)"/>
<ellipse cx="663.7" cy="410.7" rx="1.15" ry="0.71" fill="#2690aa" opacity="0.99" transform="rotate(73 663.7 410.7)"/>
<ellipse cx="619.0" cy="418.0" rx="0.95" ry="0.64" fill="#2690aa" opacity="0.77" transform="rotate(132 619.0 418.0)"/>
<ellipse cx="616.0" cy="438.1" rx="0.82" ry="0.61" fill="#7dbfcb" opacity="0.73" transform="rotate(3 616.0 438.1)"/>
<ellipse cx="589.6" cy="420.5" rx="1.75" ry="0.52" fill="#36a6be" opacity="0.96" transform="rotate(33 589.6 420.5)"/>
<ellipse cx="646.7" cy="438.6" rx="1.56" ry="0.85" fill="#2a9cb6" opacity="0.75" transform="rotate(49 646.7 438.6)"/>
<ellipse cx="593.9" cy="428.2" rx="1.70" ry="0.79" fill="#2c9fbb" opacity="0.91" transform="rotate(31 593.9 428.2)"/>
<ellipse cx="624.3" cy="453.2" rx="1.22" ry="0.66" fill="#93c9d2" opacity="0.58" transform="rotate(7 624.3 453.2)"/>
<ellipse cx="608.7" cy="425.0" rx="1.67" ry="0.56" fill="#7dbfcb" opacity="0.48" transform="rotate(94 608.7 425.0)"/>
<ellipse cx="574.0" cy="411.7" rx="1.70" ry="0.47" fill="#93c9d2" opacity="0.61" transform="rotate(44 574.0 411.7)"/>
<ellipse cx="630.2" cy="412.1" rx="1.50" ry="0.55" fill="#2690aa" opacity="0.95" transform="rotate(100 630.2 412.1)"/>
<ellipse cx="654.2" cy="428.3" rx="1.42" ry="0.73" fill="#2c9fbb" opacity="0.96" transform="rotate(59 654.2 428.3)"/>
<ellipse cx="576.9" cy="420.3" rx="1.62" ry="0.53" fill="#93c9d2" opacity="0.76" transform="rotate(103 576.9 420.3)"/>
<ellipse cx="650.8" cy="414.6" rx="1.43" ry="0.70" fill="#2c9fbb" opacity="0.91" transform="rotate(98 650.8 414.6)"/>
<ellipse cx="650.8" cy="399.2" rx="0.82" ry="0.66" fill="#2c9fbb" opacity="0.94" transform="rotate(59 650.8 399.2)"/>
<ellipse cx="621.6" cy="465.9" rx="1.05" ry="0.47" fill="#93c9d2" opacity="0.75" transform="rotate(106 621.6 465.9)"/>
<ellipse cx="614.6" cy="409.6" rx="1.14" ry="0.52" fill="#2a9cb6" opacity="0.94" transform="rotate(27 614.6 409.6)"/>
<ellipse cx="651.1" cy="454.6" rx="1.43" ry="0.48" fill="#6cb4c2" opacity="0.57" transform="rotate(104 651.1 454.6)"/>
<ellipse cx="638.4" cy="419.1" rx="1.56" ry="0.80" fill="#2a9cb6" opacity="0.76" transform="rotate(115 638.4 419.1)"/>
<ellipse cx="627.5" cy="433.2" rx="1.56" ry="0.54" fill="#2c9fbb" opacity="0.78" transform="rotate(132 627.5 433.2)"/>
<ellipse cx="574.8" cy="416.6" rx="1.45" ry="0.83" fill="#36a6be" opacity="0.90" transform="rotate(157 574.8 416.6)"/>
<ellipse cx="579.9" cy="465.9" rx="1.29" ry="0.65" fill="#2c9fbb" opacity="0.88" transform="rotate(118 579.9 465.9)"/>
<ellipse cx="633.3" cy="412.2" rx="1.57" ry="0.49" fill="#93c9d2" opacity="0.64" transform="rotate(32 633.3 412.2)"/>
<ellipse cx="617.1" cy="431.2" rx="1.50" ry="0.87" fill="#2690aa" opacity="0.73" transform="rotate(33 617.1 431.2)"/>
<ellipse cx="644.1" cy="450.3" rx="0.82" ry="0.74" fill="#2a9cb6" opacity="0.87" transform="rotate(128 644.1 450.3)"/>
<ellipse cx="639.5" cy="439.0" rx="1.48" ry="0.70" fill="#6cb4c2" opacity="0.69" transform="rotate(38 639.5 439.0)"/>
<ellipse cx="589.3" cy="448.0" rx="0.88" ry="0.38" fill="#7dbfcb" opacity="0.55" transform="rotate(128 589.3 448.0)"/>
<ellipse cx="577.8" cy="435.4" rx="0.69" ry="0.50" fill="#93c9d2" opacity="0.61" transform="rotate(152 577.8 435.4)"/>
<ellipse cx="596.7" cy="433.8" rx="0.83" ry="0.38" fill="#7dbfcb" opacity="0.69" transform="rotate(118 596.7 433.8)"/>
<ellipse cx="651.8" cy="401.7" rx="1.28" ry="0.50" fill="#7dbfcb" opacity="0.63" transform="rotate(2 651.8 401.7)"/>
<ellipse cx="582.9" cy="414.8" rx="1.09" ry="0.45" fill="#7dbfcb" opacity="0.73" transform="rotate(130 582.9 414.8)"/>
<ellipse cx="649.8" cy="466.9" rx="0.84" ry="0.41" fill="#93c9d2" opacity="0.75" transform="rotate(43 649.8 466.9)"/>
<ellipse cx="637.6" cy="408.7" rx="1.29" ry="0.55" fill="#7dbfcb" opacity="0.63" transform="rotate(103 637.6 408.7)"/>
<ellipse cx="636.2" cy="460.4" rx="1.62" ry="0.39" fill="#93c9d2" opacity="0.62" transform="rotate(62 636.2 460.4)"/>
<ellipse cx="633.8" cy="434.1" rx="0.99" ry="0.50" fill="#2a9cb6" opacity="0.83" transform="rotate(104 633.8 434.1)"/>
<ellipse cx="577.3" cy="457.2" rx="0.95" ry="0.35" fill="#7dbfcb" opacity="0.79" transform="rotate(164 577.3 457.2)"/>
<ellipse cx="614.3" cy="439.5" rx="1.07" ry="0.66" fill="#7dbfcb" opacity="0.79" transform="rotate(146 614.3 439.5)"/>
<ellipse cx="610.1" cy="462.9" rx="1.68" ry="0.56" fill="#2c9fbb" opacity="0.88" transform="rotate(76 610.1 462.9)"/>
<ellipse cx="598.8" cy="459.4" rx="1.54" ry="0.69" fill="#7dbfcb" opacity="0.53" transform="rotate(168 598.8 459.4)"/>
<ellipse cx="662.3" cy="450.3" rx="1.30" ry="0.51" fill="#93c9d2" opacity="0.69" transform="rotate(122 662.3 450.3)"/>
<ellipse cx="575.2" cy="403.4" rx="0.66" ry="0.33" fill="#6cb4c2" opacity="0.56" transform="rotate(91 575.2 403.4)"/>
<ellipse cx="582.4" cy="458.6" rx="1.63" ry="0.57" fill="#2a9cb6" opacity="0.97" transform="rotate(31 582.4 458.6)"/>
<ellipse cx="640.7" cy="446.2" rx="0.79" ry="0.40" fill="#6cb4c2" opacity="0.56" transform="rotate(68 640.7 446.2)"/>
<ellipse cx="635.0" cy="459.7" rx="1.73" ry="0.59" fill="#2c9fbb" opacity="0.99" transform="rotate(149 635.0 459.7)"/>
<ellipse cx="635.7" cy="433.9" rx="0.86" ry="0.54" fill="#6cb4c2" opacity="0.65" transform="rotate(35 635.7 433.9)"/>
<ellipse cx="583.4" cy="451.7" rx="1.59" ry="0.61" fill="#36a6be" opacity="0.85" transform="rotate(82 583.4 451.7)"/>
<ellipse cx="621.6" cy="459.7" rx="1.40" ry="0.73" fill="#36a6be" opacity="0.77" transform="rotate(50 621.6 459.7)"/>
<ellipse cx="594.5" cy="420.2" rx="1.42" ry="0.37" fill="#7dbfcb" opacity="0.76" transform="rotate(82 594.5 420.2)"/>
<ellipse cx="588.8" cy="442.7" rx="0.82" ry="0.48" fill="#93c9d2" opacity="0.47" transform="rotate(81 588.8 442.7)"/>
<ellipse cx="659.2" cy="464.8" rx="1.14" ry="0.49" fill="#6cb4c2" opacity="0.62" transform="rotate(135 659.2 464.8)"/>
<ellipse cx="656.4" cy="460.0" rx="1.22" ry="0.65" fill="#7dbfcb" opacity="0.58" transform="rotate(103 656.4 460.0)"/>
<ellipse cx="575.6" cy="433.7" rx="1.33" ry="0.84" fill="#2c9fbb" opacity="0.76" transform="rotate(153 575.6 433.7)"/>
<ellipse cx="620.1" cy="407.5" rx="0.63" ry="0.44" fill="#93c9d2" opacity="0.53" transform="rotate(128 620.1 407.5)"/>
<ellipse cx="642.2" cy="451.9" rx="0.61" ry="0.58" fill="#93c9d2" opacity="0.78" transform="rotate(23 642.2 451.9)"/>
<ellipse cx="635.1" cy="460.7" rx="1.57" ry="0.37" fill="#6cb4c2" opacity="0.67" transform="rotate(19 635.1 460.7)"/>
<ellipse cx="660.7" cy="430.6" rx="1.34" ry="0.51" fill="#2a9cb6" opacity="0.79" transform="rotate(75 660.7 430.6)"/>
<ellipse cx="602.1" cy="457.8" rx="1.43" ry="0.56" fill="#2a9cb6" opacity="0.96" transform="rotate(121 602.1 457.8)"/>
<ellipse cx="660.8" cy="462.3" rx="0.95" ry="0.33" fill="#93c9d2" opacity="0.72" transform="rotate(167 660.8 462.3)"/>
<ellipse cx="623.2" cy="424.8" rx="1.12" ry="0.49" fill="#7dbfcb" opacity="0.63" transform="rotate(43 623.2 424.8)"/>
<ellipse cx="578.9" cy="419.0" rx="0.84" ry="0.55" fill="#93c9d2" opacity="0.62" transform="rotate(77 578.9 419.0)"/>
<ellipse cx="624.2" cy="446.8" rx="1.00" ry="0.30" fill="#6cb4c2" opacity="0.68" transform="rotate(89 624.2 446.8)"/>
<ellipse cx="615.1" cy="417.9" rx="0.96" ry="0.78" fill="#2a9cb6" opacity="0.88" transform="rotate(113 615.1 417.9)"/>
<ellipse cx="645.9" cy="410.6" rx="1.49" ry="0.59" fill="#2a9cb6" opacity="0.84" transform="rotate(119 645.9 410.6)"/>
<ellipse cx="639.0" cy="436.2" rx="1.35" ry="0.69" fill="#36a6be" opacity="0.83" transform="rotate(118 639.0 436.2)"/>
<ellipse cx="636.7" cy="433.1" rx="1.29" ry="0.42" fill="#7dbfcb" opacity="0.57" transform="rotate(34 636.7 433.1)"/>
<ellipse cx="646.6" cy="462.7" rx="1.39" ry="0.62" fill="#6cb4c2" opacity="0.62" transform="rotate(22 646.6 462.7)"/>
<ellipse cx="636.5" cy="419.9" rx="1.31" ry="0.40" fill="#7dbfcb" opacity="0.59" transform="rotate(174 636.5 419.9)"/>
<ellipse cx="628.7" cy="404.3" rx="1.54" ry="0.67" fill="#2c9fbb" opacity="0.79" transform="rotate(98 628.7 404.3)"/>
<ellipse cx="584.6" cy="453.9" rx="0.65" ry="0.47" fill="#7dbfcb" opacity="0.74" transform="rotate(135 584.6 453.9)"/>
<ellipse cx="621.6" cy="452.3" rx="1.05" ry="0.52" fill="#7dbfcb" opacity="0.79" transform="rotate(12 621.6 452.3)"/>
<ellipse cx="586.9" cy="411.5" rx="1.12" ry="0.64" fill="#7dbfcb" opacity="0.70" transform="rotate(65 586.9 411.5)"/>
<ellipse cx="600.8" cy="428.8" rx="1.33" ry="0.72" fill="#2a9cb6" opacity="0.94" transform="rotate(113 600.8 428.8)"/>
<ellipse cx="610.9" cy="437.2" rx="1.29" ry="0.60" fill="#7dbfcb" opacity="0.57" transform="rotate(118 610.9 437.2)"/>
<ellipse cx="659.5" cy="448.9" rx="0.97" ry="0.88" fill="#2c9fbb" opacity="0.82" transform="rotate(128 659.5 448.9)"/>
<ellipse cx="598.6" cy="442.1" rx="0.72" ry="0.50" fill="#6cb4c2" opacity="0.67" transform="rotate(157 598.6 442.1)"/>
<ellipse cx="639.5" cy="404.5" rx="1.29" ry="0.70" fill="#2690aa" opacity="0.89" transform="rotate(150 639.5 404.5)"/>
<ellipse cx="662.9" cy="437.5" rx="0.96" ry="0.70" fill="#2a9cb6" opacity="0.95" transform="rotate(155 662.9 437.5)"/>
<ellipse cx="623.8" cy="439.8" rx="1.79" ry="0.86" fill="#36a6be" opacity="0.86" transform="rotate(114 623.8 439.8)"/>
<ellipse cx="628.7" cy="458.5" rx="1.06" ry="0.77" fill="#36a6be" opacity="0.73" transform="rotate(8 628.7 458.5)"/>
<ellipse cx="658.3" cy="403.2" rx="0.68" ry="0.63" fill="#93c9d2" opacity="0.80" transform="rotate(60 658.3 403.2)"/>
<ellipse cx="647.7" cy="450.1" rx="1.17" ry="0.88" fill="#2c9fbb" opacity="0.79" transform="rotate(67 647.7 450.1)"/>
<ellipse cx="579.9" cy="408.9" rx="0.97" ry="0.41" fill="#93c9d2" opacity="0.45" transform="rotate(176 579.9 408.9)"/>
<ellipse cx="623.2" cy="460.8" rx="0.84" ry="0.53" fill="#7dbfcb" opacity="0.50" transform="rotate(95 623.2 460.8)"/>
<ellipse cx="598.5" cy="455.6" rx="1.76" ry="0.85" fill="#2a9cb6" opacity="0.97" transform="rotate(58 598.5 455.6)"/>
<ellipse cx="631.6" cy="461.0" rx="1.42" ry="0.57" fill="#93c9d2" opacity="0.65" transform="rotate(74 631.6 461.0)"/>
<ellipse cx="616.5" cy="462.3" rx="1.10" ry="0.70" fill="#7dbfcb" opacity="0.68" transform="rotate(95 616.5 462.3)"/>
<ellipse cx="593.9" cy="447.3" rx="0.61" ry="0.47" fill="#6cb4c2" opacity="0.68" transform="rotate(125 593.9 447.3)"/>
<ellipse cx="645.6" cy="432.4" rx="0.99" ry="0.61" fill="#7dbfcb" opacity="0.79" transform="rotate(152 645.6 432.4)"/>
<ellipse cx="645.0" cy="467.3" rx="0.86" ry="0.48" fill="#6cb4c2" opacity="0.70" transform="rotate(90 645.0 467.3)"/>
<ellipse cx="600.8" cy="416.7" rx="1.02" ry="0.53" fill="#93c9d2" opacity="0.50" transform="rotate(174 600.8 416.7)"/>
<ellipse cx="631.2" cy="467.3" rx="1.55" ry="0.64" fill="#2690aa" opacity="0.99" transform="rotate(135 631.2 467.3)"/>
<ellipse cx="595.5" cy="405.6" rx="1.50" ry="0.55" fill="#2c9fbb" opacity="0.76" transform="rotate(27 595.5 405.6)"/>
<ellipse cx="603.4" cy="418.2" rx="1.43" ry="0.37" fill="#6cb4c2" opacity="0.69" transform="rotate(15 603.4 418.2)"/>
<ellipse cx="645.2" cy="418.2" rx="0.93" ry="0.55" fill="#2c9fbb" opacity="0.84" transform="rotate(154 645.2 418.2)"/>
<ellipse cx="571.7" cy="460.8" rx="1.57" ry="0.31" fill="#93c9d2" opacity="0.65" transform="rotate(94 571.7 460.8)"/>
<ellipse cx="596.7" cy="409.0" rx="1.08" ry="0.53" fill="#2690aa" opacity="0.86" transform="rotate(99 596.7 409.0)"/>
<ellipse cx="612.0" cy="468.1" rx="1.54" ry="0.67" fill="#6cb4c2" opacity="0.57" transform="rotate(106 612.0 468.1)"/>
<ellipse cx="596.5" cy="439.4" rx="1.27" ry="0.62" fill="#2a9cb6" opacity="0.87" transform="rotate(100 596.5 439.4)"/>
<ellipse cx="613.2" cy="464.3" rx="1.05" ry="0.84" fill="#2a9cb6" opacity="0.89" transform="rotate(144 613.2 464.3)"/>
<ellipse cx="625.6" cy="450.7" rx="1.57" ry="0.66" fill="#2c9fbb" opacity="0.93" transform="rotate(71 625.6 450.7)"/>
<ellipse cx="647.5" cy="443.9" rx="0.92" ry="0.64" fill="#6cb4c2" opacity="0.80" transform="rotate(177 647.5 443.9)"/>
<ellipse cx="615.9" cy="444.2" rx="1.28" ry="0.80" fill="#2690aa" opacity="0.96" transform="rotate(59 615.9 444.2)"/>
<ellipse cx="582.3" cy="408.0" rx="1.50" ry="0.44" fill="#6cb4c2" opacity="0.69" transform="rotate(149 582.3 408.0)"/>
<ellipse cx="597.7" cy="452.9" rx="0.71" ry="0.35" fill="#6cb4c2" opacity="0.50" transform="rotate(175 597.7 452.9)"/>
<ellipse cx="656.9" cy="451.6" rx="1.61" ry="0.31" fill="#93c9d2" opacity="0.59" transform="rotate(36 656.9 451.6)"/>
<ellipse cx="618.1" cy="433.2" rx="0.78" ry="0.44" fill="#93c9d2" opacity="0.72" transform="rotate(126 618.1 433.2)"/>
<ellipse cx="657.8" cy="405.4" rx="0.64" ry="0.41" fill="#93c9d2" opacity="0.69" transform="rotate(75 657.8 405.4)"/>
<ellipse cx="646.8" cy="410.8" rx="1.49" ry="0.85" fill="#2c9fbb" opacity="0.87" transform="rotate(1 646.8 410.8)"/>
<ellipse cx="647.3" cy="459.6" rx="0.90" ry="0.67" fill="#2a9cb6" opacity="0.77" transform="rotate(11 647.3 459.6)"/>
<ellipse cx="622.5" cy="415.1" rx="1.65" ry="0.54" fill="#7dbfcb" opacity="0.75" transform="rotate(125 622.5 415.1)"/>
<ellipse cx="629.7" cy="401.3" rx="1.52" ry="0.42" fill="#7dbfcb" opacity="0.79" transform="rotate(3 629.7 401.3)"/>
<ellipse cx="584.6" cy="434.7" rx="1.60" ry="0.57" fill="#7dbfcb" opacity="0.57" transform="rotate(128 584.6 434.7)"/>
<ellipse cx="626.0" cy="407.4" rx="1.34" ry="0.61" fill="#7dbfcb" opacity="0.64" transform="rotate(112 626.0 407.4)"/>
<ellipse cx="578.1" cy="439.5" rx="1.57" ry="0.55" fill="#6cb4c2" opacity="0.49" transform="rotate(166 578.1 439.5)"/>
<ellipse cx="661.5" cy="403.8" rx="0.63" ry="0.52" fill="#6cb4c2" opacity="0.70" transform="rotate(118 661.5 403.8)"/>
<ellipse cx="605.2" cy="450.7" rx="1.36" ry="0.86" fill="#2a9cb6" opacity="0.84" transform="rotate(86 605.2 450.7)"/>
<ellipse cx="591.6" cy="465.8" rx="1.44" ry="0.52" fill="#2a9cb6" opacity="0.81" transform="rotate(58 591.6 465.8)"/>
<ellipse cx="610.2" cy="403.1" rx="1.36" ry="0.75" fill="#2690aa" opacity="0.91" transform="rotate(29 610.2 403.1)"/>
<ellipse cx="615.7" cy="442.2" rx="1.63" ry="0.73" fill="#2a9cb6" opacity="0.99" transform="rotate(156 615.7 442.2)"/>
<ellipse cx="656.1" cy="446.3" rx="0.77" ry="0.55" fill="#6cb4c2" opacity="0.76" transform="rotate(43 656.1 446.3)"/>
<ellipse cx="635.2" cy="407.8" rx="1.33" ry="0.71" fill="#2690aa" opacity="0.98" transform="rotate(26 635.2 407.8)"/>
<ellipse cx="603.4" cy="440.1" rx="1.21" ry="0.59" fill="#36a6be" opacity="0.78" transform="rotate(32 603.4 440.1)"/>
<ellipse cx="636.8" cy="429.2" rx="1.51" ry="0.66" fill="#2a9cb6" opacity="0.95" transform="rotate(76 636.8 429.2)"/>
<ellipse cx="630.0" cy="459.6" rx="1.47" ry="0.58" fill="#36a6be" opacity="0.98" transform="rotate(169 630.0 459.6)"/>
<ellipse cx="590.3" cy="437.6" rx="0.97" ry="0.39" fill="#6cb4c2" opacity="0.51" transform="rotate(90 590.3 437.6)"/>
<ellipse cx="601.4" cy="461.7" rx="1.64" ry="0.56" fill="#2a9cb6" opacity="0.73" transform="rotate(22 601.4 461.7)"/>
<ellipse cx="652.7" cy="406.7" rx="0.70" ry="0.42" fill="#93c9d2" opacity="0.48" transform="rotate(23 652.7 406.7)"/>
<ellipse cx="610.9" cy="407.4" rx="1.35" ry="0.64" fill="#7dbfcb" opacity="0.72" transform="rotate(18 610.9 407.4)"/>
<ellipse cx="577.1" cy="410.8" rx="1.79" ry="0.63" fill="#2690aa" opacity="0.89" transform="rotate(8 577.1 410.8)"/>
<ellipse cx="633.3" cy="459.5" rx="1.54" ry="0.88" fill="#2a9cb6" opacity="0.73" transform="rotate(55 633.3 459.5)"/>
<ellipse cx="662.7" cy="415.1" rx="0.72" ry="0.35" fill="#6cb4c2" opacity="0.75" transform="rotate(39 662.7 415.1)"/>
<ellipse cx="628.6" cy="420.7" rx="0.85" ry="0.68" fill="#6cb4c2" opacity="0.79" transform="rotate(157 628.6 420.7)"/>
<ellipse cx="576.5" cy="467.5" rx="1.04" ry="0.66" fill="#2a9cb6" opacity="0.81" transform="rotate(138 576.5 467.5)"/>
<ellipse cx="659.2" cy="410.8" rx="1.42" ry="0.54" fill="#36a6be" opacity="0.80" transform="rotate(113 659.2 410.8)"/>
<ellipse cx="600.3" cy="432.2" rx="1.08" ry="0.65" fill="#36a6be" opacity="0.88" transform="rotate(110 600.3 432.2)"/>
<ellipse cx="595.6" cy="438.7" rx="1.43" ry="0.57" fill="#7dbfcb" opacity="0.73" transform="rotate(48 595.6 438.7)"/>
<ellipse cx="581.2" cy="457.1" rx="1.31" ry="0.51" fill="#7dbfcb" opacity="0.57" transform="rotate(62 581.2 457.1)"/>
<ellipse cx="655.7" cy="454.2" rx="1.20" ry="0.52" fill="#93c9d2" opacity="0.65" transform="rotate(95 655.7 454.2)"/>
<ellipse cx="660.8" cy="427.3" rx="0.98" ry="0.62" fill="#6cb4c2" opacity="0.57" transform="rotate(14 660.8 427.3)"/>
<ellipse cx="632.2" cy="400.6" rx="1.47" ry="0.66" fill="#2a9cb6" opacity="0.81" transform="rotate(148 632.2 400.6)"/>
<ellipse cx="622.7" cy="422.3" rx="1.29" ry="0.52" fill="#93c9d2" opacity="0.54" transform="rotate(124 622.7 422.3)"/>
<ellipse cx="632.9" cy="443.6" rx="1.62" ry="0.83" fill="#2a9cb6" opacity="0.96" transform="rotate(16 632.9 443.6)"/>
<ellipse cx="579.0" cy="402.4" rx="0.96" ry="0.43" fill="#6cb4c2" opacity="0.49" transform="rotate(124 579.0 402.4)"/>
<ellipse cx="639.6" cy="455.7" rx="1.43" ry="0.31" fill="#93c9d2" opacity="0.75" transform="rotate(111 639.6 455.7)"/>
<ellipse cx="645.1" cy="422.2" rx="1.18" ry="0.65" fill="#36a6be" opacity="0.83" transform="rotate(71 645.1 422.2)"/>
<ellipse cx="579.2" cy="436.7" rx="1.15" ry="0.81" fill="#2c9fbb" opacity="0.93" transform="rotate(13 579.2 436.7)"/>
<ellipse cx="626.2" cy="460.1" rx="1.20" ry="0.57" fill="#36a6be" opacity="0.71" transform="rotate(84 626.2 460.1)"/>
<ellipse cx="585.2" cy="448.3" rx="1.78" ry="0.90" fill="#36a6be" opacity="0.82" transform="rotate(29 585.2 448.3)"/>
<ellipse cx="656.3" cy="412.0" rx="0.92" ry="0.56" fill="#93c9d2" opacity="0.67" transform="rotate(36 656.3 412.0)"/>
<ellipse cx="636.3" cy="424.9" rx="1.63" ry="0.82" fill="#36a6be" opacity="0.81" transform="rotate(62 636.3 424.9)"/>
<ellipse cx="584.2" cy="424.0" rx="0.76" ry="0.60" fill="#7dbfcb" opacity="0.71" transform="rotate(88 584.2 424.0)"/>
<ellipse cx="649.8" cy="407.2" rx="1.38" ry="0.63" fill="#36a6be" opacity="0.80" transform="rotate(179 649.8 407.2)"/>
<ellipse cx="606.3" cy="412.2" rx="0.76" ry="0.63" fill="#6cb4c2" opacity="0.78" transform="rotate(16 606.3 412.2)"/>
<ellipse cx="571.4" cy="419.4" rx="1.18" ry="0.69" fill="#6cb4c2" opacity="0.79" transform="rotate(132 571.4 419.4)"/>
<ellipse cx="641.1" cy="442.6" rx="1.53" ry="0.62" fill="#7dbfcb" opacity="0.71" transform="rotate(40 641.1 442.6)"/>
<ellipse cx="661.7" cy="404.1" rx="1.00" ry="0.62" fill="#2c9fbb" opacity="0.74" transform="rotate(55 661.7 404.1)"/>
<ellipse cx="650.3" cy="443.9" rx="0.66" ry="0.44" fill="#7dbfcb" opacity="0.74" transform="rotate(157 650.3 443.9)"/>
<ellipse cx="591.9" cy="447.1" rx="0.99" ry="0.65" fill="#2a9cb6" opacity="0.86" transform="rotate(7 591.9 447.1)"/>
<ellipse cx="574.4" cy="426.5" rx="1.65" ry="0.43" fill="#6cb4c2" opacity="0.80" transform="rotate(47 574.4 426.5)"/>
<ellipse cx="630.3" cy="465.5" rx="1.69" ry="0.53" fill="#2690aa" opacity="0.84" transform="rotate(1 630.3 465.5)"/>
<ellipse cx="654.5" cy="466.0" rx="0.85" ry="0.39" fill="#6cb4c2" opacity="0.75" transform="rotate(162 654.5 466.0)"/>
<ellipse cx="573.1" cy="435.7" rx="1.21" ry="0.52" fill="#7dbfcb" opacity="0.71" transform="rotate(124 573.1 435.7)"/>
<ellipse cx="575.3" cy="441.1" rx="1.24" ry="0.79" fill="#2c9fbb" opacity="0.83" transform="rotate(169 575.3 441.1)"/>
<ellipse cx="649.8" cy="454.7" rx="0.87" ry="0.60" fill="#2a9cb6" opacity="0.86" transform="rotate(48 649.8 454.7)"/>
<ellipse cx="572.5" cy="404.9" rx="1.23" ry="0.49" fill="#7dbfcb" opacity="0.56" transform="rotate(86 572.5 404.9)"/>
<ellipse cx="612.9" cy="400.5" rx="1.05" ry="0.59" fill="#7dbfcb" opacity="0.77" transform="rotate(176 612.9 400.5)"/>
<ellipse cx="595.3" cy="468.2" rx="1.05" ry="0.63" fill="#6cb4c2" opacity="0.54" transform="rotate(151 595.3 468.2)"/>
<ellipse cx="584.4" cy="413.5" rx="0.83" ry="0.57" fill="#6cb4c2" opacity="0.57" transform="rotate(175 584.4 413.5)"/>
<ellipse cx="580.9" cy="431.3" rx="1.64" ry="0.61" fill="#36a6be" opacity="0.86" transform="rotate(16 580.9 431.3)"/>
<ellipse cx="617.9" cy="455.5" rx="0.66" ry="0.64" fill="#7dbfcb" opacity="0.56" transform="rotate(141 617.9 455.5)"/>
<ellipse cx="659.8" cy="449.0" rx="0.81" ry="0.40" fill="#7dbfcb" opacity="0.66" transform="rotate(45 659.8 449.0)"/>
<ellipse cx="614.6" cy="407.7" rx="1.59" ry="0.65" fill="#2a9cb6" opacity="0.93" transform="rotate(114 614.6 407.7)"/>
<ellipse cx="655.3" cy="448.4" rx="0.97" ry="0.50" fill="#2a9cb6" opacity="0.86" transform="rotate(13 655.3 448.4)"/>
<ellipse cx="653.6" cy="428.6" rx="0.77" ry="0.68" fill="#93c9d2" opacity="0.69" transform="rotate(126 653.6 428.6)"/>
<ellipse cx="600.2" cy="461.9" rx="1.34" ry="0.69" fill="#6cb4c2" opacity="0.71" transform="rotate(135 600.2 461.9)"/>
<ellipse cx="643.4" cy="443.7" rx="0.91" ry="0.37" fill="#6cb4c2" opacity="0.49" transform="rotate(85 643.4 443.7)"/>
<ellipse cx="657.1" cy="437.4" rx="1.48" ry="0.41" fill="#6cb4c2" opacity="0.75" transform="rotate(79 657.1 437.4)"/>
<ellipse cx="639.3" cy="442.2" rx="1.61" ry="0.53" fill="#93c9d2" opacity="0.72" transform="rotate(105 639.3 442.2)"/>
<ellipse cx="639.0" cy="465.0" rx="1.64" ry="0.89" fill="#36a6be" opacity="0.94" transform="rotate(74 639.0 465.0)"/>
<ellipse cx="628.4" cy="405.3" rx="1.19" ry="0.56" fill="#2a9cb6" opacity="0.78" transform="rotate(165 628.4 405.3)"/>
<ellipse cx="630.9" cy="414.1" rx="1.29" ry="0.68" fill="#2a9cb6" opacity="0.82" transform="rotate(36 630.9 414.1)"/>
<ellipse cx="581.2" cy="445.5" rx="0.74" ry="0.54" fill="#7dbfcb" opacity="0.71" transform="rotate(30 581.2 445.5)"/>
<ellipse cx="641.2" cy="399.9" rx="0.87" ry="0.52" fill="#2690aa" opacity="0.94" transform="rotate(100 641.2 399.9)"/>
<ellipse cx="611.9" cy="454.2" rx="1.54" ry="0.32" fill="#6cb4c2" opacity="0.62" transform="rotate(75 611.9 454.2)"/>
<ellipse cx="654.4" cy="443.7" rx="1.36" ry="0.68" fill="#6cb4c2" opacity="0.64" transform="rotate(120 654.4 443.7)"/>
<ellipse cx="610.7" cy="451.0" rx="1.55" ry="0.59" fill="#6cb4c2" opacity="0.65" transform="rotate(84 610.7 451.0)"/>
<ellipse cx="626.9" cy="449.4" rx="0.61" ry="0.69" fill="#7dbfcb" opacity="0.75" transform="rotate(170 626.9 449.4)"/>
<ellipse cx="619.9" cy="403.1" rx="1.35" ry="0.38" fill="#7dbfcb" opacity="0.65" transform="rotate(33 619.9 403.1)"/>
<ellipse cx="581.3" cy="439.8" rx="1.44" ry="0.45" fill="#93c9d2" opacity="0.61" transform="rotate(19 581.3 439.8)"/>
<ellipse cx="584.0" cy="441.0" rx="1.16" ry="0.86" fill="#2c9fbb" opacity="0.90" transform="rotate(176 584.0 441.0)"/>
<ellipse cx="634.7" cy="444.2" rx="1.40" ry="0.44" fill="#7dbfcb" opacity="0.62" transform="rotate(160 634.7 444.2)"/>
<ellipse cx="591.3" cy="434.0" rx="0.65" ry="0.33" fill="#6cb4c2" opacity="0.52" transform="rotate(173 591.3 434.0)"/>
<ellipse cx="614.7" cy="464.3" rx="1.53" ry="0.59" fill="#2c9fbb" opacity="0.95" transform="rotate(176 614.7 464.3)"/>
<ellipse cx="650.5" cy="422.6" rx="1.17" ry="0.83" fill="#2690aa" opacity="0.99" transform="rotate(138 650.5 422.6)"/>
<ellipse cx="645.2" cy="409.6" rx="1.65" ry="0.67" fill="#2a9cb6" opacity="0.88" transform="rotate(30 645.2 409.6)"/>
<ellipse cx="651.3" cy="450.5" rx="1.16" ry="0.68" fill="#93c9d2" opacity="0.67" transform="rotate(60 651.3 450.5)"/>
<ellipse cx="597.1" cy="422.3" rx="0.66" ry="0.57" fill="#93c9d2" opacity="0.51" transform="rotate(151 597.1 422.3)"/>
<ellipse cx="635.2" cy="410.9" rx="1.69" ry="0.40" fill="#93c9d2" opacity="0.80" transform="rotate(154 635.2 410.9)"/>
<ellipse cx="594.4" cy="427.4" rx="1.19" ry="0.70" fill="#6cb4c2" opacity="0.74" transform="rotate(80 594.4 427.4)"/>
<ellipse cx="645.1" cy="407.7" rx="1.22" ry="0.53" fill="#2a9cb6" opacity="0.99" transform="rotate(173 645.1 407.7)"/>
<ellipse cx="651.4" cy="461.9" rx="0.79" ry="0.51" fill="#93c9d2" opacity="0.69" transform="rotate(83 651.4 461.9)"/>
<ellipse cx="574.1" cy="430.9" rx="0.90" ry="0.88" fill="#36a6be" opacity="0.87" transform="rotate(102 574.1 430.9)"/>
<ellipse cx="620.2" cy="402.6" rx="0.63" ry="0.46" fill="#93c9d2" opacity="0.57" transform="rotate(94 620.2 402.6)"/>
<ellipse cx="622.3" cy="456.3" rx="0.82" ry="0.69" fill="#2c9fbb" opacity="0.72" transform="rotate(6 622.3 456.3)"/>
<ellipse cx="596.2" cy="439.7" rx="1.48" ry="0.62" fill="#2690aa" opacity="0.76" transform="rotate(30 596.2 439.7)"/>
<ellipse cx="578.0" cy="416.5" rx="1.41" ry="0.77" fill="#2c9fbb" opacity="0.71" transform="rotate(89 578.0 416.5)"/>
<ellipse cx="645.4" cy="409.8" rx="1.34" ry="0.53" fill="#36a6be" opacity="0.76" transform="rotate(97 645.4 409.8)"/>
<ellipse cx="602.5" cy="451.8" rx="1.54" ry="0.54" fill="#2a9cb6" opacity="0.97" transform="rotate(91 602.5 451.8)"/>
<ellipse cx="585.6" cy="400.0" rx="0.68" ry="0.58" fill="#6cb4c2" opacity="0.67" transform="rotate(160 585.6 400.0)"/>
<ellipse cx="591.1" cy="406.3" rx="1.37" ry="0.82" fill="#36a6be" opacity="0.79" transform="rotate(26 591.1 406.3)"/>
<ellipse cx="609.2" cy="404.9" rx="1.39" ry="0.37" fill="#6cb4c2" opacity="0.62" transform="rotate(41 609.2 404.9)"/>
<ellipse cx="585.6" cy="408.8" rx="1.50" ry="0.82" fill="#36a6be" opacity="0.84" transform="rotate(133 585.6 408.8)"/>
<ellipse cx="628.6" cy="458.5" rx="1.68" ry="0.66" fill="#7dbfcb" opacity="0.58" transform="rotate(124 628.6 458.5)"/>
<ellipse cx="637.9" cy="420.1" rx="0.65" ry="0.64" fill="#7dbfcb" opacity="0.50" transform="rotate(168 637.9 420.1)"/>
<ellipse cx="589.4" cy="413.6" rx="0.86" ry="0.74" fill="#2690aa" opacity="0.81" transform="rotate(15 589.4 413.6)"/>
<ellipse cx="609.7" cy="408.0" rx="0.87" ry="0.85" fill="#2a9cb6" opacity="0.73" transform="rotate(136 609.7 408.0)"/>
<ellipse cx="663.0" cy="413.4" rx="1.55" ry="0.57" fill="#7dbfcb" opacity="0.66" transform="rotate(50 663.0 413.4)"/>
<ellipse cx="656.1" cy="408.6" rx="0.61" ry="0.33" fill="#93c9d2" opacity="0.65" transform="rotate(55 656.1 408.6)"/>
<ellipse cx="662.6" cy="453.7" rx="1.23" ry="0.44" fill="#93c9d2" opacity="0.58" transform="rotate(135 662.6 453.7)"/>
<ellipse cx="614.5" cy="443.7" rx="1.14" ry="0.38" fill="#6cb4c2" opacity="0.72" transform="rotate(75 614.5 443.7)"/>
<ellipse cx="583.0" cy="411.8" rx="0.99" ry="0.52" fill="#7dbfcb" opacity="0.58" transform="rotate(9 583.0 411.8)"/>
<ellipse cx="654.6" cy="437.4" rx="0.95" ry="0.82" fill="#2a9cb6" opacity="0.91" transform="rotate(63 654.6 437.4)"/>
<ellipse cx="584.5" cy="417.1" rx="1.17" ry="0.66" fill="#2a9cb6" opacity="0.91" transform="rotate(155 584.5 417.1)"/>
<ellipse cx="655.7" cy="413.7" rx="1.27" ry="0.59" fill="#2690aa" opacity="0.87" transform="rotate(106 655.7 413.7)"/>
<ellipse cx="644.2" cy="448.1" rx="1.45" ry="0.77" fill="#2c9fbb" opacity="0.81" transform="rotate(100 644.2 448.1)"/>
<ellipse cx="583.8" cy="433.1" rx="1.34" ry="0.64" fill="#2690aa" opacity="0.92" transform="rotate(96 583.8 433.1)"/>
<ellipse cx="605.9" cy="426.7" rx="1.61" ry="0.64" fill="#7dbfcb" opacity="0.68" transform="rotate(75 605.9 426.7)"/>
<ellipse cx="653.5" cy="429.2" rx="0.99" ry="0.66" fill="#2c9fbb" opacity="0.79" transform="rotate(97 653.5 429.2)"/>
<ellipse cx="618.7" cy="454.6" rx="1.07" ry="0.57" fill="#7dbfcb" opacity="0.52" transform="rotate(2 618.7 454.6)"/>
<ellipse cx="647.4" cy="457.4" rx="0.95" ry="0.66" fill="#2a9cb6" opacity="0.72" transform="rotate(108 647.4 457.4)"/>
<ellipse cx="598.3" cy="450.1" rx="1.64" ry="0.69" fill="#7dbfcb" opacity="0.65" transform="rotate(97 598.3 450.1)"/>
<ellipse cx="621.5" cy="414.4" rx="1.47" ry="0.75" fill="#2690aa" opacity="0.83" transform="rotate(33 621.5 414.4)"/>
<ellipse cx="658.6" cy="444.9" rx="1.57" ry="0.54" fill="#2c9fbb" opacity="0.82" transform="rotate(70 658.6 444.9)"/>
<ellipse cx="646.5" cy="414.9" rx="1.29" ry="0.78" fill="#2a9cb6" opacity="0.72" transform="rotate(64 646.5 414.9)"/>
<ellipse cx="591.0" cy="429.1" rx="0.71" ry="0.70" fill="#7dbfcb" opacity="0.58" transform="rotate(79 591.0 429.1)"/>
<ellipse cx="602.1" cy="420.7" rx="1.45" ry="0.55" fill="#7dbfcb" opacity="0.52" transform="rotate(97 602.1 420.7)"/>
<ellipse cx="607.2" cy="404.2" rx="1.45" ry="0.43" fill="#6cb4c2" opacity="0.73" transform="rotate(176 607.2 404.2)"/>
<ellipse cx="659.7" cy="448.4" rx="1.35" ry="0.52" fill="#93c9d2" opacity="0.66" transform="rotate(144 659.7 448.4)"/>
<ellipse cx="661.9" cy="434.8" rx="1.07" ry="0.56" fill="#93c9d2" opacity="0.68" transform="rotate(143 661.9 434.8)"/>
<ellipse cx="574.7" cy="409.1" rx="1.38" ry="0.68" fill="#2c9fbb" opacity="0.80" transform="rotate(177 574.7 409.1)"/>
<ellipse cx="640.5" cy="441.3" rx="0.69" ry="0.66" fill="#93c9d2" opacity="0.47" transform="rotate(83 640.5 441.3)"/>
<ellipse cx="643.2" cy="415.0" rx="0.81" ry="0.83" fill="#2690aa" opacity="0.88" transform="rotate(157 643.2 415.0)"/>
<ellipse cx="618.8" cy="440.3" rx="0.97" ry="0.80" fill="#36a6be" opacity="0.91" transform="rotate(109 618.8 440.3)"/>
<ellipse cx="624.5" cy="448.9" rx="1.49" ry="0.74" fill="#2a9cb6" opacity="0.94" transform="rotate(50 624.5 448.9)"/>
<ellipse cx="642.8" cy="422.8" rx="0.71" ry="0.54" fill="#7dbfcb" opacity="0.72" transform="rotate(54 642.8 422.8)"/>
<ellipse cx="597.3" cy="413.7" rx="1.31" ry="0.45" fill="#93c9d2" opacity="0.65" transform="rotate(21 597.3 413.7)"/>
<ellipse cx="642.6" cy="427.9" rx="1.00" ry="0.42" fill="#7dbfcb" opacity="0.55" transform="rotate(89 642.6 427.9)"/>
<ellipse cx="602.2" cy="400.6" rx="1.12" ry="0.57" fill="#36a6be" opacity="0.78" transform="rotate(76 602.2 400.6)"/>
<ellipse cx="660.8" cy="439.6" rx="1.43" ry="0.68" fill="#93c9d2" opacity="0.66" transform="rotate(81 660.8 439.6)"/>
<ellipse cx="616.5" cy="420.2" rx="1.11" ry="0.81" fill="#2690aa" opacity="0.94" transform="rotate(15 616.5 420.2)"/>
<ellipse cx="615.5" cy="464.0" rx="0.71" ry="0.60" fill="#6cb4c2" opacity="0.50" transform="rotate(87 615.5 464.0)"/>
<ellipse cx="576.4" cy="442.5" rx="1.22" ry="0.38" fill="#7dbfcb" opacity="0.77" transform="rotate(116 576.4 442.5)"/>
<ellipse cx="593.9" cy="433.5" rx="0.63" ry="0.43" fill="#7dbfcb" opacity="0.57" transform="rotate(56 593.9 433.5)"/>
<ellipse cx="596.1" cy="401.8" rx="1.70" ry="0.47" fill="#7dbfcb" opacity="0.65" transform="rotate(43 596.1 401.8)"/>
<ellipse cx="662.4" cy="461.1" rx="1.59" ry="0.55" fill="#6cb4c2" opacity="0.75" transform="rotate(22 662.4 461.1)"/>
<ellipse cx="593.3" cy="402.0" rx="1.67" ry="0.65" fill="#2a9cb6" opacity="0.98" transform="rotate(23 593.3 402.0)"/>
<ellipse cx="606.1" cy="406.5" rx="0.95" ry="0.71" fill="#2a9cb6" opacity="0.75" transform="rotate(83 606.1 406.5)"/>
<ellipse cx="590.8" cy="423.7" rx="1.67" ry="0.60" fill="#2690aa" opacity="0.93" transform="rotate(54 590.8 423.7)"/>
<ellipse cx="582.5" cy="446.1" rx="0.80" ry="0.59" fill="#6cb4c2" opacity="0.78" transform="rotate(99 582.5 446.1)"/>
<ellipse cx="598.0" cy="426.3" rx="1.04" ry="0.54" fill="#2c9fbb" opacity="0.84" transform="rotate(71 598.0 426.3)"/>
<ellipse cx="630.2" cy="449.1" rx="1.10" ry="0.51" fill="#6cb4c2" opacity="0.79" transform="rotate(39 630.2 449.1)"/>
<ellipse cx="606.6" cy="442.8" rx="1.41" ry="0.59" fill="#93c9d2" opacity="0.63" transform="rotate(142 606.6 442.8)"/>
<ellipse cx="652.9" cy="449.3" rx="0.71" ry="0.51" fill="#7dbfcb" opacity="0.49" transform="rotate(163 652.9 449.3)"/>
<ellipse cx="662.0" cy="448.6" rx="0.90" ry="0.89" fill="#36a6be" opacity="0.97" transform="rotate(40 662.0 448.6)"/>
<ellipse cx="620.5" cy="426.2" rx="1.02" ry="0.70" fill="#36a6be" opacity="0.77" transform="rotate(136 620.5 426.2)"/>
<ellipse cx="653.5" cy="415.8" rx="0.98" ry="0.60" fill="#2c9fbb" opacity="0.95" transform="rotate(179 653.5 415.8)"/>
<ellipse cx="599.7" cy="461.4" rx="1.55" ry="0.32" fill="#93c9d2" opacity="0.55" transform="rotate(175 599.7 461.4)"/>
<ellipse cx="583.9" cy="408.7" rx="1.34" ry="0.75" fill="#2a9cb6" opacity="0.89" transform="rotate(50 583.9 408.7)"/>
<ellipse cx="633.8" cy="428.8" rx="1.67" ry="0.54" fill="#6cb4c2" opacity="0.69" transform="rotate(60 633.8 428.8)"/>
<ellipse cx="637.6" cy="400.2" rx="1.04" ry="0.38" fill="#93c9d2" opacity="0.58" transform="rotate(100 637.6 400.2)"/>
<ellipse cx="638.9" cy="463.3" rx="1.34" ry="0.55" fill="#6cb4c2" opacity="0.54" transform="rotate(126 638.9 463.3)"/>
<ellipse cx="639.4" cy="430.0" rx="1.48" ry="0.33" fill="#93c9d2" opacity="0.68" transform="rotate(133 639.4 430.0)"/>
<ellipse cx="643.0" cy="436.8" rx="0.99" ry="0.52" fill="#93c9d2" opacity="0.79" transform="rotate(168 643.0 436.8)"/>
<ellipse cx="595.5" cy="445.5" rx="1.65" ry="0.54" fill="#93c9d2" opacity="0.70" transform="rotate(74 595.5 445.5)"/>
<ellipse cx="592.5" cy="414.2" rx="1.13" ry="0.60" fill="#7dbfcb" opacity="0.52" transform="rotate(96 592.5 414.2)"/>
<ellipse cx="592.4" cy="442.7" rx="0.87" ry="0.58" fill="#93c9d2" opacity="0.50" transform="rotate(85 592.4 442.7)"/>
<ellipse cx="615.5" cy="417.5" rx="1.40" ry="0.60" fill="#6cb4c2" opacity="0.59" transform="rotate(83 615.5 417.5)"/>
<ellipse cx="636.5" cy="422.9" rx="1.21" ry="0.70" fill="#6cb4c2" opacity="0.74" transform="rotate(53 636.5 422.9)"/>
<ellipse cx="663.3" cy="437.4" rx="1.70" ry="0.69" fill="#6cb4c2" opacity="0.67" transform="rotate(112 663.3 437.4)"/>
<ellipse cx="621.3" cy="464.8" rx="1.06" ry="0.51" fill="#2a9cb6" opacity="0.85" transform="rotate(108 621.3 464.8)"/>
<ellipse cx="653.8" cy="411.2" rx="0.88" ry="0.42" fill="#7dbfcb" opacity="0.76" transform="rotate(96 653.8 411.2)"/>
<ellipse cx="600.4" cy="432.8" rx="1.44" ry="0.61" fill="#36a6be" opacity="0.99" transform="rotate(172 600.4 432.8)"/>
<ellipse cx="600.1" cy="436.0" rx="1.42" ry="0.68" fill="#36a6be" opacity="0.77" transform="rotate(82 600.1 436.0)"/>
<ellipse cx="606.6" cy="409.2" rx="0.98" ry="0.61" fill="#93c9d2" opacity="0.52" transform="rotate(6 606.6 409.2)"/>
<ellipse cx="637.8" cy="428.3" rx="1.11" ry="0.32" fill="#7dbfcb" opacity="0.64" transform="rotate(19 637.8 428.3)"/>
<ellipse cx="630.3" cy="410.9" rx="1.66" ry="0.61" fill="#7dbfcb" opacity="0.47" transform="rotate(68 630.3 410.9)"/>
<ellipse cx="608.7" cy="450.2" rx="1.53" ry="0.52" fill="#2a9cb6" opacity="0.96" transform="rotate(126 608.7 450.2)"/>
<ellipse cx="634.0" cy="428.1" rx="1.62" ry="0.68" fill="#7dbfcb" opacity="0.49" transform="rotate(53 634.0 428.1)"/>
<ellipse cx="628.8" cy="419.3" rx="1.07" ry="0.87" fill="#2690aa" opacity="0.92" transform="rotate(26 628.8 419.3)"/>
<ellipse cx="580.9" cy="424.9" rx="1.33" ry="0.53" fill="#2a9cb6" opacity="0.82" transform="rotate(119 580.9 424.9)"/>
<ellipse cx="610.2" cy="422.3" rx="1.20" ry="0.67" fill="#36a6be" opacity="0.83" transform="rotate(46 610.2 422.3)"/>
<ellipse cx="618.6" cy="461.1" rx="0.66" ry="0.57" fill="#93c9d2" opacity="0.53" transform="rotate(33 618.6 461.1)"/>
<ellipse cx="582.1" cy="426.7" rx="1.24" ry="0.59" fill="#6cb4c2" opacity="0.75" transform="rotate(15 582.1 426.7)"/>
<ellipse cx="624.3" cy="401.9" rx="1.67" ry="0.45" fill="#7dbfcb" opacity="0.58" transform="rotate(167 624.3 401.9)"/>
<ellipse cx="657.2" cy="411.6" rx="1.34" ry="0.35" fill="#7dbfcb" opacity="0.61" transform="rotate(16 657.2 411.6)"/>
<ellipse cx="623.4" cy="418.5" rx="1.03" ry="0.36" fill="#6cb4c2" opacity="0.74" transform="rotate(26 623.4 418.5)"/>
<ellipse cx="577.3" cy="465.7" rx="1.02" ry="0.86" fill="#2c9fbb" opacity="0.77" transform="rotate(67 577.3 465.7)"/>
<ellipse cx="656.0" cy="434.3" rx="0.93" ry="0.45" fill="#7dbfcb" opacity="0.78" transform="rotate(96 656.0 434.3)"/>
<ellipse cx="580.5" cy="406.7" rx="1.35" ry="0.58" fill="#36a6be" opacity="0.82" transform="rotate(86 580.5 406.7)"/>
<ellipse cx="597.0" cy="460.2" rx="1.22" ry="0.49" fill="#6cb4c2" opacity="0.63" transform="rotate(91 597.0 460.2)"/>
<ellipse cx="612.8" cy="412.0" rx="0.96" ry="0.65" fill="#36a6be" opacity="0.79" transform="rotate(119 612.8 412.0)"/>
<ellipse cx="604.6" cy="440.1" rx="1.27" ry="0.53" fill="#6cb4c2" opacity="0.52" transform="rotate(161 604.6 440.1)"/>
<ellipse cx="590.7" cy="443.7" rx="1.26" ry="0.64" fill="#6cb4c2" opacity="0.56" transform="rotate(147 590.7 443.7)"/>
<ellipse cx="635.7" cy="458.1" rx="1.61" ry="0.53" fill="#93c9d2" opacity="0.61" transform="rotate(20 635.7 458.1)"/>
<ellipse cx="615.5" cy="432.0" rx="0.76" ry="0.59" fill="#6cb4c2" opacity="0.80" transform="rotate(179 615.5 432.0)"/>
<ellipse cx="605.3" cy="425.1" rx="0.86" ry="0.33" fill="#93c9d2" opacity="0.73" transform="rotate(92 605.3 425.1)"/>
<ellipse cx="599.4" cy="438.9" rx="1.25" ry="0.61" fill="#7dbfcb" opacity="0.56" transform="rotate(66 599.4 438.9)"/>
<ellipse cx="605.9" cy="442.5" rx="1.65" ry="0.67" fill="#7dbfcb" opacity="0.56" transform="rotate(94 605.9 442.5)"/>
<ellipse cx="659.6" cy="408.2" rx="0.96" ry="0.70" fill="#36a6be" opacity="0.98" transform="rotate(157 659.6 408.2)"/>
<ellipse cx="623.5" cy="440.6" rx="1.56" ry="0.68" fill="#36a6be" opacity="0.80" transform="rotate(48 623.5 440.6)"/>
<ellipse cx="591.8" cy="451.8" rx="1.36" ry="0.56" fill="#7dbfcb" opacity="0.55" transform="rotate(122 591.8 451.8)"/>
<ellipse cx="647.9" cy="435.5" rx="0.63" ry="0.60" fill="#7dbfcb" opacity="0.69" transform="rotate(179 647.9 435.5)"/>
<ellipse cx="643.4" cy="409.2" rx="1.22" ry="0.42" fill="#93c9d2" opacity="0.69" transform="rotate(7 643.4 409.2)"/>
<ellipse cx="606.9" cy="419.0" rx="1.63" ry="0.66" fill="#2690aa" opacity="0.76" transform="rotate(163 606.9 419.0)"/>
<ellipse cx="587.1" cy="418.3" rx="0.86" ry="0.63" fill="#7dbfcb" opacity="0.60" transform="rotate(155 587.1 418.3)"/>
<ellipse cx="593.8" cy="462.3" rx="0.83" ry="0.62" fill="#93c9d2" opacity="0.76" transform="rotate(81 593.8 462.3)"/>
<ellipse cx="654.0" cy="460.5" rx="1.39" ry="0.40" fill="#93c9d2" opacity="0.74" transform="rotate(153 654.0 460.5)"/>
<ellipse cx="636.4" cy="424.2" rx="1.52" ry="0.42" fill="#93c9d2" opacity="0.75" transform="rotate(44 636.4 424.2)"/>
<ellipse cx="582.1" cy="432.6" rx="1.16" ry="0.66" fill="#6cb4c2" opacity="0.65" transform="rotate(86 582.1 432.6)"/>
<ellipse cx="611.0" cy="448.9" rx="0.93" ry="0.89" fill="#2690aa" opacity="0.94" transform="rotate(62 611.0 448.9)"/>
<ellipse cx="661.6" cy="439.2" rx="1.28" ry="0.65" fill="#2a9cb6" opacity="0.72" transform="rotate(57 661.6 439.2)"/>
<ellipse cx="605.3" cy="440.1" rx="1.10" ry="0.53" fill="#36a6be" opacity="0.93" transform="rotate(163 605.3 440.1)"/>
<ellipse cx="607.4" cy="466.6" rx="1.27" ry="0.32" fill="#7dbfcb" opacity="0.76" transform="rotate(176 607.4 466.6)"/>
<ellipse cx="572.7" cy="401.2" rx="0.88" ry="0.65" fill="#2c9fbb" opacity="0.96" transform="rotate(104 572.7 401.2)"/>
<ellipse cx="631.4" cy="444.0" rx="1.33" ry="0.69" fill="#2c9fbb" opacity="0.79" transform="rotate(54 631.4 444.0)"/>
<ellipse cx="577.5" cy="416.5" rx="0.94" ry="0.81" fill="#2a9cb6" opacity="0.81" transform="rotate(11 577.5 416.5)"/>
<ellipse cx="637.2" cy="467.4" rx="0.70" ry="0.44" fill="#7dbfcb" opacity="0.46" transform="rotate(170 637.2 467.4)"/>
<ellipse cx="641.9" cy="450.5" rx="0.93" ry="0.50" fill="#36a6be" opacity="0.92" transform="rotate(126 641.9 450.5)"/>
<ellipse cx="600.9" cy="413.9" rx="1.47" ry="0.79" fill="#2a9cb6" opacity="0.77" transform="rotate(92 600.9 413.9)"/>
<ellipse cx="592.0" cy="400.2" rx="1.65" ry="0.45" fill="#93c9d2" opacity="0.55" transform="rotate(29 592.0 400.2)"/>
<ellipse cx="645.0" cy="461.9" rx="1.42" ry="0.39" fill="#6cb4c2" opacity="0.66" transform="rotate(23 645.0 461.9)"/>
<ellipse cx="597.3" cy="463.3" rx="1.66" ry="0.43" fill="#6cb4c2" opacity="0.65" transform="rotate(144 597.3 463.3)"/>
<ellipse cx="608.6" cy="468.1" rx="1.49" ry="0.49" fill="#93c9d2" opacity="0.63" transform="rotate(3 608.6 468.1)"/>
<ellipse cx="642.8" cy="434.3" rx="0.88" ry="0.64" fill="#2690aa" opacity="0.75" transform="rotate(80 642.8 434.3)"/>
<ellipse cx="590.9" cy="407.9" rx="0.68" ry="0.37" fill="#93c9d2" opacity="0.73" transform="rotate(75 590.9 407.9)"/>
<ellipse cx="588.4" cy="464.4" rx="1.18" ry="0.42" fill="#6cb4c2" opacity="0.50" transform="rotate(87 588.4 464.4)"/>
<ellipse cx="651.9" cy="410.9" rx="0.97" ry="0.34" fill="#93c9d2" opacity="0.74" transform="rotate(152 651.9 410.9)"/>
<ellipse cx="639.1" cy="460.2" rx="0.60" ry="0.42" fill="#7dbfcb" opacity="0.58" transform="rotate(90 639.1 460.2)"/>
<ellipse cx="595.6" cy="408.3" rx="1.28" ry="0.38" fill="#7dbfcb" opacity="0.65" transform="rotate(174 595.6 408.3)"/>
<ellipse cx="578.0" cy="426.3" rx="1.52" ry="0.81" fill="#2690aa" opacity="0.88" transform="rotate(115 578.0 426.3)"/>
<ellipse cx="640.9" cy="433.1" rx="1.75" ry="0.65" fill="#36a6be" opacity="0.70" transform="rotate(83 640.9 433.1)"/>
<ellipse cx="575.3" cy="430.2" rx="1.15" ry="0.61" fill="#36a6be" opacity="0.74" transform="rotate(77 575.3 430.2)"/>
<ellipse cx="574.7" cy="420.2" rx="1.04" ry="0.64" fill="#6cb4c2" opacity="0.75" transform="rotate(79 574.7 420.2)"/>
<ellipse cx="638.7" cy="445.3" rx="1.42" ry="0.60" fill="#7dbfcb" opacity="0.48" transform="rotate(14 638.7 445.3)"/>
<ellipse cx="658.8" cy="463.5" rx="0.99" ry="0.54" fill="#7dbfcb" opacity="0.55" transform="rotate(140 658.8 463.5)"/>
<ellipse cx="633.1" cy="439.2" rx="1.67" ry="0.51" fill="#93c9d2" opacity="0.61" transform="rotate(144 633.1 439.2)"/>
<ellipse cx="586.4" cy="433.8" rx="1.25" ry="0.58" fill="#6cb4c2" opacity="0.52" transform="rotate(30 586.4 433.8)"/>
<ellipse cx="588.0" cy="440.0" rx="1.17" ry="0.65" fill="#7dbfcb" opacity="0.77" transform="rotate(86 588.0 440.0)"/>
<ellipse cx="616.2" cy="411.3" rx="1.34" ry="0.57" fill="#2a9cb6" opacity="0.73" transform="rotate(43 616.2 411.3)"/>
<ellipse cx="659.7" cy="432.4" rx="1.29" ry="0.36" fill="#6cb4c2" opacity="0.59" transform="rotate(98 659.7 432.4)"/>
<ellipse cx="663.7" cy="413.1" rx="1.38" ry="0.39" fill="#7dbfcb" opacity="0.51" transform="rotate(67 663.7 413.1)"/>
<ellipse cx="663.2" cy="400.8" rx="0.77" ry="0.59" fill="#7dbfcb" opacity="0.59" transform="rotate(20 663.2 400.8)"/>
<ellipse cx="588.5" cy="415.8" rx="1.00" ry="0.59" fill="#7dbfcb" opacity="0.68" transform="rotate(81 588.5 415.8)"/>
<ellipse cx="641.8" cy="446.2" rx="1.62" ry="0.55" fill="#2690aa" opacity="0.71" transform="rotate(28 641.8 446.2)"/>
<ellipse cx="623.1" cy="465.8" rx="1.06" ry="0.67" fill="#93c9d2" opacity="0.72" transform="rotate(23 623.1 465.8)"/>
<ellipse cx="621.5" cy="434.9" rx="1.40" ry="0.51" fill="#93c9d2" opacity="0.76" transform="rotate(24 621.5 434.9)"/>
<ellipse cx="625.8" cy="459.9" rx="1.38" ry="0.61" fill="#6cb4c2" opacity="0.71" transform="rotate(27 625.8 459.9)"/>
<ellipse cx="635.4" cy="427.8" rx="1.59" ry="0.74" fill="#36a6be" opacity="0.83" transform="rotate(96 635.4 427.8)"/>
<ellipse cx="579.9" cy="410.3" rx="0.99" ry="0.89" fill="#2a9cb6" opacity="0.99" transform="rotate(47 579.9 410.3)"/>
<ellipse cx="625.1" cy="401.7" rx="1.43" ry="0.62" fill="#36a6be" opacity="0.78" transform="rotate(173 625.1 401.7)"/>
<ellipse cx="657.6" cy="412.5" rx="1.39" ry="0.35" fill="#7dbfcb" opacity="0.67" transform="rotate(128 657.6 412.5)"/>
<ellipse cx="622.4" cy="407.4" rx="1.49" ry="0.60" fill="#36a6be" opacity="0.77" transform="rotate(155 622.4 407.4)"/>
<ellipse cx="625.2" cy="402.0" rx="1.27" ry="0.72" fill="#2690aa" opacity="0.75" transform="rotate(21 625.2 402.0)"/>
<ellipse cx="617.7" cy="447.1" rx="1.17" ry="0.59" fill="#2c9fbb" opacity="0.88" transform="rotate(109 617.7 447.1)"/>
<ellipse cx="602.2" cy="432.4" rx="0.62" ry="0.54" fill="#6cb4c2" opacity="0.70" transform="rotate(108 602.2 432.4)"/>
<ellipse cx="653.0" cy="400.2" rx="0.91" ry="0.57" fill="#2c9fbb" opacity="0.90" transform="rotate(23 653.0 400.2)"/>
<ellipse cx="661.0" cy="455.8" rx="0.69" ry="0.59" fill="#6cb4c2" opacity="0.52" transform="rotate(100 661.0 455.8)"/>
<ellipse cx="623.0" cy="443.2" rx="1.27" ry="0.37" fill="#93c9d2" opacity="0.79" transform="rotate(106 623.0 443.2)"/>
<ellipse cx="573.3" cy="458.0" rx="1.03" ry="0.58" fill="#7dbfcb" opacity="0.51" transform="rotate(114 573.3 458.0)"/>
<ellipse cx="644.0" cy="455.1" rx="1.52" ry="0.64" fill="#6cb4c2" opacity="0.60" transform="rotate(114 644.0 455.1)"/>
<ellipse cx="649.8" cy="440.2" rx="0.94" ry="0.45" fill="#93c9d2" opacity="0.67" transform="rotate(15 649.8 440.2)"/>
<ellipse cx="661.4" cy="430.4" rx="0.78" ry="0.43" fill="#6cb4c2" opacity="0.56" transform="rotate(76 661.4 430.4)"/>
<ellipse cx="573.5" cy="403.7" rx="1.62" ry="0.70" fill="#93c9d2" opacity="0.59" transform="rotate(64 573.5 403.7)"/>
<ellipse cx="597.0" cy="461.6" rx="1.65" ry="0.70" fill="#93c9d2" opacity="0.71" transform="rotate(55 597.0 461.6)"/>
<ellipse cx="655.5" cy="411.4" rx="1.43" ry="0.79" fill="#2c9fbb" opacity="0.99" transform="rotate(21 655.5 411.4)"/>
<ellipse cx="588.3" cy="460.7" rx="1.14" ry="0.51" fill="#93c9d2" opacity="0.75" transform="rotate(85 588.3 460.7)"/>
<ellipse cx="601.9" cy="447.8" rx="1.59" ry="0.63" fill="#2c9fbb" opacity="0.91" transform="rotate(8 601.9 447.8)"/>
<ellipse cx="576.8" cy="427.7" rx="1.60" ry="0.47" fill="#6cb4c2" opacity="0.64" transform="rotate(64 576.8 427.7)"/>
<ellipse cx="585.3" cy="459.5" rx="1.59" ry="0.55" fill="#7dbfcb" opacity="0.69" transform="rotate(172 585.3 459.5)"/>
<ellipse cx="602.0" cy="412.6" rx="1.57" ry="0.60" fill="#2c9fbb" opacity="0.82" transform="rotate(170 602.0 412.6)"/>
<ellipse cx="603.2" cy="400.0" rx="1.08" ry="0.48" fill="#93c9d2" opacity="0.79" transform="rotate(161 603.2 400.0)"/>
<ellipse cx="574.0" cy="441.0" rx="1.34" ry="0.65" fill="#2a9cb6" opacity="0.94" transform="rotate(141 574.0 441.0)"/>
<ellipse cx="649.9" cy="429.6" rx="1.43" ry="0.61" fill="#93c9d2" opacity="0.56" transform="rotate(75 649.9 429.6)"/>
<ellipse cx="627.5" cy="435.8" rx="1.64" ry="0.68" fill="#93c9d2" opacity="0.60" transform="rotate(90 627.5 435.8)"/>
<ellipse cx="601.4" cy="422.6" rx="0.89" ry="0.41" fill="#6cb4c2" opacity="0.62" transform="rotate(42 601.4 422.6)"/>
<ellipse cx="636.0" cy="448.4" rx="0.80" ry="0.35" fill="#7dbfcb" opacity="0.79" transform="rotate(57 636.0 448.4)"/>
<ellipse cx="595.0" cy="451.8" rx="1.52" ry="0.59" fill="#6cb4c2" opacity="0.66" transform="rotate(180 595.0 451.8)"/>
<ellipse cx="576.3" cy="414.9" rx="1.36" ry="0.34" fill="#7dbfcb" opacity="0.47" transform="rotate(155 576.3 414.9)"/>
<ellipse cx="608.4" cy="456.7" rx="1.80" ry="0.56" fill="#2690aa" opacity="0.96" transform="rotate(148 608.4 456.7)"/>
<ellipse cx="615.5" cy="455.6" rx="1.35" ry="0.75" fill="#2690aa" opacity="0.89" transform="rotate(51 615.5 455.6)"/>
<ellipse cx="620.1" cy="406.0" rx="1.45" ry="0.54" fill="#6cb4c2" opacity="0.59" transform="rotate(12 620.1 406.0)"/>
<ellipse cx="588.3" cy="431.3" rx="0.88" ry="0.77" fill="#2a9cb6" opacity="1.00" transform="rotate(45 588.3 431.3)"/>
<ellipse cx="639.9" cy="411.8" rx="1.52" ry="0.41" fill="#93c9d2" opacity="0.66" transform="rotate(132 639.9 411.8)"/>
<ellipse cx="586.7" cy="412.6" rx="1.12" ry="0.37" fill="#6cb4c2" opacity="0.45" transform="rotate(111 586.7 412.6)"/>
<ellipse cx="605.9" cy="456.0" rx="1.30" ry="0.56" fill="#6cb4c2" opacity="0.66" transform="rotate(52 605.9 456.0)"/>
<ellipse cx="653.9" cy="459.3" rx="1.43" ry="0.76" fill="#2690aa" opacity="0.77" transform="rotate(135 653.9 459.3)"/>
<ellipse cx="614.2" cy="415.0" rx="1.10" ry="0.82" fill="#2a9cb6" opacity="0.70" transform="rotate(144 614.2 415.0)"/>
<ellipse cx="630.3" cy="405.5" rx="0.79" ry="0.61" fill="#93c9d2" opacity="0.77" transform="rotate(9 630.3 405.5)"/>
<ellipse cx="578.3" cy="401.8" rx="1.25" ry="0.50" fill="#2c9fbb" opacity="0.91" transform="rotate(93 578.3 401.8)"/>
<ellipse cx="585.3" cy="447.1" rx="1.35" ry="0.81" fill="#2a9cb6" opacity="0.73" transform="rotate(174 585.3 447.1)"/>
<ellipse cx="575.0" cy="444.1" rx="1.00" ry="0.76" fill="#2a9cb6" opacity="0.82" transform="rotate(43 575.0 444.1)"/>
<ellipse cx="606.4" cy="404.7" rx="1.68" ry="0.47" fill="#93c9d2" opacity="0.48" transform="rotate(1 606.4 404.7)"/>
<ellipse cx="597.2" cy="423.9" rx="0.96" ry="0.38" fill="#93c9d2" opacity="0.46" transform="rotate(169 597.2 423.9)"/>
<ellipse cx="600.8" cy="456.4" rx="1.26" ry="0.55" fill="#2a9cb6" opacity="0.95" transform="rotate(7 600.8 456.4)"/>
<ellipse cx="637.6" cy="430.5" rx="0.68" ry="0.64" fill="#93c9d2" opacity="0.49" transform="rotate(4 637.6 430.5)"/>
<ellipse cx="599.2" cy="450.9" rx="1.19" ry="0.64" fill="#36a6be" opacity="1.00" transform="rotate(179 599.2 450.9)"/>
<ellipse cx="594.3" cy="467.8" rx="1.78" ry="0.57" fill="#2c9fbb" opacity="0.92" transform="rotate(52 594.3 467.8)"/>
<ellipse cx="575.1" cy="407.3" rx="1.04" ry="0.68" fill="#36a6be" opacity="0.98" transform="rotate(45 575.1 407.3)"/>
<ellipse cx="613.9" cy="411.0" rx="1.02" ry="0.54" fill="#2690aa" opacity="0.87" transform="rotate(82 613.9 411.0)"/>
<ellipse cx="662.7" cy="434.5" rx="1.60" ry="0.80" fill="#2a9cb6" opacity="0.92" transform="rotate(93 662.7 434.5)"/>
<ellipse cx="614.3" cy="402.0" rx="1.17" ry="0.51" fill="#6cb4c2" opacity="0.72" transform="rotate(30 614.3 402.0)"/>
<ellipse cx="645.2" cy="401.4" rx="1.17" ry="0.70" fill="#2a9cb6" opacity="0.74" transform="rotate(23 645.2 401.4)"/>
<ellipse cx="615.8" cy="447.1" rx="1.50" ry="0.47" fill="#7dbfcb" opacity="0.78" transform="rotate(7 615.8 447.1)"/>
<ellipse cx="644.4" cy="414.1" rx="1.66" ry="0.32" fill="#93c9d2" opacity="0.62" transform="rotate(148 644.4 414.1)"/>
<ellipse cx="591.5" cy="464.2" rx="0.63" ry="0.31" fill="#6cb4c2" opacity="0.59" transform="rotate(70 591.5 464.2)"/>
<ellipse cx="657.3" cy="406.1" rx="1.32" ry="0.61" fill="#2690aa" opacity="0.74" transform="rotate(111 657.3 406.1)"/>
<ellipse cx="615.1" cy="431.8" rx="0.72" ry="0.51" fill="#6cb4c2" opacity="0.78" transform="rotate(176 615.1 431.8)"/>
<ellipse cx="591.8" cy="453.0" rx="1.13" ry="0.56" fill="#93c9d2" opacity="0.52" transform="rotate(180 591.8 453.0)"/>
<ellipse cx="627.5" cy="446.7" rx="0.69" ry="0.65" fill="#6cb4c2" opacity="0.66" transform="rotate(124 627.5 446.7)"/>
<ellipse cx="637.0" cy="463.8" rx="1.27" ry="0.68" fill="#93c9d2" opacity="0.57" transform="rotate(123 637.0 463.8)"/>
<ellipse cx="628.1" cy="453.3" rx="1.44" ry="0.59" fill="#7dbfcb" opacity="0.45" transform="rotate(7 628.1 453.3)"/>
<ellipse cx="620.8" cy="433.1" rx="0.94" ry="0.41" fill="#7dbfcb" opacity="0.65" transform="rotate(20 620.8 433.1)"/>
<ellipse cx="657.8" cy="445.1" rx="0.92" ry="0.61" fill="#2c9fbb" opacity="0.81" transform="rotate(40 657.8 445.1)"/>
<ellipse cx="574.8" cy="431.3" rx="1.11" ry="0.81" fill="#2a9cb6" opacity="0.87" transform="rotate(175 574.8 431.3)"/>
<ellipse cx="577.2" cy="418.3" rx="1.31" ry="0.65" fill="#2a9cb6" opacity="0.98" transform="rotate(0 577.2 418.3)"/>
<ellipse cx="632.6" cy="403.3" rx="1.56" ry="0.60" fill="#6cb4c2" opacity="0.64" transform="rotate(136 632.6 403.3)"/>
<ellipse cx="652.6" cy="423.5" rx="0.88" ry="0.89" fill="#2690aa" opacity="0.80" transform="rotate(1 652.6 423.5)"/>
<ellipse cx="628.9" cy="412.0" rx="1.24" ry="0.30" fill="#6cb4c2" opacity="0.69" transform="rotate(18 628.9 412.0)"/>
<ellipse cx="616.8" cy="452.5" rx="1.08" ry="0.53" fill="#93c9d2" opacity="0.79" transform="rotate(160 616.8 452.5)"/>
<ellipse cx="586.9" cy="438.3" rx="0.90" ry="0.54" fill="#2690aa" opacity="1.00" transform="rotate(122 586.9 438.3)"/>
<ellipse cx="602.9" cy="424.7" rx="1.04" ry="0.42" fill="#6cb4c2" opacity="0.78" transform="rotate(36 602.9 424.7)"/>
<ellipse cx="581.6" cy="414.2" rx="0.72" ry="0.62" fill="#6cb4c2" opacity="0.67" transform="rotate(148 581.6 414.2)"/>
<ellipse cx="634.0" cy="413.6" rx="1.55" ry="0.54" fill="#93c9d2" opacity="0.78" transform="rotate(16 634.0 413.6)"/>
<ellipse cx="580.3" cy="412.1" rx="1.64" ry="0.49" fill="#6cb4c2" opacity="0.65" transform="rotate(15 580.3 412.1)"/>
<ellipse cx="658.9" cy="436.6" rx="1.36" ry="0.55" fill="#6cb4c2" opacity="0.72" transform="rotate(79 658.9 436.6)"/>
<ellipse cx="606.4" cy="416.9" rx="1.56" ry="0.57" fill="#93c9d2" opacity="0.70" transform="rotate(44 606.4 416.9)"/>
<ellipse cx="659.1" cy="461.6" rx="1.17" ry="0.60" fill="#36a6be" opacity="0.83" transform="rotate(162 659.1 461.6)"/>
<ellipse cx="644.3" cy="427.8" rx="0.90" ry="0.61" fill="#7dbfcb" opacity="0.73" transform="rotate(76 644.3 427.8)"/>
<ellipse cx="579.7" cy="432.6" rx="1.67" ry="0.61" fill="#6cb4c2" opacity="0.48" transform="rotate(170 579.7 432.6)"/>
<ellipse cx="600.2" cy="420.4" rx="1.55" ry="0.63" fill="#2690aa" opacity="0.88" transform="rotate(60 600.2 420.4)"/>
<ellipse cx="637.7" cy="456.7" rx="1.15" ry="0.43" fill="#93c9d2" opacity="0.55" transform="rotate(143 637.7 456.7)"/>
<ellipse cx="633.2" cy="426.5" rx="1.50" ry="0.51" fill="#6cb4c2" opacity="0.72" transform="rotate(109 633.2 426.5)"/>
<ellipse cx="654.9" cy="400.1" rx="1.62" ry="0.67" fill="#93c9d2" opacity="0.51" transform="rotate(1 654.9 400.1)"/>
<ellipse cx="581.9" cy="436.0" rx="1.35" ry="0.49" fill="#93c9d2" opacity="0.65" transform="rotate(18 581.9 436.0)"/>
<ellipse cx="596.0" cy="440.0" rx="0.68" ry="0.53" fill="#7dbfcb" opacity="0.59" transform="rotate(173 596.0 440.0)"/>
<ellipse cx="630.1" cy="438.5" rx="1.50" ry="0.33" fill="#93c9d2" opacity="0.55" transform="rotate(163 630.1 438.5)"/>
<ellipse cx="603.3" cy="445.7" rx="1.36" ry="0.54" fill="#93c9d2" opacity="0.58" transform="rotate(29 603.3 445.7)"/>
<ellipse cx="617.9" cy="453.6" rx="1.54" ry="0.90" fill="#2c9fbb" opacity="0.79" transform="rotate(32 617.9 453.6)"/>
<ellipse cx="611.3" cy="448.4" rx="1.63" ry="0.45" fill="#7dbfcb" opacity="0.56" transform="rotate(35 611.3 448.4)"/>
<ellipse cx="636.6" cy="462.7" rx="1.25" ry="0.71" fill="#2690aa" opacity="0.78" transform="rotate(43 636.6 462.7)"/>
<ellipse cx="641.3" cy="436.7" rx="1.24" ry="0.65" fill="#7dbfcb" opacity="0.57" transform="rotate(141 641.3 436.7)"/>
<ellipse cx="609.9" cy="460.5" rx="1.48" ry="0.68" fill="#6cb4c2" opacity="0.65" transform="rotate(8 609.9 460.5)"/>
<ellipse cx="637.2" cy="413.8" rx="0.99" ry="0.79" fill="#2690aa" opacity="0.93" transform="rotate(45 637.2 413.8)"/>
<ellipse cx="599.1" cy="443.8" rx="1.49" ry="0.76" fill="#2c9fbb" opacity="0.99" transform="rotate(5 599.1 443.8)"/>
<ellipse cx="590.3" cy="456.7" rx="1.16" ry="0.72" fill="#36a6be" opacity="0.81" transform="rotate(152 590.3 456.7)"/>
<ellipse cx="599.2" cy="427.5" rx="1.18" ry="0.56" fill="#93c9d2" opacity="0.59" transform="rotate(31 599.2 427.5)"/>
<ellipse cx="610.6" cy="465.2" rx="0.96" ry="0.54" fill="#2690aa" opacity="0.94" transform="rotate(83 610.6 465.2)"/>
<ellipse cx="647.4" cy="464.2" rx="1.09" ry="0.50" fill="#7dbfcb" opacity="0.76" transform="rotate(120 647.4 464.2)"/>
<ellipse cx="611.5" cy="443.3" rx="1.04" ry="0.67" fill="#6cb4c2" opacity="0.66" transform="rotate(157 611.5 443.3)"/>
<ellipse cx="583.9" cy="462.8" rx="1.34" ry="0.90" fill="#2c9fbb" opacity="0.91" transform="rotate(1 583.9 462.8)"/>
<ellipse cx="572.2" cy="456.4" rx="1.17" ry="0.83" fill="#2c9fbb" opacity="0.74" transform="rotate(103 572.2 456.4)"/>
<ellipse cx="577.1" cy="428.5" rx="1.54" ry="0.64" fill="#36a6be" opacity="0.90" transform="rotate(3 577.1 428.5)"/>
<ellipse cx="576.4" cy="428.4" rx="1.02" ry="0.43" fill="#6cb4c2" opacity="0.65" transform="rotate(36 576.4 428.4)"/>
<ellipse cx="583.9" cy="427.8" rx="1.01" ry="0.56" fill="#36a6be" opacity="0.80" transform="rotate(81 583.9 427.8)"/>
<ellipse cx="626.8" cy="445.3" rx="1.23" ry="0.51" fill="#7dbfcb" opacity="0.49" transform="rotate(141 626.8 445.3)"/>
<ellipse cx="610.3" cy="433.9" rx="0.68" ry="0.63" fill="#7dbfcb" opacity="0.54" transform="rotate(170 610.3 433.9)"/>
<ellipse cx="651.1" cy="435.6" rx="0.98" ry="0.87" fill="#2c9fbb" opacity="0.92" transform="rotate(43 651.1 435.6)"/>
<ellipse cx="616.6" cy="420.7" rx="1.20" ry="0.50" fill="#6cb4c2" opacity="0.49" transform="rotate(167 616.6 420.7)"/>
<ellipse cx="594.8" cy="465.8" rx="0.97" ry="0.37" fill="#7dbfcb" opacity="0.61" transform="rotate(175 594.8 465.8)"/>
<ellipse cx="637.8" cy="425.9" rx="0.97" ry="0.58" fill="#93c9d2" opacity="0.76" transform="rotate(24 637.8 425.9)"/>
<ellipse cx="621.1" cy="454.9" rx="1.50" ry="0.60" fill="#93c9d2" opacity="0.53" transform="rotate(150 621.1 454.9)"/>
<ellipse cx="584.6" cy="415.9" rx="1.68" ry="0.61" fill="#2a9cb6" opacity="0.95" transform="rotate(111 584.6 415.9)"/>
<ellipse cx="594.8" cy="465.3" rx="1.14" ry="0.59" fill="#93c9d2" opacity="0.68" transform="rotate(43 594.8 465.3)"/>
<ellipse cx="615.8" cy="409.7" rx="1.79" ry="0.81" fill="#2a9cb6" opacity="0.83" transform="rotate(47 615.8 409.7)"/>
<ellipse cx="654.5" cy="451.8" rx="1.64" ry="0.64" fill="#6cb4c2" opacity="0.75" transform="rotate(2 654.5 451.8)"/>
<ellipse cx="587.6" cy="449.4" rx="0.76" ry="0.39" fill="#7dbfcb" opacity="0.57" transform="rotate(141 587.6 449.4)"/>
<ellipse cx="573.0" cy="439.6" rx="0.81" ry="0.39" fill="#6cb4c2" opacity="0.57" transform="rotate(151 573.0 439.6)"/>
<ellipse cx="639.5" cy="420.2" rx="1.66" ry="0.51" fill="#7dbfcb" opacity="0.65" transform="rotate(158 639.5 420.2)"/>
<ellipse cx="642.3" cy="459.2" rx="1.03" ry="0.60" fill="#6cb4c2" opacity="0.49" transform="rotate(16 642.3 459.2)"/>
<ellipse cx="606.7" cy="427.6" rx="1.70" ry="0.70" fill="#2a9cb6" opacity="0.83" transform="rotate(127 606.7 427.6)"/>
<ellipse cx="587.0" cy="401.1" rx="1.08" ry="0.73" fill="#2c9fbb" opacity="0.97" transform="rotate(44 587.0 401.1)"/>
<ellipse cx="627.5" cy="406.4" rx="0.61" ry="0.63" fill="#7dbfcb" opacity="0.57" transform="rotate(155 627.5 406.4)"/>
<ellipse cx="573.1" cy="455.6" rx="1.18" ry="0.63" fill="#93c9d2" opacity="0.55" transform="rotate(9 573.1 455.6)"/>
<ellipse cx="590.9" cy="445.9" rx="1.40" ry="0.85" fill="#2c9fbb" opacity="0.98" transform="rotate(75 590.9 445.9)"/>
<ellipse cx="612.0" cy="424.8" rx="1.11" ry="0.65" fill="#7dbfcb" opacity="0.50" transform="rotate(74 612.0 424.8)"/>
<ellipse cx="591.4" cy="446.9" rx="1.05" ry="0.68" fill="#93c9d2" opacity="0.70" transform="rotate(22 591.4 446.9)"/>
<ellipse cx="594.5" cy="467.8" rx="1.69" ry="0.76" fill="#2690aa" opacity="0.71" transform="rotate(57 594.5 467.8)"/>
<ellipse cx="649.3" cy="402.6" rx="1.06" ry="0.54" fill="#2690aa" opacity="0.97" transform="rotate(131 649.3 402.6)"/>
<ellipse cx="583.8" cy="434.5" rx="1.53" ry="0.57" fill="#7dbfcb" opacity="0.49" transform="rotate(96 583.8 434.5)"/>
<ellipse cx="575.9" cy="419.1" rx="1.37" ry="0.35" fill="#6cb4c2" opacity="0.67" transform="rotate(162 575.9 419.1)"/>
<ellipse cx="629.9" cy="442.4" rx="1.41" ry="0.40" fill="#93c9d2" opacity="0.72" transform="rotate(114 629.9 442.4)"/>
<ellipse cx="577.1" cy="448.3" rx="0.92" ry="0.84" fill="#36a6be" opacity="0.97" transform="rotate(5 577.1 448.3)"/>
<ellipse cx="596.3" cy="433.8" rx="0.96" ry="0.63" fill="#2c9fbb" opacity="0.83" transform="rotate(22 596.3 433.8)"/>
<ellipse cx="632.2" cy="423.6" rx="1.51" ry="0.51" fill="#7dbfcb" opacity="0.66" transform="rotate(3 632.2 423.6)"/>
<ellipse cx="649.6" cy="438.4" rx="1.22" ry="0.87" fill="#36a6be" opacity="0.93" transform="rotate(153 649.6 438.4)"/>
<ellipse cx="649.7" cy="442.6" rx="0.82" ry="0.46" fill="#6cb4c2" opacity="0.50" transform="rotate(142 649.7 442.6)"/>
<ellipse cx="607.0" cy="422.3" rx="1.20" ry="0.54" fill="#6cb4c2" opacity="0.57" transform="rotate(175 607.0 422.3)"/>
<ellipse cx="582.1" cy="404.4" rx="1.15" ry="0.56" fill="#93c9d2" opacity="0.75" transform="rotate(107 582.1 404.4)"/>
<ellipse cx="599.6" cy="418.7" rx="0.90" ry="0.53" fill="#7dbfcb" opacity="0.52" transform="rotate(128 599.6 418.7)"/>
<ellipse cx="590.3" cy="431.1" rx="1.79" ry="0.71" fill="#2c9fbb" opacity="0.81" transform="rotate(81 590.3 431.1)"/>
<ellipse cx="637.0" cy="446.2" rx="1.65" ry="0.57" fill="#93c9d2" opacity="0.46" transform="rotate(180 637.0 446.2)"/>
<ellipse cx="614.7" cy="438.9" rx="1.41" ry="0.89" fill="#2690aa" opacity="0.73" transform="rotate(17 614.7 438.9)"/>
<ellipse cx="651.8" cy="464.7" rx="1.37" ry="0.44" fill="#93c9d2" opacity="0.46" transform="rotate(50 651.8 464.7)"/>
<ellipse cx="598.7" cy="436.7" rx="1.29" ry="0.61" fill="#36a6be" opacity="0.86" transform="rotate(53 598.7 436.7)"/>
<ellipse cx="616.0" cy="461.1" rx="1.14" ry="0.56" fill="#7dbfcb" opacity="0.68" transform="rotate(140 616.0 461.1)"/>
<ellipse cx="613.8" cy="415.6" rx="1.61" ry="0.30" fill="#7dbfcb" opacity="0.55" transform="rotate(110 613.8 415.6)"/>
<ellipse cx="623.5" cy="409.0" rx="1.65" ry="0.61" fill="#7dbfcb" opacity="0.60" transform="rotate(151 623.5 409.0)"/>
<ellipse cx="643.8" cy="447.6" rx="1.54" ry="0.55" fill="#7dbfcb" opacity="0.63" transform="rotate(106 643.8 447.6)"/>
<ellipse cx="662.5" cy="456.0" rx="1.63" ry="0.45" fill="#7dbfcb" opacity="0.76" transform="rotate(83 662.5 456.0)"/>
<ellipse cx="642.5" cy="426.7" rx="0.90" ry="0.56" fill="#7dbfcb" opacity="0.59" transform="rotate(84 642.5 426.7)"/>
<ellipse cx="607.8" cy="466.4" rx="1.13" ry="0.75" fill="#2c9fbb" opacity="0.72" transform="rotate(143 607.8 466.4)"/>
<ellipse cx="589.6" cy="403.4" rx="0.90" ry="0.55" fill="#36a6be" opacity="0.88" transform="rotate(116 589.6 403.4)"/>
<ellipse cx="571.1" cy="464.4" rx="1.20" ry="0.43" fill="#93c9d2" opacity="0.68" transform="rotate(38 571.1 464.4)"/>
<ellipse cx="594.6" cy="439.6" rx="1.60" ry="0.51" fill="#36a6be" opacity="0.97" transform="rotate(80 594.6 439.6)"/>
<ellipse cx="618.3" cy="414.3" rx="0.91" ry="0.45" fill="#6cb4c2" opacity="0.59" transform="rotate(92 618.3 414.3)"/>
<ellipse cx="637.5" cy="420.7" rx="1.19" ry="0.56" fill="#2690aa" opacity="0.91" transform="rotate(2 637.5 420.7)"/>
<ellipse cx="657.5" cy="436.2" rx="0.76" ry="0.69" fill="#6cb4c2" opacity="0.52" transform="rotate(61 657.5 436.2)"/>
<ellipse cx="618.8" cy="437.9" rx="1.78" ry="0.89" fill="#36a6be" opacity="0.75" transform="rotate(77 618.8 437.9)"/>
<ellipse cx="626.5" cy="401.1" rx="0.87" ry="0.46" fill="#93c9d2" opacity="0.76" transform="rotate(19 626.5 401.1)"/>
<ellipse cx="581.5" cy="434.6" rx="1.36" ry="0.70" fill="#2690aa" opacity="0.87" transform="rotate(27 581.5 434.6)"/>
<ellipse cx="599.0" cy="429.7" rx="1.43" ry="0.84" fill="#36a6be" opacity="0.75" transform="rotate(81 599.0 429.7)"/>
<ellipse cx="638.9" cy="416.3" rx="0.81" ry="0.71" fill="#2a9cb6" opacity="0.85" transform="rotate(147 638.9 416.3)"/>
<ellipse cx="636.0" cy="433.5" rx="1.31" ry="0.69" fill="#2a9cb6" opacity="0.76" transform="rotate(30 636.0 433.5)"/>
<ellipse cx="644.2" cy="437.8" rx="1.05" ry="0.40" fill="#93c9d2" opacity="0.69" transform="rotate(17 644.2 437.8)"/>
<ellipse cx="635.5" cy="433.9" rx="1.34" ry="0.42" fill="#6cb4c2" opacity="0.63" transform="rotate(95 635.5 433.9)"/>
<ellipse cx="587.6" cy="429.7" rx="1.42" ry="0.86" fill="#36a6be" opacity="0.84" transform="rotate(165 587.6 429.7)"/>
<ellipse cx="596.5" cy="413.4" rx="1.56" ry="0.87" fill="#2690aa" opacity="0.73" transform="rotate(156 596.5 413.4)"/>
<ellipse cx="619.0" cy="418.3" rx="0.90" ry="0.66" fill="#2a9cb6" opacity="0.87" transform="rotate(37 619.0 418.3)"/>
<ellipse cx="637.2" cy="403.4" rx="1.34" ry="0.49" fill="#6cb4c2" opacity="0.57" transform="rotate(170 637.2 403.4)"/>
<ellipse cx="593.2" cy="399.2" rx="1.03" ry="0.53" fill="#2690aa" opacity="0.92" transform="rotate(35 593.2 399.2)"/>
<ellipse cx="653.7" cy="426.5" rx="1.60" ry="0.75" fill="#2c9fbb" opacity="0.81" transform="rotate(16 653.7 426.5)"/>
<ellipse cx="579.8" cy="412.9" rx="1.29" ry="0.31" fill="#7dbfcb" opacity="0.58" transform="rotate(52 579.8 412.9)"/>
<ellipse cx="647.5" cy="399.2" rx="1.32" ry="0.55" fill="#36a6be" opacity="0.77" transform="rotate(94 647.5 399.2)"/>
<ellipse cx="594.1" cy="408.1" rx="0.99" ry="0.70" fill="#2c9fbb" opacity="0.82" transform="rotate(129 594.1 408.1)"/>
<ellipse cx="644.9" cy="400.6" rx="1.31" ry="0.38" fill="#7dbfcb" opacity="0.65" transform="rotate(109 644.9 400.6)"/>
<ellipse cx="603.9" cy="465.5" rx="1.14" ry="0.66" fill="#7dbfcb" opacity="0.65" transform="rotate(92 603.9 465.5)"/>
<ellipse cx="659.5" cy="459.4" rx="1.39" ry="0.57" fill="#2c9fbb" opacity="0.79" transform="rotate(89 659.5 459.4)"/>
<ellipse cx="644.1" cy="454.9" rx="1.47" ry="0.82" fill="#2c9fbb" opacity="0.77" transform="rotate(78 644.1 454.9)"/>
<ellipse cx="629.2" cy="452.6" rx="0.66" ry="0.65" fill="#6cb4c2" opacity="0.57" transform="rotate(134 629.2 452.6)"/>
<ellipse cx="620.5" cy="453.2" rx="1.00" ry="0.69" fill="#2a9cb6" opacity="0.86" transform="rotate(53 620.5 453.2)"/>
<ellipse cx="593.4" cy="440.0" rx="0.87" ry="0.79" fill="#2690aa" opacity="0.85" transform="rotate(91 593.4 440.0)"/>
<ellipse cx="613.0" cy="439.9" rx="0.99" ry="0.48" fill="#6cb4c2" opacity="0.65" transform="rotate(109 613.0 439.9)"/>
<ellipse cx="638.7" cy="402.1" rx="1.48" ry="0.67" fill="#2c9fbb" opacity="0.95" transform="rotate(60 638.7 402.1)"/>
<ellipse cx="645.4" cy="407.2" rx="1.54" ry="0.43" fill="#7dbfcb" opacity="0.54" transform="rotate(133 645.4 407.2)"/>
<ellipse cx="617.8" cy="415.0" rx="1.11" ry="0.51" fill="#93c9d2" opacity="0.78" transform="rotate(170 617.8 415.0)"/>
<ellipse cx="595.2" cy="464.2" rx="0.81" ry="0.38" fill="#6cb4c2" opacity="0.51" transform="rotate(103 595.2 464.2)"/>
<ellipse cx="619.3" cy="417.7" rx="1.60" ry="0.42" fill="#6cb4c2" opacity="0.79" transform="rotate(166 619.3 417.7)"/>
<ellipse cx="584.6" cy="444.2" rx="0.88" ry="0.53" fill="#93c9d2" opacity="0.54" transform="rotate(56 584.6 444.2)"/>
<ellipse cx="640.4" cy="412.9" rx="0.82" ry="0.70" fill="#36a6be" opacity="0.92" transform="rotate(32 640.4 412.9)"/>
<ellipse cx="572.5" cy="466.2" rx="1.12" ry="0.43" fill="#7dbfcb" opacity="0.47" transform="rotate(67 572.5 466.2)"/>
<ellipse cx="604.0" cy="432.2" rx="0.91" ry="0.66" fill="#36a6be" opacity="0.79" transform="rotate(11 604.0 432.2)"/>
<ellipse cx="620.0" cy="454.6" rx="1.44" ry="0.40" fill="#93c9d2" opacity="0.72" transform="rotate(109 620.0 454.6)"/>
<ellipse cx="659.5" cy="413.5" rx="1.18" ry="0.63" fill="#36a6be" opacity="0.89" transform="rotate(146 659.5 413.5)"/>
<ellipse cx="577.6" cy="451.6" rx="1.40" ry="0.39" fill="#93c9d2" opacity="0.48" transform="rotate(68 577.6 451.6)"/>
<ellipse cx="637.6" cy="405.0" rx="0.76" ry="0.52" fill="#6cb4c2" opacity="0.78" transform="rotate(29 637.6 405.0)"/>
<ellipse cx="636.5" cy="439.4" rx="1.47" ry="0.44" fill="#93c9d2" opacity="0.78" transform="rotate(19 636.5 439.4)"/>
<ellipse cx="573.1" cy="467.8" rx="1.14" ry="0.79" fill="#36a6be" opacity="0.95" transform="rotate(102 573.1 467.8)"/>
<ellipse cx="649.0" cy="414.6" rx="1.51" ry="0.54" fill="#6cb4c2" opacity="0.55" transform="rotate(113 649.0 414.6)"/>
<ellipse cx="654.0" cy="430.2" rx="0.83" ry="0.60" fill="#36a6be" opacity="0.90" transform="rotate(79 654.0 430.2)"/>
<ellipse cx="632.5" cy="459.9" rx="1.19" ry="0.51" fill="#93c9d2" opacity="0.72" transform="rotate(66 632.5 459.9)"/>
<ellipse cx="601.0" cy="435.1" rx="0.73" ry="0.43" fill="#93c9d2" opacity="0.64" transform="rotate(80 601.0 435.1)"/>
<ellipse cx="650.0" cy="458.8" rx="1.41" ry="0.35" fill="#93c9d2" opacity="0.65" transform="rotate(33 650.0 458.8)"/>
<ellipse cx="613.3" cy="402.6" rx="1.25" ry="0.83" fill="#2690aa" opacity="0.92" transform="rotate(22 613.3 402.6)"/>
<ellipse cx="586.5" cy="433.3" rx="1.57" ry="0.63" fill="#2690aa" opacity="0.74" transform="rotate(143 586.5 433.3)"/>
<ellipse cx="582.3" cy="414.2" rx="1.15" ry="0.68" fill="#6cb4c2" opacity="0.49" transform="rotate(102 582.3 414.2)"/>
<ellipse cx="593.0" cy="456.4" rx="0.64" ry="0.43" fill="#93c9d2" opacity="0.77" transform="rotate(103 593.0 456.4)"/>
<ellipse cx="640.5" cy="456.5" rx="1.22" ry="0.61" fill="#2a9cb6" opacity="0.88" transform="rotate(145 640.5 456.5)"/>
<ellipse cx="626.7" cy="414.7" rx="1.07" ry="0.87" fill="#2690aa" opacity="0.90" transform="rotate(53 626.7 414.7)"/>
<ellipse cx="601.4" cy="428.0" rx="0.61" ry="0.58" fill="#6cb4c2" opacity="0.78" transform="rotate(26 601.4 428.0)"/>
<ellipse cx="607.2" cy="430.4" rx="0.91" ry="0.55" fill="#2690aa" opacity="0.98" transform="rotate(69 607.2 430.4)"/>
<ellipse cx="614.6" cy="429.9" rx="1.10" ry="0.82" fill="#2a9cb6" opacity="0.78" transform="rotate(124 614.6 429.9)"/>
<ellipse cx="621.7" cy="410.7" rx="1.35" ry="0.82" fill="#2a9cb6" opacity="0.72" transform="rotate(156 621.7 410.7)"/>
<ellipse cx="640.8" cy="427.8" rx="1.40" ry="0.65" fill="#2c9fbb" opacity="0.83" transform="rotate(142 640.8 427.8)"/>
<ellipse cx="593.3" cy="446.5" rx="1.21" ry="0.56" fill="#2690aa" opacity="0.99" transform="rotate(156 593.3 446.5)"/>
<ellipse cx="573.0" cy="414.6" rx="0.98" ry="0.68" fill="#36a6be" opacity="0.85" transform="rotate(176 573.0 414.6)"/>
<ellipse cx="641.4" cy="432.3" rx="0.67" ry="0.36" fill="#6cb4c2" opacity="0.71" transform="rotate(34 641.4 432.3)"/>
<ellipse cx="634.3" cy="454.5" rx="1.10" ry="0.70" fill="#2690aa" opacity="0.91" transform="rotate(136 634.3 454.5)"/>
<ellipse cx="660.9" cy="399.9" rx="1.31" ry="0.80" fill="#36a6be" opacity="0.81" transform="rotate(92 660.9 399.9)"/>
<ellipse cx="632.1" cy="446.3" rx="1.38" ry="0.88" fill="#2a9cb6" opacity="0.89" transform="rotate(27 632.1 446.3)"/>
<ellipse cx="629.5" cy="436.3" rx="1.52" ry="0.45" fill="#93c9d2" opacity="0.69" transform="rotate(156 629.5 436.3)"/>
<ellipse cx="612.3" cy="411.3" rx="1.24" ry="0.68" fill="#2690aa" opacity="0.98" transform="rotate(87 612.3 411.3)"/>
<ellipse cx="641.9" cy="445.6" rx="0.91" ry="0.67" fill="#36a6be" opacity="0.82" transform="rotate(150 641.9 445.6)"/>
<ellipse cx="640.5" cy="455.9" rx="1.15" ry="0.68" fill="#6cb4c2" opacity="0.66" transform="rotate(172 640.5 455.9)"/>
<ellipse cx="587.2" cy="428.2" rx="1.50" ry="0.69" fill="#6cb4c2" opacity="0.73" transform="rotate(94 587.2 428.2)"/>
<ellipse cx="659.5" cy="444.0" rx="1.12" ry="0.42" fill="#6cb4c2" opacity="0.51" transform="rotate(151 659.5 444.0)"/>
<ellipse cx="656.0" cy="411.7" rx="1.11" ry="0.65" fill="#7dbfcb" opacity="0.48" transform="rotate(100 656.0 411.7)"/>
<ellipse cx="599.1" cy="463.4" rx="1.78" ry="0.54" fill="#2a9cb6" opacity="0.78" transform="rotate(123 599.1 463.4)"/>
<ellipse cx="585.0" cy="462.8" rx="1.41" ry="0.56" fill="#36a6be" opacity="0.98" transform="rotate(143 585.0 462.8)"/>
<ellipse cx="645.7" cy="422.2" rx="0.89" ry="0.61" fill="#93c9d2" opacity="0.69" transform="rotate(112 645.7 422.2)"/>
<ellipse cx="593.1" cy="467.4" rx="1.62" ry="0.84" fill="#2690aa" opacity="0.97" transform="rotate(149 593.1 467.4)"/>
<ellipse cx="630.9" cy="437.0" rx="0.98" ry="0.56" fill="#2690aa" opacity="0.78" transform="rotate(162 630.9 437.0)"/>
<ellipse cx="604.0" cy="464.7" rx="0.81" ry="0.81" fill="#2a9cb6" opacity="0.79" transform="rotate(10 604.0 464.7)"/>
<ellipse cx="604.6" cy="429.7" rx="1.02" ry="0.85" fill="#2690aa" opacity="0.72" transform="rotate(72 604.6 429.7)"/>
<ellipse cx="613.3" cy="438.5" rx="1.17" ry="0.66" fill="#2a9cb6" opacity="0.87" transform="rotate(10 613.3 438.5)"/>
<ellipse cx="625.8" cy="412.2" rx="1.54" ry="0.50" fill="#2a9cb6" opacity="0.85" transform="rotate(100 625.8 412.2)"/>
<ellipse cx="625.8" cy="460.8" rx="1.49" ry="0.34" fill="#6cb4c2" opacity="0.57" transform="rotate(107 625.8 460.8)"/>
<ellipse cx="574.3" cy="459.6" rx="1.18" ry="0.42" fill="#6cb4c2" opacity="0.53" transform="rotate(60 574.3 459.6)"/>
<ellipse cx="603.4" cy="436.9" rx="1.20" ry="0.85" fill="#36a6be" opacity="0.90" transform="rotate(90 603.4 436.9)"/>
<ellipse cx="631.9" cy="431.1" rx="0.98" ry="0.47" fill="#7dbfcb" opacity="0.74" transform="rotate(71 631.9 431.1)"/>
<ellipse cx="633.8" cy="454.5" rx="1.00" ry="0.87" fill="#2a9cb6" opacity="0.83" transform="rotate(95 633.8 454.5)"/>
<ellipse cx="589.9" cy="448.4" rx="1.40" ry="0.37" fill="#93c9d2" opacity="0.66" transform="rotate(74 589.9 448.4)"/>
<ellipse cx="621.0" cy="406.0" rx="1.73" ry="0.52" fill="#2a9cb6" opacity="0.76" transform="rotate(4 621.0 406.0)"/>
<ellipse cx="625.7" cy="423.5" rx="0.89" ry="0.52" fill="#6cb4c2" opacity="0.72" transform="rotate(2 625.7 423.5)"/>
<ellipse cx="578.5" cy="403.2" rx="1.74" ry="0.86" fill="#2c9fbb" opacity="0.74" transform="rotate(176 578.5 403.2)"/>
<ellipse cx="663.0" cy="401.9" rx="1.60" ry="0.77" fill="#36a6be" opacity="0.90" transform="rotate(122 663.0 401.9)"/>
<ellipse cx="611.1" cy="432.8" rx="1.07" ry="0.86" fill="#2690aa" opacity="0.78" transform="rotate(13 611.1 432.8)"/>
<ellipse cx="660.6" cy="409.1" rx="1.06" ry="0.57" fill="#2a9cb6" opacity="0.82" transform="rotate(167 660.6 409.1)"/>
<ellipse cx="571.2" cy="418.3" rx="1.02" ry="0.55" fill="#6cb4c2" opacity="0.54" transform="rotate(18 571.2 418.3)"/>
<ellipse cx="593.0" cy="416.0" rx="1.65" ry="0.67" fill="#7dbfcb" opacity="0.45" transform="rotate(78 593.0 416.0)"/>
<ellipse cx="654.1" cy="460.6" rx="1.30" ry="0.45" fill="#93c9d2" opacity="0.68" transform="rotate(148 654.1 460.6)"/>
<ellipse cx="597.1" cy="442.8" rx="1.32" ry="0.63" fill="#7dbfcb" opacity="0.60" transform="rotate(39 597.1 442.8)"/>
<ellipse cx="638.1" cy="414.9" rx="1.32" ry="0.90" fill="#36a6be" opacity="0.72" transform="rotate(15 638.1 414.9)"/>
<ellipse cx="605.2" cy="415.0" rx="0.81" ry="0.56" fill="#2a9cb6" opacity="0.73" transform="rotate(175 605.2 415.0)"/>
<ellipse cx="598.3" cy="430.0" rx="1.22" ry="0.70" fill="#6cb4c2" opacity="0.74" transform="rotate(44 598.3 430.0)"/>
<ellipse cx="582.7" cy="438.1" rx="1.78" ry="0.60" fill="#2690aa" opacity="0.77" transform="rotate(179 582.7 438.1)"/>
<ellipse cx="616.3" cy="445.8" rx="0.92" ry="0.41" fill="#93c9d2" opacity="0.66" transform="rotate(58 616.3 445.8)"/>
<ellipse cx="598.1" cy="410.9" rx="1.64" ry="0.65" fill="#6cb4c2" opacity="0.45" transform="rotate(34 598.1 410.9)"/>
<ellipse cx="600.1" cy="428.3" rx="0.61" ry="0.43" fill="#93c9d2" opacity="0.70" transform="rotate(62 600.1 428.3)"/>
<ellipse cx="616.6" cy="434.7" rx="1.30" ry="0.40" fill="#6cb4c2" opacity="0.79" transform="rotate(170 616.6 434.7)"/>
<ellipse cx="641.9" cy="434.4" rx="1.32" ry="0.65" fill="#2690aa" opacity="0.82" transform="rotate(86 641.9 434.4)"/>
<ellipse cx="654.1" cy="466.9" rx="1.50" ry="0.88" fill="#2c9fbb" opacity="0.77" transform="rotate(128 654.1 466.9)"/>
<ellipse cx="632.6" cy="400.4" rx="1.42" ry="0.56" fill="#36a6be" opacity="0.94" transform="rotate(163 632.6 400.4)"/>
<ellipse cx="613.5" cy="447.5" rx="0.83" ry="0.84" fill="#2a9cb6" opacity="0.77" transform="rotate(127 613.5 447.5)"/>
<ellipse cx="618.1" cy="439.5" rx="0.76" ry="0.61" fill="#6cb4c2" opacity="0.71" transform="rotate(177 618.1 439.5)"/>
<ellipse cx="584.4" cy="460.9" rx="0.69" ry="0.40" fill="#93c9d2" opacity="0.56" transform="rotate(15 584.4 460.9)"/>
<ellipse cx="612.5" cy="437.5" rx="1.01" ry="0.41" fill="#6cb4c2" opacity="0.70" transform="rotate(8 612.5 437.5)"/>
<ellipse cx="583.5" cy="403.7" rx="1.42" ry="0.78" fill="#2a9cb6" opacity="0.96" transform="rotate(6 583.5 403.7)"/>
<ellipse cx="662.2" cy="406.4" rx="1.79" ry="0.81" fill="#36a6be" opacity="0.70" transform="rotate(130 662.2 406.4)"/>
<ellipse cx="604.5" cy="412.3" rx="1.25" ry="0.33" fill="#93c9d2" opacity="0.66" transform="rotate(165 604.5 412.3)"/>
<ellipse cx="575.4" cy="414.8" rx="1.03" ry="0.66" fill="#93c9d2" opacity="0.63" transform="rotate(12 575.4 414.8)"/>
<ellipse cx="650.5" cy="405.3" rx="1.57" ry="0.86" fill="#2c9fbb" opacity="0.81" transform="rotate(35 650.5 405.3)"/>
<ellipse cx="584.8" cy="423.0" rx="1.34" ry="0.66" fill="#2690aa" opacity="0.95" transform="rotate(26 584.8 423.0)"/>
<ellipse cx="581.0" cy="458.9" rx="1.41" ry="0.52" fill="#2a9cb6" opacity="0.93" transform="rotate(127 581.0 458.9)"/>
<ellipse cx="632.3" cy="467.4" rx="1.43" ry="0.52" fill="#93c9d2" opacity="0.61" transform="rotate(123 632.3 467.4)"/>
<ellipse cx="576.8" cy="434.7" rx="1.65" ry="0.59" fill="#6cb4c2" opacity="0.51" transform="rotate(48 576.8 434.7)"/>
<ellipse cx="651.2" cy="408.1" rx="0.98" ry="0.81" fill="#36a6be" opacity="0.90" transform="rotate(53 651.2 408.1)"/>
<ellipse cx="622.8" cy="447.1" rx="0.97" ry="0.58" fill="#2690aa" opacity="0.98" transform="rotate(112 622.8 447.1)"/>
<ellipse cx="608.1" cy="411.9" rx="1.37" ry="0.82" fill="#2690aa" opacity="0.77" transform="rotate(177 608.1 411.9)"/>
<ellipse cx="582.7" cy="428.7" rx="1.45" ry="0.48" fill="#93c9d2" opacity="0.57" transform="rotate(155 582.7 428.7)"/>
<ellipse cx="656.0" cy="407.6" rx="0.60" ry="0.33" fill="#6cb4c2" opacity="0.74" transform="rotate(3 656.0 407.6)"/>
<ellipse cx="619.2" cy="423.7" rx="1.55" ry="0.65" fill="#6cb4c2" opacity="0.54" transform="rotate(107 619.2 423.7)"/>
<ellipse cx="577.0" cy="464.5" rx="1.03" ry="0.64" fill="#2a9cb6" opacity="0.85" transform="rotate(49 577.0 464.5)"/>
<ellipse cx="661.0" cy="440.3" rx="1.28" ry="0.59" fill="#2a9cb6" opacity="0.78" transform="rotate(27 661.0 440.3)"/>
<ellipse cx="589.5" cy="467.7" rx="1.01" ry="0.69" fill="#93c9d2" opacity="0.59" transform="rotate(21 589.5 467.7)"/>
<ellipse cx="625.4" cy="417.3" rx="0.93" ry="0.44" fill="#93c9d2" opacity="0.55" transform="rotate(111 625.4 417.3)"/>
<ellipse cx="617.0" cy="409.3" rx="1.00" ry="0.78" fill="#2a9cb6" opacity="0.98" transform="rotate(12 617.0 409.3)"/>
<ellipse cx="643.3" cy="433.9" rx="0.92" ry="0.40" fill="#93c9d2" opacity="0.66" transform="rotate(50 643.3 433.9)"/>
<ellipse cx="657.7" cy="454.6" rx="1.66" ry="0.39" fill="#6cb4c2" opacity="0.62" transform="rotate(72 657.7 454.6)"/>
<ellipse cx="606.4" cy="403.5" rx="1.23" ry="0.46" fill="#93c9d2" opacity="0.51" transform="rotate(162 606.4 403.5)"/>
<ellipse cx="644.3" cy="456.9" rx="1.43" ry="0.64" fill="#2a9cb6" opacity="0.91" transform="rotate(15 644.3 456.9)"/>
<ellipse cx="636.4" cy="452.2" rx="0.98" ry="0.65" fill="#36a6be" opacity="0.76" transform="rotate(36 636.4 452.2)"/>
<ellipse cx="571.4" cy="467.6" rx="1.48" ry="0.31" fill="#93c9d2" opacity="0.49" transform="rotate(46 571.4 467.6)"/>
<ellipse cx="659.8" cy="462.3" rx="1.48" ry="0.34" fill="#6cb4c2" opacity="0.66" transform="rotate(70 659.8 462.3)"/>
<ellipse cx="624.3" cy="454.5" rx="1.21" ry="0.71" fill="#2690aa" opacity="0.93" transform="rotate(53 624.3 454.5)"/>
<ellipse cx="646.5" cy="401.0" rx="1.43" ry="0.68" fill="#36a6be" opacity="0.82" transform="rotate(180 646.5 401.0)"/>
</g>
<rect x="571.00" y="399.10" width="92.80" height="69.20" fill="none" stroke="#6c6c6c" stroke-width="0.7"/>
<rect x="651.20" y="463.00" width="11.40" height="2.80" fill="#111" />
<text x="272.70" y="436.59" font-size="7.2" fill="#3a3a3a" text-anchor="middle" textLength="56.00" lengthAdjust="spacingAndGlyphs" transform="rotate(-90 272.70 434.00)">SA-β-Gal activity</text>
<text x="263.1" y="492.6" font-size="13.5" font-weight="bold" fill="#111" stroke="#111" stroke-width="0.35">h</text>
<text x="266.40" y="505.46" font-size="7.4" fill="#3a3a3a" textLength="25.40" lengthAdjust="spacingAndGlyphs">Ac-LDL:</text>
<rect x="280.40" y="509.40" width="80.20" height="80.00" fill="#fff" stroke="#9a9a9a" stroke-width="0.6" />
<line x1="285.40" y1="589.40" x2="285.40" y2="590.60" stroke="#bbb" stroke-width="0.5" />
<line x1="295.43" y1="589.40" x2="295.43" y2="590.60" stroke="#bbb" stroke-width="0.5" />
<line x1="305.46" y1="589.40" x2="305.46" y2="590.60" stroke="#bbb" stroke-width="0.5" />
<line x1="315.49" y1="589.40" x2="315.49" y2="590.60" stroke="#bbb" stroke-width="0.5" />
<line x1="325.51" y1="589.40" x2="325.51" y2="590.60" stroke="#bbb" stroke-width="0.5" />
<line x1="335.54" y1="589.40" x2="335.54" y2="590.60" stroke="#bbb" stroke-width="0.5" />
<line x1="345.57" y1="589.40" x2="345.57" y2="590.60" stroke="#bbb" stroke-width="0.5" />
<line x1="355.60" y1="589.40" x2="355.60" y2="590.60" stroke="#bbb" stroke-width="0.5" />
<ellipse cx="318.40" cy="551.50" rx="17.60" ry="14.45" fill="none" stroke="#9a9a9a" stroke-width="0.3"/>
<ellipse cx="318.40" cy="551.50" rx="14.08" ry="11.56" fill="none" stroke="#9a9a9a" stroke-width="0.3"/>
<ellipse cx="318.40" cy="551.50" rx="10.56" ry="8.67" fill="none" stroke="#9a9a9a" stroke-width="0.3"/>
<ellipse cx="318.40" cy="551.50" rx="7.04" ry="5.78" fill="none" stroke="#9a9a9a" stroke-width="0.3"/>
<ellipse cx="318.40" cy="551.50" rx="3.52" ry="2.89" fill="none" stroke="#9a9a9a" stroke-width="0.3"/>
<ellipse cx="305.60" cy="552.50" rx="5.75" ry="20.00" fill="rgb(190,190,190)" stroke="#222" stroke-width="0.3"/>
<ellipse cx="305.40" cy="552.50" rx="5.23" ry="18.18" fill="rgb(175,175,175)" stroke="#222" stroke-width="0.3"/>
<ellipse cx="305.20" cy="552.50" rx="4.70" ry="16.36" fill="rgb(160,160,160)" stroke="#222" stroke-width="0.3"/>
<ellipse cx="305.00" cy="552.50" rx="4.18" ry="14.55" fill="rgb(145,145,145)" stroke="#222" stroke-width="0.3"/>
<ellipse cx="304.80" cy="552.50" rx="3.66" ry="12.73" fill="rgb(130,130,130)" stroke="#222" stroke-width="0.3"/>
<ellipse cx="304.60" cy="552.50" rx="3.14" ry="10.91" fill="rgb(115,115,115)" stroke="#222" stroke-width="0.3"/>
<ellipse cx="304.40" cy="552.50" rx="2.61" ry="9.09" fill="rgb(100,100,100)" stroke="#222" stroke-width="0.3"/>
<ellipse cx="304.20" cy="552.50" rx="2.09" ry="7.27" fill="rgb(85,85,85)" stroke="#222" stroke-width="0.3"/>
<ellipse cx="304.00" cy="552.50" rx="1.57" ry="5.45" fill="rgb(70,70,70)" stroke="#222" stroke-width="0.3"/>
<ellipse cx="303.80" cy="552.50" rx="1.05" ry="3.64" fill="rgb(55,55,55)" stroke="#222" stroke-width="0.3"/>
<circle cx="318.21" cy="534.68" r="0.75" fill="#111" />
<circle cx="334.62" cy="548.12" r="0.75" fill="#111" />
<circle cx="316.95" cy="530.97" r="0.75" fill="#111" />
<circle cx="307.58" cy="534.57" r="0.75" fill="#111" />
<circle cx="327.13" cy="536.13" r="0.75" fill="#111" />
<circle cx="333.33" cy="554.55" r="0.75" fill="#111" />
<circle cx="323.44" cy="539.28" r="0.75" fill="#111" />
<circle cx="335.55" cy="552.81" r="0.75" fill="#111" />
<circle cx="322.71" cy="541.67" r="0.75" fill="#111" />
<circle cx="332.66" cy="555.36" r="0.75" fill="#111" />
<circle cx="308.96" cy="569.49" r="0.75" fill="#111" />
<circle cx="331.10" cy="564.96" r="0.75" fill="#111" />
<circle cx="319.70" cy="565.46" r="0.75" fill="#111" />
<circle cx="317.49" cy="565.95" r="0.75" fill="#111" />
<circle cx="312.73" cy="534.92" r="0.75" fill="#111" />
<circle cx="332.89" cy="554.20" r="0.75" fill="#111" />
<circle cx="328.52" cy="546.72" r="0.75" fill="#111" />
<circle cx="328.18" cy="547.46" r="0.75" fill="#111" />
<circle cx="309.64" cy="536.54" r="0.75" fill="#111" />
<circle cx="317.87" cy="538.37" r="0.75" fill="#111" />
<circle cx="320.87" cy="562.83" r="0.75" fill="#111" />
<circle cx="311.68" cy="571.47" r="0.75" fill="#111" />
<circle cx="321.41" cy="545.51" r="0.75" fill="#111" />
<circle cx="322.47" cy="566.60" r="0.75" fill="#111" />
<circle cx="320.25" cy="564.57" r="0.75" fill="#111" />
<circle cx="317.77" cy="568.57" r="0.75" fill="#111" />
<circle cx="330.30" cy="552.17" r="0.75" fill="#111" />
<circle cx="332.69" cy="559.53" r="0.75" fill="#111" />
<circle cx="311.32" cy="533.97" r="0.75" fill="#111" />
<circle cx="321.75" cy="563.59" r="0.75" fill="#111" />
<circle cx="326.32" cy="539.09" r="0.75" fill="#111" />
<circle cx="309.85" cy="534.72" r="0.75" fill="#111" />
<circle cx="315.70" cy="537.85" r="0.75" fill="#111" />
<circle cx="333.58" cy="554.64" r="0.75" fill="#111" />
<circle cx="325.99" cy="562.19" r="0.75" fill="#111" />
<circle cx="330.80" cy="546.47" r="0.75" fill="#111" />
<circle cx="316.77" cy="534.51" r="0.75" fill="#111" />
<circle cx="323.50" cy="569.61" r="0.75" fill="#111" />
<circle cx="318.65" cy="536.71" r="0.75" fill="#111" />
<circle cx="329.09" cy="556.72" r="0.75" fill="#111" />
<circle cx="321.73" cy="565.01" r="0.75" fill="#111" />
<circle cx="329.46" cy="557.34" r="0.75" fill="#111" />
<circle cx="314.84" cy="537.68" r="0.75" fill="#111" />
<circle cx="317.61" cy="568.89" r="0.75" fill="#111" />
<circle cx="325.00" cy="565.46" r="0.75" fill="#111" />
<circle cx="312.42" cy="533.43" r="0.75" fill="#111" />
<circle cx="335.97" cy="558.11" r="0.75" fill="#111" />
<circle cx="331.48" cy="553.50" r="0.75" fill="#111" />
<circle cx="321.55" cy="539.38" r="0.75" fill="#111" />
<circle cx="330.18" cy="562.76" r="0.75" fill="#111" />
<circle cx="331.15" cy="542.07" r="0.75" fill="#111" />
<circle cx="330.77" cy="543.11" r="0.75" fill="#111" />
<circle cx="331.59" cy="544.47" r="0.75" fill="#111" />
<circle cx="326.18" cy="545.26" r="0.75" fill="#111" />
<circle cx="334.54" cy="551.50" r="0.75" fill="#111" />
<circle cx="320.74" cy="537.85" r="0.75" fill="#111" />
<circle cx="321.49" cy="562.49" r="0.75" fill="#111" />
<circle cx="329.73" cy="539.97" r="0.75" fill="#111" />
<circle cx="311.90" cy="569.94" r="0.75" fill="#111" />
<circle cx="313.06" cy="536.53" r="0.75" fill="#111" />
<circle cx="323.42" cy="566.06" r="0.75" fill="#111" />
<circle cx="327.61" cy="546.49" r="0.75" fill="#111" />
<circle cx="316.29" cy="534.56" r="0.75" fill="#111" />
<circle cx="329.90" cy="551.77" r="0.75" fill="#111" />
<circle cx="322.85" cy="570.56" r="0.75" fill="#111" />
<circle cx="317.85" cy="569.44" r="0.75" fill="#111" />
<circle cx="309.89" cy="568.89" r="0.75" fill="#111" />
<circle cx="328.46" cy="566.81" r="0.75" fill="#111" />
<circle cx="335.83" cy="543.93" r="0.75" fill="#111" />
<circle cx="335.51" cy="551.77" r="0.75" fill="#111" />
<rect x="310.70" y="523.40" width="45.90" height="53.70" fill="none" stroke="#222" stroke-width="0.7" />
<text x="333.65" y="517.40" font-size="3.9" fill="#444" text-anchor="middle">Cells S phase (EdU<tspan font-size="2.6" dy="-1.2">+</tspan><tspan dy="1.2">) (%)</tspan></text>
<text x="332.65" y="522.78" font-size="4.4" fill="#444" text-anchor="middle">10.7</text>
<text x="319.20" y="506.36" font-size="7.4" fill="#3a3a3a" text-anchor="middle" textLength="22.20" lengthAdjust="spacingAndGlyphs">0 days</text>
<rect x="364.50" y="509.40" width="80.40" height="80.00" fill="#fff" stroke="#9a9a9a" stroke-width="0.6" />
<line x1="369.50" y1="589.40" x2="369.50" y2="590.60" stroke="#bbb" stroke-width="0.5" />
<line x1="379.56" y1="589.40" x2="379.56" y2="590.60" stroke="#bbb" stroke-width="0.5" />
<line x1="389.61" y1="589.40" x2="389.61" y2="590.60" stroke="#bbb" stroke-width="0.5" />
<line x1="399.67" y1="589.40" x2="399.67" y2="590.60" stroke="#bbb" stroke-width="0.5" />
<line x1="409.73" y1="589.40" x2="409.73" y2="590.60" stroke="#bbb" stroke-width="0.5" />
<line x1="419.79" y1="589.40" x2="419.79" y2="590.60" stroke="#bbb" stroke-width="0.5" />
<line x1="429.84" y1="589.40" x2="429.84" y2="590.60" stroke="#bbb" stroke-width="0.5" />
<line x1="439.90" y1="589.40" x2="439.90" y2="590.60" stroke="#bbb" stroke-width="0.5" />
<ellipse cx="397.10" cy="554.50" rx="6.40" ry="16.15" fill="none" stroke="#9a9a9a" stroke-width="0.3"/>
<ellipse cx="397.10" cy="554.50" rx="5.12" ry="12.92" fill="none" stroke="#9a9a9a" stroke-width="0.3"/>
<ellipse cx="397.10" cy="554.50" rx="3.84" ry="9.69" fill="none" stroke="#9a9a9a" stroke-width="0.3"/>
<ellipse cx="397.10" cy="554.50" rx="2.56" ry="6.46" fill="none" stroke="#9a9a9a" stroke-width="0.3"/>
<ellipse cx="397.10" cy="554.50" rx="1.28" ry="3.23" fill="none" stroke="#9a9a9a" stroke-width="0.3"/>
<ellipse cx="388.00" cy="555.50" rx="6.75" ry="22.00" fill="rgb(190,190,190)" stroke="#222" stroke-width="0.3"/>
<ellipse cx="387.80" cy="555.50" rx="6.14" ry="20.00" fill="rgb(175,175,175)" stroke="#222" stroke-width="0.3"/>
<ellipse cx="387.60" cy="555.50" rx="5.52" ry="18.00" fill="rgb(160,160,160)" stroke="#222" stroke-width="0.3"/>
<ellipse cx="387.40" cy="555.50" rx="4.91" ry="16.00" fill="rgb(145,145,145)" stroke="#222" stroke-width="0.3"/>
<ellipse cx="387.20" cy="555.50" rx="4.30" ry="14.00" fill="rgb(130,130,130)" stroke="#222" stroke-width="0.3"/>
<ellipse cx="387.00" cy="555.50" rx="3.68" ry="12.00" fill="rgb(115,115,115)" stroke="#222" stroke-width="0.3"/>
<ellipse cx="386.80" cy="555.50" rx="3.07" ry="10.00" fill="rgb(100,100,100)" stroke="#222" stroke-width="0.3"/>
<ellipse cx="386.60" cy="555.50" rx="2.45" ry="8.00" fill="rgb(85,85,85)" stroke="#222" stroke-width="0.3"/>
<ellipse cx="386.40" cy="555.50" rx="1.84" ry="6.00" fill="rgb(70,70,70)" stroke="#222" stroke-width="0.3"/>
<ellipse cx="386.20" cy="555.50" rx="1.23" ry="4.00" fill="rgb(55,55,55)" stroke="#222" stroke-width="0.3"/>
<circle cx="394.70" cy="576.51" r="0.75" fill="#111" />
<circle cx="400.30" cy="569.85" r="0.75" fill="#111" />
<circle cx="400.22" cy="561.69" r="0.75" fill="#111" />
<circle cx="402.17" cy="545.67" r="0.75" fill="#111" />
<circle cx="394.63" cy="572.04" r="0.75" fill="#111" />
<circle cx="393.65" cy="536.04" r="0.75" fill="#111" />
<circle cx="401.90" cy="546.75" r="0.75" fill="#111" />
<circle cx="394.04" cy="537.51" r="0.75" fill="#111" />
<circle cx="403.72" cy="556.96" r="0.75" fill="#111" />
<circle cx="399.58" cy="573.25" r="0.75" fill="#111" />
<circle cx="398.87" cy="572.48" r="0.75" fill="#111" />
<circle cx="397.67" cy="537.73" r="0.75" fill="#111" />
<circle cx="400.97" cy="554.25" r="0.75" fill="#111" />
<circle cx="396.69" cy="572.65" r="0.75" fill="#111" />
<circle cx="396.20" cy="572.28" r="0.75" fill="#111" />
<circle cx="401.68" cy="555.43" r="0.75" fill="#111" />
<circle cx="402.95" cy="568.52" r="0.75" fill="#111" />
<circle cx="403.66" cy="541.01" r="0.75" fill="#111" />
<circle cx="400.79" cy="555.13" r="0.75" fill="#111" />
<circle cx="396.72" cy="540.55" r="0.75" fill="#111" />
<circle cx="403.77" cy="564.28" r="0.75" fill="#111" />
<circle cx="397.38" cy="543.20" r="0.75" fill="#111" />
<circle cx="401.77" cy="564.88" r="0.75" fill="#111" />
<circle cx="402.32" cy="556.38" r="0.75" fill="#111" />
<circle cx="398.74" cy="538.46" r="0.75" fill="#111" />
<circle cx="401.83" cy="548.43" r="0.75" fill="#111" />
<circle cx="395.78" cy="536.33" r="0.75" fill="#111" />
<circle cx="399.86" cy="541.64" r="0.75" fill="#111" />
<circle cx="397.38" cy="542.07" r="0.75" fill="#111" />
<circle cx="398.55" cy="536.58" r="0.75" fill="#111" />
<circle cx="401.31" cy="562.46" r="0.75" fill="#111" />
<circle cx="402.52" cy="550.89" r="0.75" fill="#111" />
<circle cx="394.61" cy="573.87" r="0.75" fill="#111" />
<circle cx="398.20" cy="541.86" r="0.75" fill="#111" />
<circle cx="396.35" cy="542.10" r="0.75" fill="#111" />
<circle cx="402.21" cy="548.10" r="0.75" fill="#111" />
<circle cx="395.76" cy="574.17" r="0.75" fill="#111" />
<circle cx="402.41" cy="559.38" r="0.75" fill="#111" />
<circle cx="394.80" cy="535.33" r="0.75" fill="#111" />
<circle cx="396.43" cy="571.41" r="0.75" fill="#111" />
<circle cx="399.13" cy="541.09" r="0.75" fill="#111" />
<circle cx="398.10" cy="569.39" r="0.75" fill="#111" />
<circle cx="401.94" cy="551.56" r="0.75" fill="#111" />
<circle cx="396.48" cy="536.16" r="0.75" fill="#111" />
<circle cx="396.83" cy="536.59" r="0.75" fill="#111" />
<circle cx="402.96" cy="554.01" r="0.75" fill="#111" />
<circle cx="398.98" cy="535.92" r="0.75" fill="#111" />
<circle cx="401.05" cy="556.01" r="0.75" fill="#111" />
<circle cx="401.35" cy="551.98" r="0.75" fill="#111" />
<circle cx="400.60" cy="546.15" r="0.75" fill="#111" />
<rect x="394.30" y="523.40" width="45.90" height="53.70" fill="none" stroke="#222" stroke-width="0.7" />
<text x="417.25" y="517.40" font-size="3.9" fill="#444" text-anchor="middle">Cells S phase (EdU<tspan font-size="2.6" dy="-1.2">+</tspan><tspan dy="1.2">) (%)</tspan></text>
<text x="416.25" y="522.78" font-size="4.4" fill="#444" text-anchor="middle">6.27</text>
<text x="406.70" y="506.36" font-size="7.4" fill="#3a3a3a" text-anchor="middle" textLength="22.30" lengthAdjust="spacingAndGlyphs">3 days</text>
<rect x="448.60" y="509.40" width="80.20" height="80.00" fill="#fff" stroke="#9a9a9a" stroke-width="0.6" />
<line x1="453.60" y1="589.40" x2="453.60" y2="590.60" stroke="#bbb" stroke-width="0.5" />
<line x1="463.63" y1="589.40" x2="463.63" y2="590.60" stroke="#bbb" stroke-width="0.5" />
<line x1="473.66" y1="589.40" x2="473.66" y2="590.60" stroke="#bbb" stroke-width="0.5" />
<line x1="483.69" y1="589.40" x2="483.69" y2="590.60" stroke="#bbb" stroke-width="0.5" />
<line x1="493.71" y1="589.40" x2="493.71" y2="590.60" stroke="#bbb" stroke-width="0.5" />
<line x1="503.74" y1="589.40" x2="503.74" y2="590.60" stroke="#bbb" stroke-width="0.5" />
<line x1="513.77" y1="589.40" x2="513.77" y2="590.60" stroke="#bbb" stroke-width="0.5" />
<line x1="523.80" y1="589.40" x2="523.80" y2="590.60" stroke="#bbb" stroke-width="0.5" />
<ellipse cx="481.70" cy="553.00" rx="4.80" ry="13.60" fill="none" stroke="#9a9a9a" stroke-width="0.3"/>
<ellipse cx="481.70" cy="553.00" rx="3.84" ry="10.88" fill="none" stroke="#9a9a9a" stroke-width="0.3"/>
<ellipse cx="481.70" cy="553.00" rx="2.88" ry="8.16" fill="none" stroke="#9a9a9a" stroke-width="0.3"/>
<ellipse cx="481.70" cy="553.00" rx="1.92" ry="5.44" fill="none" stroke="#9a9a9a" stroke-width="0.3"/>
<ellipse cx="481.70" cy="553.00" rx="0.96" ry="2.72" fill="none" stroke="#9a9a9a" stroke-width="0.3"/>
<ellipse cx="473.40" cy="554.00" rx="7.50" ry="18.50" fill="rgb(190,190,190)" stroke="#222" stroke-width="0.3"/>
<ellipse cx="473.20" cy="554.00" rx="6.82" ry="16.82" fill="rgb(175,175,175)" stroke="#222" stroke-width="0.3"/>
<ellipse cx="473.00" cy="554.00" rx="6.14" ry="15.14" fill="rgb(160,160,160)" stroke="#222" stroke-width="0.3"/>
<ellipse cx="472.80" cy="554.00" rx="5.45" ry="13.45" fill="rgb(145,145,145)" stroke="#222" stroke-width="0.3"/>
<ellipse cx="472.60" cy="554.00" rx="4.77" ry="11.77" fill="rgb(130,130,130)" stroke="#222" stroke-width="0.3"/>
<ellipse cx="472.40" cy="554.00" rx="4.09" ry="10.09" fill="rgb(115,115,115)" stroke="#222" stroke-width="0.3"/>
<ellipse cx="472.20" cy="554.00" rx="3.41" ry="8.41" fill="rgb(100,100,100)" stroke="#222" stroke-width="0.3"/>
<ellipse cx="472.00" cy="554.00" rx="2.73" ry="6.73" fill="rgb(85,85,85)" stroke="#222" stroke-width="0.3"/>
<ellipse cx="471.80" cy="554.00" rx="2.05" ry="5.05" fill="rgb(70,70,70)" stroke="#222" stroke-width="0.3"/>
<ellipse cx="471.60" cy="554.00" rx="1.36" ry="3.36" fill="rgb(55,55,55)" stroke="#222" stroke-width="0.3"/>
<circle cx="482.83" cy="542.25" r="0.75" fill="#111" />
<circle cx="481.82" cy="539.88" r="0.75" fill="#111" />
<circle cx="486.58" cy="540.60" r="0.75" fill="#111" />
<circle cx="485.54" cy="552.34" r="0.75" fill="#111" />
<circle cx="484.83" cy="561.54" r="0.75" fill="#111" />
<circle cx="480.27" cy="539.89" r="0.75" fill="#111" />
<circle cx="485.77" cy="540.64" r="0.75" fill="#111" />
<circle cx="481.11" cy="567.95" r="0.75" fill="#111" />
<circle cx="484.65" cy="549.83" r="0.75" fill="#111" />
<circle cx="481.23" cy="540.38" r="0.75" fill="#111" />
<circle cx="480.18" cy="567.21" r="0.75" fill="#111" />
<circle cx="485.30" cy="548.14" r="0.75" fill="#111" />
<circle cx="485.55" cy="560.49" r="0.75" fill="#111" />
<circle cx="479.06" cy="567.92" r="0.75" fill="#111" />
<circle cx="481.97" cy="571.52" r="0.75" fill="#111" />
<circle cx="483.29" cy="541.05" r="0.75" fill="#111" />
<circle cx="485.73" cy="541.61" r="0.75" fill="#111" />
<circle cx="482.46" cy="567.64" r="0.75" fill="#111" />
<circle cx="482.77" cy="544.67" r="0.75" fill="#111" />
<circle cx="479.85" cy="536.60" r="0.75" fill="#111" />
<circle cx="481.56" cy="572.09" r="0.75" fill="#111" />
<circle cx="480.44" cy="538.12" r="0.75" fill="#111" />
<circle cx="482.98" cy="542.50" r="0.75" fill="#111" />
<circle cx="480.94" cy="571.32" r="0.75" fill="#111" />
<circle cx="481.59" cy="566.86" r="0.75" fill="#111" />
<circle cx="484.14" cy="558.48" r="0.75" fill="#111" />
<circle cx="480.14" cy="567.77" r="0.75" fill="#111" />
<circle cx="484.89" cy="544.91" r="0.75" fill="#111" />
<circle cx="486.32" cy="556.73" r="0.75" fill="#111" />
<circle cx="484.91" cy="559.72" r="0.75" fill="#111" />
<circle cx="484.36" cy="558.64" r="0.75" fill="#111" />
<circle cx="484.74" cy="567.10" r="0.75" fill="#111" />
<circle cx="484.91" cy="562.57" r="0.75" fill="#111" />
<circle cx="484.32" cy="545.14" r="0.75" fill="#111" />
<circle cx="484.21" cy="546.85" r="0.75" fill="#111" />
<circle cx="478.43" cy="535.15" r="0.75" fill="#111" />
<circle cx="486.05" cy="544.26" r="0.75" fill="#111" />
<circle cx="485.80" cy="549.98" r="0.75" fill="#111" />
<rect x="479.60" y="523.40" width="45.40" height="53.70" fill="none" stroke="#222" stroke-width="0.7" />
<text x="502.30" y="517.40" font-size="3.9" fill="#444" text-anchor="middle">Cells S phase (EdU<tspan font-size="2.6" dy="-1.2">+</tspan><tspan dy="1.2">) (%)</tspan></text>
<text x="501.30" y="522.78" font-size="4.4" fill="#444" text-anchor="middle">2.67</text>
<text x="490.20" y="506.36" font-size="7.4" fill="#3a3a3a" text-anchor="middle" textLength="26.10" lengthAdjust="spacingAndGlyphs">10 days</text>
<text x="276.90" y="551.86" font-size="7.4" fill="#3a3a3a" text-anchor="middle" textLength="21.00" lengthAdjust="spacingAndGlyphs" transform="rotate(-90 276.90 549.20)">FSC-H</text>
<text x="283.90" y="598.66" font-size="7.4" fill="#3a3a3a" textLength="28.10" lengthAdjust="spacingAndGlyphs">EdU::BL1</text>
<line x1="318.00" y1="595.70" x2="524.00" y2="595.70" stroke="#666" stroke-width="1.0" />
<path d="M528.40,595.70 L524.40,597.62 L524.40,593.78 Z" fill="#444"/>
<line x1="559.00" y1="515.50" x2="559.00" y2="589.30" stroke="#6b6b6b" stroke-width="0.8" />
<line x1="559.00" y1="589.30" x2="665.80" y2="589.30" stroke="#6b6b6b" stroke-width="0.8" />
<line x1="555.40" y1="589.30" x2="559.00" y2="589.30" stroke="#6b6b6b" stroke-width="0.8" />
<text x="553.80" y="591.60" font-size="6.4" fill="#444" text-anchor="end">0</text>
<line x1="555.40" y1="564.70" x2="559.00" y2="564.70" stroke="#6b6b6b" stroke-width="0.8" />
<text x="553.80" y="567.00" font-size="6.4" fill="#444" text-anchor="end">5</text>
<line x1="555.40" y1="540.10" x2="559.00" y2="540.10" stroke="#6b6b6b" stroke-width="0.8" />
<text x="553.80" y="542.40" font-size="6.4" fill="#444" text-anchor="end">10</text>
<line x1="555.40" y1="515.50" x2="559.00" y2="515.50" stroke="#6b6b6b" stroke-width="0.8" />
<text x="553.80" y="517.80" font-size="6.4" fill="#444" text-anchor="end">15</text>
<line x1="583.65" y1="540.10" x2="583.65" y2="535.18" stroke="#222" stroke-width="0.7" />
<line x1="578.15" y1="535.18" x2="589.15" y2="535.18" stroke="#222" stroke-width="0.7" />
<rect x="572.30" y="540.10" width="22.70" height="49.20" fill="#8a8b8d" stroke="#333" stroke-width="0.6" />
<line x1="613.05" y1="559.29" x2="613.05" y2="557.81" stroke="#222" stroke-width="0.7" />
<line x1="607.55" y1="557.81" x2="618.55" y2="557.81" stroke="#222" stroke-width="0.7" />
<rect x="601.70" y="559.29" width="22.70" height="30.01" fill="#ebcd7d" stroke="#333" stroke-width="0.6" />
<line x1="642.00" y1="572.82" x2="642.00" y2="565.93" stroke="#222" stroke-width="0.7" />
<line x1="636.50" y1="565.93" x2="647.50" y2="565.93" stroke="#222" stroke-width="0.7" />
<rect x="630.70" y="572.82" width="22.60" height="16.48" fill="#a87b35" stroke="#333" stroke-width="0.6" />
<circle cx="578.20" cy="534.80" r="2.30" fill="#8a8b8d" stroke="#333" stroke-width="0.5" />
<circle cx="588.40" cy="536.60" r="2.30" fill="#8a8b8d" stroke="#333" stroke-width="0.5" />
<circle cx="583.20" cy="547.20" r="2.30" fill="#8a8b8d" stroke="#333" stroke-width="0.5" />
<circle cx="607.60" cy="555.80" r="2.30" fill="#ebcd7d" stroke="#333" stroke-width="0.5" />
<circle cx="617.60" cy="558.80" r="2.30" fill="#ebcd7d" stroke="#333" stroke-width="0.5" />
<circle cx="607.60" cy="562.10" r="2.30" fill="#ebcd7d" stroke="#333" stroke-width="0.5" />
<circle cx="641.80" cy="559.90" r="2.30" fill="#a87b35" stroke="#333" stroke-width="0.5" />
<circle cx="647.00" cy="576.20" r="2.30" fill="#a87b35" stroke="#333" stroke-width="0.5" />
<circle cx="637.00" cy="580.70" r="2.30" fill="#a87b35" stroke="#333" stroke-width="0.5" />
<line x1="583.20" y1="516.90" x2="642.00" y2="516.90" stroke="#444" stroke-width="0.8" />
<text x="612.60" y="515.70" font-size="6.2" textLength="30.1" lengthAdjust="spacingAndGlyphs" fill="#333" text-anchor="middle"><tspan font-style="italic">P</tspan> = 0.0045</text>
<line x1="583.20" y1="527.50" x2="612.60" y2="527.50" stroke="#444" stroke-width="0.8" />
<text x="597.90" y="525.90" font-size="6.2" textLength="30.1" lengthAdjust="spacingAndGlyphs" fill="#333" text-anchor="middle"><tspan font-style="italic">P</tspan> = 0.0466</text>
<line x1="612.60" y1="540.00" x2="642.00" y2="540.00" stroke="#444" stroke-width="0.8" />
<text x="627.30" y="537.20" font-size="6.2" textLength="27.2" lengthAdjust="spacingAndGlyphs" fill="#333" text-anchor="middle"><tspan font-style="italic">P</tspan> = 0.1617</text>
<text x="539.5" y="552.4" font-size="7" fill="#3a3a3a" text-anchor="middle" transform="rotate(-90 539.5 552.4)" dy="2.5">Cells EdU<tspan font-size="4.6" dy="-2.8">+</tspan><tspan dy="2.8"> (%)</tspan></text>
<text x="545.80" y="599.78" font-size="6.6" fill="#3a3a3a" textLength="17.50" lengthAdjust="spacingAndGlyphs">Days:</text>
<line x1="583.20" y1="589.30" x2="583.20" y2="591.80" stroke="#6b6b6b" stroke-width="0.7" />
<text x="583.20" y="599.70" font-size="6.4" fill="#333" text-anchor="middle">0</text>
<line x1="612.60" y1="589.30" x2="612.60" y2="591.80" stroke="#6b6b6b" stroke-width="0.7" />
<text x="612.60" y="599.70" font-size="6.4" fill="#333" text-anchor="middle">3</text>
<line x1="642.00" y1="589.30" x2="642.00" y2="591.80" stroke="#6b6b6b" stroke-width="0.7" />
<text x="642.00" y="599.70" font-size="6.4" fill="#333" text-anchor="middle">10</text>
<text x="3.0" y="621.0" font-size="13.5" font-weight="bold" fill="#111" stroke="#111" stroke-width="0.35">i</text>
<text x="15.50" y="686.22" font-size="7.0" fill="#3a3a3a" text-anchor="middle" textLength="105.00" lengthAdjust="spacingAndGlyphs" transform="rotate(-90 15.50 683.70)">Relative mRNA transcript levels</text>
<text x="24.80" y="686.32" font-size="7.0" fill="#3a3a3a" text-anchor="middle" textLength="65.50" lengthAdjust="spacingAndGlyphs" transform="rotate(-90 24.80 683.80)">(relative to control)</text>
<line x1="42.40" y1="632.40" x2="42.40" y2="734.20" stroke="#6b6b6b" stroke-width="0.8" />
<line x1="42.40" y1="734.20" x2="123.20" y2="734.20" stroke="#6b6b6b" stroke-width="0.8" />
<line x1="38.80" y1="734.20" x2="42.40" y2="734.20" stroke="#6b6b6b" stroke-width="0.8" />
<text x="36.80" y="736.43" font-size="6.2" fill="#444" text-anchor="end">0</text>
<line x1="38.80" y1="708.75" x2="42.40" y2="708.75" stroke="#6b6b6b" stroke-width="0.8" />
<text x="36.80" y="710.98" font-size="6.2" fill="#444" text-anchor="end">1</text>
<line x1="38.80" y1="683.30" x2="42.40" y2="683.30" stroke="#6b6b6b" stroke-width="0.8" />
<text x="36.80" y="685.53" font-size="6.2" fill="#444" text-anchor="end">2</text>
<line x1="38.80" y1="657.85" x2="42.40" y2="657.85" stroke="#6b6b6b" stroke-width="0.8" />
<text x="36.80" y="660.08" font-size="6.2" fill="#444" text-anchor="end">3</text>
<line x1="38.80" y1="632.40" x2="42.40" y2="632.40" stroke="#6b6b6b" stroke-width="0.8" />
<text x="36.80" y="634.63" font-size="6.2" fill="#444" text-anchor="end">4</text>
<rect x="54.30" y="709.26" width="22.70" height="24.94" fill="#87888b" stroke="#3a3a3a" stroke-width="0.6" />
<rect x="89.40" y="680.25" width="22.60" height="53.95" fill="#a8803c" stroke="#3a3a3a" stroke-width="0.6" />
<line x1="65.65" y1="698.32" x2="100.70" y2="679.23" stroke="#333" stroke-width="0.6" />
<line x1="65.65" y1="709.51" x2="100.70" y2="660.39" stroke="#333" stroke-width="0.6" />
<line x1="65.65" y1="710.02" x2="100.70" y2="682.54" stroke="#333" stroke-width="0.6" />
<line x1="65.65" y1="710.02" x2="100.70" y2="697.30" stroke="#333" stroke-width="0.6" />
<circle cx="65.65" cy="698.32" r="3.30" fill="#8c8d90" stroke="#333" stroke-width="0.6" />
<circle cx="65.65" cy="709.51" r="3.30" fill="#8c8d90" stroke="#333" stroke-width="0.6" />
<circle cx="65.65" cy="710.02" r="3.30" fill="#8c8d90" stroke="#333" stroke-width="0.6" />
<circle cx="65.65" cy="717.66" r="3.30" fill="#8c8d90" stroke="#333" stroke-width="0.6" />
<circle cx="100.70" cy="660.39" r="3.30" fill="#a8803c" stroke="#333" stroke-width="0.6" />
<circle cx="100.70" cy="679.23" r="3.30" fill="#a8803c" stroke="#333" stroke-width="0.6" />
<circle cx="100.70" cy="682.54" r="3.30" fill="#a8803c" stroke="#333" stroke-width="0.6" />
<circle cx="100.70" cy="697.30" r="3.30" fill="#a8803c" stroke="#333" stroke-width="0.6" />
<text x="83.20" y="622.99" font-size="7.2" fill="#222" text-anchor="middle" font-style="italic">Cdkn1a</text>
<line x1="65.90" y1="641.00" x2="100.50" y2="641.00" stroke="#555" stroke-width="0.8" />
<text x="83.20" y="639.90" font-size="6.2" textLength="31" lengthAdjust="spacingAndGlyphs" fill="#333" text-anchor="middle"><tspan font-style="italic">P</tspan> = 0.0602</text>
<line x1="65.65" y1="734.20" x2="65.65" y2="737.20" stroke="#6b6b6b" stroke-width="0.7" />
<text x="68.65" y="745.20" font-size="7.5" textLength="25.0" lengthAdjust="spacingAndGlyphs" fill="#3a3a3a" text-anchor="end" transform="rotate(-45 68.65 745.20)">Control</text>
<line x1="100.70" y1="734.20" x2="100.70" y2="737.20" stroke="#6b6b6b" stroke-width="0.7" />
<text x="103.70" y="745.20" font-size="7.5" textLength="39.5" lengthAdjust="spacingAndGlyphs" fill="#3a3a3a" text-anchor="end" transform="rotate(-45 103.70 745.20)">10 d Ac-LDL</text>
<line x1="150.70" y1="631.40" x2="150.70" y2="733.60" stroke="#6b6b6b" stroke-width="0.8" />
<line x1="150.70" y1="733.60" x2="231.30" y2="733.60" stroke="#6b6b6b" stroke-width="0.8" />
<line x1="147.10" y1="733.60" x2="150.70" y2="733.60" stroke="#6b6b6b" stroke-width="0.8" />
<text x="145.10" y="735.83" font-size="6.2" fill="#444" text-anchor="end">0</text>
<line x1="147.10" y1="708.05" x2="150.70" y2="708.05" stroke="#6b6b6b" stroke-width="0.8" />
<text x="145.10" y="710.28" font-size="6.2" fill="#444" text-anchor="end">1</text>
<line x1="147.10" y1="682.50" x2="150.70" y2="682.50" stroke="#6b6b6b" stroke-width="0.8" />
<text x="145.10" y="684.73" font-size="6.2" fill="#444" text-anchor="end">2</text>
<line x1="147.10" y1="656.95" x2="150.70" y2="656.95" stroke="#6b6b6b" stroke-width="0.8" />
<text x="145.10" y="659.18" font-size="6.2" fill="#444" text-anchor="end">3</text>
<line x1="147.10" y1="631.40" x2="150.70" y2="631.40" stroke="#6b6b6b" stroke-width="0.8" />
<text x="145.10" y="633.63" font-size="6.2" fill="#444" text-anchor="end">4</text>
<rect x="162.20" y="708.05" width="22.50" height="25.55" fill="#87888b" stroke="#3a3a3a" stroke-width="0.6" />
<rect x="197.30" y="711.37" width="22.40" height="22.23" fill="#a8803c" stroke="#3a3a3a" stroke-width="0.6" />
<line x1="173.45" y1="704.98" x2="208.50" y2="717.25" stroke="#333" stroke-width="0.6" />
<line x1="173.45" y1="710.09" x2="208.50" y2="696.04" stroke="#333" stroke-width="0.6" />
<line x1="173.45" y1="708.05" x2="208.50" y2="700.13" stroke="#333" stroke-width="0.6" />
<line x1="173.45" y1="709.33" x2="208.50" y2="731.56" stroke="#333" stroke-width="0.6" />
<circle cx="173.45" cy="704.98" r="3.30" fill="#8c8d90" stroke="#333" stroke-width="0.6" />
<circle cx="173.45" cy="710.09" r="3.30" fill="#8c8d90" stroke="#333" stroke-width="0.6" />
<circle cx="173.45" cy="708.05" r="3.30" fill="#8c8d90" stroke="#333" stroke-width="0.6" />
<circle cx="173.45" cy="709.33" r="3.30" fill="#8c8d90" stroke="#333" stroke-width="0.6" />
<circle cx="208.50" cy="696.04" r="3.30" fill="#a8803c" stroke="#333" stroke-width="0.6" />
<circle cx="208.50" cy="700.13" r="3.30" fill="#a8803c" stroke="#333" stroke-width="0.6" />
<circle cx="208.50" cy="717.25" r="3.30" fill="#a8803c" stroke="#333" stroke-width="0.6" />
<circle cx="208.50" cy="731.56" r="3.30" fill="#a8803c" stroke="#333" stroke-width="0.6" />
<text x="191.00" y="621.39" font-size="7.2" fill="#222" text-anchor="middle" font-style="italic">Cdkn2a</text>
<line x1="171.70" y1="639.50" x2="206.70" y2="639.50" stroke="#555" stroke-width="0.8" />
<text x="189.20" y="637.50" font-size="6.2" textLength="31" lengthAdjust="spacingAndGlyphs" fill="#333" text-anchor="middle"><tspan font-style="italic">P</tspan> = 0.7677</text>
<line x1="173.45" y1="733.60" x2="173.45" y2="736.60" stroke="#6b6b6b" stroke-width="0.7" />
<text x="176.45" y="744.60" font-size="7.5" textLength="25.0" lengthAdjust="spacingAndGlyphs" fill="#3a3a3a" text-anchor="end" transform="rotate(-45 176.45 744.60)">Control</text>
<line x1="208.50" y1="733.60" x2="208.50" y2="736.60" stroke="#6b6b6b" stroke-width="0.7" />
<text x="211.50" y="744.60" font-size="7.5" textLength="39.5" lengthAdjust="spacingAndGlyphs" fill="#3a3a3a" text-anchor="end" transform="rotate(-45 211.50 744.60)">10 d Ac-LDL</text>
<line x1="260.80" y1="632.90" x2="260.80" y2="734.40" stroke="#6b6b6b" stroke-width="0.8" />
<line x1="260.80" y1="734.40" x2="340.70" y2="734.40" stroke="#6b6b6b" stroke-width="0.8" />
<line x1="257.20" y1="734.40" x2="260.80" y2="734.40" stroke="#6b6b6b" stroke-width="0.8" />
<text x="255.20" y="736.63" font-size="6.2" fill="#444" text-anchor="end">0</text>
<line x1="257.20" y1="714.10" x2="260.80" y2="714.10" stroke="#6b6b6b" stroke-width="0.8" />
<text x="255.20" y="716.33" font-size="6.2" fill="#444" text-anchor="end">1</text>
<line x1="257.20" y1="693.80" x2="260.80" y2="693.80" stroke="#6b6b6b" stroke-width="0.8" />
<text x="255.20" y="696.03" font-size="6.2" fill="#444" text-anchor="end">2</text>
<line x1="257.20" y1="673.50" x2="260.80" y2="673.50" stroke="#6b6b6b" stroke-width="0.8" />
<text x="255.20" y="675.73" font-size="6.2" fill="#444" text-anchor="end">3</text>
<line x1="257.20" y1="653.20" x2="260.80" y2="653.20" stroke="#6b6b6b" stroke-width="0.8" />
<text x="255.20" y="655.43" font-size="6.2" fill="#444" text-anchor="end">4</text>
<line x1="257.20" y1="632.90" x2="260.80" y2="632.90" stroke="#6b6b6b" stroke-width="0.8" />
<text x="255.20" y="635.13" font-size="6.2" fill="#444" text-anchor="end">5</text>
<rect x="271.90" y="714.30" width="22.80" height="20.10" fill="#87888b" stroke="#3a3a3a" stroke-width="0.6" />
<rect x="307.20" y="682.23" width="22.80" height="52.17" fill="#a8803c" stroke="#3a3a3a" stroke-width="0.6" />
<line x1="283.30" y1="713.08" x2="318.60" y2="654.21" stroke="#333" stroke-width="0.6" />
<line x1="283.30" y1="714.51" x2="318.60" y2="675.53" stroke="#333" stroke-width="0.6" />
<line x1="283.30" y1="715.12" x2="318.60" y2="686.69" stroke="#333" stroke-width="0.6" />
<line x1="283.30" y1="714.10" x2="318.60" y2="712.48" stroke="#333" stroke-width="0.6" />
<circle cx="283.30" cy="713.08" r="3.30" fill="#8c8d90" stroke="#333" stroke-width="0.6" />
<circle cx="283.30" cy="714.51" r="3.30" fill="#8c8d90" stroke="#333" stroke-width="0.6" />
<circle cx="283.30" cy="715.12" r="3.30" fill="#8c8d90" stroke="#333" stroke-width="0.6" />
<circle cx="283.30" cy="714.10" r="3.30" fill="#8c8d90" stroke="#333" stroke-width="0.6" />
<circle cx="318.60" cy="654.21" r="3.30" fill="#a8803c" stroke="#333" stroke-width="0.6" />
<circle cx="318.60" cy="675.53" r="3.30" fill="#a8803c" stroke="#333" stroke-width="0.6" />
<circle cx="318.60" cy="686.69" r="3.30" fill="#a8803c" stroke="#333" stroke-width="0.6" />
<circle cx="318.60" cy="712.48" r="3.30" fill="#a8803c" stroke="#333" stroke-width="0.6" />
<text x="298.80" y="620.29" font-size="7.2" fill="#222" text-anchor="middle" font-style="italic">Trem2</text>
<line x1="283.00" y1="634.30" x2="318.20" y2="634.30" stroke="#555" stroke-width="0.8" />
<text x="300.60" y="631.80" font-size="6.2" textLength="31" lengthAdjust="spacingAndGlyphs" fill="#333" text-anchor="middle"><tspan font-style="italic">P</tspan> = 0.0780</text>
<line x1="283.30" y1="734.40" x2="283.30" y2="737.40" stroke="#6b6b6b" stroke-width="0.7" />
<text x="286.30" y="745.40" font-size="7.5" textLength="25.0" lengthAdjust="spacingAndGlyphs" fill="#3a3a3a" text-anchor="end" transform="rotate(-45 286.30 745.40)">Control</text>
<line x1="318.60" y1="734.40" x2="318.60" y2="737.40" stroke="#6b6b6b" stroke-width="0.7" />
<text x="321.60" y="745.40" font-size="7.5" textLength="39.5" lengthAdjust="spacingAndGlyphs" fill="#3a3a3a" text-anchor="end" transform="rotate(-45 321.60 745.40)">10 d Ac-LDL</text>
<line x1="363.20" y1="632.00" x2="363.20" y2="733.70" stroke="#6b6b6b" stroke-width="0.8" />
<line x1="363.20" y1="733.70" x2="434.10" y2="733.70" stroke="#6b6b6b" stroke-width="0.8" />
<line x1="359.60" y1="733.70" x2="363.20" y2="733.70" stroke="#6b6b6b" stroke-width="0.8" />
<text x="357.60" y="735.93" font-size="6.2" fill="#444" text-anchor="end">0</text>
<line x1="359.60" y1="708.28" x2="363.20" y2="708.28" stroke="#6b6b6b" stroke-width="0.8" />
<text x="357.60" y="710.51" font-size="6.2" fill="#444" text-anchor="end">1</text>
<line x1="359.60" y1="682.85" x2="363.20" y2="682.85" stroke="#6b6b6b" stroke-width="0.8" />
<text x="357.60" y="685.08" font-size="6.2" fill="#444" text-anchor="end">2</text>
<line x1="359.60" y1="657.42" x2="363.20" y2="657.42" stroke="#6b6b6b" stroke-width="0.8" />
<text x="357.60" y="659.66" font-size="6.2" fill="#444" text-anchor="end">3</text>
<line x1="359.60" y1="632.00" x2="363.20" y2="632.00" stroke="#6b6b6b" stroke-width="0.8" />
<text x="357.60" y="634.23" font-size="6.2" fill="#444" text-anchor="end">4</text>
<rect x="374.30" y="709.04" width="22.50" height="24.66" fill="#87888b" stroke="#3a3a3a" stroke-width="0.6" />
<rect x="409.60" y="667.09" width="22.50" height="66.61" fill="#a8803c" stroke="#3a3a3a" stroke-width="0.6" />
<line x1="385.55" y1="707.00" x2="420.85" y2="652.34" stroke="#333" stroke-width="0.6" />
<line x1="385.55" y1="708.78" x2="420.85" y2="656.15" stroke="#333" stroke-width="0.6" />
<line x1="385.55" y1="710.31" x2="420.85" y2="661.24" stroke="#333" stroke-width="0.6" />
<line x1="385.55" y1="708.28" x2="420.85" y2="695.56" stroke="#333" stroke-width="0.6" />
<circle cx="385.55" cy="707.00" r="3.30" fill="#8c8d90" stroke="#333" stroke-width="0.6" />
<circle cx="385.55" cy="708.78" r="3.30" fill="#8c8d90" stroke="#333" stroke-width="0.6" />
<circle cx="385.55" cy="710.31" r="3.30" fill="#8c8d90" stroke="#333" stroke-width="0.6" />
<circle cx="385.55" cy="708.28" r="3.30" fill="#8c8d90" stroke="#333" stroke-width="0.6" />
<circle cx="420.85" cy="652.34" r="3.30" fill="#a8803c" stroke="#333" stroke-width="0.6" />
<circle cx="420.85" cy="656.15" r="3.30" fill="#a8803c" stroke="#333" stroke-width="0.6" />
<circle cx="420.85" cy="661.24" r="3.30" fill="#a8803c" stroke="#333" stroke-width="0.6" />
<circle cx="420.85" cy="695.56" r="3.30" fill="#a8803c" stroke="#333" stroke-width="0.6" />
<text x="400.50" y="620.29" font-size="7.2" fill="#222" text-anchor="middle" font-style="italic">Gdf15</text>
<line x1="385.40" y1="633.30" x2="420.30" y2="633.30" stroke="#555" stroke-width="0.8" />
<text x="402.85" y="630.80" font-size="6.2" textLength="31" lengthAdjust="spacingAndGlyphs" fill="#333" text-anchor="middle"><tspan font-style="italic">P</tspan> = 0.0244</text>
<line x1="385.55" y1="733.70" x2="385.55" y2="736.70" stroke="#6b6b6b" stroke-width="0.7" />
<text x="388.55" y="744.70" font-size="7.5" textLength="25.0" lengthAdjust="spacingAndGlyphs" fill="#3a3a3a" text-anchor="end" transform="rotate(-45 388.55 744.70)">Control</text>
<line x1="420.85" y1="733.70" x2="420.85" y2="736.70" stroke="#6b6b6b" stroke-width="0.7" />
<text x="423.85" y="744.70" font-size="7.5" textLength="39.5" lengthAdjust="spacingAndGlyphs" fill="#3a3a3a" text-anchor="end" transform="rotate(-45 423.85 744.70)">10 d Ac-LDL</text>
<line x1="468.40" y1="631.90" x2="468.40" y2="733.30" stroke="#6b6b6b" stroke-width="0.8" />
<line x1="468.40" y1="733.30" x2="549.00" y2="733.30" stroke="#6b6b6b" stroke-width="0.8" />
<line x1="464.80" y1="733.30" x2="468.40" y2="733.30" stroke="#6b6b6b" stroke-width="0.8" />
<text x="462.80" y="735.53" font-size="6.2" fill="#444" text-anchor="end">0</text>
<line x1="464.80" y1="713.02" x2="468.40" y2="713.02" stroke="#6b6b6b" stroke-width="0.8" />
<text x="462.80" y="715.25" font-size="6.2" fill="#444" text-anchor="end">1</text>
<line x1="464.80" y1="692.74" x2="468.40" y2="692.74" stroke="#6b6b6b" stroke-width="0.8" />
<text x="462.80" y="694.97" font-size="6.2" fill="#444" text-anchor="end">2</text>
<line x1="464.80" y1="672.46" x2="468.40" y2="672.46" stroke="#6b6b6b" stroke-width="0.8" />
<text x="462.80" y="674.69" font-size="6.2" fill="#444" text-anchor="end">3</text>
<line x1="464.80" y1="652.18" x2="468.40" y2="652.18" stroke="#6b6b6b" stroke-width="0.8" />
<text x="462.80" y="654.41" font-size="6.2" fill="#444" text-anchor="end">4</text>
<line x1="464.80" y1="631.90" x2="468.40" y2="631.90" stroke="#6b6b6b" stroke-width="0.8" />
<text x="462.80" y="634.13" font-size="6.2" fill="#444" text-anchor="end">5</text>
<rect x="480.20" y="713.63" width="22.80" height="19.67" fill="#87888b" stroke="#3a3a3a" stroke-width="0.6" />
<rect x="515.40" y="679.56" width="22.60" height="53.74" fill="#a8803c" stroke="#3a3a3a" stroke-width="0.6" />
<line x1="491.60" y1="710.99" x2="526.70" y2="650.56" stroke="#333" stroke-width="0.6" />
<line x1="491.60" y1="713.43" x2="526.70" y2="681.59" stroke="#333" stroke-width="0.6" />
<line x1="491.60" y1="714.64" x2="526.70" y2="691.73" stroke="#333" stroke-width="0.6" />
<line x1="491.60" y1="713.02" x2="526.70" y2="693.35" stroke="#333" stroke-width="0.6" />
<circle cx="491.60" cy="710.99" r="3.30" fill="#8c8d90" stroke="#333" stroke-width="0.6" />
<circle cx="491.60" cy="713.43" r="3.30" fill="#8c8d90" stroke="#333" stroke-width="0.6" />
<circle cx="491.60" cy="714.64" r="3.30" fill="#8c8d90" stroke="#333" stroke-width="0.6" />
<circle cx="491.60" cy="713.02" r="3.30" fill="#8c8d90" stroke="#333" stroke-width="0.6" />
<circle cx="526.70" cy="650.56" r="3.30" fill="#a8803c" stroke="#333" stroke-width="0.6" />
<circle cx="526.70" cy="681.59" r="3.30" fill="#a8803c" stroke="#333" stroke-width="0.6" />
<circle cx="526.70" cy="691.73" r="3.30" fill="#a8803c" stroke="#333" stroke-width="0.6" />
<circle cx="526.70" cy="693.35" r="3.30" fill="#a8803c" stroke="#333" stroke-width="0.6" />
<text x="509.70" y="620.29" font-size="7.2" fill="#222" text-anchor="middle" font-style="italic">Mmp9</text>
<line x1="491.90" y1="630.30" x2="526.50" y2="630.30" stroke="#555" stroke-width="0.8" />
<text x="509.20" y="628.40" font-size="6.2" textLength="31" lengthAdjust="spacingAndGlyphs" fill="#333" text-anchor="middle"><tspan font-style="italic">P</tspan> = 0.0479</text>
<line x1="491.60" y1="733.30" x2="491.60" y2="736.30" stroke="#6b6b6b" stroke-width="0.7" />
<text x="494.60" y="744.30" font-size="7.5" textLength="25.0" lengthAdjust="spacingAndGlyphs" fill="#3a3a3a" text-anchor="end" transform="rotate(-45 494.60 744.30)">Control</text>
<line x1="526.70" y1="733.30" x2="526.70" y2="736.30" stroke="#6b6b6b" stroke-width="0.7" />
<text x="529.70" y="744.30" font-size="7.5" textLength="39.5" lengthAdjust="spacingAndGlyphs" fill="#3a3a3a" text-anchor="end" transform="rotate(-45 529.70 744.30)">10 d Ac-LDL</text>
<line x1="573.20" y1="632.60" x2="573.20" y2="733.70" stroke="#6b6b6b" stroke-width="0.8" />
<line x1="573.20" y1="733.70" x2="655.50" y2="733.70" stroke="#6b6b6b" stroke-width="0.8" />
<line x1="569.60" y1="733.70" x2="573.20" y2="733.70" stroke="#6b6b6b" stroke-width="0.8" />
<text x="567.60" y="735.93" font-size="6.2" fill="#444" text-anchor="end">0</text>
<line x1="569.60" y1="700.00" x2="573.20" y2="700.00" stroke="#6b6b6b" stroke-width="0.8" />
<text x="567.60" y="702.23" font-size="6.2" fill="#444" text-anchor="end">5</text>
<line x1="569.60" y1="666.30" x2="573.20" y2="666.30" stroke="#6b6b6b" stroke-width="0.8" />
<text x="567.60" y="668.53" font-size="6.2" fill="#444" text-anchor="end">10</text>
<line x1="569.60" y1="632.60" x2="573.20" y2="632.60" stroke="#6b6b6b" stroke-width="0.8" />
<text x="567.60" y="634.83" font-size="6.2" fill="#444" text-anchor="end">15</text>
<rect x="585.00" y="728.31" width="22.80" height="5.39" fill="#87888b" stroke="#3a3a3a" stroke-width="0.6" />
<rect x="620.50" y="682.48" width="22.50" height="51.22" fill="#a8803c" stroke="#3a3a3a" stroke-width="0.6" />
<line x1="596.40" y1="725.61" x2="631.75" y2="656.53" stroke="#333" stroke-width="0.6" />
<line x1="596.40" y1="727.63" x2="631.75" y2="678.43" stroke="#333" stroke-width="0.6" />
<line x1="596.40" y1="728.98" x2="631.75" y2="684.50" stroke="#333" stroke-width="0.6" />
<line x1="596.40" y1="726.96" x2="631.75" y2="707.41" stroke="#333" stroke-width="0.6" />
<circle cx="596.40" cy="725.61" r="3.30" fill="#8c8d90" stroke="#333" stroke-width="0.6" />
<circle cx="596.40" cy="727.63" r="3.30" fill="#8c8d90" stroke="#333" stroke-width="0.6" />
<circle cx="596.40" cy="728.98" r="3.30" fill="#8c8d90" stroke="#333" stroke-width="0.6" />
<circle cx="596.40" cy="726.96" r="3.30" fill="#8c8d90" stroke="#333" stroke-width="0.6" />
<circle cx="631.75" cy="656.53" r="3.30" fill="#a8803c" stroke="#333" stroke-width="0.6" />
<circle cx="631.75" cy="678.43" r="3.30" fill="#a8803c" stroke="#333" stroke-width="0.6" />
<circle cx="631.75" cy="684.50" r="3.30" fill="#a8803c" stroke="#333" stroke-width="0.6" />
<circle cx="631.75" cy="707.41" r="3.30" fill="#a8803c" stroke="#333" stroke-width="0.6" />
<text x="615.50" y="620.29" font-size="7.2" fill="#222" text-anchor="middle" font-style="italic">Mmp12</text>
<line x1="596.70" y1="637.00" x2="632.00" y2="637.00" stroke="#555" stroke-width="0.8" />
<text x="614.35" y="633.50" font-size="6.2" textLength="31" lengthAdjust="spacingAndGlyphs" fill="#333" text-anchor="middle"><tspan font-style="italic">P</tspan> = 0.0231</text>
<line x1="596.40" y1="733.70" x2="596.40" y2="736.70" stroke="#6b6b6b" stroke-width="0.7" />
<text x="599.40" y="744.70" font-size="7.5" textLength="25.0" lengthAdjust="spacingAndGlyphs" fill="#3a3a3a" text-anchor="end" transform="rotate(-45 599.40 744.70)">Control</text>
<line x1="631.75" y1="733.70" x2="631.75" y2="736.70" stroke="#6b6b6b" stroke-width="0.7" />
<text x="634.75" y="744.70" font-size="7.5" textLength="39.5" lengthAdjust="spacingAndGlyphs" fill="#3a3a3a" text-anchor="end" transform="rotate(-45 634.75 744.70)">10 d Ac-LDL</text>
</svg>
</body></html>
